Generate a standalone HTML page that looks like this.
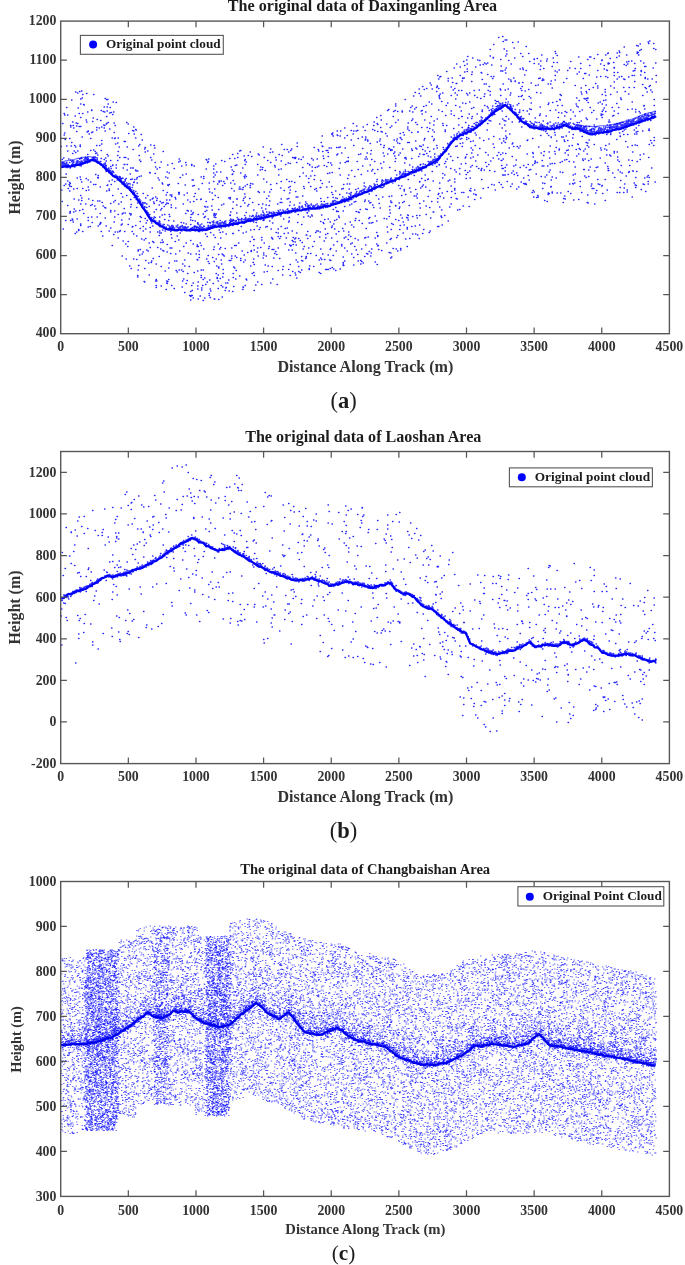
<!DOCTYPE html>
<html><head><meta charset="utf-8"><style>
html,body{margin:0;padding:0;background:#fff}
body{width:685px;height:1265px;overflow:hidden}
svg{display:block}
</style></head><body>
<svg width="685" height="1265" viewBox="0 0 685 1265" style="will-change:transform">
<style>
.tk{font:bold 13.8px "Liberation Serif",serif;fill:#333333}
.tt{font:bold 16px "Liberation Serif",serif;fill:#1c1c1c}
.al{font:bold 16px "Liberation Serif",serif;fill:#333333}
.lg{font:bold 13.2px "Liberation Serif",serif;fill:#1c1c1c}
.cap{font:bold 19px "Liberation Serif",serif;fill:#1c1c1c}
.par{font-weight:normal}
</style>
<path transform="scale(0.5)" d="M275 406h1M838 187h1M298 550h1M206 223h1M1251 283h1M561 432h1M911 211h1M286 504h1M920 278h1M1094 267h1M1289 145h1M781 359h1M542 458h1M402 551h1M1154 148h1M678 337h1M221 456h1M634 318h1M923 181h1M1195 172h1M161 235h1M533 424h1M1200 316h1M526 294h1M312 575h1M669 458h1M187 189h1M1129 283h1M489 388h1M228 246h1M151 422h1M677 295h1M1002 132h1M195 355h1M1188 117h1M1080 156h1M232 205h1M470 512h1M709 493h1M380 404h1M429 598h1M1242 199h1M641 361h1M1010 80h1M202 301h1M414 564h1M1005 238h1M909 340h1M1051 367h1M300 464h1M293 408h1M1058 360h1M1025 85h1M550 334h1M1311 126h1M413 421h1M194 434h1M879 197h1M715 261h1M849 240h1M168 210h1M783 405h1M508 479h1M541 325h1M497 409h1M1208 138h1M224 360h1M1268 366h1M955 120h1M1082 306h1M293 415h1M181 411h1M977 329h1M1027 156h1M1062 166h1M286 387h1M714 323h1M843 357h1M407 498h1M547 499h1M467 534h1M616 432h1M923 277h1M428 598h1M236 303h1M775 221h1M306 517h1M1055 280h1M1195 334h1M477 486h1M527 506h1M580 327h1M1165 318h1M1008 241h1M1054 222h1M795 223h1M782 459h1M962 340h1M712 500h1M251 488h1M564 311h1M859 303h1M632 511h1M286 453h1M614 426h1M716 277h1M731 490h1M326 303h1M202 317h1M1282 99h1M1301 241h1M265 370h1M369 520h1M766 306h1M426 567h1M1034 210h1M604 485h1M1277 110h1M311 394h1M726 254h1M185 243h1M581 492h1M848 179h1M175 309h1M1163 385h1M556 541h1M1228 222h1M1010 180h1M305 452h1M225 391h1M1085 377h1M655 301h1M1196 368h1M1273 268h1M923 233h1M340 390h1M980 183h1M945 260h1M656 539h1M319 434h1M312 559h1M703 341h1M322 466h1M597 318h1M160 290h1M816 349h1M1193 381h1M1236 340h1M690 403h1M595 394h1M171 408h1M415 325h1M677 463h1M641 375h1M906 180h1M135 362h1M753 488h1M617 496h1M143 200h1M834 249h1M202 221h1M568 381h1M793 475h1M557 339h1M810 199h1M580 373h1M583 298h1M781 402h1M1014 363h1M544 477h1M648 331h1M1180 334h1M1244 346h1M1214 141h1M141 251h1M612 470h1M644 415h1M1028 96h1M929 131h1M418 527h1M935 236h1M472 541h1M449 323h1M416 323h1M1087 137h1M1281 150h1M486 466h1M489 406h1M246 336h1M152 246h1M1204 189h1M444 508h1M1173 201h1M570 488h1M1065 277h1M335 356h1M1024 288h1M1189 342h1M623 317h1M1182 318h1M808 403h1M580 380h1M807 344h1M966 377h1M1130 223h1M565 550h1M591 506h1M232 336h1M736 474h1M1166 157h1M856 358h1M302 525h1M781 506h1M344 457h1M507 479h1M846 328h1M508 438h1M565 539h1M671 396h1M430 391h1M1257 188h1M1155 288h1M1289 133h1M1242 331h1M798 417h1M982 219h1M877 220h1M147 378h1M686 514h1M436 550h1M1296 351h1M1270 137h1M318 360h1M552 320h1M301 290h1M1233 207h1M867 298h1M1006 318h1M578 435h1M238 294h1M387 403h1M508 459h1M518 385h1M1111 107h1M128 227h1M1152 299h1M988 370h1M381 583h1M411 468h1M932 357h1M417 455h1M176 262h1M1289 356h1M815 430h1M1196 206h1M1289 218h1M311 442h1M828 392h1M920 134h1M882 433h1M919 419h1M731 475h1M289 537h1M641 516h1M504 474h1M1129 320h1M860 462h1M227 224h1M778 505h1M939 204h1M250 359h1M693 386h1M859 246h1M1170 198h1M249 329h1M1235 145h1M452 575h1M536 532h1M176 435h1M404 367h1M1005 375h1M1264 321h1M1210 401h1M780 255h1M1133 225h1M494 440h1M163 182h1M436 488h1M1014 363h1M1096 386h1M879 377h1M821 215h1M195 402h1M363 540h1M674 262h1M790 341h1M210 262h1M487 397h1M963 146h1M649 439h1M1248 129h1M216 245h1M384 360h1M212 248h1M388 453h1M893 251h1M322 324h1M435 368h1M694 502h1M975 149h1M164 196h1M640 375h1M934 138h1M425 515h1M798 359h1M1195 141h1M354 472h1M795 502h1M1285 262h1M1025 286h1M280 443h1M486 401h1M308 291h1M1138 323h1M1017 158h1M619 329h1M839 431h1M1049 368h1M432 518h1M273 415h1M253 391h1M767 324h1M538 493h1M694 368h1M256 318h1M1130 398h1M566 533h1M1162 176h1M448 512h1M486 574h1M556 496h1M964 159h1M1152 208h1M253 245h1M660 444h1M445 554h1M440 557h1M161 253h1M312 419h1M539 402h1M1135 281h1M842 293h1M1084 251h1M1010 350h1M850 302h1M436 577h1M1032 320h1M385 441h1M1173 186h1M1091 263h1M382 422h1M213 382h1M987 89h1M481 521h1M360 466h1M1081 271h1M267 518h1M1011 242h1M518 459h1M588 316h1M267 262h1M325 368h1M878 330h1M825 433h1M235 321h1M216 312h1M216 208h1M246 336h1M1030 162h1M1005 142h1M464 442h1M211 316h1M816 440h1M189 412h1M800 377h1M183 434h1M452 468h1M763 501h1M838 477h1M398 509h1M808 353h1M869 327h1M523 475h1M221 333h1M661 326h1M798 406h1M271 341h1M196 355h1M219 258h1M655 395h1M161 451h1M396 493h1M386 488h1M542 379h1M686 422h1M834 388h1M441 344h1M423 412h1M845 299h1M492 324h1M832 215h1M737 437h1M863 208h1M545 558h1M230 401h1M641 443h1M590 317h1M791 208h1M1150 348h1M567 438h1M750 524h1M174 264h1M606 498h1M991 207h1M136 377h1M606 314h1M873 291h1M486 375h1M742 301h1M590 546h1M690 325h1M742 506h1M1153 312h1M1192 335h1M931 245h1M300 495h1M877 453h1M504 547h1M382 591h1M1307 97h1M508 581h1M1274 291h1M282 269h1M418 591h1M1080 228h1M1028 349h1M479 552h1M443 410h1M175 224h1M777 219h1M771 267h1M1013 108h1M368 390h1M815 436h1M1018 296h1M933 279h1M530 341h1M1150 232h1M896 157h1M551 315h1M544 499h1M528 486h1M268 364h1M610 421h1M394 519h1M1172 355h1M159 318h1M531 454h1M221 407h1M618 539h1M145 307h1M701 488h1M1022 128h1M488 510h1M621 352h1M1229 355h1M545 446h1M1228 164h1M1204 371h1M986 288h1M937 277h1M815 254h1M791 411h1M700 444h1M667 490h1M980 112h1M1037 166h1M219 226h1M507 444h1M515 350h1M1037 193h1M1162 184h1M943 217h1M1133 301h1M929 144h1M1016 178h1M1003 331h1M267 254h1M1024 368h1M1193 238h1M1114 111h1M191 349h1M750 476h1M400 450h1M1300 171h1M603 449h1M1306 136h1M944 233h1M599 353h1M676 423h1M589 424h1M879 414h1M790 323h1M1266 142h1M176 441h1M438 362h1M580 380h1M544 533h1M467 343h1M379 591h1M632 377h1M1047 367h1M729 476h1M437 419h1M808 270h1M449 367h1M434 557h1M1068 127h1M537 497h1M1145 276h1M987 153h1M1052 335h1M606 346h1M161 359h1M875 151h1M741 512h1M156 216h1M191 307h1M580 529h1M201 241h1M1238 102h1M430 431h1M122 293h1M839 363h1M846 370h1M853 177h1M901 313h1M381 435h1M405 571h1M454 358h1M1070 324h1M1136 310h1M618 411h1M783 392h1M1247 175h1M1036 84h1M348 577h1M421 465h1M1213 300h1M703 450h1M1286 368h1M338 346h1M465 348h1M1031 330h1M289 298h1M507 491h1M1039 220h1M882 432h1M1169 147h1M971 325h1M1202 231h1M308 424h1M562 398h1M1077 294h1M931 314h1M290 295h1M592 520h1M894 383h1M863 403h1M1307 291h1M1147 400h1M1003 321h1M215 199h1M1221 172h1M485 336h1M877 158h1M1073 185h1M1007 350h1M943 237h1M866 424h1M968 168h1M131 441h1M864 178h1M778 393h1M471 558h1M407 357h1M490 394h1M1174 308h1M267 365h1M244 428h1M1139 136h1M717 309h1M461 521h1M1285 169h1M768 312h1M196 356h1M307 485h1M1011 112h1M831 245h1M1030 163h1M943 306h1M806 265h1M1115 211h1M1039 224h1M655 467h1M527 510h1M651 476h1M952 390h1M608 377h1M1306 234h1M620 472h1M420 595h1M1019 268h1M469 536h1M1216 341h1M1208 131h1M1004 337h1M689 276h1M768 291h1M161 448h1M1112 295h1M1013 275h1M673 295h1M465 451h1M815 285h1M273 358h1M343 571h1M385 428h1M767 295h1M711 403h1M180 453h1M762 263h1M1291 133h1M988 226h1M428 427h1M695 357h1M416 438h1M640 464h1M357 324h1M1114 125h1M873 324h1M1282 143h1M1178 150h1M326 484h1M319 462h1M925 156h1M1062 219h1M1273 91h1M215 370h1M428 434h1M1204 208h1M183 220h1M783 447h1M1024 217h1M407 353h1M388 371h1M1202 228h1M261 430h1M666 272h1M1288 369h1M434 555h1M663 455h1M899 360h1M646 312h1M1079 231h1M648 482h1M938 413h1M584 462h1M222 225h1M425 399h1M653 333h1M1236 227h1M577 539h1M1069 327h1M1210 326h1M486 575h1M154 438h1M621 373h1M687 369h1M1146 350h1M1010 140h1M645 293h1M1006 83h1M593 325h1M1136 383h1M466 555h1M334 504h1M420 446h1M849 277h1M357 480h1M1067 394h1M505 368h1M213 247h1M153 252h1M986 116h1M891 231h1M394 455h1M641 397h1M262 409h1M1195 109h1M218 362h1M501 367h1M1298 173h1M1218 288h1M158 253h1M212 343h1M1203 121h1M155 186h1M447 363h1M1274 323h1M1240 273h1M1099 316h1M469 491h1M466 439h1M1101 168h1M330 542h1M673 310h1M500 375h1M1188 250h1M1217 244h1M1240 375h1M797 441h1M464 340h1M841 192h1M678 435h1M1035 351h1M365 562h1M712 423h1M672 502h1M479 302h1M1109 303h1M975 126h1M367 493h1M1011 272h1M831 379h1M298 413h1M514 504h1M738 446h1M949 380h1M1141 123h1M917 237h1M242 357h1M1125 345h1M248 283h1M949 399h1M214 214h1M950 291h1M1087 160h1M710 477h1M577 397h1M161 408h1M653 374h1M902 395h1M1153 212h1M846 290h1M1120 344h1M909 380h1M729 403h1M315 495h1M465 467h1M124 319h1M855 359h1M793 282h1M901 337h1M824 301h1M303 446h1M184 445h1M541 369h1M658 296h1M1174 405h1M1102 275h1M1241 196h1M675 308h1M627 533h1M911 293h1M760 416h1M848 309h1M730 261h1M650 458h1M388 393h1M1080 139h1M354 544h1M266 336h1M1205 229h1M1095 332h1M146 251h1M1207 201h1M603 540h1M252 518h1M892 334h1M123 380h1M1100 221h1M209 224h1M214 309h1M1094 118h1M605 392h1M596 429h1M759 282h1M1067 249h1M541 566h1M962 145h1M1275 263h1M527 358h1M203 254h1M466 404h1M1298 258h1M351 416h1M636 299h1M679 403h1M1204 235h1M941 316h1M330 462h1M656 313h1M150 467h1M230 464h1M558 309h1M1270 290h1M603 513h1M964 220h1M976 310h1M327 502h1M1213 310h1M1073 395h1M1070 236h1M791 439h1M874 173h1M193 260h1M1096 168h1M501 532h1M275 342h1M427 332h1M1006 168h1M607 373h1M200 427h1M282 352h1M980 190h1M725 332h1M789 304h1M665 266h1M140 336h1M1094 403h1M1078 256h1M889 350h1M990 380h1M531 418h1M1049 150h1M236 476h1M141 441h1M1211 153h1M1021 160h1M444 594h1M1177 340h1M641 547h1M801 497h1M980 99h1M1072 348h1M1170 298h1M167 427h1M624 334h1M370 370h1M1093 122h1M1215 107h1M982 153h1M735 282h1M1193 154h1M677 432h1M661 326h1M467 573h1M271 259h1M1203 372h1M937 255h1M1255 219h1M137 318h1M752 391h1M1179 131h1M1138 264h1M993 203h1M474 398h1M449 443h1M833 431h1M329 429h1M755 473h1M967 281h1M924 255h1M1082 353h1M796 240h1M629 351h1M350 395h1M1097 206h1M633 382h1M342 469h1M618 537h1M858 465h1M1144 255h1M141 254h1M264 463h1M286 462h1M506 432h1M1022 163h1M326 381h1M1245 263h1M464 349h1M203 281h1M853 307h1M1089 401h1M800 306h1M1068 119h1M1026 342h1M1045 113h1M813 435h1M612 513h1M319 446h1M786 449h1M612 352h1M969 126h1M560 420h1M1059 218h1M791 412h1M926 412h1M673 423h1M145 244h1M418 378h1M740 287h1M800 451h1M208 256h1M713 252h1M292 446h1M597 533h1M801 430h1M533 397h1M1138 292h1M1210 179h1M258 438h1M271 276h1M586 475h1M551 503h1M664 345h1M758 407h1M300 455h1M322 572h1M754 284h1M172 240h1M501 460h1M912 344h1M647 447h1M781 301h1M382 429h1M943 149h1M879 154h1M340 496h1M1084 332h1M935 190h1M1298 261h1M1205 387h1M406 601h1M218 378h1M427 346h1M800 267h1M1058 228h1M443 321h1M945 300h1M1080 214h1M1211 110h1M1215 333h1M244 512h1M229 422h1M413 518h1M1118 140h1M508 551h1M690 296h1M225 229h1M248 329h1M1046 221h1M239 315h1M698 378h1M885 356h1M1012 233h1M157 400h1M1054 308h1M643 519h1M236 429h1M832 392h1M202 463h1M158 227h1M737 402h1M334 385h1M1211 200h1M652 301h1M799 414h1M1004 142h1M561 473h1M1280 319h1M383 331h1M512 445h1M446 539h1M427 354h1M839 407h1M366 408h1M431 328h1M934 128h1M850 361h1M753 235h1M166 326h1M706 247h1M135 411h1M508 500h1M358 388h1M1191 167h1M608 418h1M969 188h1M895 206h1M933 120h1M344 327h1M243 440h1M674 483h1M1282 141h1M1037 374h1M490 319h1M671 415h1M941 283h1M481 346h1M526 425h1M343 393h1M1174 239h1M271 451h1M544 436h1M589 315h1M999 248h1M1299 82h1M809 326h1M639 474h1M410 433h1M280 433h1M642 285h1M396 429h1M755 249h1M859 415h1M518 310h1M296 502h1M755 263h1M322 533h1M931 327h1M289 564h1M424 420h1M400 592h1M874 325h1M615 477h1M679 389h1M303 522h1M201 446h1M1213 261h1M316 356h1M288 480h1M554 569h1M528 384h1M927 385h1M749 261h1M325 501h1M1033 378h1M804 436h1M925 286h1M1084 161h1M304 376h1M580 551h1M1104 327h1M1183 225h1M1294 354h1M342 415h1M488 353h1M1237 215h1M1156 289h1M193 306h1M1050 182h1M470 331h1M686 525h1M144 438h1M836 264h1M1191 386h1M1280 226h1M615 463h1M1180 215h1M517 409h1M147 424h1M666 395h1M875 404h1M961 197h1M473 398h1M755 471h1M131 368h1M1126 274h1M575 418h1M734 419h1M211 416h1M778 297h1M1211 223h1M1044 173h1M774 272h1M447 408h1M293 500h1M658 364h1M818 261h1M643 430h1M855 295h1M1006 337h1M1268 260h1M1271 375h1M902 174h1M885 309h1M958 180h1M1304 184h1M1312 164h1M690 448h1M431 435h1M909 358h1M1213 269h1M1268 175h1M847 402h1M221 424h1M1097 271h1M1221 312h1M559 517h1M739 435h1M1298 289h1M1047 331h1M360 322h1M212 322h1M1271 224h1M1221 189h1M291 396h1M1127 397h1M763 336h1M1059 218h1M481 517h1M221 421h1M1257 123h1M1052 93h1M271 340h1M1311 99h1M665 389h1M332 579h1M403 580h1M768 437h1M1007 277h1M1085 366h1M290 304h1M662 296h1M825 468h1M735 280h1M261 399h1M1006 318h1M1021 213h1M1164 273h1M935 113h1M706 268h1M375 400h1M804 224h1M969 211h1M381 593h1M908 231h1M268 395h1M1040 236h1M490 329h1M388 545h1M312 571h1M990 201h1M347 442h1M1255 128h1M412 338h1M983 369h1M784 300h1M1269 268h1M1264 204h1M295 302h1M440 441h1M1030 219h1M442 571h1M808 379h1M1098 304h1M409 596h1M314 338h1M894 318h1M395 520h1M240 354h1M1249 368h1M840 416h1M911 198h1M1144 291h1M831 468h1M787 307h1M624 432h1M1160 363h1M595 418h1M181 364h1M1077 157h1M878 191h1M1120 325h1M1234 184h1M325 460h1M191 418h1M365 350h1M298 486h1M181 301h1M338 526h1M186 236h1M1040 237h1M259 532h1M563 405h1M1004 222h1M1109 265h1M414 473h1M1120 189h1M878 329h1M947 215h1M392 508h1M1131 248h1M284 508h1M750 432h1M242 450h1M565 539h1M417 318h1M502 503h1M979 341h1M372 486h1M209 251h1M176 360h1M1188 289h1M839 450h1M514 452h1M1085 158h1M959 121h1M562 338h1M637 332h1M195 310h1M586 489h1M139 372h1M175 319h1M146 444h1M702 385h1M206 412h1M439 452h1M981 322h1M581 301h1M1295 158h1M172 357h1M1161 137h1M176 374h1M803 279h1M437 536h1M147 256h1M553 509h1M496 311h1M1007 282h1M273 472h1M864 273h1M810 348h1M1066 381h1M528 315h1M556 458h1M427 363h1M374 561h1M972 128h1M478 378h1M256 483h1M466 467h1M577 304h1M165 377h1M869 308h1M333 400h1M725 297h1M808 450h1M333 566h1M726 526h1M1274 107h1M933 187h1M861 436h1M667 448h1M917 181h1M628 359h1M697 470h1M294 441h1M722 349h1M1124 211h1M1074 117h1M645 303h1M1130 306h1M375 421h1M273 519h1M1184 377h1M843 255h1M664 452h1M628 295h1M747 251h1M402 555h1M852 412h1M930 316h1M416 523h1M272 260h1M525 335h1M949 191h1M163 401h1M1235 314h1M1259 331h1M1228 303h1M1056 329h1M261 336h1M856 263h1M1161 127h1M274 355h1M530 530h1M140 423h1M1279 101h1M1255 294h1M279 510h1M264 358h1M406 428h1M295 391h1M799 343h1M743 498h1M1135 141h1M997 318h1M1204 223h1M1221 269h1M680 403h1M613 470h1M755 492h1M680 272h1M308 407h1M683 489h1M825 238h1M482 453h1M1066 307h1M884 223h1M801 276h1M199 402h1M896 442h1M1011 146h1M155 302h1M526 438h1M568 299h1M203 288h1M823 241h1M335 370h1M1005 306h1M702 261h1M1241 361h1M481 301h1M707 291h1M574 398h1M493 560h1M585 315h1M806 466h1M397 463h1M572 476h1M494 369h1M1265 342h1M959 297h1M1233 115h1M646 445h1M275 554h1M939 342h1M1272 264h1M1208 216h1M1219 255h1M1045 165h1M689 413h1M735 508h1M666 511h1M254 294h1M331 354h1M819 222h1M923 385h1M1220 117h1M415 445h1M139 382h1M663 385h1M307 308h1M1174 291h1M534 543h1M261 359h1M209 415h1M1173 197h1M1096 389h1M396 598h1M521 495h1M761 327h1M838 178h1M719 384h1M876 389h1M1169 352h1M1159 223h1M248 417h1M176 454h1M696 323h1M159 421h1M1114 144h1M1041 107h1M950 266h1M885 186h1M1065 330h1M1123 226h1M430 475h1M953 333h1M656 438h1M891 323h1M976 181h1M401 399h1M1064 385h1M500 483h1M814 458h1M140 367h1M1157 399h1M617 412h1M1121 386h1M403 576h1M265 261h1M161 198h1M236 276h1M465 583h1M1077 128h1M351 508h1M837 313h1M628 483h1M707 454h1M135 230h1M343 476h1M814 455h1M1177 353h1M516 308h1M1175 390h1M151 184h1M333 406h1M962 234h1M909 377h1M332 390h1M1277 251h1M708 404h1M773 438h1M1158 297h1M873 333h1M406 540h1M358 385h1M526 441h1M1096 209h1M839 308h1M653 539h1M893 143h1M1150 259h1M1269 127h1M1264 291h1M861 314h1M1273 343h1M745 339h1M584 417h1M336 371h1M909 364h1M1201 153h1M490 350h1M867 250h1M503 313h1M1042 364h1M284 415h1M1056 351h1M540 305h1M1034 293h1M593 556h1M974 260h1M824 212h1M1264 394h1M318 513h1M811 315h1M825 224h1M539 384h1M933 275h1M153 263h1M579 386h1M1058 340h1M1254 380h1M703 408h1M840 330h1M167 209h1M1070 322h1M492 353h1M799 459h1M187 369h1M390 387h1M647 317h1M1008 98h1M711 437h1M1110 270h1M276 500h1M1239 105h1M1211 291h1M833 298h1M315 464h1M1175 119h1M782 405h1M1216 106h1M562 322h1M492 558h1M336 407h1M1100 328h1M1213 140h1M207 250h1M710 441h1M262 428h1M386 596h1M783 252h1M1113 252h1M1038 244h1M1175 196h1M1276 92h1M571 329h1M1297 87h1M465 417h1M212 452h1M1039 243h1M605 335h1M318 410h1M852 429h1M411 569h1M909 177h1M159 183h1M1269 163h1M200 374h1M450 581h1M912 397h1M896 362h1M671 382h1M1052 141h1M200 447h1M578 442h1M592 490h1M1046 139h1M1041 177h1M799 348h1M1129 232h1M1104 386h1M806 444h1M1178 179h1M659 520h1M1027 332h1M839 292h1M1058 193h1M815 258h1M599 406h1M257 267h1M1176 406h1M314 397h1M924 162h1M201 445h1M458 582h1M741 405h1M765 375h1M441 495h1M645 508h1M466 361h1M1146 269h1M395 542h1M463 512h1M902 222h1M886 295h1M157 461h1M432 428h1M1170 318h1M324 480h1M148 398h1M841 376h1M797 310h1M902 274h1M1013 80h1M438 364h1M731 418h1M384 591h1M563 289h1M986 115h1M139 277h1M680 326h1M515 329h1M547 516h1M492 464h1M372 348h1M500 304h1M685 457h1M624 342h1M508 529h1M409 413h1M939 186h1M1228 151h1M151 305h1M765 394h1M507 518h1M1127 252h1M1098 344h1M334 344h1M279 289h1M1047 199h1M290 437h1M475 315h1M615 507h1M961 396h1M687 531h1M577 422h1M1010 209h1M321 498h1M1212 210h1M617 365h1M942 259h1M395 578h1M139 426h1M1150 137h1M142 373h1M816 246h1M637 302h1M614 425h1M1187 221h1M311 562h1M880 188h1M193 291h1M410 423h1M445 574h1M1088 303h1M229 434h1M595 524h1M183 221h1M276 502h1M1257 320h1M488 312h1M1269 141h1M1086 242h1M525 408h1M214 222h1M1154 245h1M922 222h1M696 479h1M890 263h1M671 541h1M160 293h1M277 292h1M185 401h1M666 419h1M481 413h1M660 499h1M230 251h1M324 430h1M690 448h1M1298 355h1M408 435h1M753 465h1M731 278h1M181 277h1M844 228h1M663 373h1M1265 304h1M1283 242h1M707 530h1M607 434h1M150 232h1M463 377h1M638 520h1M371 325h1M791 317h1M177 398h1M1238 323h1M1074 325h1M1287 126h1M1166 321h1M1252 352h1M779 413h1M415 414h1M300 400h1M1105 205h1M1171 171h1M892 211h1M880 393h1M1167 339h1M291 477h1M472 448h1M290 406h1M905 165h1M823 453h1M749 323h1M367 446h1M591 476h1M1003 286h1M1024 313h1M985 157h1M809 316h1M214 371h1M291 477h1M762 240h1M623 430h1M418 587h1M1253 124h1M976 216h1M1114 386h1M718 425h1M559 477h1M1301 180h1M157 459h1M154 377h1M812 318h1M1228 135h1M406 559h1M130 279h1M323 417h1M998 365h1M413 320h1M1005 350h1M139 365h1M828 351h1M868 242h1M1186 175h1M1247 385h1M1111 220h1M1249 159h1M707 391h1M288 563h1M337 441h1M224 276h1M1110 308h1M556 473h1M325 485h1M1181 114h1M479 374h1M227 469h1M942 296h1M851 374h1M461 366h1M213 233h1M358 540h1M505 405h1M1002 369h1M245 394h1M619 330h1M526 516h1M441 476h1M664 269h1M1145 367h1M1116 235h1M633 462h1M1296 231h1M476 438h1M803 391h1M1240 272h1M1100 244h1M661 521h1M460 395h1M773 248h1M318 442h1M884 450h1M256 248h1M941 382h1M231 288h1M933 309h1M1157 308h1M1250 183h1M1009 250h1M590 484h1M1128 280h1M974 213h1M1146 224h1M864 343h1M733 507h1M959 276h1M971 305h1M516 383h1M847 213h1M1087 332h1M885 247h1M1287 308h1M1147 324h1M787 294h1M337 536h1M862 233h1M370 454h1M877 387h1M693 323h1M928 156h1M326 405h1M791 212h1M283 478h1M611 404h1M683 306h1M1270 370h1M877 177h1M940 356h1M521 334h1M987 273h1M589 365h1M1227 125h1M491 435h1M823 265h1M829 218h1M754 247h1M586 483h1M360 355h1M1271 219h1M190 303h1M446 547h1M1168 339h1M924 293h1M191 369h1M583 363h1M794 278h1M1297 260h1M1013 102h1M165 227h1M341 463h1M902 408h1M235 354h1M907 257h1M208 214h1M133 292h1M313 562h1M873 183h1M914 279h1M1110 160h1M535 429h1M731 274h1M1110 151h1M673 422h1M644 367h1M981 242h1M935 345h1M1221 250h1M619 532h1M1271 355h1M364 574h1M891 301h1M278 311h1M1153 196h1M686 377h1M580 404h1M455 566h1M734 318h1M375 547h1M1061 339h1M831 282h1M374 421h1M229 277h1M535 321h1M303 320h1M585 543h1M1263 122h1M830 185h1M915 315h1M732 314h1M675 271h1M902 372h1M224 491h1M333 562h1M1287 212h1M1123 274h1M446 510h1M549 331h1M1040 138h1M1234 158h1M506 525h1M1117 225h1M847 459h1M468 382h1M246 426h1M944 144h1M978 173h1M730 400h1M816 359h1M597 477h1M372 567h1M584 500h1M846 309h1M688 404h1M620 434h1M689 496h1M433 532h1M612 515h1M1107 125h1M1225 346h1M902 191h1M1113 282h1M398 502h1M265 453h1M351 398h1M149 291h1M844 373h1M617 357h1M235 311h1M1052 369h1M1218 127h1M274 366h1M787 223h1M228 444h1M1308 211h1M1065 305h1M1037 207h1M1228 136h1M439 498h1M419 560h1M1100 340h1M1167 302h1M339 400h1M127 316h1M879 366h1M972 168h1M1221 266h1M369 585h1M922 328h1M845 173h1M778 433h1M914 190h1M687 462h1M1195 176h1M804 222h1M331 409h1M142 292h1M1158 201h1M301 315h1M779 335h1M867 281h1M749 347h1M465 309h1M458 521h1M532 512h1M172 381h1M1104 176h1M573 359h1M641 528h1M951 134h1M1308 281h1M1090 354h1M1216 337h1M443 528h1M917 250h1M1157 114h1M723 498h1M755 339h1M250 283h1M437 599h1M775 308h1M1177 294h1M472 491h1M152 331h1M748 244h1M908 136h1M353 522h1M600 481h1M763 362h1M827 192h1M126 458h1M943 163h1M947 388h1M1118 298h1M747 415h1M339 433h1M1164 220h1M440 465h1M1089 367h1M1310 364h1M250 362h1M779 420h1M254 340h1M570 457h1M561 376h1M343 496h1M489 356h1M1206 220h1M462 334h1M740 330h1M818 285h1M680 294h1M196 452h1M996 203h1M359 502h1M839 364h1M1285 191h1M1227 231h1M1282 379h1M616 417h1M1187 377h1M235 356h1M239 463h1M443 410h1M502 501h1M507 420h1M1162 242h1M1214 380h1M663 330h1M1239 266h1M545 304h1M674 270h1M868 278h1M469 368h1M1023 346h1M132 348h1M215 199h1M1292 177h1M757 499h1M886 251h1M957 337h1M890 260h1M1021 186h1M553 367h1M1281 122h1M185 264h1M269 359h1M1239 385h1M393 399h1M600 545h1M437 534h1M883 420h1M451 576h1M1308 199h1M1235 320h1M390 442h1M420 578h1M395 572h1M451 566h1M1066 314h1M442 520h1M868 264h1M1296 368h1M899 414h1M520 340h1M520 455h1M1195 359h1M409 556h1M1175 286h1M711 379h1M357 385h1M725 386h1M754 359h1M1133 157h1M334 567h1M819 376h1M683 378h1M539 442h1M1106 116h1M1243 153h1M704 486h1M280 457h1M843 342h1M1110 142h1M384 581h1M1252 131h1M920 151h1M1234 385h1M944 253h1M897 308h1M1104 354h1M1147 360h1M385 372h1M952 270h1M1274 104h1M603 521h1M656 305h1M511 570h1M1040 335h1M432 547h1M128 270h1M866 362h1M664 535h1M562 363h1M365 528h1M1093 350h1M862 170h1M615 327h1M459 317h1M948 181h1M792 498h1M402 398h1M427 338h1M797 371h1M835 470h1M808 382h1M1182 372h1M745 410h1M559 429h1M697 402h1M402 491h1M460 398h1M487 524h1M205 472h1M318 471h1M398 515h1M1141 238h1M680 538h1M823 298h1M396 564h1M954 195h1M724 274h1M1047 356h1M988 295h1M277 531h1M830 452h1M1010 342h1M1084 321h1M835 264h1M421 582h1M1071 171h1M246 482h1M138 369h1M964 223h1M1209 298h1M1303 286h1M786 233h1M1171 147h1M450 497h1M936 394h1M1248 376h1M1062 206h1M983 130h1M508 581h1M883 435h1M319 466h1M341 507h1M1225 232h1M143 285h1M225 330h1M1076 394h1M453 355h1M178 268h1M429 378h1M1175 197h1M311 334h1M985 212h1M584 481h1M874 296h1M859 257h1M636 462h1M148 302h1M577 375h1M718 441h1M1001 309h1M860 166h1M416 511h1M261 414h1M140 426h1M321 420h1M266 299h1M682 405h1M1150 171h1M1172 183h1M591 550h1M734 306h1M661 497h1M1158 144h1M735 342h1M221 321h1M473 515h1M141 320h1M532 410h1M638 545h1M938 228h1M523 416h1M1233 279h1M1257 154h1M742 446h1M1104 133h1M605 522h1M852 211h1M622 417h1M124 325h1M686 531h1M738 388h1M213 199h1M669 441h1M381 481h1M235 286h1M743 319h1M651 469h1M334 489h1M1266 342h1M568 467h1M256 449h1M1012 136h1M574 456h1M905 321h1M1013 330h1M681 262h1M1081 132h1M753 442h1M1083 260h1M875 453h1M1038 166h1M1234 304h1M481 378h1M649 412h1M1127 243h1M968 193h1M680 350h1M589 478h1M398 458h1M1005 73h1M608 493h1M903 383h1M428 494h1M489 321h1M1057 179h1M994 311h1M1081 186h1M1076 170h1M913 128h1M1057 107h1M977 278h1M196 351h1M962 341h1M1290 155h1M629 379h1M910 186h1M788 280h1M369 532h1M774 454h1M910 387h1M689 256h1M1312 151h1M1102 162h1M730 318h1M904 156h1M208 319h1M1132 246h1M262 537h1M248 315h1M795 286h1M954 228h1M1068 118h1M1101 374h1M424 386h1M1172 236h1M595 445h1M775 464h1M919 337h1M634 418h1M1139 368h1M850 350h1M483 437h1M355 450h1M193 255h1M461 443h1M934 143h1M884 386h1M319 335h1M242 404h1M594 293h1M260 348h1M184 409h1M352 541h1M164 274h1M1228 145h1M165 419h1M1070 244h1M272 342h1M651 539h1M376 506h1M963 359h1M924 233h1M648 403h1M822 348h1M244 448h1M556 466h1M492 425h1M1307 87h1M883 203h1M1258 343h1M1112 356h1M531 435h1M1219 244h1M1240 344h1M703 399h1M741 308h1M538 411h1M756 491h1M699 410h1M963 337h1M1280 310h1M834 396h1M267 468h1M383 571h1M1160 299h1M1238 112h1M212 331h1M358 318h1M1264 218h1M1122 191h1M874 172h1M859 381h1M856 312h1M1001 142h1M925 206h1M199 291h1M1017 121h1M1044 191h1M707 262h1M321 485h1M1210 184h1M941 377h1M1129 392h1M250 426h1M469 317h1M716 522h1M533 364h1M1301 281h1M309 296h1M220 215h1M1177 321h1M338 429h1M656 510h1M1280 88h1M154 356h1M187 300h1M881 308h1M343 390h1M764 264h1M1228 176h1M1127 165h1M716 480h1M912 167h1M429 428h1M723 523h1M537 392h1M761 289h1M1110 103h1M1016 349h1M516 512h1M986 316h1M914 292h1M460 430h1M259 427h1M734 249h1M254 329h1M356 367h1M1043 181h1M199 449h1M1257 345h1M660 537h1M1202 300h1M951 322h1M773 486h1M1150 334h1M964 236h1M523 569h1M811 478h1M386 360h1M999 278h1M617 422h1M1228 306h1M777 298h1M323 406h1M484 502h1M1303 336h1M457 396h1M834 436h1M485 379h1M691 474h1M663 268h1M939 381h1M945 116h1M445 464h1M712 262h1M461 424h1M721 528h1M975 247h1M133 215h1M1043 254h1M925 157h1M1283 240h1M805 405h1M875 397h1M372 330h1M625 493h1M1020 190h1M1011 307h1M1068 384h1M672 468h1M1211 191h1M1294 184h1M913 167h1M348 337h1M881 153h1M697 464h1M445 371h1M1268 151h1M819 330h1M1201 296h1M696 322h1M1119 199h1M1087 311h1M781 516h1M889 327h1M963 146h1M644 272h1M284 280h1M805 298h1M328 413h1M1253 110h1M255 493h1M381 508h1M226 204h1M856 393h1M362 445h1M312 528h1M282 435h1M1247 158h1M989 229h1M1146 368h1M716 377h1M1037 296h1M515 564h1M721 308h1M592 394h1M716 339h1M667 538h1M1304 158h1M489 406h1M397 378h1M699 368h1M214 340h1M686 528h1M1136 300h1M745 259h1M889 431h1M1272 371h1M1000 178h1M338 369h1M591 315h1M485 579h1M1010 285h1M310 435h1M707 515h1M919 214h1M430 350h1M716 424h1M597 543h1M1017 238h1M593 466h1M944 331h1M495 412h1M402 354h1M490 372h1M459 446h1M579 490h1M428 523h1M1181 260h1M1081 122h1M433 344h1M709 353h1M696 315h1M163 396h1M1238 154h1M1001 180h1M1004 256h1M1021 373h1M457 560h1M366 543h1M310 347h1M634 334h1M1083 110h1M534 453h1M1075 391h1M760 278h1M394 493h1M297 526h1M1124 323h1M1278 223h1M1264 151h1M427 470h1M1179 114h1M1141 220h1M1149 366h1M1178 280h1M265 336h1M543 475h1M526 431h1M552 465h1M304 398h1M1168 197h1M701 473h1M948 247h1M210 436h1M1217 341h1M1033 346h1M1162 253h1M588 410h1M281 323h1M941 334h1M946 282h1M306 396h1M1254 384h1M473 410h1M342 410h1M655 347h1M1201 128h1M644 292h1M549 507h1M242 387h1M803 372h1M720 419h1M436 395h1M1045 136h1M1102 373h1M799 287h1M642 415h1M951 389h1M630 335h1M490 571h1M374 386h1M160 354h1M683 492h1M885 347h1M937 251h1M475 307h1M594 286h1M376 422h1M743 342h1M378 533h1M499 397h1M388 332h1M1021 210h1M780 479h1M1172 285h1M1248 260h1M1170 253h1M438 460h1M313 401h1M395 446h1M232 330h1M801 500h1M1308 275h1M663 476h1M1219 310h1M350 483h1M715 509h1M915 420h1M177 380h1M381 449h1M1126 405h1M386 566h1M278 353h1M381 600h1M249 463h1M745 445h1M225 331h1M781 299h1M896 162h1M218 381h1M436 562h1M795 471h1M1133 319h1M1290 157h1M791 245h1M968 340h1M1188 268h1M1224 215h1M544 499h1M1216 126h1M728 366h1M161 208h1M1098 387h1M800 275h1M1288 211h1M280 499h1M955 310h1M578 363h1M394 490h1M495 505h1M1210 359h1M163 364h1M183 265h1M477 461h1M173 244h1M1234 106h1M532 430h1M251 315h1M865 260h1M786 497h1M237 408h1M151 294h1M976 375h1M673 439h1M702 280h1M229 363h1M1163 188h1M1011 262h1M523 480h1M198 256h1M576 466h1M165 189h1M1225 260h1M1189 408h1M320 403h1M1296 84h1M1291 383h1M1020 190h1M927 123h1M541 298h1M631 465h1M145 440h1M228 265h1M585 315h1M1012 278h1M823 317h1M831 296h1M914 398h1M1042 193h1M1176 205h1M930 341h1M611 517h1M1281 122h1M176 263h1M153 464h1M442 362h1M819 477h1M1160 373h1M357 388h1M227 404h1M545 478h1M161 391h1M275 551h1M442 456h1M1100 292h1M218 462h1M997 305h1M730 280h1M902 228h1M1113 203h1M920 287h1M305 483h1M1276 105h1M821 384h1M1120 200h1M1109 327h1M349 522h1M656 325h1M411 414h1M1001 119h1M887 396h1M738 503h1M978 241h1M1272 256h1M299 345h1M1102 360h1M591 383h1M367 558h1M1296 363h1M649 519h1M363 332h1M789 312h1M694 271h1M329 439h1M724 447h1M1001 191h1M659 346h1M307 404h1M814 493h1M1002 321h1M1104 384h1M1215 155h1M500 371h1M1078 245h1M1247 269h1M155 247h1M602 319h1M790 221h1M412 319h1M264 454h1M721 521h1M279 320h1M194 239h1M473 426h1M418 366h1M574 299h1M1102 274h1M728 372h1M783 514h1M577 444h1M371 427h1M235 464h1M932 349h1M1029 116h1M878 194h1M858 204h1M310 325h1M761 255h1M555 408h1M1297 315h1M818 411h1M135 302h1M463 496h1M276 540h1M507 545h1M1133 247h1M125 247h1M582 491h1M689 522h1M1200 204h1M1299 238h1M210 197h1M560 405h1M337 559h1M490 520h1M381 440h1M577 500h1M557 350h1M1118 300h1M324 366h1M240 461h1M621 507h1M816 431h1M1022 214h1M427 430h1M754 529h1M463 517h1M427 499h1M997 75h1M989 343h1M1199 369h1M576 326h1M528 544h1M926 271h1M129 230h1M782 477h1M848 280h1M129 266h1M854 255h1M761 231h1M764 360h1M148 418h1M1059 123h1M867 424h1M732 457h1M268 268h1M402 540h1M466 547h1M201 323h1M641 498h1M919 348h1M844 221h1M1027 293h1M992 217h1M626 320h1M1092 232h1M1258 175h1M697 350h1M845 467h1M386 425h1M473 330h1M165 463h1M515 496h1M1054 281h1M437 509h1M1218 240h1M1183 368h1M1040 292h1M1263 244h1M1216 128h1M966 129h1M562 453h1M946 314h1M335 330h1M291 458h1M335 563h1M931 207h1M873 175h1M842 222h1M874 238h1M780 426h1M383 329h1M291 521h1M1255 269h1M222 369h1M524 339h1M1010 335h1M757 398h1M1248 94h1M1141 387h1M1132 272h1M1182 259h1M559 428h1M173 187h1M739 406h1M204 405h1M300 346h1M688 476h1M703 508h1M1024 244h1M1156 214h1M811 389h1M230 276h1M1290 175h1M1204 120h1M419 384h1M124 403h1M400 486h1M236 378h1M711 379h1M1061 196h1M973 333h1M412 403h1M851 224h1M128 371h1M960 130h1M800 345h1M729 513h1" stroke="#0000ff" stroke-width="2.6" stroke-opacity="0.85" stroke-linecap="round" fill="none"/>
<polyline points="60.7,167.3 62.2,167.0 63.7,166.4 65.2,166.4 66.7,166.5 68.2,166.2 69.7,166.4 71.2,166.3 72.7,165.7 74.2,165.5 75.7,164.9 77.2,164.9 78.7,165.0 80.2,164.5 81.7,163.5 83.2,163.3 84.7,163.0 86.2,162.0 87.7,162.0 89.2,161.3 90.7,160.1 92.2,160.0 93.7,160.0 95.2,160.6 96.7,161.9 98.2,162.5 99.7,163.3 101.2,164.4 102.7,165.6 104.2,167.4 105.7,168.9 107.2,170.0 108.7,171.2 110.2,172.7 111.7,174.5 113.2,176.1 114.7,176.7 116.2,177.1 117.7,178.4 119.2,180.1 120.7,181.3 122.2,182.6 123.7,184.1 125.2,185.5 126.7,187.0 128.2,188.1 129.7,189.2 131.2,191.3 132.7,192.8 134.2,194.1 135.7,196.7 137.2,199.2 138.7,201.4 140.2,203.3 141.7,205.7 143.2,208.3 144.7,209.9 146.2,212.5 147.7,215.1 149.2,217.4 150.7,219.3 152.2,220.5 153.7,221.2 155.2,222.2 156.7,223.6 158.2,224.2 159.7,225.4 161.2,226.1 162.7,226.4 164.2,227.8 165.7,228.8 167.2,229.3 168.7,229.3 170.2,229.1 171.7,229.7 173.2,230.0 174.7,230.1 176.2,230.4 177.7,230.3 179.2,229.6 180.7,229.6 182.2,229.7 183.7,229.7 185.2,230.1 186.7,230.4 188.2,230.1 189.7,229.7 191.2,229.5 192.7,230.0 194.2,229.9 195.7,230.0 197.2,230.0 198.7,229.8 200.2,229.8 201.7,230.0 203.2,229.9 204.7,229.4 206.2,230.0 207.7,229.5 209.2,228.6 210.7,228.1 212.2,227.6 213.7,226.9 215.2,226.5 216.7,226.7 218.2,226.5 219.7,226.3 221.2,226.2 222.7,226.2 224.2,226.0 225.7,225.5 227.2,225.1 228.7,225.3 230.2,224.9 231.7,224.0 233.2,223.8 234.7,223.9 236.2,223.8 237.7,223.5 239.2,223.0 240.7,222.5 242.2,222.3 243.7,222.6 245.2,222.1 246.7,221.3 248.2,220.7 249.7,220.6 251.2,220.7 252.7,220.2 254.2,219.1 255.7,218.9 257.2,219.2 258.7,218.7 260.2,218.5 261.7,218.2 263.2,217.7 264.7,217.5 266.2,217.1 267.7,216.6 269.2,216.5 270.7,216.2 272.2,215.9 273.7,215.5 275.2,215.2 276.7,214.7 278.2,214.1 279.7,213.6 281.2,213.1 282.7,212.8 284.2,212.4 285.7,212.3 287.2,212.2 288.7,212.0 290.2,211.5 291.7,210.9 293.2,210.8 294.7,210.7 296.2,210.3 297.7,210.0 299.2,210.5 300.7,210.5 302.2,210.1 303.7,209.5 305.2,209.3 306.7,209.0 308.2,208.3 309.7,208.2 311.2,208.6 312.7,208.6 314.2,208.4 315.7,208.4 317.2,208.0 318.7,207.6 320.2,207.5 321.7,207.2 323.2,206.8 324.7,206.2 326.2,206.2 327.7,206.3 329.2,206.0 330.7,205.4 332.2,204.6 333.7,204.2 335.2,203.8 336.7,203.5 338.2,202.9 339.7,202.5 341.2,202.0 342.7,201.0 344.2,200.3 345.7,200.1 347.2,199.8 348.7,199.3 350.2,198.4 351.7,197.5 353.2,196.5 354.7,196.3 356.2,195.9 357.7,195.1 359.2,194.7 360.7,194.4 362.2,193.3 363.7,192.3 365.2,192.1 366.7,192.1 368.2,191.5 369.7,190.4 371.2,189.7 372.7,189.0 374.2,188.3 375.7,187.8 377.2,187.1 378.7,186.4 380.2,185.9 381.7,185.0 383.2,184.5 384.7,183.9 386.2,183.0 387.7,182.7 389.2,182.1 390.7,181.3 392.2,180.9 393.7,180.5 395.2,180.0 396.7,178.9 398.2,178.3 399.7,177.9 401.2,177.1 402.7,176.6 404.2,176.4 405.7,175.9 407.2,174.9 408.7,173.7 410.2,172.7 411.7,172.1 413.2,172.1 414.7,171.9 416.2,170.8 417.7,170.3 419.2,169.8 420.7,169.0 422.2,168.1 423.7,167.6 425.2,167.1 426.7,165.9 428.2,165.1 429.7,164.5 431.2,163.6 432.7,162.8 434.2,161.9 435.7,161.1 437.2,160.1 438.7,158.5 440.2,156.5 441.7,155.2 443.2,153.2 444.7,151.7 446.2,150.2 447.7,147.8 449.2,145.5 450.7,143.3 452.2,141.5 453.7,140.1 455.2,138.5 456.7,137.6 458.2,136.6 459.7,135.4 461.2,134.9 462.7,134.2 464.2,133.3 465.7,133.1 467.2,132.6 468.7,131.6 470.2,131.3 471.7,130.2 473.2,129.2 474.7,128.6 476.2,127.3 477.7,126.5 479.2,125.2 480.7,124.1 482.2,123.0 483.7,121.4 485.2,120.1 486.7,118.8 488.2,117.3 489.7,116.1 491.2,114.7 492.7,113.3 494.2,112.0 495.7,110.9 497.2,110.1 498.7,109.2 500.2,108.8 501.7,107.6 503.2,106.3 504.7,105.1 506.2,105.8 507.7,107.1 509.2,108.3 510.7,109.9 512.2,111.2 513.7,112.9 515.2,114.0 516.7,115.5 518.2,117.8 519.7,119.4 521.2,120.9 522.7,122.0 524.2,122.7 525.7,123.5 527.2,124.4 528.7,125.9 530.2,127.2 531.7,127.5 533.2,127.5 534.7,127.5 536.2,127.7 537.7,128.3 539.2,128.9 540.7,128.9 542.2,128.4 543.7,128.4 545.2,128.8 546.7,128.5 548.2,128.5 549.7,128.9 551.2,128.5 552.7,128.5 554.2,129.0 555.7,128.3 557.2,127.4 558.7,127.4 560.2,127.2 561.7,126.4 563.2,125.4 564.7,124.9 566.2,125.5 567.7,126.5 569.2,127.1 570.7,127.7 572.2,128.7 573.7,128.8 575.2,128.3 576.7,127.9 578.2,128.7 579.7,129.5 581.2,130.2 582.7,131.0 584.2,131.8 585.7,132.5 587.2,133.1 588.7,133.7 590.2,134.2 591.7,134.4 593.2,134.2 594.7,133.7 596.2,133.1 597.7,132.6 599.2,132.3 600.7,132.5 602.2,132.7 603.7,132.3 605.2,132.0 606.7,132.1 608.2,131.9 609.7,131.4 611.2,131.0 612.7,130.2 614.2,129.8 615.7,129.5 617.2,128.8 618.7,129.3 620.2,129.0 621.7,128.3 623.2,127.9 624.7,127.3 626.2,126.6 627.7,126.2 629.2,125.7 630.7,125.0 632.2,124.7 633.7,124.0 635.2,123.5 636.7,123.0 638.2,122.4 639.7,122.1 641.2,121.4 642.7,121.1 644.2,120.5 645.7,119.6 647.2,119.0 648.7,119.2 650.2,118.8 651.7,117.7 653.2,117.4 654.7,116.8 655.6,116.8" fill="none" stroke="#0000ee" stroke-width="2.2" stroke-linejoin="round"/>
<polyline points="60.7,161.7 62.2,161.8 63.7,161.5 65.2,160.9 66.7,160.9 68.2,160.5 69.7,160.3 71.2,160.2 72.7,159.9 74.2,159.6 75.7,159.0 77.2,158.4 78.7,158.4 80.2,158.5 81.7,157.6 83.2,157.3 84.7,157.9 86.2,157.5 87.7,156.6 89.2,156.6 90.7,156.7 92.2,157.3 93.7,157.8 94.5,158.1" fill="none" stroke="#0000ff" stroke-width="1.1" stroke-opacity="0.6" stroke-linejoin="round"/>
<polyline points="576.0,124.9 577.5,124.4 579.0,124.7 580.5,125.5 582.0,125.4 583.5,125.8 585.0,126.5 586.5,126.2 588.0,126.1 589.5,126.4 591.0,126.4 592.5,126.6 594.0,126.8 595.5,127.0 597.0,126.7 598.5,126.1 600.0,125.8 601.5,125.8 603.0,125.7 604.5,125.7 606.0,125.9 607.5,125.4 609.0,124.9 610.5,124.7 612.0,124.6 613.5,124.3 615.0,123.9 616.5,123.5 618.0,123.2 619.5,123.0 621.0,122.2 622.5,121.8 624.0,121.6 625.5,120.9 627.0,120.1 628.5,120.2 630.0,119.8 631.5,119.2 633.0,118.9 634.5,118.0 636.0,117.5 637.5,117.1 639.0,116.2 640.5,115.6 642.0,115.0 643.5,114.6 645.0,113.8 646.5,113.2 648.0,113.0 649.5,112.6 651.0,112.6 652.5,112.0 654.0,111.4 655.5,111.2 655.6,111.4" fill="none" stroke="#0000ff" stroke-width="1.1" stroke-opacity="0.6" stroke-linejoin="round"/>
<path transform="scale(0.5)" d="M173 319h1M858 330h1M159 317h1M224 342h1M949 258h1M343 454h1M598 420h1M1276 239h1M1149 254h1M292 425h1M372 458h1M937 262h1M779 363h1M161 328h1M583 425h1M1267 244h1M463 440h1M727 379h1M858 324h1M407 452h1M563 426h1M1165 256h1M826 343h1M330 455h1M538 433h1M211 339h1M427 442h1M948 257h1M640 417h1M533 434h1M1068 248h1M508 436h1M133 325h1M993 218h1M565 420h1M933 260h1M836 334h1M428 455h1M346 460h1M1301 236h1M602 414h1M907 281h1M233 352h1M1094 258h1M190 314h1M1177 266h1M1020 215h1M483 443h1M1174 261h1M156 322h1M1004 209h1M845 333h1M414 456h1M281 402h1M819 347h1M642 403h1M527 431h1M327 453h1M273 392h1M443 451h1M398 459h1M597 420h1M803 350h1M1036 234h1M1244 256h1M224 343h1M472 441h1M325 454h1M861 325h1M715 391h1M626 414h1M1124 256h1M266 389h1M1051 244h1M832 344h1M1159 254h1M1292 239h1M984 231h1M1144 258h1M370 456h1M698 399h1M471 444h1M843 338h1M1010 211h1M813 349h1M886 305h1M1119 249h1M1039 237h1M159 327h1M457 453h1M629 412h1M1120 252h1M490 442h1M383 461h1M1307 236h1M768 372h1M642 409h1M1152 258h1M610 417h1M161 331h1M1174 266h1M1281 245h1M567 422h1M716 388h1M508 435h1M688 397h1M875 318h1M798 357h1M1278 246h1M536 429h1M341 454h1M916 272h1M1125 245h1M421 451h1M643 409h1M1067 255h1M840 335h1M1241 258h1M1123 247h1M390 462h1M177 322h1M635 417h1M146 333h1M734 380h1M433 444h1M738 380h1M793 350h1M828 344h1M880 316h1M1087 261h1M984 229h1M647 409h1M239 355h1M828 339h1M428 455h1M953 250h1M591 421h1M751 376h1M195 323h1M956 250h1M871 322h1M895 294h1M1252 254h1M508 438h1M149 331h1M391 453h1M845 333h1M476 439h1M281 406h1M450 451h1M503 438h1M811 347h1M526 437h1M949 255h1M1019 217h1M212 337h1M612 418h1M712 394h1M489 431h1M496 439h1M546 424h1M547 430h1M404 462h1M971 240h1M1237 259h1M441 446h1M247 364h1M872 319h1M711 391h1M941 264h1M806 349h1M476 446h1M983 224h1M157 330h1M842 339h1M906 276h1M598 413h1M630 418h1M440 453h1M738 376h1M909 275h1M788 362h1M500 443h1M766 362h1M497 442h1M1219 258h1M660 412h1M317 451h1M684 402h1M1199 265h1M1125 247h1M951 249h1M620 416h1M477 442h1M722 383h1M1246 256h1M1040 234h1M332 456h1M545 430h1M392 457h1M259 380h1M362 460h1M182 321h1M523 433h1M1014 210h1M1228 259h1M654 411h1M191 320h1M437 449h1M900 288h1M252 357h1M1216 260h1M532 431h1M1169 259h1M369 458h1M511 433h1M848 333h1M680 405h1M811 343h1M416 451h1M464 449h1M945 260h1M171 325h1M332 454h1M124 333h1M1103 252h1M819 348h1M1147 248h1M150 332h1M1242 257h1M1032 228h1M1137 250h1M709 390h1M1251 250h1M834 341h1M201 330h1M874 317h1M962 240h1M1125 253h1M1306 233h1M700 396h1M837 337h1M1003 213h1M1114 253h1M638 415h1M575 427h1M312 446h1M432 445h1M503 440h1M134 331h1M451 442h1M729 386h1M1169 258h1M1254 250h1M338 460h1M1067 255h1M803 353h1M685 399h1M1302 230h1M654 414h1M1144 259h1M1178 265h1M924 265h1M506 440h1M466 450h1M521 432h1M199 328h1M1244 251h1M701 391h1M521 439h1M1110 256h1M492 444h1M1073 252h1M712 392h1M919 268h1M655 408h1M477 447h1M299 434h1M770 362h1M981 231h1M1236 247h1M627 415h1M1032 228h1M245 357h1M399 454h1M915 276h1M889 304h1M1009 211h1M605 420h1M1284 243h1M395 446h1M962 243h1M435 444h1M272 399h1M439 447h1M431 450h1M152 328h1M286 416h1M1096 258h1M1248 251h1M825 343h1M490 439h1M513 426h1M400 459h1M1209 265h1M373 460h1M701 395h1M654 407h1M696 399h1M674 406h1M1280 241h1M277 400h1M723 381h1M197 323h1M971 240h1M1060 254h1M797 358h1M1082 248h1M416 454h1M998 211h1M598 421h1M924 270h1M975 237h1M405 455h1M212 339h1M1103 254h1M999 210h1M598 414h1M697 393h1M168 326h1M422 453h1M592 421h1M486 443h1M1173 267h1M188 316h1M285 411h1M615 410h1M405 455h1M731 374h1M645 411h1M515 433h1M1153 250h1M1129 245h1M217 345h1M1295 235h1M676 404h1M1272 243h1M500 438h1M933 261h1M412 456h1M1309 231h1M646 416h1M1113 251h1M518 435h1M496 442h1M941 257h1M944 253h1M396 462h1M416 457h1M1062 251h1M762 375h1M589 417h1M174 317h1M285 405h1M906 278h1M1154 258h1M205 334h1M271 383h1M1068 249h1M573 426h1M669 401h1M424 456h1M772 368h1M645 410h1M220 341h1M604 412h1M946 261h1M959 242h1M598 415h1M828 345h1M399 463h1M689 401h1M837 336h1M978 221h1M1254 250h1M550 428h1M1109 254h1M445 445h1M1052 245h1M144 333h1M909 279h1M169 322h1M248 368h1M500 437h1M998 206h1M978 230h1M476 448h1M1161 257h1M195 326h1M1197 257h1M483 440h1M424 453h1M681 403h1M960 249h1M1174 267h1M1048 247h1M590 420h1M383 459h1M317 446h1M389 453h1M222 346h1M587 421h1M1114 257h1M543 430h1M279 399h1M598 415h1M535 429h1M749 379h1M156 330h1M177 323h1M874 320h1M939 262h1M858 327h1M954 245h1M297 431h1M1100 259h1M574 419h1M911 276h1M814 349h1M419 458h1M442 446h1M1254 254h1M258 374h1M1059 251h1M240 356h1M452 452h1M1176 267h1M899 291h1M1008 212h1M368 456h1M1095 257h1M970 242h1M188 314h1M1042 233h1M137 333h1M784 360h1M547 430h1M479 439h1M646 412h1M988 225h1M674 397h1M685 394h1M641 417h1M427 446h1M712 393h1M742 380h1M361 461h1M200 328h1M238 353h1M281 402h1M1241 250h1M1080 255h1M289 413h1M903 286h1M1063 254h1M254 369h1M774 363h1M555 430h1M780 362h1M293 422h1M242 361h1M302 438h1M1283 243h1M430 451h1M1300 238h1M665 402h1M866 319h1M1066 252h1M846 335h1M960 243h1M1228 249h1M444 452h1M434 446h1M1093 256h1M1309 226h1M1121 255h1M339 455h1M124 330h1M810 350h1M344 453h1M426 443h1M259 376h1M202 328h1M368 457h1M771 362h1M164 326h1M1023 221h1M688 397h1M651 408h1M289 414h1M675 405h1M447 451h1M420 455h1M1301 238h1M665 410h1M376 454h1M1080 254h1M856 330h1M1056 251h1M499 432h1M219 345h1M1171 261h1M224 343h1M348 461h1M1149 258h1M513 433h1M1112 256h1M841 329h1M1184 263h1M253 371h1M989 220h1M955 252h1M699 395h1M764 365h1M872 318h1M530 436h1M285 409h1M1256 251h1M852 335h1M572 426h1M1222 263h1M923 269h1M825 334h1M422 453h1M694 398h1M132 328h1M273 397h1M194 319h1M915 275h1M286 416h1M559 429h1M245 356h1M494 439h1M1051 242h1M1041 234h1M1085 250h1M243 365h1M308 434h1M859 328h1M898 290h1M837 335h1M138 332h1M617 420h1M935 259h1M746 377h1M850 329h1M688 398h1M869 314h1M680 404h1M144 333h1M1105 258h1M406 458h1M895 287h1M1304 229h1M457 450h1M914 273h1M1281 241h1M692 400h1M528 428h1M814 348h1M605 418h1M1265 242h1M194 320h1M1100 252h1M1138 256h1M593 420h1M229 351h1M1172 263h1M1199 261h1M896 290h1M501 441h1M990 219h1M1058 249h1M720 382h1M363 462h1M273 394h1M1205 265h1M760 375h1M539 433h1M841 339h1M664 406h1M891 300h1M303 439h1M405 457h1M1196 267h1M780 362h1M1233 260h1M1228 260h1M505 431h1M349 456h1M935 258h1M1137 246h1M187 318h1M522 429h1M993 220h1M806 347h1M308 441h1M436 452h1M170 314h1M1215 259h1M1282 234h1M634 414h1M186 314h1M241 361h1M363 453h1M1251 251h1M773 361h1M1258 248h1M964 246h1M867 320h1M715 392h1M264 375h1M294 426h1M753 363h1M1155 258h1M319 449h1M1000 214h1M488 446h1M458 450h1M1012 198h1M570 425h1M1015 208h1M1002 212h1M379 461h1M487 439h1M535 435h1M1299 231h1M388 455h1M994 221h1M491 437h1M1088 252h1M1123 249h1M598 421h1M952 245h1M1231 254h1M1044 237h1M892 296h1M814 349h1M1118 256h1M226 352h1M622 410h1M241 357h1M366 454h1M206 331h1M1155 256h1M163 329h1M845 336h1M1126 249h1M329 456h1M539 426h1M1306 235h1M197 325h1M590 416h1M539 425h1M688 403h1M484 446h1M255 369h1M239 359h1M1031 225h1M473 448h1M706 392h1M1094 258h1M360 455h1M1060 251h1M1139 253h1M897 294h1M364 451h1M365 455h1M487 445h1M1005 212h1M430 452h1M162 332h1M651 415h1M599 417h1M913 270h1M1094 253h1M700 394h1M670 406h1M412 460h1M917 274h1M861 323h1M159 330h1M1289 239h1M1250 251h1M1283 243h1M1219 256h1M1124 251h1M491 440h1M294 424h1M999 212h1M996 214h1M1175 263h1M407 460h1M257 367h1M1235 253h1M548 429h1M440 447h1M1311 234h1M638 413h1M276 401h1M1075 255h1M1107 258h1M805 355h1M497 437h1M1228 254h1M1022 220h1M199 327h1M974 236h1M785 366h1M285 408h1M842 340h1M192 320h1M658 413h1M782 364h1M810 340h1M635 412h1M284 413h1M1155 258h1M1223 262h1M276 393h1M299 429h1M384 458h1M280 405h1M424 452h1M914 273h1M459 445h1M265 386h1M830 341h1M222 337h1M410 461h1M123 333h1M701 390h1M1267 250h1M234 360h1M211 340h1M1049 248h1M1141 252h1M184 316h1M878 318h1M713 383h1M291 422h1M1194 262h1M523 436h1M419 455h1M334 458h1M1083 252h1M655 407h1M357 455h1M1258 247h1M334 458h1M346 453h1M728 382h1M551 430h1M634 416h1M153 327h1M508 435h1M1070 252h1M559 425h1M1092 257h1M884 309h1M1108 260h1M1197 268h1M384 455h1M825 341h1M557 424h1M1248 248h1M159 324h1M620 415h1M1119 252h1M605 415h1M558 425h1M750 370h1M381 460h1M308 441h1M626 411h1M1034 231h1M941 263h1M1153 251h1M804 353h1M1047 245h1M810 353h1M575 423h1M429 455h1M817 350h1M689 401h1M1060 250h1M785 361h1M1167 264h1M1169 260h1M1215 261h1M518 435h1M1066 256h1M362 453h1M706 396h1M134 329h1M1264 248h1M325 453h1M799 353h1M1118 258h1M804 348h1M1244 252h1M641 412h1M460 445h1M250 373h1M1215 266h1M812 350h1M985 217h1M957 249h1M613 420h1M319 453h1M458 447h1M335 450h1M747 374h1M502 439h1M1080 253h1M661 407h1M864 327h1M1206 266h1M974 237h1M865 330h1M408 458h1M240 359h1M1192 266h1M710 388h1M942 264h1M1225 254h1M219 346h1M517 431h1M985 222h1M143 330h1M886 304h1M538 424h1M790 359h1M1024 220h1M1113 257h1M310 444h1M563 424h1M1102 259h1M637 412h1M273 391h1M180 321h1M653 412h1M1190 269h1M1299 237h1M1183 268h1M346 455h1M239 362h1M892 302h1M133 328h1M1028 224h1M1260 248h1M346 454h1M1276 245h1M322 454h1M1070 257h1M399 452h1M1273 242h1M1046 238h1M918 272h1M507 440h1M832 339h1M570 427h1M842 335h1M932 259h1M845 337h1M613 407h1M1159 258h1M820 344h1M266 386h1M388 458h1M152 331h1M135 329h1M256 376h1M1307 229h1M646 412h1M835 333h1M639 416h1M879 316h1M585 422h1M1193 266h1M819 347h1M933 268h1M1086 254h1M403 448h1M222 344h1M431 454h1M597 421h1M1160 255h1M1088 258h1M775 367h1M303 440h1M1053 243h1M1200 260h1M714 388h1M1199 267h1M1281 239h1M860 324h1M1121 248h1M1169 255h1M870 320h1M311 446h1M240 359h1M665 410h1M1005 206h1M244 365h1M444 452h1M1259 250h1M798 357h1M170 325h1M132 335h1M240 356h1M353 459h1M214 342h1M906 278h1M248 365h1M1065 252h1M1169 262h1M514 440h1M849 333h1M1064 247h1M349 461h1M851 335h1M179 324h1M274 397h1M284 413h1M249 369h1M1262 251h1M186 322h1M579 422h1M157 330h1M1303 230h1M223 348h1M986 229h1M346 460h1M1163 258h1M240 360h1M448 445h1M743 375h1M620 414h1M577 423h1M683 405h1M1188 262h1M260 377h1M954 254h1M1103 254h1M218 340h1M315 445h1M986 226h1M873 322h1M964 242h1M741 381h1M528 431h1M1048 247h1M1050 247h1M1095 255h1M975 237h1M754 369h1M384 456h1M724 386h1M1029 228h1M1189 265h1M1167 260h1M1152 259h1M928 260h1M208 333h1M858 328h1M215 342h1M424 444h1M943 259h1M1065 256h1M186 318h1M1170 261h1M267 387h1M876 321h1M375 454h1M498 437h1M1125 253h1M260 376h1M506 442h1M594 422h1M1047 246h1M1276 242h1M914 267h1M996 215h1M1233 257h1M441 449h1M607 419h1M774 360h1M1239 257h1M627 414h1M303 443h1M174 326h1M132 334h1M926 268h1M548 430h1M594 418h1M147 322h1M1213 265h1M674 407h1M1192 263h1M520 437h1M715 391h1M1049 244h1M1026 212h1M901 286h1M1232 253h1M1060 250h1M842 336h1M1224 260h1M932 261h1M579 426h1M1040 239h1M836 337h1M648 410h1M248 370h1M319 451h1M519 433h1M629 412h1M1037 236h1M959 250h1M1231 258h1M905 282h1M662 409h1M468 446h1M570 426h1M1151 252h1M446 453h1M800 353h1M698 395h1M904 282h1M176 323h1M394 459h1M194 316h1M1159 256h1M278 398h1M1281 245h1M1185 269h1M380 460h1M482 440h1M435 443h1M865 322h1M550 431h1M279 406h1M503 433h1M1000 218h1M1087 254h1M1080 259h1M460 431h1M495 438h1M1116 246h1M352 452h1M729 378h1M357 455h1M636 417h1M260 368h1M545 434h1M862 323h1M986 228h1M947 260h1M668 409h1M503 441h1M1053 247h1M317 449h1M510 439h1M466 446h1M493 443h1M125 326h1M1284 243h1M942 258h1M1303 233h1M880 311h1M646 411h1M921 270h1M951 250h1M692 396h1M475 449h1M145 328h1M408 453h1M256 375h1M666 405h1M543 427h1M1224 261h1M694 402h1M723 388h1M500 442h1M155 322h1M393 461h1M870 318h1M210 326h1M1262 242h1M718 386h1M263 380h1M426 456h1M946 260h1M369 454h1M244 368h1M1272 248h1M748 378h1M389 452h1M582 424h1M771 362h1M736 378h1M790 359h1M321 448h1M1258 251h1M1276 244h1M1190 267h1M857 327h1M547 430h1M777 366h1M372 448h1M956 252h1M969 239h1M597 421h1M807 349h1M977 233h1M1075 256h1M1247 250h1M248 369h1M162 324h1M661 411h1M267 381h1M1160 257h1M173 323h1M259 373h1M289 421h1M165 328h1M168 325h1M929 267h1M909 274h1M698 387h1M1129 251h1M232 354h1M1140 246h1M489 438h1M1031 230h1M127 334h1M1279 243h1M634 408h1M935 260h1M964 246h1M210 327h1M326 456h1M1184 266h1M960 245h1M468 447h1M443 452h1M1187 268h1M307 437h1M1060 255h1M392 455h1M1301 237h1M148 333h1M942 257h1M1041 241h1M513 435h1M696 397h1M303 438h1M1169 265h1M342 457h1M637 416h1M825 346h1M139 325h1M211 334h1M476 444h1M556 421h1M159 331h1M393 453h1M528 435h1M1288 238h1M992 213h1M259 379h1M1214 250h1M1235 252h1M1186 268h1M1098 259h1M470 442h1M343 451h1M801 356h1M231 350h1M1011 205h1M1222 256h1M213 342h1M901 287h1M996 219h1M914 272h1M433 454h1M784 360h1M998 215h1M1001 207h1M681 405h1M914 273h1M395 455h1M841 340h1M804 350h1M512 430h1M250 368h1M1042 238h1M1134 250h1M912 278h1M546 432h1M752 374h1M742 373h1M610 409h1M892 299h1M1062 254h1M1084 257h1M670 408h1M617 416h1M1019 209h1M307 440h1M1060 243h1M150 329h1M347 458h1M326 449h1M1255 251h1M263 384h1M1098 257h1M1111 246h1M1015 215h1M474 449h1M995 213h1M665 403h1M912 279h1M1092 260h1M1020 213h1M467 445h1M557 429h1M1000 210h1M679 404h1M1198 266h1M1144 256h1M187 319h1M650 412h1M628 413h1M1162 256h1M166 326h1M425 449h1M473 446h1M226 345h1M383 458h1M373 455h1M1016 216h1M1107 248h1M488 439h1M767 370h1M1201 258h1M701 399h1M147 330h1M436 452h1M519 436h1M877 316h1M756 372h1M555 427h1M160 328h1M381 457h1M300 436h1M461 449h1M561 428h1M666 404h1M525 437h1M343 460h1M1267 241h1M930 264h1M1071 256h1M467 441h1M314 448h1M337 458h1M1097 257h1M153 326h1M1113 257h1M790 356h1M265 386h1M345 451h1M1160 258h1M744 381h1M1004 214h1M960 251h1M749 371h1M1196 267h1M1117 255h1M566 426h1M625 416h1M288 406h1M591 424h1M227 345h1M1187 264h1M871 324h1M1280 245h1M671 408h1M889 300h1M1185 267h1M730 384h1M298 432h1M953 252h1M602 421h1M749 369h1M359 456h1M1268 238h1M398 457h1M629 418h1M282 410h1M1282 240h1M682 404h1M1253 248h1M1192 268h1M666 402h1M942 261h1M342 456h1M271 393h1M516 432h1M1086 257h1M549 428h1M583 423h1M387 456h1M280 404h1M841 336h1M838 341h1M743 383h1M981 229h1M637 413h1M517 438h1M1059 252h1M790 359h1M189 322h1M1240 255h1M153 326h1M728 378h1M1137 246h1M712 386h1M919 271h1M574 424h1M793 356h1M838 336h1M247 364h1M427 451h1M900 285h1M525 422h1M683 399h1M519 437h1M678 406h1M887 304h1M211 332h1M651 413h1M938 258h1M624 418h1M289 415h1M217 338h1M376 460h1M936 255h1M1146 247h1M681 401h1M124 326h1M224 347h1M891 301h1M611 412h1M939 264h1M546 427h1M259 377h1M1240 258h1M1283 241h1M1205 266h1M1001 214h1M459 441h1M180 322h1M840 337h1M583 423h1M1114 257h1M1022 217h1M196 326h1M1190 270h1M247 364h1M416 457h1M1004 213h1M1264 246h1M1094 247h1M301 442h1M212 336h1M259 374h1M668 407h1M529 433h1M1145 254h1M1131 252h1M428 450h1M373 457h1M673 403h1M1095 246h1M406 461h1M522 436h1M1086 258h1M876 319h1M130 329h1M451 448h1M902 286h1M575 426h1M331 458h1M919 270h1M740 372h1M218 343h1M1246 253h1M971 236h1M940 261h1M1004 213h1M983 221h1M343 455h1M128 328h1M288 418h1M1114 253h1M887 299h1M1180 265h1M289 419h1M668 408h1M1207 263h1M1165 259h1M240 358h1M643 408h1M1246 254h1M1305 237h1M160 325h1M1080 258h1M373 461h1M725 380h1M782 356h1M298 435h1M1277 243h1M439 454h1M254 371h1M1033 230h1M425 454h1M449 448h1M639 415h1M901 288h1M1171 263h1M237 359h1M140 334h1M876 312h1M790 363h1M792 359h1M516 438h1M149 334h1M918 271h1M331 457h1M928 263h1M1148 256h1M1104 251h1M338 456h1M444 444h1M1115 250h1M1027 226h1M1258 250h1M1076 256h1M911 278h1M461 438h1M207 328h1M1242 253h1M1000 210h1M296 428h1M906 283h1M219 345h1M396 449h1M649 412h1M1079 258h1M571 422h1M464 450h1M1078 257h1M508 439h1M931 268h1M1240 258h1M1248 254h1M1169 265h1M824 339h1M1051 244h1M1125 247h1M539 427h1M1229 255h1M215 338h1M162 315h1M1070 252h1M419 445h1M496 443h1M383 461h1M1234 250h1M1223 253h1M906 279h1M131 331h1M568 426h1M712 387h1M279 404h1M1004 209h1M964 244h1M1004 210h1M814 350h1M1138 249h1M510 438h1M690 401h1M1049 247h1M654 413h1M1150 254h1M802 352h1M144 322h1M616 412h1M447 447h1M402 454h1M984 229h1M1295 236h1M699 399h1M553 425h1M1162 252h1M161 329h1M230 355h1M395 461h1M556 425h1M796 358h1M537 431h1M935 262h1M865 321h1M1251 258h1M1003 213h1M615 419h1M935 259h1M271 392h1M1289 236h1M1260 247h1M421 457h1M1288 238h1M1060 252h1M328 449h1M378 462h1M629 417h1M1204 259h1M394 461h1M450 454h1M474 435h1M921 268h1M1073 245h1M491 440h1M534 433h1M1160 259h1M172 320h1M634 414h1M907 276h1M954 252h1M518 433h1M786 362h1M528 440h1M551 431h1M1291 241h1M1047 237h1M1239 258h1M360 453h1M266 384h1M472 442h1M1066 253h1M271 393h1M507 438h1M1007 210h1M1091 254h1M1095 248h1M870 327h1M658 411h1M592 421h1M154 323h1M1078 253h1M537 428h1M559 425h1M995 211h1M767 372h1M368 458h1M1160 263h1M448 448h1M1022 220h1M816 343h1M506 441h1M984 228h1M438 447h1M1089 253h1M546 433h1M253 373h1M458 449h1M701 388h1M1089 258h1M1286 237h1M238 358h1M625 413h1M1049 244h1M768 372h1M1038 225h1M174 315h1M249 372h1M231 354h1M542 425h1M815 348h1M1085 259h1M578 426h1M591 423h1M1094 258h1M576 422h1M1210 257h1M226 343h1M1068 258h1M438 452h1M808 349h1M610 417h1M983 226h1M1096 258h1M807 349h1M1149 257h1M435 448h1M1202 260h1M1230 260h1M527 430h1M217 339h1M1103 259h1M893 296h1M762 369h1M739 382h1M345 454h1M354 454h1M267 381h1M638 418h1M404 457h1M714 390h1M723 382h1M835 334h1M296 426h1M1272 243h1M1266 247h1M403 460h1M235 358h1M462 449h1M645 414h1M521 438h1M149 334h1M577 424h1M1132 250h1M805 347h1M223 347h1M1290 242h1M420 452h1M1203 265h1M732 383h1M373 459h1M932 261h1M319 443h1M699 395h1M254 370h1M988 220h1M575 425h1M947 254h1M451 446h1M511 440h1M221 347h1M989 219h1M867 319h1M1024 221h1M994 218h1M781 357h1M920 270h1M125 329h1M1135 248h1M261 379h1M1102 258h1M939 263h1M476 445h1M299 438h1M150 329h1M978 234h1M495 442h1M615 418h1M1306 236h1M1288 232h1M981 226h1M577 426h1M691 399h1M172 324h1M801 352h1M808 348h1M373 461h1M810 347h1M694 400h1M1080 250h1M1036 229h1M1104 255h1M1136 251h1M1034 234h1M259 380h1M242 360h1M850 335h1M402 455h1M268 390h1M892 299h1M677 404h1M1067 251h1M191 315h1M1150 257h1M1159 257h1M179 321h1M763 371h1M342 460h1M664 406h1M259 376h1M209 329h1M432 446h1M1107 252h1M155 327h1M1052 248h1M227 351h1M1295 241h1M901 284h1M926 264h1M641 414h1M1255 249h1M957 247h1M908 278h1M1083 256h1M135 335h1M1286 234h1M993 222h1M856 323h1M1016 204h1M1245 250h1M649 409h1M975 234h1M1186 263h1M832 336h1M1039 235h1M340 455h1M620 418h1M303 435h1M1165 260h1M446 452h1M1128 250h1M737 375h1M401 458h1M559 427h1M132 334h1M676 407h1M188 319h1M1048 247h1M249 371h1M528 431h1M841 337h1M743 378h1M1150 258h1M562 429h1M519 436h1M879 316h1M1278 233h1M1275 242h1M1158 245h1M1180 264h1M414 459h1M248 364h1M634 408h1M1056 248h1M253 366h1M1153 258h1M1301 237h1M1130 251h1M1165 256h1M1210 264h1M593 420h1M836 338h1M827 341h1M1156 256h1M446 448h1M499 440h1M663 409h1M439 446h1M1289 229h1M678 406h1M622 408h1M274 387h1M987 226h1M1079 257h1M463 443h1M526 430h1M911 276h1M579 411h1M1229 260h1M1128 243h1M1038 237h1M1139 255h1M248 363h1M466 448h1M528 436h1M975 238h1M171 321h1M953 256h1M218 341h1M356 456h1M483 438h1M1239 248h1M586 421h1M1179 269h1M418 458h1M1281 240h1M531 433h1M884 310h1M522 435h1M438 448h1M748 368h1M1040 241h1M427 445h1M1062 246h1M256 373h1M1188 268h1M717 387h1M549 427h1M584 421h1M1297 233h1M725 388h1M586 418h1M862 329h1M211 338h1M459 448h1M964 241h1M953 245h1M593 421h1M749 373h1M936 263h1M631 410h1M1005 214h1M464 442h1M1278 238h1M338 452h1M771 359h1M1114 256h1M710 392h1M739 372h1M690 402h1M278 401h1M995 214h1M740 381h1M953 251h1M1220 263h1M368 454h1M1232 257h1M836 340h1M1041 240h1M557 423h1M444 451h1M279 405h1M953 256h1M917 264h1M1168 257h1M670 402h1M837 342h1M931 265h1M1133 251h1M917 272h1M245 357h1M1149 249h1M490 441h1M549 425h1M1002 213h1M462 440h1M506 440h1M798 355h1M129 330h1M1223 257h1M1049 247h1M940 263h1M402 460h1M210 330h1M217 336h1M210 337h1M178 322h1M661 409h1M654 412h1M1141 253h1M859 329h1M234 354h1M357 459h1M399 458h1M397 455h1M1108 250h1M265 387h1M1300 237h1M1084 253h1M413 459h1M908 270h1M380 462h1M777 360h1M1030 230h1M342 454h1M268 385h1M290 423h1M615 413h1M763 367h1M177 320h1M127 325h1M146 322h1M189 318h1M152 327h1M162 322h1M185 319h1M180 320h1M188 320h1M186 315h1M151 329h1M185 319h1M154 321h1M154 329h1M171 315h1M145 326h1M155 324h1M167 320h1M165 324h1M145 321h1M128 326h1M154 322h1M175 315h1M188 316h1M176 317h1M171 315h1M143 331h1M152 324h1M131 327h1M126 330h1M130 330h1M162 317h1M133 332h1M171 318h1M131 330h1M129 328h1M170 322h1M171 316h1M163 322h1M175 321h1M187 318h1M131 333h1M143 323h1M154 329h1M148 330h1M122 331h1M173 315h1M186 316h1M183 321h1M169 318h1M143 323h1M143 329h1M157 329h1M128 327h1M156 324h1M157 323h1M163 317h1M125 330h1M147 325h1M169 322h1M136 329h1M123 328h1M184 319h1M1230 258h1M1166 259h1M1222 253h1M1220 253h1M1222 256h1M1267 239h1M1271 237h1M1157 257h1M1284 233h1M1203 264h1M1207 254h1M1239 246h1M1233 254h1M1227 252h1M1259 242h1M1196 261h1M1304 230h1M1211 255h1M1229 254h1M1302 235h1M1183 258h1M1272 244h1M1310 227h1M1277 242h1M1182 262h1M1236 258h1M1252 246h1M1308 227h1M1276 235h1M1281 236h1M1252 251h1M1168 260h1M1235 256h1M1166 255h1M1302 230h1M1172 259h1M1186 258h1M1263 242h1M1181 266h1M1172 264h1M1288 237h1M1233 247h1M1256 242h1M1220 260h1M1226 255h1M1253 243h1M1278 241h1M1197 258h1M1294 230h1M1235 248h1M1255 246h1M1225 260h1M1211 254h1M1221 256h1M1213 260h1M1224 258h1M1224 258h1M1261 246h1M1211 255h1M1276 236h1M1246 252h1M1231 249h1M1156 251h1M1167 261h1M1290 228h1M1207 254h1M1155 254h1M1310 227h1M1223 255h1M1290 231h1M1189 253h1M1166 257h1M1178 253h1M1283 233h1M1304 228h1M1235 254h1M1205 260h1M1303 227h1M1179 260h1M1207 254h1M1167 253h1M1310 233h1M1187 258h1M1269 244h1M1301 226h1M1198 256h1M1262 246h1M1202 262h1M1294 236h1M1246 245h1M1243 245h1M1216 254h1M1160 251h1M1279 239h1M1310 223h1M1282 238h1M1281 238h1M1198 255h1M1168 257h1M1293 234h1M1207 258h1M1260 243h1M1241 246h1M1290 228h1M1190 254h1M1296 228h1M1189 258h1M1276 243h1M1196 265h1M1157 251h1M1244 249h1M1167 255h1M1164 261h1M1256 244h1M1223 261h1M1173 256h1M1178 265h1M1303 226h1M1263 248h1M1291 239h1M1233 254h1M1178 266h1M1277 234h1M1155 257h1M1183 266h1M1249 248h1M1165 259h1M1284 232h1M1252 244h1M1252 248h1M1178 261h1M1291 235h1M1275 244h1M1208 261h1M1200 260h1M1257 240h1M1265 240h1M1172 252h1M1249 247h1M1284 239h1M1186 257h1M1196 260h1M1219 251h1M1193 253h1M1188 259h1M1168 257h1M1156 252h1M1231 250h1M1280 236h1M1238 254h1M1227 259h1M1203 257h1M1279 239h1M1289 231h1M1201 256h1M1236 248h1M1198 255h1M1209 259h1M1180 267h1M1264 241h1M1182 265h1M1292 230h1M1294 231h1M1276 238h1M1182 261h1M1215 255h1M1222 253h1" stroke="#0000ff" stroke-width="2.6" stroke-opacity="0.8" stroke-linecap="round" fill="none"/>
<path d="M128.33 333.70v-6.2M128.33 21.10v6.2M195.97 333.70v-6.2M195.97 21.10v6.2M263.60 333.70v-6.2M263.60 21.10v6.2M331.23 333.70v-6.2M331.23 21.10v6.2M398.87 333.70v-6.2M398.87 21.10v6.2M466.50 333.70v-6.2M466.50 21.10v6.2M534.13 333.70v-6.2M534.13 21.10v6.2M601.77 333.70v-6.2M601.77 21.10v6.2M60.70 294.62h6.2M669.40 294.62h-6.2M60.70 255.55h6.2M669.40 255.55h-6.2M60.70 216.47h6.2M669.40 216.47h-6.2M60.70 177.40h6.2M669.40 177.40h-6.2M60.70 138.33h6.2M669.40 138.33h-6.2M60.70 99.25h6.2M669.40 99.25h-6.2M60.70 60.18h6.2M669.40 60.18h-6.2" stroke="#575757" stroke-width="1.25" fill="none"/>
<rect x="60.70" y="21.10" width="608.70" height="312.60" stroke="#575757" stroke-width="1.4" fill="none"/>
<text transform="translate(60.70 351.10) scale(1 1.08)" class="tk" text-anchor="middle">0</text>
<text transform="translate(128.33 351.10) scale(1 1.08)" class="tk" text-anchor="middle">500</text>
<text transform="translate(195.97 351.10) scale(1 1.08)" class="tk" text-anchor="middle">1000</text>
<text transform="translate(263.60 351.10) scale(1 1.08)" class="tk" text-anchor="middle">1500</text>
<text transform="translate(331.23 351.10) scale(1 1.08)" class="tk" text-anchor="middle">2000</text>
<text transform="translate(398.87 351.10) scale(1 1.08)" class="tk" text-anchor="middle">2500</text>
<text transform="translate(466.50 351.10) scale(1 1.08)" class="tk" text-anchor="middle">3000</text>
<text transform="translate(534.13 351.10) scale(1 1.08)" class="tk" text-anchor="middle">3500</text>
<text transform="translate(601.77 351.10) scale(1 1.08)" class="tk" text-anchor="middle">4000</text>
<text transform="translate(669.40 351.10) scale(1 1.08)" class="tk" text-anchor="middle">4500</text>
<text transform="translate(56.40 337.20) scale(1 1.08)" class="tk" text-anchor="end">400</text>
<text transform="translate(56.40 298.12) scale(1 1.08)" class="tk" text-anchor="end">500</text>
<text transform="translate(56.40 259.05) scale(1 1.08)" class="tk" text-anchor="end">600</text>
<text transform="translate(56.40 219.97) scale(1 1.08)" class="tk" text-anchor="end">700</text>
<text transform="translate(56.40 180.90) scale(1 1.08)" class="tk" text-anchor="end">800</text>
<text transform="translate(56.40 141.83) scale(1 1.08)" class="tk" text-anchor="end">900</text>
<text transform="translate(56.40 102.75) scale(1 1.08)" class="tk" text-anchor="end">1000</text>
<text transform="translate(56.40 63.68) scale(1 1.08)" class="tk" text-anchor="end">1100</text>
<text transform="translate(56.40 24.60) scale(1 1.08)" class="tk" text-anchor="end">1200</text>
<text x="362.50" y="11.10" class="tt" style="font-size:16.1px" text-anchor="middle">The original data of Daxinganling Area</text>
<text x="365.40" y="372.00" class="al" style="font-size:16.1px" text-anchor="middle">Distance Along Track (m)</text>
<text transform="translate(20.40 177.50) rotate(-90)" class="al" style="font-size:16px" text-anchor="middle">Height (m)</text>
<rect x="80.4" y="35.4" width="142.9" height="18.9" fill="#fff" stroke="#575757" stroke-width="1.1"/>
<circle cx="93.1" cy="44.4" r="4" fill="#0000ff"/>
<text x="106.0" y="47.8" class="lg" textLength="114.6" lengthAdjust="spacingAndGlyphs">Original point cloud</text>
<text x="343.5" y="407.8" class="cap" style="font-size:22.5px" text-anchor="middle"><tspan class="par">(</tspan>a<tspan class="par">)</tspan></text>
<path transform="scale(0.5)" d="M391 1062h1M262 1006h1M1014 1202h1M123 1218h1M1180 1287h1M656 1046h1M1134 1340h1M1094 1383h1M802 1144h1M871 1205h1M1191 1419h1M1067 1152h1M313 1168h1M649 1096h1M225 1110h1M388 993h1M175 1057h1M706 1073h1M570 1220h1M275 1058h1M993 1462h1M511 1059h1M678 1166h1M880 1188h1M925 1431h1M305 1034h1M685 1300h1M743 1146h1M943 1374h1M859 1289h1M775 1058h1M921 1206h1M1018 1402h1M372 930h1M1288 1262h1M927 1396h1M781 1289h1M1163 1282h1M848 1309h1M604 1069h1M603 1105h1M387 1037h1M1073 1179h1M925 1213h1M1254 1299h1M696 1021h1M640 1152h1M684 1063h1M311 1000h1M225 1123h1M1189 1320h1M1149 1277h1M839 1195h1M723 1046h1M332 1036h1M450 1001h1M527 1279h1M1197 1211h1M575 1208h1M986 1308h1M1035 1222h1M237 1264h1M1088 1209h1M262 1019h1M869 1311h1M1112 1258h1M354 932h1M489 1239h1M1289 1229h1M1286 1222h1M839 1293h1M621 1070h1M223 1256h1M366 993h1M421 1164h1M292 1255h1M1158 1369h1M1240 1299h1M482 1071h1M706 1278h1M1180 1135h1M658 1164h1M303 1258h1M798 1044h1M231 1083h1M657 1311h1M219 1124h1M917 1171h1M476 976h1M646 1285h1M224 1273h1M772 1187h1M841 1071h1M234 1130h1M1042 1366h1M414 1221h1M150 1060h1M1109 1335h1M656 1237h1M418 1063h1M406 1113h1M378 978h1M1207 1423h1M1228 1239h1M421 1020h1M544 1076h1M1241 1246h1M1093 1193h1M323 1247h1M268 999h1M1249 1408h1M1204 1183h1M204 1065h1M422 1000h1M1056 1187h1M453 975h1M603 1249h1M632 1028h1M968 1403h1M742 1242h1M962 1411h1M130 1207h1M508 1214h1M365 1120h1M820 1125h1M263 1005h1M565 1110h1M347 1117h1M549 1230h1M327 962h1M465 1203h1M920 1312h1M1187 1279h1M450 993h1M1000 1157h1M1289 1195h1M942 1397h1M986 1436h1M402 961h1M361 1158h1M123 1290h1M344 936h1M209 1018h1M983 1304h1M697 1096h1M127 1206h1M834 1225h1M1108 1398h1M1269 1344h1M646 1194h1M464 1061h1M389 1180h1M1260 1167h1M1228 1365h1M608 1133h1M1001 1153h1M714 1092h1M883 1156h1M725 1033h1M1093 1160h1M1009 1353h1M238 1148h1M1038 1157h1M582 1288h1M736 1065h1M508 1080h1M509 1107h1M364 934h1M374 992h1M927 1245h1M155 1042h1M1179 1380h1M1115 1334h1M802 1198h1M846 1228h1M258 1178h1M908 1276h1M739 1133h1M746 1329h1M280 1174h1M677 1025h1M561 1132h1M692 1091h1M754 1266h1M697 1312h1M354 999h1M999 1321h1M1232 1177h1M468 1024h1M1269 1428h1M1187 1214h1M1009 1400h1M134 1241h1M857 1130h1M872 1190h1M1163 1177h1M185 1021h1M1139 1184h1M1208 1168h1M622 1171h1M688 1043h1M968 1187h1M893 1324h1M206 1059h1M741 1328h1M256 1050h1M748 1170h1M580 1048h1M729 1325h1M1052 1331h1M182 1144h1M158 1034h1M333 1115h1M168 1033h1M446 1036h1M795 1120h1M480 1106h1M571 1191h1M724 1016h1M596 1085h1M951 1430h1M577 1227h1M362 1020h1M937 1381h1M1274 1322h1M1308 1196h1M947 1413h1M708 1158h1M1012 1211h1M1090 1321h1M989 1256h1M577 1007h1M767 1258h1M262 1097h1M535 1198h1M344 1212h1M1040 1324h1M139 1112h1M1044 1243h1M255 1220h1M528 1286h1M424 1144h1M325 1058h1M526 1214h1M1035 1210h1M283 1010h1M158 1241h1M436 1165h1M463 1003h1M1136 1445h1M847 1277h1M931 1265h1M309 991h1M632 1144h1M1080 1360h1M904 1309h1M678 1078h1M507 1126h1M1140 1295h1M294 1042h1M578 1208h1M381 1207h1M746 1196h1M392 1141h1M1066 1361h1M1029 1185h1M696 1154h1M1066 1275h1M370 1103h1M566 1010h1M581 1021h1M397 1119h1M802 1283h1M1072 1249h1M508 1177h1M471 1096h1M289 1079h1M1136 1350h1M299 1054h1M399 981h1M548 1135h1M1241 1334h1M849 1215h1M768 1078h1M488 1103h1M288 1091h1M1072 1201h1M588 1184h1M892 1281h1M1281 1363h1M511 1015h1M1224 1198h1M841 1196h1M213 1144h1M759 1325h1M756 1209h1M816 1207h1M606 1233h1M267 1090h1M747 1217h1M1143 1304h1M1136 1349h1M553 1174h1M968 1176h1M1090 1265h1M796 1228h1M1038 1423h1M234 1190h1M385 1148h1M167 1265h1M218 1084h1M587 1013h1M1288 1369h1M1238 1268h1M897 1129h1M1163 1252h1M997 1151h1M883 1229h1M172 1153h1M446 1089h1M618 1074h1M1211 1268h1M975 1368h1M301 1073h1M658 1111h1M959 1203h1M256 1011h1M720 1055h1M1241 1229h1M181 1161h1M1004 1422h1M168 1067h1M1230 1365h1M251 1241h1M885 1293h1M770 1262h1M1166 1336h1M1256 1351h1M534 1049h1M1138 1405h1M1219 1237h1M654 1157h1M238 1235h1M190 1061h1M967 1230h1M328 984h1M1185 1208h1M927 1409h1M855 1165h1M1053 1191h1M240 1151h1M835 1325h1M1071 1175h1M1231 1156h1M1295 1263h1M196 1071h1M866 1208h1M417 1194h1M692 1063h1M371 1090h1M232 1173h1M781 1246h1M832 1299h1M1097 1135h1M745 1186h1M1034 1249h1M427 969h1M964 1322h1M997 1258h1M598 1052h1M1000 1330h1M1133 1233h1M483 1242h1M393 1230h1M1086 1277h1M611 1017h1M338 1016h1M891 1333h1M1076 1283h1M1086 1196h1M622 1053h1M565 1090h1M1012 1357h1M680 1158h1M1141 1266h1M282 1188h1M530 985h1M569 1239h1M823 1077h1M347 1136h1M206 1267h1M712 1138h1M231 1066h1M1284 1273h1M955 1150h1M896 1300h1M517 1167h1M922 1303h1M727 1030h1M1174 1237h1M1286 1358h1M543 1190h1M1280 1407h1M240 1283h1M1101 1178h1M348 1142h1M513 1244h1M465 1186h1M692 1051h1M1017 1150h1M586 1179h1M782 1104h1M250 989h1M705 1244h1M685 1252h1M1063 1410h1M827 1288h1M1246 1399h1M460 1038h1M1253 1414h1M1009 1201h1M949 1200h1M676 1170h1M265 1109h1M163 1053h1M1199 1318h1M258 1269h1M1233 1364h1M461 1237h1M940 1222h1M382 995h1M647 1099h1M525 1192h1M634 1192h1M157 1268h1M482 1229h1M676 1220h1M1016 1159h1M1057 1214h1M1284 1440h1M1041 1409h1M1218 1367h1M189 1192h1M410 984h1M955 1436h1M249 1139h1M493 1083h1M384 1002h1M184 1165h1M986 1153h1M1133 1232h1M783 1079h1M475 1243h1M1187 1421h1M779 1263h1M377 1155h1M614 1043h1M307 1033h1M1070 1198h1M843 1257h1M905 1223h1M1209 1394h1M1238 1301h1M147 1103h1M749 1263h1M614 1052h1M143 1189h1M547 1204h1M352 1021h1M1015 1220h1M823 1296h1M1118 1228h1M422 951h1M706 1315h1M627 1040h1M256 1263h1M771 1143h1M852 1153h1M277 992h1M389 1007h1M988 1248h1M168 1247h1M340 1133h1M967 1187h1M968 1449h1M608 1092h1M1040 1267h1M874 1174h1M1113 1246h1M847 1103h1M792 1029h1M460 1246h1M388 1097h1M137 1198h1M808 1118h1M210 1090h1M1097 1213h1M618 1161h1M413 994h1M476 1250h1M752 1216h1M1063 1185h1M420 955h1M1219 1419h1M425 1177h1M1147 1414h1M548 1230h1M542 1246h1M1285 1349h1M863 1091h1M888 1299h1M1298 1257h1M539 1102h1M473 1068h1M726 1317h1M1110 1215h1M332 1100h1M710 1227h1M480 1241h1M509 1209h1M1218 1282h1M204 1071h1M1003 1173h1M753 1157h1M176 1097h1M691 1222h1M253 984h1M122 1232h1M1009 1387h1M655 1189h1M715 1313h1M532 1147h1M346 1104h1M530 1184h1M722 1093h1M287 1014h1M1183 1312h1M715 1029h1M513 1117h1M1084 1433h1M457 1187h1M386 957h1M1056 1360h1M762 1266h1M919 1227h1M297 1013h1M1059 1245h1M408 982h1M971 1404h1M1288 1205h1M1112 1314h1M737 1059h1M237 1135h1M126 1151h1M1245 1391h1M971 1454h1M871 1189h1M535 1277h1M910 1282h1M468 1066h1M1034 1284h1M1211 1401h1M1305 1249h1M1071 1364h1M969 1151h1M578 1097h1M457 1010h1M1037 1404h1M1298 1340h1M389 1184h1M882 1197h1M1129 1175h1M874 1133h1M214 1145h1M446 1154h1M1240 1158h1M229 1046h1M856 1114h1M702 1284h1M408 1103h1M895 1272h1M948 1319h1M373 1138h1M1205 1223h1M1019 1397h1M1117 1215h1M1231 1244h1M961 1165h1M245 1149h1M269 1037h1M500 1023h1M231 1039h1M1232 1230h1M1073 1357h1M185 1284h1M1216 1398h1M254 1124h1M1020 1216h1M1292 1352h1M437 996h1M569 1111h1M591 1193h1M1240 1304h1M1113 1345h1M376 945h1M212 1161h1M1188 1151h1M438 1174h1M936 1315h1M992 1365h1M1056 1199h1M606 1033h1M224 1199h1M853 1117h1M1192 1416h1M1119 1266h1M1074 1348h1M567 1113h1M1003 1189h1M784 1095h1M656 1010h1M1141 1209h1M325 966h1M648 1230h1M233 1232h1M903 1304h1M1121 1262h1M286 1064h1M786 1242h1M237 1066h1M1206 1394h1M595 1106h1M588 1024h1M711 1263h1M505 1130h1M1272 1282h1M947 1332h1M880 1286h1M417 1225h1M432 1174h1M1308 1210h1M980 1463h1M754 1235h1M130 1137h1M267 1239h1M598 1119h1M1078 1230h1M1063 1340h1M734 1294h1M192 1182h1M586 1197h1M181 1248h1M635 1081h1M1188 1140h1M691 1067h1M170 1229h1M1090 1229h1M834 1116h1M187 1201h1M233 1073h1M755 1041h1M149 1090h1M742 1170h1M405 1189h1M506 1082h1M1047 1372h1M124 1105h1M154 1072h1M770 1081h1M905 1275h1M287 1114h1M431 1006h1M773 1196h1M1280 1202h1M483 1152h1M663 1297h1M920 1394h1M1173 1344h1M377 1091h1M233 1076h1M963 1238h1M898 1120h1M1047 1358h1M926 1220h1M896 1349h1M1310 1281h1M234 1033h1M919 1292h1M488 1219h1M754 1059h1M196 1298h1M379 1176h1M879 1269h1M1111 1333h1M1257 1284h1M722 1041h1M799 1246h1M1010 1274h1M495 1095h1M531 1212h1M738 1157h1M276 1126h1M602 1207h1M1252 1311h1M1094 1178h1M958 1257h1M1182 1161h1M788 1214h1M1058 1280h1M446 1238h1M177 1136h1M998 1395h1M1273 1404h1M300 1070h1M885 1284h1M850 1161h1M1090 1257h1M132 1235h1M608 1081h1M1178 1334h1M227 1169h1M582 1180h1M764 1261h1M640 1303h1M1035 1176h1M605 1068h1M922 1353h1M271 1099h1M745 1297h1M1110 1178h1M198 1208h1M225 1184h1M1063 1277h1M1191 1244h1M1164 1238h1M1013 1180h1M650 1105h1M253 1152h1M994 1370h1M237 1078h1M331 1029h1M559 1262h1M337 1064h1M584 1149h1M1085 1298h1M655 1130h1M569 1035h1M544 1236h1M850 1100h1M1059 1255h1M447 1100h1M158 1145h1M945 1258h1M1135 1363h1M1171 1235h1M1309 1265h1M876 1133h1M979 1340h1M781 1072h1M828 1191h1M821 1046h1M142 1064h1M889 1265h1M429 1116h1M621 1145h1M905 1105h1M792 1171h1M160 1237h1M507 1134h1M1027 1316h1M831 1110h1M264 1242h1M1100 1132h1M1125 1212h1M1221 1306h1M208 1140h1M888 1151h1M902 1253h1M512 1086h1M799 1025h1M149 1131h1M630 1149h1M697 1104h1M632 1042h1M657 1135h1M772 1167h1M254 1267h1M603 1199h1M535 994h1M395 1125h1M925 1263h1M840 1294h1M1229 1403h1M343 1205h1M1234 1369h1M1212 1173h1M688 1086h1M1115 1198h1M459 974h1M527 1013h1M738 1172h1M1225 1261h1M847 1320h1M264 1048h1M735 1295h1M580 1224h1M785 1043h1M807 1158h1M1191 1409h1M364 1009h1M963 1282h1M326 1229h1M1161 1358h1M1078 1346h1M216 1074h1M811 1169h1M1196 1214h1M1008 1201h1M1153 1249h1M844 1307h1M1231 1287h1M709 1132h1M393 959h1M1090 1339h1M286 1065h1M238 1122h1M691 1012h1M637 1172h1M542 1218h1M1113 1444h1M880 1314h1M274 1088h1M443 1087h1M994 1271h1M1137 1200h1M960 1207h1M715 1111h1M829 1067h1M270 1119h1M625 1212h1M305 1059h1M326 1090h1M772 1068h1M1222 1260h1M825 1194h1M962 1381h1M316 1253h1M1188 1272h1M389 1112h1M1206 1215h1M846 1130h1M161 1153h1M771 1130h1M925 1355h1M1162 1220h1M655 1313h1M880 1112h1M872 1163h1M1135 1271h1M786 1138h1M417 1169h1M418 1038h1M1014 1259h1M1288 1345h1M1127 1279h1M1276 1212h1M543 1041h1M1245 1198h1M497 1034h1M176 1139h1M1040 1299h1M1207 1395h1M840 1156h1M817 1095h1M1202 1376h1M1004 1427h1M922 1314h1M568 1062h1M1195 1412h1M544 1254h1M1044 1399h1M1148 1127h1M1087 1261h1M598 1023h1M484 969h1M282 1058h1M1296 1279h1M833 1057h1M155 1231h1M234 1154h1M473 951h1M772 1086h1M279 1084h1M644 1135h1M827 1312h1M996 1206h1M640 1271h1M482 1027h1M1213 1183h1M877 1264h1M332 1167h1M509 1043h1M1028 1351h1M1311 1319h1M366 1096h1M352 1095h1M1284 1398h1M404 1034h1M241 1134h1M1015 1277h1M460 1027h1M948 1407h1M1098 1380h1M910 1216h1M648 1201h1M411 1058h1M1295 1181h1M1085 1338h1M469 968h1M992 1167h1M480 1061h1M1133 1206h1M157 1277h1M132 1055h1M690 1315h1M493 1095h1M584 1243h1M866 1102h1M142 1127h1M837 1080h1M292 1086h1M1307 1277h1M614 1082h1M775 1030h1M1260 1358h1M825 1206h1M1139 1428h1M1141 1437h1M1173 1260h1M724 1015h1M699 1076h1M1242 1211h1M668 1261h1M815 1063h1M494 1004h1M1239 1242h1M818 1070h1M1145 1203h1M453 1145h1M644 1160h1M1266 1415h1M702 1018h1M613 1230h1M1188 1372h1M696 1201h1M1009 1411h1M503 1044h1M142 1065h1M1223 1337h1M1151 1164h1M1188 1183h1M971 1308h1M940 1168h1M381 986h1M855 1241h1M636 1168h1M430 1057h1M318 1065h1M850 1353h1M799 1244h1M1250 1215h1M1292 1266h1M935 1376h1M1096 1222h1M1096 1358h1M387 1035h1M954 1365h1M317 1045h1M1187 1339h1M239 1279h1M731 1292h1M321 1008h1M628 1200h1M659 1185h1M633 1237h1M1169 1302h1M638 1092h1M306 1050h1M796 1243h1M1302 1221h1M429 964h1M185 1290h1M1109 1306h1M894 1307h1M999 1215h1M1277 1435h1M1134 1328h1M482 981h1M372 1230h1M480 1209h1M195 1166h1M321 1107h1M985 1399h1M225 1015h1M1191 1373h1M358 1181h1M772 1334h1M151 1326h1M305 1112h1M892 1323h1M542 992h1M663 1249h1M999 1283h1M229 1135h1M1151 1339h1M875 1134h1M396 994h1M881 1318h1M475 975h1M1281 1340h1M1114 1141h1M1129 1331h1M658 1023h1M1098 1131h1M985 1167h1M834 1311h1M931 1292h1M705 1169h1M399 1243h1M664 1048h1M305 1174h1M242 1016h1M538 991h1M792 1182h1M1004 1392h1M1056 1137h1M884 1184h1M1146 1431h1M1122 1416h1M370 1226h1M1131 1220h1M1095 1370h1M1005 1257h1M636 1078h1M155 1146h1M776 1244h1M1204 1245h1M421 1046h1M694 1124h1M985 1199h1M732 1132h1M692 1030h1M477 981h1M1283 1277h1M1158 1272h1M751 1087h1M775 1050h1M478 956h1M722 1214h1M1111 1396h1M876 1256h1M869 1164h1M259 1227h1M860 1119h1M1267 1211h1M998 1197h1M287 1223h1M1159 1161h1M542 1042h1M999 1369h1M909 1149h1M1045 1247h1M495 1209h1M1204 1325h1M456 1201h1M449 1070h1M819 1331h1M1264 1406h1M460 1144h1M277 1275h1M429 1199h1M1104 1241h1M776 1164h1M1043 1242h1M928 1245h1M1076 1358h1M684 1186h1M1279 1339h1M172 1183h1M487 1107h1M392 1150h1M468 1083h1M1269 1285h1M293 1250h1M658 1243h1M1278 1402h1M275 1138h1M404 1156h1" stroke="#0000ff" stroke-width="2.6" stroke-opacity="0.85" stroke-linecap="round" fill="none"/>
<polyline points="60.7,598.4 62.2,598.4 63.7,598.0 65.2,596.7 66.7,595.4 68.2,594.0 69.7,594.1 71.2,594.2 72.7,593.2 74.2,592.3 75.7,591.5 77.2,591.1 78.7,591.1 80.2,590.2 81.7,589.9 83.2,589.7 84.7,589.1 86.2,588.6 87.7,587.1 89.2,586.3 90.7,586.1 92.2,585.0 93.7,583.7 95.2,583.0 96.7,582.4 98.2,581.6 99.7,580.0 101.2,578.4 102.7,577.9 104.2,577.6 105.7,577.0 107.2,575.6 108.7,575.5 110.2,576.5 111.7,577.0 113.2,576.9 114.7,576.6 116.2,575.7 117.7,575.2 119.2,575.0 120.7,574.7 122.2,574.4 123.7,574.4 125.2,573.8 126.7,573.0 128.2,572.8 129.7,572.4 131.2,571.2 132.7,570.3 134.2,569.8 135.7,569.3 137.2,568.9 138.7,568.7 140.2,568.7 141.7,568.0 143.2,567.4 144.7,566.5 146.2,565.1 147.7,564.4 149.2,563.7 150.7,563.7 152.2,562.8 153.7,561.3 155.2,561.4 156.7,560.6 158.2,559.1 159.7,558.3 161.2,557.8 162.7,556.7 164.2,555.1 165.7,553.9 167.2,552.7 168.7,551.2 170.2,550.6 171.7,550.8 173.2,549.0 174.7,547.8 176.2,547.6 177.7,546.8 179.2,545.1 180.7,543.4 182.2,542.8 183.7,542.5 185.2,542.0 186.7,541.3 188.2,540.5 189.7,539.0 191.2,538.1 192.7,538.4 194.2,539.1 195.7,539.4 197.2,540.7 198.7,541.9 200.2,542.4 201.7,542.6 203.2,542.5 204.7,544.6 206.2,546.4 207.7,546.0 209.2,546.3 210.7,547.4 212.2,548.7 213.7,549.0 215.2,549.4 216.7,550.5 218.2,550.7 219.7,549.9 221.2,549.9 222.7,549.6 224.2,549.3 225.7,549.3 227.2,548.1 228.7,547.5 230.2,548.2 231.7,549.4 233.2,550.5 234.7,552.0 236.2,552.9 237.7,553.9 239.2,554.8 240.7,555.3 242.2,555.8 243.7,556.7 245.2,557.7 246.7,558.2 248.2,560.1 249.7,561.2 251.2,561.3 252.7,562.4 254.2,563.3 255.7,564.3 257.2,565.6 258.7,566.7 260.2,566.7 261.7,567.1 263.2,568.0 264.7,569.3 266.2,570.0 267.7,570.1 269.2,571.4 270.7,572.2 272.2,572.1 273.7,572.3 275.2,572.9 276.7,574.1 278.2,574.4 279.7,575.2 281.2,576.0 282.7,576.1 284.2,576.2 285.7,577.6 287.2,578.6 288.7,577.9 290.2,578.9 291.7,579.8 293.2,580.0 294.7,580.4 296.2,580.6 297.7,580.4 299.2,579.9 300.7,580.0 302.2,580.3 303.7,580.6 305.2,580.1 306.7,579.4 308.2,579.3 309.7,578.7 311.2,578.0 312.7,578.5 314.2,579.5 315.7,579.8 317.2,580.7 318.7,581.2 320.2,581.1 321.7,581.9 323.2,582.6 324.7,583.4 326.2,583.8 327.7,584.2 329.2,585.6 330.7,586.0 332.2,585.1 333.7,584.8 335.2,584.4 336.7,584.2 338.2,584.3 339.7,584.2 341.2,583.2 342.7,582.3 344.2,582.0 345.7,581.6 347.2,581.4 348.7,581.8 350.2,581.8 351.7,582.6 353.2,584.3 354.7,583.9 356.2,583.2 357.7,584.5 359.2,585.3 360.7,584.7 362.2,584.8 363.7,585.9 365.2,586.4 366.7,586.5 368.2,587.2 369.7,587.8 371.2,587.7 372.7,588.1 374.2,587.6 375.7,586.4 377.2,586.2 378.7,586.0 380.2,584.9 381.7,584.9 383.2,585.3 384.7,585.3 386.2,584.4 387.7,583.3 389.2,583.0 390.7,583.4 392.2,585.4 393.7,587.2 395.2,589.0 396.7,590.0 398.2,590.6 399.7,591.9 401.2,592.8 402.7,593.6 404.2,593.7 405.7,593.7 407.2,593.7 408.7,593.7 410.2,594.9 411.7,596.2 413.2,596.6 414.7,597.6 416.2,599.7 417.7,601.3 419.2,602.5 420.7,604.4 422.2,605.7 423.7,606.5 425.2,607.0 426.7,608.1 428.2,608.8 429.7,608.4 431.2,608.8 432.7,609.6 434.2,610.6 435.7,612.2 437.2,613.8 438.7,614.4 440.2,616.0 441.7,617.5 443.2,618.2 444.7,619.8 446.2,621.3 447.7,622.3 449.2,623.4 450.7,623.8 452.2,625.0 453.7,626.6 455.2,627.6 456.7,628.9 458.2,629.8 459.7,630.1 461.2,631.4 462.7,632.6 464.2,632.4 465.7,633.0 467.2,636.4 468.7,640.0 470.2,643.5 471.7,644.1 473.2,644.5 474.7,645.7 476.2,646.7 477.7,647.1 479.2,647.9 480.7,649.0 482.2,649.6 483.7,649.7 485.2,650.8 486.7,651.5 488.2,651.8 489.7,652.6 491.2,652.3 492.7,652.9 494.2,653.6 495.7,653.5 497.2,653.8 498.7,653.9 500.2,653.6 501.7,653.0 503.2,652.7 504.7,652.2 506.2,651.8 507.7,651.4 509.2,650.9 510.7,650.6 512.2,650.9 513.7,650.6 515.2,650.1 516.7,649.0 518.2,647.4 519.7,647.4 521.2,647.6 522.7,646.4 524.2,645.3 525.7,645.0 527.2,643.7 528.7,642.3 530.2,642.1 531.7,643.8 533.2,645.3 534.7,646.7 536.2,646.6 537.7,646.2 539.2,646.3 540.7,646.1 542.2,645.3 543.7,644.8 545.2,644.8 546.7,645.0 548.2,644.4 549.7,644.5 551.2,645.5 552.7,645.6 554.2,645.8 555.7,645.8 557.2,645.5 558.7,645.4 560.2,644.7 561.7,643.1 563.2,642.1 564.7,642.6 566.2,642.8 567.7,643.0 569.2,644.0 570.7,644.5 572.2,644.9 573.7,644.6 575.2,643.7 576.7,643.5 578.2,642.8 579.7,641.8 581.2,641.0 582.7,640.3 584.2,639.9 585.7,640.5 587.2,641.3 588.7,643.1 590.2,644.5 591.7,644.8 593.2,645.4 594.7,647.4 596.2,647.5 597.7,647.7 599.2,648.9 600.7,650.9 602.2,652.8 603.7,652.7 605.2,653.0 606.7,654.1 608.2,654.9 609.7,655.2 611.2,655.3 612.7,655.6 614.2,655.8 615.7,655.5 617.2,655.6 618.7,655.2 620.2,655.0 621.7,655.2 623.2,654.5 624.7,653.7 626.2,653.8 627.7,654.0 629.2,654.4 630.7,655.3 632.2,655.1 633.7,655.1 635.2,655.5 636.7,656.4 638.2,657.4 639.7,657.7 641.2,658.2 642.7,659.2 644.2,659.5 645.7,659.9 647.2,660.5 648.7,661.1 650.2,661.9 651.7,661.4 653.2,660.8 654.7,661.4 656.0,661.8" fill="none" stroke="#0000ee" stroke-width="2.2" stroke-linejoin="round"/>
<path transform="scale(0.5)" d="M1147 1288h1M635 1159h1M499 1119h1M1072 1295h1M973 1301h1M528 1136h1M329 1109h1M437 1104h1M1148 1291h1M1221 1310h1M304 1124h1M520 1134h1M475 1103h1M1013 1301h1M1106 1290h1M211 1152h1M560 1149h1M716 1167h1M515 1130h1M514 1129h1M1065 1288h1M397 1080h1M1103 1289h1M959 1297h1M124 1196h1M154 1180h1M1090 1285h1M666 1169h1M346 1098h1M246 1148h1M476 1106h1M784 1172h1M1282 1319h1M1026 1300h1M424 1094h1M494 1118h1M791 1179h1M1171 1281h1M460 1095h1M517 1130h1M412 1090h1M127 1190h1M275 1136h1M810 1184h1M631 1156h1M781 1164h1M1138 1286h1M1138 1289h1M908 1254h1M864 1213h1M847 1209h1M1281 1316h1M857 1215h1M1251 1309h1M1010 1305h1M1299 1316h1M474 1106h1M894 1243h1M558 1150h1M254 1145h1M984 1302h1M1226 1310h1M284 1132h1M1063 1287h1M687 1166h1M651 1165h1M567 1147h1M1020 1301h1M1236 1311h1M914 1256h1M143 1189h1M387 1077h1M587 1159h1M1134 1283h1M291 1132h1M337 1106h1M1219 1306h1M1137 1283h1M1014 1303h1M1139 1289h1M145 1183h1M1281 1315h1M525 1127h1M696 1163h1M227 1154h1M909 1251h1M888 1238h1M1187 1290h1M738 1174h1M256 1146h1M673 1167h1M447 1099h1M843 1208h1M157 1181h1M962 1292h1M334 1103h1M884 1237h1M692 1165h1M386 1077h1M158 1179h1M1039 1292h1M529 1137h1M357 1089h1M397 1080h1M1066 1291h1M282 1134h1M250 1144h1M550 1145h1M201 1159h1M178 1173h1M1016 1298h1M959 1294h1M249 1148h1M1014 1305h1M328 1107h1M811 1187h1M295 1128h1M1261 1311h1M1067 1291h1M323 1113h1M383 1076h1M236 1151h1M1183 1284h1M666 1169h1M324 1112h1M475 1107h1M476 1102h1M1225 1311h1M901 1242h1M1308 1322h1M1199 1299h1M1132 1283h1M1053 1286h1M974 1299h1M665 1171h1M638 1158h1M436 1102h1M1175 1282h1M1159 1278h1M863 1219h1M225 1158h1M585 1159h1M385 1075h1M614 1153h1M714 1167h1M222 1151h1M1173 1281h1M1071 1294h1M463 1100h1M1207 1303h1M626 1156h1M679 1163h1M825 1191h1M449 1099h1M305 1121h1M465 1100h1M651 1165h1M936 1278h1M620 1158h1M298 1127h1M1067 1292h1M853 1212h1M228 1153h1M916 1258h1M1296 1320h1M1180 1284h1M133 1195h1M219 1152h1M1123 1287h1M380 1081h1M1265 1307h1M918 1257h1M614 1158h1M1014 1299h1M750 1174h1M160 1178h1M1220 1310h1M196 1163h1M1135 1286h1M1166 1279h1M672 1165h1M166 1179h1M1135 1287h1M1238 1309h1M460 1095h1M775 1166h1M1079 1291h1M640 1162h1M178 1172h1M247 1151h1M1031 1298h1M442 1100h1M1004 1306h1M866 1221h1M967 1299h1M368 1084h1M246 1151h1M711 1167h1M808 1190h1M825 1191h1M1261 1310h1M651 1165h1M785 1168h1M334 1102h1M429 1098h1M684 1162h1M687 1160h1M1128 1281h1M1212 1306h1M653 1166h1M1154 1287h1M842 1210h1M295 1126h1M416 1093h1M867 1221h1M1135 1285h1M1061 1285h1M377 1081h1M575 1154h1M1072 1295h1M1032 1295h1M919 1263h1M854 1214h1M1032 1298h1M1258 1309h1M807 1190h1M449 1094h1M333 1101h1M1284 1312h1M358 1091h1M991 1310h1M875 1228h1M1210 1306h1M424 1095h1M401 1082h1M929 1265h1M921 1262h1M280 1136h1M1140 1290h1M1159 1282h1M466 1099h1M887 1234h1M992 1307h1M1257 1308h1M231 1150h1M397 1086h1M248 1149h1M774 1166h1M269 1141h1M383 1070h1M1221 1309h1M1244 1311h1M810 1187h1M756 1171h1M1283 1316h1M262 1142h1M523 1135h1M852 1212h1M465 1099h1M1296 1323h1M234 1152h1M1121 1285h1M528 1137h1M179 1169h1M750 1177h1M428 1100h1M421 1094h1M1300 1323h1M970 1303h1M1061 1288h1M235 1149h1M951 1293h1M312 1122h1M781 1164h1M883 1231h1M730 1173h1M1107 1289h1M936 1276h1M126 1195h1M706 1165h1M498 1116h1M191 1166h1M284 1134h1M895 1244h1M729 1170h1M379 1077h1M927 1262h1M1300 1321h1M1250 1302h1M1271 1311h1M962 1297h1M708 1165h1M486 1111h1M478 1107h1M1216 1308h1M547 1147h1M1127 1287h1M872 1223h1M309 1122h1M209 1152h1M530 1138h1M690 1164h1M1277 1311h1M292 1134h1M274 1138h1M302 1124h1M735 1169h1M489 1114h1M1158 1285h1M547 1145h1M594 1157h1M606 1158h1M759 1170h1M481 1110h1M465 1101h1M449 1090h1M954 1293h1M856 1213h1M128 1196h1M479 1109h1M779 1165h1M1115 1294h1M1135 1285h1M980 1305h1M1151 1287h1M1090 1287h1M523 1134h1M570 1149h1M216 1153h1M175 1172h1M574 1153h1M1091 1290h1M736 1176h1M888 1240h1M1185 1286h1M141 1189h1M976 1302h1M579 1158h1M663 1172h1M295 1126h1M976 1298h1M265 1144h1M650 1164h1M698 1166h1M205 1157h1M1246 1310h1M320 1117h1M1054 1287h1M969 1300h1M1102 1285h1M765 1169h1M945 1288h1M321 1114h1M216 1154h1M1185 1290h1M675 1168h1M880 1232h1M967 1298h1M752 1177h1M1225 1311h1M779 1167h1M1066 1292h1M1244 1308h1M997 1303h1M834 1197h1M663 1170h1M1015 1306h1M1076 1291h1M265 1139h1M595 1160h1M662 1169h1M264 1140h1M858 1216h1M599 1162h1M1137 1285h1M514 1124h1M367 1081h1M472 1103h1M742 1175h1M820 1190h1M1071 1292h1M301 1124h1M767 1170h1M762 1172h1M318 1118h1M492 1111h1M895 1244h1M1149 1289h1M842 1202h1M173 1172h1M1018 1301h1M259 1142h1M290 1130h1M685 1166h1M980 1302h1M999 1306h1M986 1309h1M1045 1288h1M133 1189h1M655 1169h1M782 1167h1M1209 1305h1M522 1130h1M417 1094h1M444 1097h1M529 1139h1M580 1156h1M265 1141h1M1095 1290h1M764 1171h1M1294 1320h1M878 1230h1M718 1169h1M1125 1285h1M460 1097h1M1061 1287h1M781 1164h1M259 1147h1M565 1151h1M539 1139h1M587 1160h1M799 1181h1M610 1156h1M634 1159h1M1265 1309h1M323 1113h1M875 1220h1M575 1154h1M588 1158h1M942 1288h1M898 1249h1M582 1160h1M716 1168h1M1252 1305h1M359 1093h1M554 1143h1M989 1304h1M989 1306h1M809 1189h1M1167 1279h1M597 1164h1M246 1146h1M400 1084h1M1308 1321h1M709 1165h1M1298 1322h1M163 1180h1M840 1200h1M365 1086h1M380 1079h1M476 1105h1M163 1176h1M225 1153h1M710 1164h1M1262 1308h1M824 1194h1M857 1214h1M1284 1316h1M1008 1307h1M515 1129h1M557 1149h1M1243 1309h1M289 1132h1M391 1078h1M162 1182h1M1283 1315h1M529 1134h1M1088 1291h1M738 1175h1M998 1308h1M202 1158h1M164 1177h1M295 1124h1M510 1127h1M1172 1282h1M307 1123h1M1311 1321h1M1287 1319h1M1234 1311h1M1043 1292h1M398 1084h1M669 1171h1M880 1233h1M745 1173h1M1094 1287h1M376 1079h1M1212 1308h1M715 1168h1M1247 1309h1M523 1132h1M1132 1283h1M604 1157h1M725 1171h1M1113 1293h1M1038 1292h1M1144 1292h1M935 1273h1M1098 1289h1M736 1172h1M1232 1311h1M1178 1285h1M175 1176h1M375 1079h1M334 1106h1M249 1150h1M409 1088h1M643 1162h1M361 1086h1M1171 1280h1M991 1308h1M882 1236h1M775 1164h1M885 1236h1M1145 1288h1M635 1161h1M636 1162h1M248 1148h1M530 1132h1M584 1158h1M248 1149h1M1278 1313h1M556 1146h1M277 1139h1M411 1087h1M1018 1300h1M1195 1294h1M791 1179h1M736 1173h1M363 1085h1M445 1101h1M1096 1292h1M1188 1292h1M636 1161h1M517 1127h1M939 1278h1M974 1303h1M1272 1312h1M675 1168h1M960 1296h1M452 1096h1M967 1297h1M449 1095h1M1159 1284h1M789 1173h1M985 1305h1M1167 1277h1M201 1161h1M295 1131h1M234 1143h1M367 1085h1M920 1261h1M296 1129h1M1083 1293h1M1162 1281h1M477 1108h1M141 1193h1M970 1302h1M656 1166h1M512 1128h1M581 1158h1M1160 1284h1M1188 1291h1M1083 1289h1M149 1184h1M379 1078h1M674 1168h1M906 1251h1M699 1159h1M342 1096h1M555 1148h1M835 1199h1M1146 1294h1M669 1169h1M211 1152h1M498 1113h1M240 1146h1M142 1190h1M466 1102h1M1168 1276h1M378 1080h1M283 1135h1M1098 1292h1M655 1166h1M749 1171h1M1223 1308h1M1133 1287h1M982 1305h1M1090 1289h1M253 1148h1M490 1116h1M177 1172h1M445 1099h1M953 1293h1M784 1166h1M574 1154h1M340 1101h1M1009 1307h1M130 1194h1M762 1172h1M365 1084h1M460 1096h1M520 1134h1M364 1089h1M685 1160h1M787 1177h1M919 1260h1M251 1148h1M865 1217h1M1023 1295h1M1234 1311h1M496 1115h1M161 1178h1M384 1075h1M1265 1312h1M902 1248h1M971 1297h1M1022 1300h1M831 1197h1M1196 1296h1M438 1097h1M480 1109h1M1206 1303h1M834 1202h1M1084 1292h1M644 1165h1M543 1146h1M479 1106h1M600 1158h1M1000 1307h1M501 1122h1M771 1168h1M417 1094h1M780 1160h1M520 1133h1M1195 1292h1M382 1078h1M1303 1324h1M858 1213h1M865 1215h1M534 1138h1M986 1300h1M674 1168h1M235 1152h1M168 1174h1M556 1148h1M320 1111h1M1298 1319h1M982 1308h1M331 1108h1M310 1117h1M961 1299h1M363 1089h1M431 1100h1M363 1085h1M411 1088h1M535 1142h1M254 1147h1M843 1207h1M976 1299h1M945 1289h1M998 1305h1M514 1128h1M383 1076h1M184 1168h1M437 1102h1M1127 1286h1M1133 1284h1M225 1150h1M499 1120h1M836 1200h1M192 1164h1M513 1126h1M1288 1317h1M1141 1290h1M137 1187h1M256 1146h1M825 1193h1M592 1159h1M824 1189h1M224 1156h1M301 1128h1M1164 1282h1M637 1165h1M342 1103h1M1082 1292h1M1178 1285h1M604 1161h1M257 1142h1M1150 1288h1M1082 1291h1M344 1097h1M560 1152h1M1240 1311h1M250 1148h1M766 1170h1M955 1295h1M779 1169h1M630 1158h1M1093 1288h1M754 1174h1M435 1104h1M798 1183h1M149 1182h1M337 1104h1M1251 1308h1M913 1255h1M802 1186h1M1107 1291h1M129 1190h1M152 1180h1M1284 1315h1M530 1141h1M921 1260h1M607 1159h1M253 1147h1M1150 1286h1M685 1166h1M587 1157h1M263 1140h1M733 1173h1M691 1159h1M488 1114h1M324 1113h1M871 1224h1M302 1129h1M877 1232h1M283 1136h1M247 1145h1M133 1191h1M714 1164h1M875 1228h1M475 1101h1M252 1151h1M418 1093h1M357 1092h1M1060 1285h1M808 1186h1M236 1148h1M455 1092h1M1000 1307h1M789 1179h1M861 1217h1M1123 1287h1M703 1165h1M1037 1296h1M997 1308h1M771 1166h1M1006 1304h1M625 1156h1M287 1132h1M167 1177h1M413 1087h1M363 1086h1M470 1101h1M276 1138h1M1174 1279h1M578 1158h1M1178 1284h1M244 1149h1M243 1149h1M792 1180h1M136 1194h1M1177 1282h1M673 1168h1M339 1104h1M271 1138h1M752 1172h1M591 1160h1M1215 1310h1M834 1200h1M1258 1311h1M238 1151h1M930 1264h1M894 1242h1M795 1180h1M1013 1305h1M1032 1294h1M488 1111h1M624 1153h1M754 1172h1M1114 1292h1M1002 1306h1M561 1150h1M1039 1295h1M954 1293h1M175 1175h1M611 1159h1M1208 1302h1M696 1165h1M546 1144h1M1011 1302h1M807 1188h1M232 1151h1M1182 1288h1M1039 1289h1M814 1186h1M944 1288h1M1260 1309h1M1275 1313h1M301 1127h1M255 1142h1M243 1149h1M752 1174h1M637 1160h1M284 1130h1M376 1078h1M803 1185h1M365 1085h1M553 1144h1M347 1092h1M877 1231h1M341 1097h1M857 1218h1M228 1152h1M545 1146h1M430 1100h1M560 1146h1M1030 1298h1M818 1190h1M886 1237h1M286 1134h1M857 1213h1M274 1136h1M1007 1305h1M1118 1287h1M1257 1306h1M249 1145h1M500 1122h1M1173 1279h1M492 1119h1M456 1099h1M915 1257h1M520 1127h1M578 1157h1M137 1188h1M672 1168h1M1151 1284h1M727 1167h1M1005 1307h1M306 1122h1M473 1106h1M1297 1323h1M1049 1289h1M810 1191h1M842 1208h1M890 1232h1M1228 1311h1M857 1214h1M550 1142h1M938 1279h1M1028 1295h1M252 1144h1M1206 1301h1M543 1146h1M643 1163h1M1036 1298h1M1137 1289h1M977 1301h1M408 1087h1M301 1121h1M215 1151h1M621 1157h1M1052 1286h1M1103 1289h1M497 1118h1M158 1182h1M322 1114h1M306 1122h1M1098 1290h1M1146 1288h1M279 1134h1M731 1171h1M189 1168h1M1292 1320h1M1280 1312h1M325 1112h1M628 1158h1M811 1190h1M1073 1293h1M689 1165h1M368 1084h1M134 1192h1M1165 1278h1M129 1194h1M916 1258h1M1001 1305h1M1164 1280h1M390 1074h1M901 1251h1M1219 1308h1M900 1250h1M558 1149h1M1295 1323h1M335 1108h1M225 1153h1M558 1150h1M1006 1303h1M376 1079h1M370 1083h1M622 1158h1M279 1134h1M227 1151h1M1244 1312h1M770 1169h1M901 1245h1M863 1216h1M756 1175h1M392 1077h1M178 1172h1M180 1170h1M1065 1290h1M873 1225h1M990 1307h1M271 1138h1M812 1184h1M1081 1292h1M1173 1281h1M253 1148h1M160 1184h1M1111 1291h1M317 1117h1M1179 1284h1M229 1153h1M845 1213h1M409 1088h1M709 1168h1M229 1152h1M542 1143h1M1152 1289h1M1104 1289h1M974 1301h1M833 1199h1M252 1147h1M616 1159h1M919 1260h1M1161 1283h1M412 1091h1M692 1160h1M1251 1310h1M417 1089h1M274 1134h1M767 1171h1M591 1156h1M1100 1289h1M1001 1305h1M339 1102h1M810 1186h1M1108 1292h1M407 1087h1M158 1180h1M127 1196h1M787 1173h1M515 1130h1M739 1172h1M1280 1315h1M1145 1290h1M709 1165h1M836 1200h1M1178 1282h1M908 1252h1M342 1098h1M1165 1279h1M532 1137h1M826 1191h1M516 1129h1M1307 1323h1M557 1149h1M172 1174h1M1199 1300h1M473 1103h1M168 1176h1M556 1148h1M932 1268h1M254 1146h1M1198 1299h1M667 1173h1M875 1230h1M299 1125h1M559 1147h1M862 1219h1M1181 1283h1M645 1161h1M1178 1285h1M660 1168h1M1267 1311h1M917 1258h1M1233 1312h1M845 1209h1M701 1165h1M1051 1289h1M497 1119h1M737 1173h1M467 1101h1M770 1169h1M449 1096h1M716 1167h1M535 1137h1M1130 1286h1M1284 1315h1M1064 1292h1M1034 1293h1M520 1133h1M769 1166h1M728 1167h1M707 1166h1M497 1119h1M298 1129h1M162 1176h1M332 1108h1M466 1094h1M122 1201h1M567 1154h1M849 1213h1M583 1158h1M936 1273h1M1061 1286h1M545 1138h1M1065 1289h1M438 1100h1M477 1107h1M312 1119h1M180 1168h1M359 1090h1M1267 1311h1M742 1176h1M664 1171h1M900 1244h1M791 1180h1M725 1166h1M721 1167h1M1016 1298h1M455 1098h1M1127 1286h1M168 1174h1M534 1138h1M1139 1291h1M988 1306h1M598 1162h1M1135 1289h1M177 1172h1M713 1167h1M573 1153h1M907 1249h1M1063 1286h1M860 1216h1M1035 1296h1M398 1082h1M1254 1308h1M741 1173h1M434 1100h1M376 1082h1M987 1305h1M533 1140h1M914 1250h1M925 1264h1M953 1292h1M443 1098h1M541 1144h1M1068 1290h1M272 1141h1M1049 1290h1M1197 1296h1M1077 1290h1M899 1239h1M1297 1322h1M228 1151h1M1287 1319h1M571 1152h1M914 1258h1M951 1293h1M893 1242h1M253 1148h1M457 1096h1M906 1254h1M236 1149h1M1170 1278h1M670 1171h1M1310 1322h1M837 1202h1M483 1111h1M435 1103h1M521 1130h1M372 1082h1M801 1184h1M977 1306h1M445 1100h1M920 1259h1M292 1130h1M758 1173h1M347 1099h1M219 1149h1M165 1179h1M715 1167h1M1214 1306h1M1304 1323h1M136 1189h1M297 1131h1M939 1282h1M712 1166h1M932 1267h1M267 1141h1M466 1102h1M1184 1286h1M968 1299h1M1104 1288h1M664 1168h1M1106 1292h1M993 1309h1M1091 1289h1M440 1100h1M786 1172h1M1288 1318h1M1211 1305h1M1269 1309h1M585 1154h1M655 1167h1M1065 1289h1M1142 1290h1M517 1131h1M366 1085h1M477 1108h1M197 1160h1M723 1174h1M149 1182h1M1243 1307h1M1262 1310h1M1019 1299h1M846 1211h1M998 1307h1M764 1172h1M1200 1299h1M928 1264h1M1210 1307h1M700 1164h1M595 1160h1M1147 1293h1M412 1086h1M1106 1290h1M649 1163h1M1106 1284h1M895 1247h1M183 1167h1M327 1111h1M679 1166h1M814 1187h1M372 1080h1M881 1235h1M573 1153h1M1104 1292h1M1180 1284h1M899 1243h1M543 1143h1M334 1107h1M190 1165h1M1257 1309h1M149 1187h1M631 1153h1M806 1190h1M715 1170h1M1271 1307h1M758 1173h1M1099 1290h1M218 1150h1M271 1139h1M221 1152h1M428 1099h1M304 1126h1M957 1295h1M318 1114h1M1082 1295h1M494 1117h1M401 1084h1M1280 1315h1M845 1212h1M195 1158h1M1120 1283h1M803 1187h1M577 1155h1M311 1115h1M628 1156h1M422 1094h1M906 1250h1M710 1169h1M752 1171h1M1114 1288h1M181 1169h1M676 1164h1M786 1172h1M635 1159h1M398 1079h1M346 1099h1M330 1104h1M916 1258h1M352 1093h1M193 1161h1M404 1085h1M988 1305h1M839 1206h1M424 1095h1M916 1260h1M1128 1282h1M945 1292h1M744 1173h1M946 1289h1M1299 1320h1M873 1229h1M352 1091h1M367 1087h1M1124 1287h1M486 1108h1M1237 1309h1M192 1163h1M324 1115h1M196 1164h1M449 1093h1M340 1100h1M540 1144h1M351 1095h1M1130 1284h1M149 1185h1M534 1136h1M552 1144h1M803 1184h1M1085 1288h1M1230 1312h1M444 1099h1M600 1160h1M1293 1319h1M765 1172h1M534 1141h1M882 1233h1M777 1166h1M802 1186h1M196 1162h1M906 1253h1M829 1195h1M853 1214h1M325 1110h1M590 1157h1M697 1167h1M867 1223h1M520 1129h1M1205 1301h1M796 1182h1M556 1144h1M731 1172h1M654 1166h1M1108 1291h1M1025 1300h1M1260 1306h1M543 1143h1M351 1094h1M154 1181h1M458 1097h1M1034 1297h1M666 1170h1M1069 1295h1M1253 1304h1M1072 1293h1M594 1158h1M722 1170h1M621 1157h1M1042 1290h1M972 1302h1M444 1098h1M1161 1281h1M1169 1278h1M1106 1292h1M1193 1293h1M242 1151h1M575 1152h1M129 1192h1M1193 1293h1M183 1170h1M392 1078h1M444 1099h1M175 1174h1M1129 1283h1M470 1096h1M512 1127h1M974 1303h1M726 1167h1M719 1166h1M305 1127h1M933 1267h1M801 1184h1M751 1174h1M1104 1289h1M1183 1286h1M459 1093h1M775 1166h1M483 1113h1M668 1169h1M313 1120h1M1022 1300h1M485 1108h1M307 1120h1M750 1173h1M1200 1301h1M376 1073h1M1230 1314h1M731 1171h1M532 1138h1M1194 1293h1M355 1092h1M184 1170h1M933 1268h1M259 1145h1M821 1188h1M852 1212h1M723 1169h1M458 1098h1M837 1204h1M678 1167h1M135 1193h1M184 1173h1M556 1148h1M693 1165h1M448 1101h1M240 1150h1M125 1196h1M1057 1285h1M421 1095h1M622 1157h1M1175 1284h1M302 1125h1M519 1134h1M313 1120h1M798 1184h1M678 1166h1M991 1306h1M464 1100h1M983 1302h1M811 1189h1M1089 1292h1M892 1244h1M1003 1306h1M545 1144h1M239 1151h1M297 1129h1M639 1162h1M576 1154h1M1250 1310h1M648 1161h1M359 1087h1M265 1143h1M1285 1320h1M1137 1288h1M1291 1320h1M1071 1295h1M189 1165h1M1134 1288h1M124 1201h1M1266 1309h1M262 1148h1M1113 1288h1M1095 1287h1M728 1168h1M1311 1318h1M280 1133h1M1222 1312h1M1226 1307h1M1113 1292h1M253 1140h1M581 1158h1M1130 1284h1M195 1160h1M818 1187h1M152 1185h1M922 1266h1M408 1086h1M329 1112h1M849 1214h1M579 1154h1M420 1097h1M1266 1311h1M345 1097h1M1116 1292h1M234 1149h1M190 1166h1M410 1090h1M397 1079h1M1183 1289h1M1311 1325h1M375 1083h1M383 1076h1M1311 1326h1M1297 1322h1M454 1091h1M247 1150h1M325 1112h1M1054 1286h1M704 1165h1M862 1218h1M891 1241h1M1101 1289h1M782 1164h1M328 1108h1M381 1079h1M189 1166h1M140 1188h1M361 1086h1M446 1098h1M973 1305h1M1052 1290h1M159 1175h1M545 1144h1M1192 1295h1M352 1090h1M973 1304h1M576 1156h1M614 1157h1M1287 1318h1M437 1101h1M266 1143h1M142 1186h1M438 1097h1M1104 1290h1M1129 1284h1M389 1076h1M553 1152h1M1297 1321h1M594 1159h1M1126 1286h1M661 1168h1M344 1097h1M1241 1306h1M1132 1286h1M1053 1286h1M565 1148h1M161 1181h1M500 1121h1M952 1290h1M171 1173h1M523 1132h1M1237 1313h1M499 1120h1M808 1187h1M653 1162h1M988 1307h1M1227 1308h1M675 1170h1M193 1166h1M122 1196h1M1264 1310h1M1039 1294h1M798 1182h1M883 1235h1M515 1129h1M828 1194h1M737 1171h1M1157 1287h1M616 1154h1M507 1118h1M608 1157h1M199 1158h1M266 1143h1M856 1216h1M964 1299h1M605 1159h1M1292 1319h1M229 1154h1M394 1080h1M1100 1287h1M163 1180h1M1066 1291h1M1249 1304h1M728 1169h1M312 1118h1M823 1192h1M141 1189h1M129 1191h1M388 1076h1M689 1162h1M148 1183h1M841 1207h1M523 1135h1M153 1183h1M1264 1310h1M675 1168h1M958 1297h1M651 1166h1M1061 1286h1M702 1166h1M709 1168h1M1271 1309h1M1148 1289h1M716 1164h1M836 1205h1M1052 1289h1M752 1171h1M427 1097h1M921 1261h1M973 1296h1M954 1294h1M1158 1283h1M149 1183h1M304 1122h1M425 1094h1M994 1311h1M1030 1297h1M875 1225h1M1272 1306h1M789 1176h1M712 1167h1M1061 1282h1M558 1147h1M1174 1277h1M1238 1311h1M628 1160h1M1192 1288h1M1245 1308h1M1076 1293h1M1115 1293h1M792 1182h1M1298 1326h1M1168 1277h1M582 1159h1M785 1172h1M328 1108h1M1013 1301h1M642 1162h1M657 1172h1M1222 1312h1M980 1303h1M1134 1288h1M810 1189h1M1180 1283h1M163 1179h1M353 1093h1M921 1257h1M347 1093h1M1076 1292h1M991 1304h1M935 1273h1M637 1160h1M553 1144h1M366 1090h1M695 1162h1M566 1148h1M319 1115h1M594 1158h1M1274 1314h1M847 1213h1M1013 1307h1M1004 1302h1M828 1194h1M1014 1301h1M151 1184h1M335 1103h1M549 1145h1M149 1183h1M668 1169h1M167 1176h1M1159 1282h1M1122 1284h1M863 1219h1M502 1119h1M979 1301h1M1008 1304h1M696 1163h1M502 1122h1M900 1248h1M960 1295h1M1203 1304h1M1261 1306h1M617 1157h1M810 1186h1M602 1159h1M175 1173h1M762 1172h1M548 1145h1M1266 1311h1M1002 1306h1M394 1077h1M836 1202h1M1270 1309h1M504 1123h1M194 1162h1M1280 1316h1M728 1172h1M425 1097h1M1110 1288h1M587 1157h1M675 1164h1M857 1211h1M1058 1286h1M242 1152h1M1138 1288h1M1213 1308h1M1237 1307h1M552 1148h1M1187 1293h1M549 1149h1M1159 1282h1M729 1170h1M1162 1280h1M910 1251h1M1160 1280h1M1016 1302h1" stroke="#0000ff" stroke-width="2.6" stroke-opacity="0.8" stroke-linecap="round" fill="none"/>
<path d="M128.33 763.60v-6.2M128.33 451.50v6.2M195.97 763.60v-6.2M195.97 451.50v6.2M263.60 763.60v-6.2M263.60 451.50v6.2M331.23 763.60v-6.2M331.23 451.50v6.2M398.87 763.60v-6.2M398.87 451.50v6.2M466.50 763.60v-6.2M466.50 451.50v6.2M534.13 763.60v-6.2M534.13 451.50v6.2M601.77 763.60v-6.2M601.77 451.50v6.2M60.70 721.99h6.2M669.40 721.99h-6.2M60.70 680.37h6.2M669.40 680.37h-6.2M60.70 638.76h6.2M669.40 638.76h-6.2M60.70 597.15h6.2M669.40 597.15h-6.2M60.70 555.53h6.2M669.40 555.53h-6.2M60.70 513.92h6.2M669.40 513.92h-6.2M60.70 472.31h6.2M669.40 472.31h-6.2" stroke="#575757" stroke-width="1.25" fill="none"/>
<rect x="60.70" y="451.50" width="608.70" height="312.10" stroke="#575757" stroke-width="1.4" fill="none"/>
<text transform="translate(60.70 781.00) scale(1 1.08)" class="tk" text-anchor="middle">0</text>
<text transform="translate(128.33 781.00) scale(1 1.08)" class="tk" text-anchor="middle">500</text>
<text transform="translate(195.97 781.00) scale(1 1.08)" class="tk" text-anchor="middle">1000</text>
<text transform="translate(263.60 781.00) scale(1 1.08)" class="tk" text-anchor="middle">1500</text>
<text transform="translate(331.23 781.00) scale(1 1.08)" class="tk" text-anchor="middle">2000</text>
<text transform="translate(398.87 781.00) scale(1 1.08)" class="tk" text-anchor="middle">2500</text>
<text transform="translate(466.50 781.00) scale(1 1.08)" class="tk" text-anchor="middle">3000</text>
<text transform="translate(534.13 781.00) scale(1 1.08)" class="tk" text-anchor="middle">3500</text>
<text transform="translate(601.77 781.00) scale(1 1.08)" class="tk" text-anchor="middle">4000</text>
<text transform="translate(669.40 781.00) scale(1 1.08)" class="tk" text-anchor="middle">4500</text>
<text transform="translate(56.40 768.00) scale(1 1.08)" class="tk" text-anchor="end">-200</text>
<text transform="translate(56.40 726.39) scale(1 1.08)" class="tk" text-anchor="end">0</text>
<text transform="translate(56.40 684.77) scale(1 1.08)" class="tk" text-anchor="end">200</text>
<text transform="translate(56.40 643.16) scale(1 1.08)" class="tk" text-anchor="end">400</text>
<text transform="translate(56.40 601.55) scale(1 1.08)" class="tk" text-anchor="end">600</text>
<text transform="translate(56.40 559.93) scale(1 1.08)" class="tk" text-anchor="end">800</text>
<text transform="translate(56.40 518.32) scale(1 1.08)" class="tk" text-anchor="end">1000</text>
<text transform="translate(56.40 476.71) scale(1 1.08)" class="tk" text-anchor="end">1200</text>
<text x="363.30" y="442.30" class="tt" style="font-size:16.1px" text-anchor="middle">The original data of Laoshan Area</text>
<text x="365.40" y="802.00" class="al" style="font-size:16.1px" text-anchor="middle">Distance Along Track (m)</text>
<text transform="translate(20.40 607.50) rotate(-90)" class="al" style="font-size:16px" text-anchor="middle">Height (m)</text>
<rect x="509.4" y="467.9" width="143.0" height="18.9" fill="#fff" stroke="#575757" stroke-width="1.1"/>
<circle cx="521.8" cy="477.3" r="4" fill="#0000ff"/>
<text x="534.7" y="480.6" class="lg" textLength="115.4" lengthAdjust="spacingAndGlyphs">Original point cloud</text>
<text x="343.5" y="838.3" class="cap" style="font-size:22.5px" text-anchor="middle"><tspan class="par">(</tspan>b<tspan class="par">)</tspan></text>
<path transform="scale(0.5)" d="M494 1838h1m18 0h1m-16 1h1m0 0h1m12 0h1m8 1h1m-42 1h1m46 0h1m-22 1h1m2 0h1m12 0h1m-25 1h1m30 0h1m5 0h1m-57 1h1m34 0h1m7 0h1m3 0h1m-58 1h1m-5 1h1m32 0h1m17 0h1m-56 1h1m0 0h1m26 0h1m21 0h1m6 0h1m24 0h1m-72 1h1m64 0h1m5 0h1m-60 1h1m10 0h1m2 1h1m10 0h1m0 0h1m30 1h1m-242 1h1m18 0h1m17 0h1m37 0h1m84 0h1m7 0h1m45 0h1m5 0h1m-212 1h1m66 0h1m6 0h1m87 0h1m18 0h1m8 0h1m6 0h1m23 0h1m-239 1h1m33 0h1m3 0h1m9 0h1m0 0h1m9 0h1m26 0h1m11 0h1m68 0h1m1 0h1m14 0h1m3 0h1m17 0h1m44 0h1m8 0h1m-229 1h1m0 0h1m48 0h1m3 0h1m9 0h1m106 0h1m20 0h1m13 0h1m13 0h1m-257 1h1m17 0h1m17 0h1m6 0h1m1 0h1m27 0h1m0 0h1m4 0h1m0 0h1m12 0h1m11 0h1m71 0h1m10 0h1m0 0h1m35 0h1m19 0h1m-254 1h1m54 0h1m4 0h1m6 0h1m0 0h1m13 0h1m16 0h1m155 0h1m-220 1h1m30 0h1m29 0h1m7 0h1m91 0h1m60 0h1m12 0h1m-237 1h1m2 0h1m0 0h1m68 0h1m1 0h1m109 0h1m31 0h1m-256 1h1m28 0h1m1 0h1m4 0h1m21 0h1m9 0h1m14 0h1m4 0h1m94 0h1m84 0h1m-273 1h1m29 0h1m8 0h1m8 0h1m14 0h1m9 0h1m1 0h1m26 0h1m18 0h1m117 0h1m-237 1h1m11 0h1m21 0h1m34 0h1m29 0h1m1 0h1m8 0h1m72 0h1m10 0h1m37 0h1m-208 1h1m8 0h1m0 0h1m42 0h1m127 0h1m55 0h1m3 0h1m13 0h1m1 0h1m-245 1h1m25 0h1m13 0h1m11 0h1m201 0h1m2 0h1m-253 1h1m15 0h1m1 0h1m4 0h1m4 0h1m28 0h1m0 0h1m6 0h1m108 0h1m51 0h1m0 0h1m-231 1h1m0 0h1m5 0h1m15 0h1m5 0h1m18 0h1m13 0h1m105 0h1m15 0h1m55 0h1m-253 1h1m4 0h1m6 0h1m13 0h1m4 0h1m14 0h1m17 0h1m108 0h1m31 0h1m24 0h1m29 0h1m15 0h1m-275 1h1m40 0h1m36 0h1m82 0h1m2 0h1m4 0h1m11 0h1m31 0h1m21 0h1m3 0h1m0 0h1m6 0h1m24 0h1m2 0h1m-297 1h1m29 0h1m8 0h1m8 0h1m8 0h1m217 0h1m7 0h1m3 0h1m-261 1h1m1 0h1m36 0h1m0 0h1m36 0h1m82 0h1m23 0h1m4 0h1m-176 1h1m49 0h1m9 0h1m9 0h1m63 0h1m23 0h1m10 0h1m36 0h1m0 0h1m8 0h1m20 0h1m1 0h1m-293 1h1m6 0h1m40 0h1m22 0h1m37 0h1m67 0h1m11 0h1m2 0h1m48 0h1m38 0h1m11 0h1m8 0h1m6 0h1m-305 1h1m1 0h1m47 0h1m7 0h1m25 0h1m15 0h1m42 0h1m0 0h1m13 0h1m7 0h1m4 0h1m4 0h1m7 0h1m82 0h1m38 0h1m-303 1h1m1 0h1m17 0h1m26 0h1m4 0h1m66 0h1m11 0h1m1 0h1m5 0h1m7 0h1m12 0h1m3 0h1m20 0h1m49 0h1m9 0h1m24 0h1m23 0h1m0 0h1m4 0h1m-256 1h1m0 0h1m0 0h1m1 0h1m2 0h1m1 0h1m12 0h1m26 0h1m3 0h1m39 0h1m4 0h1m34 0h1m34 0h1m0 0h1m15 0h1m58 0h1m17 0h1m10 0h1m-308 1h1m18 0h1m8 0h1m0 0h1m0 0h1m1 0h1m4 0h1m7 0h1m1 0h1m30 0h1m26 0h1m2 0h1m1 0h1m10 0h1m35 0h1m23 0h1m23 0h1m18 0h1m28 0h1m38 0h1m13 0h1m-321 1h1m4 0h1m4 0h1m2 0h1m2 0h1m18 0h1m2 0h1m0 0h1m10 0h1m3 0h1m2 0h1m2 0h1m6 0h1m22 0h1m24 0h1m20 0h1m1 0h1m0 0h1m11 0h1m5 0h1m3 0h1m2 0h1m1 0h1m7 0h1m36 0h1m15 0h1m8 0h1m17 0h1m23 0h1m2 0h1m26 0h1m-298 1h1m6 0h1m36 0h1m12 0h1m27 0h1m2 0h1m75 0h1m1 0h1m5 0h1m6 0h1m16 0h1m31 0h1m1 0h1m24 0h1m5 0h1m20 0h1m2 0h1m1 0h1m30 0h1m2 0h1m-325 1h1m33 0h1m27 0h1m38 0h1m7 0h1m5 0h1m12 0h1m2 0h1m4 0h1m0 0h1m10 0h1m22 0h1m108 0h1m-325 1h1m10 0h1m18 0h1m39 0h1m26 0h1m2 0h1m11 0h1m7 0h1m4 0h1m0 0h1m5 0h1m15 0h1m17 0h1m7 0h1m9 0h1m11 0h1m18 0h1m2 0h1m5 0h1m15 0h1m11 0h1m77 0h1m5 0h1m-308 1h1m25 0h1m23 0h1m0 0h1m24 0h1m34 0h1m34 0h1m17 0h1m17 0h1m3 0h1m27 0h1m15 0h1m1 0h1m85 0h1m5 0h1m23 0h1m5 0h1m-368 1h1m10 0h1m7 0h1m17 0h1m5 0h1m17 0h1m3 0h1m43 0h1m18 0h1m5 0h1m1 0h1m3 0h1m16 0h1m15 0h1m5 0h1m4 0h1m11 0h1m20 0h1m8 0h1m83 0h1m2 0h1m15 0h1m21 0h1m6 0h1m4 0h1m-380 1h1m14 0h1m9 0h1m6 0h1m13 0h1m4 0h1m9 0h1m17 0h1m55 0h1m10 0h1m1 0h1m20 0h1m3 0h1m5 0h1m10 0h1m15 0h1m4 0h1m2 0h1m15 0h1m54 0h1m5 0h1m3 0h1m39 0h1m11 0h1m-343 1h1m10 0h1m24 0h1m1 0h1m6 0h1m6 0h1m22 0h1m1 0h1m14 0h1m57 0h1m1 0h1m23 0h1m3 0h1m5 0h1m5 0h1m8 0h1m22 0h1m32 0h1m3 0h1m113 0h1m-385 1h1m22 0h1m41 0h1m56 0h1m8 0h1m1 0h1m10 0h1m12 0h1m2 0h1m28 0h1m2 0h1m0 0h1m7 0h1m3 0h1m4 0h1m6 0h1m16 0h1m17 0h1m37 0h1m31 0h1m17 0h1m20 0h1m0 0h1m1 0h1m27 0h1m9 0h1m1 0h1m-402 1h1m21 0h1m2 0h1m12 0h1m2 0h1m20 0h1m10 0h1m29 0h1m19 0h1m48 0h1m5 0h1m38 0h1m41 0h1m18 0h1m32 0h1m2 0h1m5 0h1m4 0h1m5 0h1m27 0h1m9 0h1m22 0h1m-361 1h1m8 0h1m5 0h1m1 0h1m14 0h1m7 0h1m5 0h1m8 0h1m42 0h1m29 0h1m16 0h1m6 0h1m22 0h1m52 0h1m24 0h1m5 0h1m42 0h1m21 0h1m54 0h1m-392 1h1m0 0h1m16 0h1m31 0h1m9 0h1m11 0h1m48 0h1m5 0h1m27 0h1m16 0h1m22 0h1m0 0h1m3 0h1m13 0h1m51 0h1m119 0h1m14 0h1m13 0h1m3 0h1m-421 1h1m50 0h1m5 0h1m3 0h1m13 0h1m22 0h1m3 0h1m57 0h1m7 0h1m1 0h1m11 0h1m3 0h1m14 0h1m31 0h1m6 0h1m24 0h1m15 0h1m0 0h1m48 0h1m21 0h1m3 0h1m5 0h1m-375 1h1m6 0h1m19 0h1m56 0h1m3 0h1m7 0h1m22 0h1m19 0h1m25 0h1m2 0h1m3 0h1m2 0h1m0 0h1m27 0h1m0 0h1m38 0h1m124 0h1m45 0h1m4 0h1m-424 1h1m10 0h1m6 0h1m6 0h1m45 0h1m27 0h1m9 0h1m16 0h1m39 0h1m17 0h1m6 0h1m12 0h1m15 0h1m20 0h1m0 0h1m3 0h1m45 0h1m6 0h1m45 0h1m5 0h1m27 0h1m18 0h1m17 0h1m-393 1h1m27 0h1m5 0h1m23 0h1m2 0h1m20 0h1m63 0h1m0 0h1m13 0h1m6 0h1m1 0h1m1 0h1m10 0h1m24 0h1m3 0h1m30 0h1m7 0h1m49 0h1m36 0h1m15 0h1m21 0h1m-402 1h1m13 0h1m29 0h1m15 0h1m15 0h1m47 0h1m22 0h1m23 0h1m15 0h1m0 0h1m5 0h1m6 0h1m23 0h1m27 0h1m10 0h1m18 0h1m56 0h1m17 0h1m16 0h1m24 0h1m25 0h1m5 0h1m4 0h1m3 0h1m-445 1h1m7 0h1m16 0h1m19 0h1m12 0h1m15 0h1m13 0h1m14 0h1m4 0h1m25 0h1m11 0h1m30 0h1m2 0h1m9 0h1m10 0h1m2 0h1m1 0h1m8 0h1m22 0h1m29 0h1m28 0h1m4 0h1m57 0h1m2 0h1m14 0h1m32 0h1m23 0h1m6 0h1m6 0h1m-452 1h1m10 0h1m7 0h1m50 0h1m92 0h1m17 0h1m1 0h1m6 0h1m0 0h1m0 0h1m21 0h1m15 0h1m8 0h1m23 0h1m29 0h1m2 0h1m0 0h1m27 0h1m34 0h1m13 0h1m52 0h1m10 0h1m3 0h1m2 0h1m7 0h1m-439 1h1m25 0h1m23 0h1m5 0h1m22 0h1m24 0h1m60 0h1m8 0h1m0 0h1m1 0h1m6 0h1m2 0h1m1 0h1m18 0h1m98 0h1m133 0h1m-407 1h1m23 0h1m15 0h1m0 0h1m1 0h1m1 0h1m0 0h1m26 0h1m46 0h1m3 0h1m0 0h1m17 0h1m9 0h1m8 0h1m29 0h1m22 0h1m27 0h1m20 0h1m21 0h1m38 0h1m24 0h1m7 0h1m34 0h1m13 0h1m0 0h1m-434 1h1m12 0h1m8 0h1m17 0h1m8 0h1m46 0h1m27 0h1m0 0h1m7 0h1m13 0h1m8 0h1m4 0h1m0 0h1m20 0h1m4 0h1m0 0h1m19 0h1m16 0h1m32 0h1m17 0h1m6 0h1m10 0h1m24 0h1m13 0h1m7 0h1m88 0h1m-511 1h1m5 0h1m44 0h1m55 0h1m3 0h1m7 0h1m13 0h1m7 0h1m23 0h1m12 0h1m24 0h1m8 0h1m18 0h1m20 0h1m8 0h1m5 0h1m0 0h1m28 0h1m10 0h1m15 0h1m4 0h1m10 0h1m47 0h1m19 0h1m12 0h1m24 0h1m42 0h1m9 0h1m4 0h1m-518 1h1m4 0h1m13 0h1m6 0h1m1 0h1m2 0h1m3 0h1m11 0h1m2 0h1m0 0h1m11 0h1m2 0h1m32 0h1m18 0h1m22 0h1m13 0h1m5 0h1m0 0h1m16 0h1m58 0h1m6 0h1m10 0h1m1 0h1m0 0h1m8 0h1m5 0h1m1 0h1m2 0h1m1 0h1m40 0h1m28 0h1m18 0h1m32 0h1m1 0h1m33 0h1m79 0h1m1 0h1m-521 1h1m6 0h1m5 0h1m10 0h1m4 0h1m1 0h1m14 0h1m6 0h1m9 0h1m19 0h1m48 0h1m8 0h1m1 0h1m15 0h1m65 0h1m13 0h1m4 0h1m1 0h1m2 0h1m17 0h1m6 0h1m34 0h1m14 0h1m11 0h1m2 0h1m2 0h1m56 0h1m29 0h1m10 0h1m1 0h1m5 0h1m11 0h1m18 0h1m41 0h1m-495 1h1m5 0h1m15 0h1m15 0h1m66 0h1m1 0h1m12 0h1m7 0h1m90 0h1m3 0h1m5 0h1m9 0h1m0 0h1m2 0h1m0 0h1m1 0h1m4 0h1m47 0h1m20 0h1m3 0h1m9 0h1m3 0h1m13 0h1m6 0h1m42 0h1m4 0h1m7 0h1m46 0h1m16 0h1m383 0h1m-886 1h1m18 0h1m1 0h1m3 0h1m12 0h1m4 0h1m5 0h1m2 0h1m3 0h1m28 0h1m4 0h1m41 0h1m1 0h1m4 0h1m71 0h1m6 0h1m7 0h1m14 0h1m13 0h1m2 0h1m6 0h1m20 0h1m1 0h1m19 0h1m6 0h1m39 0h1m68 0h1m56 0h1m7 0h1m2 0h1m-474 1h1m7 0h1m8 0h1m5 0h1m11 0h1m10 0h1m2 0h1m10 0h1m20 0h1m28 0h1m21 0h1m10 0h1m46 0h1m9 0h1m29 0h1m4 0h1m3 0h1m20 0h1m1 0h1m1 0h1m20 0h1m2 0h1m40 0h1m15 0h1m107 0h1m58 0h1m358 0h1m0 0h1m10 0h1m-906 1h1m3 0h1m11 0h1m14 0h1m0 0h1m15 0h1m18 0h1m71 0h1m22 0h1m13 0h1m8 0h1m20 0h1m13 0h1m6 0h1m5 0h1m3 0h1m2 0h1m13 0h1m1 0h1m1 0h1m1 0h1m3 0h1m10 0h1m6 0h1m21 0h1m12 0h1m37 0h1m9 0h1m18 0h1m49 0h1m59 0h1m21 0h1m0 0h1m17 0h1m338 0h1m1 0h1m35 0h1m-914 1h1m7 0h1m6 0h1m10 0h1m15 0h1m6 0h1m6 0h1m36 0h1m14 0h1m31 0h1m0 0h1m64 0h1m13 0h1m21 0h1m3 0h1m2 0h1m2 0h1m7 0h1m4 0h1m8 0h1m4 0h1m12 0h1m1 0h1m10 0h1m24 0h1m5 0h1m0 0h1m13 0h1m12 0h1m0 0h1m79 0h1m18 0h1m29 0h1m42 0h1m376 0h1m-917 1h1m0 0h1m2 0h1m3 0h1m5 0h1m0 0h1m3 0h1m3 0h1m2 0h1m0 0h1m1 0h1m2 0h1m14 0h1m6 0h1m6 0h1m86 0h1m0 0h1m2 0h1m5 0h1m2 0h1m4 0h1m4 0h1m36 0h1m23 0h1m6 0h1m1 0h1m4 0h1m18 0h1m0 0h1m5 0h1m10 0h1m9 0h1m6 0h1m71 0h1m14 0h1m5 0h1m5 0h1m29 0h1m4 0h1m38 0h1m15 0h1m76 0h1m293 0h1m-851 1h1m9 0h1m8 0h1m11 0h1m15 0h1m4 0h1m1 0h1m96 0h1m13 0h1m45 0h1m38 0h1m4 0h1m17 0h1m4 0h1m64 0h1m12 0h1m5 0h1m11 0h1m20 0h1m32 0h1m8 0h1m0 0h1m7 0h1m14 0h1m15 0h1m5 0h1m372 0h1m48 0h1m-911 1h1m2 0h1m2 0h1m0 0h1m10 0h1m14 0h1m10 0h1m13 0h1m49 0h1m9 0h1m6 0h1m4 0h1m1 0h1m102 0h1m11 0h1m8 0h1m0 0h1m3 0h1m17 0h1m3 0h1m28 0h1m0 0h1m41 0h1m7 0h1m12 0h1m34 0h1m27 0h1m7 0h1m13 0h1m12 0h1m22 0h1m3 0h1m18 0h1m298 0h1m11 0h1m0 0h1m4 0h1m25 0h1m1 0h1m28 0h1m11 0h1m-910 1h1m7 0h1m0 0h1m12 0h1m11 0h1m7 0h1m2 0h1m2 0h1m2 0h1m7 0h1m0 0h1m21 0h1m24 0h1m62 0h1m23 0h1m43 0h1m10 0h1m0 0h1m1 0h1m10 0h1m7 0h1m9 0h1m4 0h1m56 0h1m19 0h1m0 0h1m8 0h1m35 0h1m6 0h1m10 0h1m3 0h1m3 0h1m53 0h1m0 0h1m25 0h1m292 0h1m31 0h1m19 0h1m70 0h1m-934 1h1m2 0h1m5 0h1m13 0h1m30 0h1m30 0h1m12 0h1m0 0h1m35 0h1m14 0h1m0 0h1m2 0h1m70 0h1m19 0h1m3 0h1m0 0h1m5 0h1m3 0h1m1 0h1m3 0h1m3 0h1m10 0h1m102 0h1m51 0h1m106 0h1m5 0h1m307 0h1m6 0h1m11 0h1m1 0h1m2 0h1m39 0h1m-920 1h1m10 0h1m9 0h1m16 0h1m6 0h1m2 0h1m0 0h1m1 0h1m2 0h1m4 0h1m23 0h1m6 0h1m5 0h1m14 0h1m25 0h1m40 0h1m10 0h1m16 0h1m0 0h1m17 0h1m9 0h1m4 0h1m13 0h1m6 0h1m3 0h1m3 0h1m11 0h1m1 0h1m47 0h1m35 0h1m42 0h1m27 0h1m64 0h1m11 0h1m12 0h1m10 0h1m30 0h1m214 0h1m42 0h1m7 0h1m0 0h1m5 0h1m37 0h1m0 0h1m1 0h1m36 0h1m11 0h1m6 0h1m-942 1h1m9 0h1m6 0h1m34 0h1m3 0h1m11 0h1m11 0h1m43 0h1m4 0h1m4 0h1m7 0h1m21 0h1m39 0h1m21 0h1m14 0h1m23 0h1m11 0h1m3 0h1m7 0h1m8 0h1m1 0h1m40 0h1m0 0h1m31 0h1m42 0h1m2 0h1m74 0h1m4 0h1m58 0h1m4 0h1m12 0h1m242 0h1m25 0h1m21 0h1m4 0h1m7 0h1m6 0h1m49 0h1m-939 1h1m2 0h1m1 0h1m11 0h1m1 0h1m2 0h1m1 0h1m0 0h1m2 0h1m12 0h1m2 0h1m0 0h1m2 0h1m8 0h1m74 0h1m2 0h1m2 0h1m0 0h1m7 0h1m0 0h1m1 0h1m2 0h1m5 0h1m3 0h1m16 0h1m60 0h1m33 0h1m25 0h1m26 0h1m37 0h1m103 0h1m19 0h1m14 0h1m29 0h1m27 0h1m7 0h1m1 0h1m239 0h1m15 0h1m0 0h1m1 0h1m21 0h1m1 0h1m12 0h1m21 0h1m16 0h1m23 0h1m-968 1h1m26 0h1m5 0h1m1 0h1m0 0h1m3 0h1m13 0h1m8 0h1m6 0h1m4 0h1m1 0h1m6 0h1m11 0h1m29 0h1m4 0h1m106 0h1m2 0h1m37 0h1m3 0h1m0 0h1m7 0h1m22 0h1m8 0h1m1 0h1m17 0h1m22 0h1m78 0h1m5 0h1m7 0h1m33 0h1m31 0h1m21 0h1m12 0h1m14 0h1m270 0h1m12 0h1m11 0h1m71 0h1m38 0h1m-952 1h1m6 0h1m0 0h1m22 0h1m7 0h1m4 0h1m1 0h1m30 0h1m6 0h1m4 0h1m8 0h1m23 0h1m5 0h1m28 0h1m6 0h1m15 0h1m36 0h1m24 0h1m4 0h1m1 0h1m0 0h1m8 0h1m27 0h1m30 0h1m10 0h1m0 0h1m0 0h1m10 0h1m50 0h1m0 0h1m9 0h1m16 0h1m9 0h1m39 0h1m23 0h1m22 0h1m10 0h1m13 0h1m25 0h1m1 0h1m20 0h1m5 0h1m5 0h1m233 0h1m2 0h1m3 0h1m1 0h1m16 0h1m6 0h1m7 0h1m9 0h1m24 0h1m39 0h1m8 0h1m-1008 1h1m3 0h1m33 0h1m13 0h1m9 0h1m0 0h1m5 0h1m8 0h1m2 0h1m1 0h1m11 0h1m24 0h1m2 0h1m12 0h1m4 0h1m1 0h1m18 0h1m22 0h1m21 0h1m20 0h1m2 0h1m3 0h1m29 0h1m10 0h1m19 0h1m3 0h1m16 0h1m5 0h1m24 0h1m15 0h1m11 0h1m81 0h1m18 0h1m113 0h1m20 0h1m11 0h1m1 0h1m234 0h1m13 0h1m17 0h1m5 0h1m63 0h1m12 0h1m-981 1h1m46 0h1m1 0h1m2 0h1m6 0h1m5 0h1m2 0h1m15 0h1m1 0h1m5 0h1m5 0h1m15 0h1m36 0h1m2 0h1m17 0h1m31 0h1m17 0h1m2 0h1m2 0h1m7 0h1m51 0h1m9 0h1m20 0h1m1 0h1m7 0h1m40 0h1m10 0h1m0 0h1m8 0h1m29 0h1m80 0h1m19 0h1m18 0h1m5 0h1m1 0h1m2 0h1m34 0h1m28 0h1m34 0h1m10 0h1m184 0h1m18 0h1m49 0h1m37 0h1m0 0h1m25 0h1m1 0h1m2 0h1m17 0h1m-955 1h1m28 0h1m9 0h1m2 0h1m3 0h1m39 0h1m52 0h1m9 0h1m4 0h1m2 0h1m60 0h1m5 0h1m17 0h1m0 0h1m15 0h1m10 0h1m5 0h1m2 0h1m4 0h1m84 0h1m33 0h1m4 0h1m27 0h1m32 0h1m79 0h1m22 0h1m4 0h1m5 0h1m12 0h1m16 0h1m1 0h1m148 0h1m6 0h1m0 0h1m25 0h1m16 0h1m18 0h1m2 0h1m109 0h1m6 0h1m13 0h1m-1018 1h1m20 0h1m40 0h1m5 0h1m0 0h1m5 0h1m13 0h1m8 0h1m7 0h1m2 0h1m1 0h1m15 0h1m28 0h1m48 0h1m2 0h1m24 0h1m28 0h1m24 0h1m2 0h1m0 0h1m0 0h1m1 0h1m0 0h1m1 0h1m1 0h1m3 0h1m0 0h1m2 0h1m0 0h1m5 0h1m3 0h1m10 0h1m27 0h1m18 0h1m63 0h1m106 0h1m53 0h1m228 0h1m14 0h1m42 0h1m71 0h1m22 0h1m3 0h1m5 0h1m14 0h1m14 0h1m-1025 1h1m13 0h1m21 0h1m27 0h1m0 0h1m8 0h1m3 0h1m0 0h1m1 0h1m17 0h1m5 0h1m2 0h1m16 0h1m32 0h1m28 0h1m13 0h1m5 0h1m2 0h1m3 0h1m25 0h1m37 0h1m6 0h1m13 0h1m13 0h1m0 0h1m2 0h1m24 0h1m9 0h1m1 0h1m11 0h1m16 0h1m17 0h1m5 0h1m73 0h1m14 0h1m34 0h1m6 0h1m1 0h1m60 0h1m65 0h1m177 0h1m10 0h1m27 0h1m32 0h1m11 0h1m5 0h1m4 0h1m91 0h1m-1031 1h1m2 0h1m15 0h1m13 0h1m9 0h1m7 0h1m4 0h1m3 0h1m11 0h1m10 0h1m5 0h1m0 0h1m7 0h1m1 0h1m49 0h1m17 0h1m14 0h1m1 0h1m14 0h1m0 0h1m1 0h1m5 0h1m28 0h1m9 0h1m16 0h1m23 0h1m0 0h1m24 0h1m2 0h1m14 0h1m29 0h1m81 0h1m5 0h1m34 0h1m43 0h1m0 0h1m4 0h1m7 0h1m55 0h1m4 0h1m45 0h1m148 0h1m78 0h1m15 0h1m9 0h1m11 0h1m43 0h1m0 0h1m75 0h1m-1022 1h1m34 0h1m2 0h1m0 0h1m15 0h1m1 0h1m12 0h1m9 0h1m12 0h1m41 0h1m24 0h1m6 0h1m4 0h1m0 0h1m7 0h1m8 0h1m3 0h1m13 0h1m8 0h1m0 0h1m65 0h1m1 0h1m2 0h1m3 0h1m7 0h1m5 0h1m53 0h1m12 0h1m3 0h1m27 0h1m0 0h1m11 0h1m40 0h1m24 0h1m29 0h1m11 0h1m18 0h1m26 0h1m33 0h1m1 0h1m0 0h1m6 0h1m189 0h1m35 0h1m2 0h1m3 0h1m23 0h1m40 0h1m32 0h1m55 0h1m11 0h1m2 0h1m-1008 1h1m42 0h1m13 0h1m10 0h1m5 0h1m0 0h1m0 0h1m28 0h1m39 0h1m8 0h1m1 0h1m23 0h1m1 0h1m5 0h1m0 0h1m19 0h1m9 0h1m16 0h1m20 0h1m6 0h1m1 0h1m1 0h1m13 0h1m6 0h1m1 0h1m4 0h1m40 0h1m12 0h1m5 0h1m111 0h1m7 0h1m12 0h1m85 0h1m47 0h1m166 0h1m1 0h1m15 0h1m15 0h1m18 0h1m11 0h1m1 0h1m61 0h1m2 0h1m13 0h1m81 0h1m-998 1h1m3 0h1m6 0h1m5 0h1m94 0h1m18 0h1m0 0h1m4 0h1m7 0h1m14 0h1m18 0h1m23 0h1m4 0h1m6 0h1m2 0h1m42 0h1m5 0h1m16 0h1m51 0h1m45 0h1m18 0h1m66 0h1m43 0h1m26 0h1m5 0h1m2 0h1m32 0h1m2 0h1m2 0h1m24 0h1m136 0h1m28 0h1m8 0h1m5 0h1m35 0h1m1 0h1m4 0h1m7 0h1m27 0h1m12 0h1m23 0h1m37 0h1m21 0h1m13 0h1m16 0h1m-1021 1h1m6 0h1m11 0h1m10 0h1m13 0h1m16 0h1m3 0h1m7 0h1m44 0h1m13 0h1m20 0h1m17 0h1m4 0h1m5 0h1m12 0h1m21 0h1m2 0h1m12 0h1m6 0h1m20 0h1m15 0h1m2 0h1m1 0h1m11 0h1m2 0h1m0 0h1m2 0h1m2 0h1m7 0h1m62 0h1m48 0h1m57 0h1m1 0h1m17 0h1m6 0h1m2 0h1m10 0h1m11 0h1m64 0h1m1 0h1m1 0h1m10 0h1m3 0h1m7 0h1m142 0h1m27 0h1m44 0h1m5 0h1m22 0h1m42 0h1m4 0h1m14 0h1m7 0h1m51 0h1m29 0h1m-1053 1h1m47 0h1m7 0h1m1 0h1m17 0h1m12 0h1m0 0h1m8 0h1m1 0h1m2 0h1m9 0h1m18 0h1m23 0h1m27 0h1m5 0h1m2 0h1m2 0h1m3 0h1m0 0h1m11 0h1m21 0h1m33 0h1m10 0h1m24 0h1m2 0h1m1 0h1m12 0h1m0 0h1m2 0h1m1 0h1m4 0h1m52 0h1m30 0h1m7 0h1m4 0h1m6 0h1m95 0h1m2 0h1m5 0h1m18 0h1m40 0h1m0 0h1m26 0h1m13 0h1m0 0h1m157 0h1m11 0h1m56 0h1m10 0h1m58 0h1m7 0h1m47 0h1m-995 1h1m48 0h1m1 0h1m23 0h1m3 0h1m13 0h1m35 0h1m25 0h1m44 0h1m26 0h1m41 0h1m6 0h1m10 0h1m0 0h1m4 0h1m8 0h1m9 0h1m18 0h1m24 0h1m22 0h1m33 0h1m66 0h1m54 0h1m11 0h1m8 0h1m26 0h1m5 0h1m11 0h1m43 0h1m26 0h1m125 0h1m9 0h1m25 0h1m117 0h1m21 0h1m20 0h1m23 0h1m13 0h1m16 0h1m-1054 1h1m5 0h1m49 0h1m10 0h1m2 0h1m17 0h1m12 0h1m13 0h1m8 0h1m43 0h1m1 0h1m14 0h1m19 0h1m77 0h1m0 0h1m14 0h1m1 0h1m2 0h1m3 0h1m4 0h1m8 0h1m6 0h1m97 0h1m1 0h1m9 0h1m32 0h1m9 0h1m21 0h1m0 0h1m0 0h1m5 0h1m25 0h1m9 0h1m52 0h1m50 0h1m2 0h1m5 0h1m2 0h1m128 0h1m10 0h1m2 0h1m22 0h1m22 0h1m9 0h1m5 0h1m12 0h1m9 0h1m30 0h1m68 0h1m2 0h1m17 0h1m3 0h1m8 0h1m21 0h1m5 0h1m-1053 1h1m6 0h1m1 0h1m23 0h1m33 0h1m4 0h1m5 0h1m0 0h1m7 0h1m26 0h1m8 0h1m39 0h1m19 0h1m16 0h1m3 0h1m68 0h1m6 0h1m0 0h1m14 0h1m3 0h1m27 0h1m2 0h1m4 0h1m39 0h1m0 0h1m47 0h1m2 0h1m21 0h1m3 0h1m8 0h1m3 0h1m13 0h1m72 0h1m19 0h1m60 0h1m6 0h1m4 0h1m4 0h1m5 0h1m8 0h1m125 0h1m2 0h1m26 0h1m11 0h1m0 0h1m11 0h1m27 0h1m3 0h1m16 0h1m0 0h1m9 0h1m24 0h1m19 0h1m18 0h1m8 0h1m8 0h1m2 0h1m5 0h1m11 0h1m9 0h1m-1003 1h1m23 0h1m0 0h1m6 0h1m2 0h1m0 0h1m1 0h1m4 0h1m2 0h1m2 0h1m13 0h1m3 0h1m4 0h1m1 0h1m0 0h1m17 0h1m39 0h1m5 0h1m19 0h1m45 0h1m24 0h1m5 0h1m23 0h1m1 0h1m1 0h1m10 0h1m8 0h1m3 0h1m10 0h1m0 0h1m10 0h1m46 0h1m20 0h1m2 0h1m25 0h1m1 0h1m89 0h1m10 0h1m34 0h1m27 0h1m31 0h1m9 0h1m144 0h1m48 0h1m29 0h1m9 0h1m24 0h1m93 0h1m36 0h1m-1022 1h1m20 0h1m37 0h1m22 0h1m5 0h1m14 0h1m17 0h1m13 0h1m20 0h1m28 0h1m13 0h1m56 0h1m33 0h1m10 0h1m35 0h1m15 0h1m83 0h1m91 0h1m0 0h1m19 0h1m49 0h1m1 0h1m180 0h1m90 0h1m15 0h1m40 0h1m17 0h1m32 0h1m42 0h1m32 0h1m15 0h1m-1080 1h1m44 0h1m5 0h1m9 0h1m3 0h1m1 0h1m26 0h1m1 0h1m0 0h1m92 0h1m1 0h1m6 0h1m20 0h1m16 0h1m32 0h1m41 0h1m4 0h1m0 0h1m4 0h1m1 0h1m31 0h1m48 0h1m50 0h1m10 0h1m51 0h1m21 0h1m15 0h1m17 0h1m5 0h1m13 0h1m13 0h1m21 0h1m22 0h1m1 0h1m126 0h1m4 0h1m4 0h1m31 0h1m48 0h1m31 0h1m35 0h1m23 0h1m73 0h1m16 0h1m25 0h1m-1088 1h1m13 0h1m1 0h1m9 0h1m13 0h1m4 0h1m15 0h1m6 0h1m3 0h1m4 0h1m17 0h1m4 0h1m21 0h1m20 0h1m34 0h1m1 0h1m26 0h1m10 0h1m12 0h1m9 0h1m8 0h1m12 0h1m19 0h1m40 0h1m1 0h1m3 0h1m10 0h1m4 0h1m7 0h1m5 0h1m16 0h1m92 0h1m37 0h1m14 0h1m4 0h1m3 0h1m3 0h1m33 0h1m23 0h1m19 0h1m6 0h1m36 0h1m209 0h1m26 0h1m25 0h1m3 0h1m11 0h1m118 0h1m18 0h1m-1053 1h1m0 0h1m19 0h1m2 0h1m8 0h1m11 0h1m8 0h1m1 0h1m0 0h1m13 0h1m3 0h1m0 0h1m18 0h1m58 0h1m1 0h1m38 0h1m26 0h1m0 0h1m25 0h1m7 0h1m9 0h1m5 0h1m2 0h1m4 0h1m2 0h1m1 0h1m3 0h1m1 0h1m0 0h1m2 0h1m5 0h1m7 0h1m43 0h1m12 0h1m0 0h1m8 0h1m42 0h1m11 0h1m49 0h1m19 0h1m21 0h1m2 0h1m15 0h1m3 0h1m24 0h1m28 0h1m17 0h1m5 0h1m2 0h1m0 0h1m142 0h1m0 0h1m21 0h1m21 0h1m4 0h1m21 0h1m2 0h1m2 0h1m11 0h1m2 0h1m13 0h1m19 0h1m32 0h1m29 0h1m3 0h1m71 0h1m22 0h1m6 0h1m-1081 1h1m1 0h1m41 0h1m10 0h1m5 0h1m2 0h1m30 0h1m7 0h1m7 0h1m59 0h1m22 0h1m0 0h1m18 0h1m6 0h1m49 0h1m10 0h1m15 0h1m5 0h1m5 0h1m84 0h1m38 0h1m31 0h1m15 0h1m6 0h1m49 0h1m42 0h1m0 0h1m26 0h1m57 0h1m1 0h1m107 0h1m4 0h1m4 0h1m8 0h1m7 0h1m3 0h1m11 0h1m79 0h1m22 0h1m9 0h1m147 0h1m-1062 1h1m15 0h1m1 0h1m14 0h1m2 0h1m4 0h1m0 0h1m0 0h1m12 0h1m12 0h1m0 0h1m22 0h1m54 0h1m14 0h1m4 0h1m45 0h1m32 0h1m1 0h1m4 0h1m19 0h1m1 0h1m5 0h1m1 0h1m2 0h1m1 0h1m14 0h1m15 0h1m27 0h1m27 0h1m35 0h1m7 0h1m29 0h1m56 0h1m10 0h1m4 0h1m6 0h1m19 0h1m22 0h1m9 0h1m11 0h1m2 0h1m216 0h1m13 0h1m25 0h1m18 0h1m127 0h1m-991 1h1m0 0h1m4 0h1m8 0h1m0 0h1m1 0h1m8 0h1m1 0h1m6 0h1m1 0h1m6 0h1m20 0h1m53 0h1m10 0h1m11 0h1m28 0h1m6 0h1m2 0h1m23 0h1m44 0h1m12 0h1m5 0h1m2 0h1m11 0h1m1 0h1m18 0h1m2 0h1m24 0h1m9 0h1m9 0h1m10 0h1m23 0h1m80 0h1m53 0h1m11 0h1m71 0h1m135 0h1m58 0h1m7 0h1m5 0h1m17 0h1m31 0h1m3 0h1m1 0h1m43 0h1m17 0h1m25 0h1m11 0h1m0 0h1m12 0h1m31 0h1m13 0h1m20 0h1m1 0h1m-1082 1h1m35 0h1m4 0h1m10 0h1m14 0h1m71 0h1m22 0h1m0 0h1m24 0h1m23 0h1m4 0h1m26 0h1m7 0h1m16 0h1m7 0h1m10 0h1m7 0h1m9 0h1m8 0h1m7 0h1m28 0h1m8 0h1m29 0h1m20 0h1m2 0h1m0 0h1m15 0h1m32 0h1m19 0h1m20 0h1m21 0h1m17 0h1m32 0h1m27 0h1m0 0h1m10 0h1m16 0h1m33 0h1m89 0h1m8 0h1m1 0h1m28 0h1m7 0h1m19 0h1m7 0h1m0 0h1m37 0h1m17 0h1m37 0h1m23 0h1m9 0h1m7 0h1m4 0h1m13 0h1m6 0h1m65 0h1m21 0h1m-1071 1h1m7 0h1m1 0h1m2 0h1m0 0h1m23 0h1m0 0h1m2 0h1m3 0h1m19 0h1m11 0h1m83 0h1m7 0h1m5 0h1m21 0h1m1 0h1m12 0h1m22 0h1m9 0h1m11 0h1m6 0h1m7 0h1m6 0h1m2 0h1m2 0h1m1 0h1m5 0h1m11 0h1m7 0h1m27 0h1m13 0h1m0 0h1m9 0h1m23 0h1m9 0h1m14 0h1m15 0h1m12 0h1m58 0h1m43 0h1m20 0h1m10 0h1m6 0h1m50 0h1m100 0h1m60 0h1m7 0h1m6 0h1m3 0h1m20 0h1m0 0h1m1 0h1m26 0h1m13 0h1m2 0h1m6 0h1m27 0h1m5 0h1m0 0h1m25 0h1m21 0h1m16 0h1m10 0h1m23 0h1m1 0h1m12 0h1m33 0h1m-1081 1h1m5 0h1m19 0h1m5 0h1m1 0h1m14 0h1m0 0h1m31 0h1m17 0h1m4 0h1m30 0h1m17 0h1m99 0h1m0 0h1m15 0h1m1 0h1m27 0h1m51 0h1m12 0h1m24 0h1m35 0h1m10 0h1m14 0h1m26 0h1m11 0h1m12 0h1m19 0h1m21 0h1m6 0h1m31 0h1m268 0h1m42 0h1m61 0h1m8 0h1m0 0h1m6 0h1m28 0h1m9 0h1m43 0h1m26 0h1m-1115 1h1m13 0h1m25 0h1m7 0h1m2 0h1m3 0h1m5 0h1m3 0h1m10 0h1m5 0h1m5 0h1m7 0h1m3 0h1m45 0h1m29 0h1m7 0h1m3 0h1m39 0h1m43 0h1m2 0h1m4 0h1m21 0h1m0 0h1m37 0h1m8 0h1m166 0h1m55 0h1m5 0h1m16 0h1m2 0h1m16 0h1m5 0h1m2 0h1m3 0h1m6 0h1m3 0h1m124 0h1m23 0h1m26 0h1m13 0h1m13 0h1m32 0h1m53 0h1m0 0h1m31 0h1m20 0h1m29 0h1m25 0h1m69 0h1m0 0h1m11 0h1m-1120 1h1m21 0h1m9 0h1m25 0h1m3 0h1m8 0h1m4 0h1m9 0h1m1 0h1m1 0h1m54 0h1m3 0h1m25 0h1m51 0h1m38 0h1m14 0h1m18 0h1m8 0h1m4 0h1m73 0h1m3 0h1m38 0h1m27 0h1m29 0h1m41 0h1m5 0h1m29 0h1m13 0h1m23 0h1m59 0h1m2 0h1m14 0h1m87 0h1m11 0h1m16 0h1m7 0h1m8 0h1m157 0h1m23 0h1m34 0h1m49 0h1m6 0h1m14 0h1m1 0h1m6 0h1m-1119 1h1m10 0h1m13 0h1m0 0h1m27 0h1m14 0h1m4 0h1m3 0h1m0 0h1m2 0h1m19 0h1m5 0h1m29 0h1m15 0h1m22 0h1m2 0h1m6 0h1m4 0h1m1 0h1m82 0h1m3 0h1m3 0h1m10 0h1m20 0h1m40 0h1m8 0h1m14 0h1m2 0h1m18 0h1m77 0h1m3 0h1m1 0h1m14 0h1m14 0h1m8 0h1m7 0h1m21 0h1m10 0h1m6 0h1m1 0h1m44 0h1m58 0h1m3 0h1m77 0h1m15 0h1m26 0h1m7 0h1m4 0h1m32 0h1m21 0h1m2 0h1m9 0h1m12 0h1m58 0h1m1 0h1m27 0h1m3 0h1m26 0h1m17 0h1m45 0h1m8 0h1m5 0h1m33 0h1m-1095 1h1m0 0h1m22 0h1m2 0h1m6 0h1m17 0h1m24 0h1m15 0h1m7 0h1m30 0h1m13 0h1m2 0h1m1 0h1m2 0h1m1 0h1m79 0h1m1 0h1m7 0h1m1 0h1m5 0h1m3 0h1m7 0h1m10 0h1m7 0h1m32 0h1m37 0h1m21 0h1m36 0h1m12 0h1m20 0h1m7 0h1m20 0h1m21 0h1m25 0h1m19 0h1m35 0h1m199 0h1m12 0h1m4 0h1m6 0h1m28 0h1m1 0h1m15 0h1m25 0h1m10 0h1m10 0h1m14 0h1m60 0h1m21 0h1m41 0h1m17 0h1m27 0h1m-1093 1h1m3 0h1m3 0h1m1 0h1m1 0h1m2 0h1m1 0h1m5 0h1m7 0h1m0 0h1m18 0h1m72 0h1m29 0h1m66 0h1m11 0h1m6 0h1m0 0h1m8 0h1m18 0h1m16 0h1m0 0h1m10 0h1m33 0h1m4 0h1m8 0h1m38 0h1m7 0h1m11 0h1m47 0h1m18 0h1m3 0h1m4 0h1m8 0h1m1 0h1m2 0h1m12 0h1m28 0h1m31 0h1m2 0h1m37 0h1m148 0h1m1 0h1m0 0h1m87 0h1m2 0h1m3 0h1m10 0h1m28 0h1m27 0h1m8 0h1m4 0h1m33 0h1m32 0h1m26 0h1m7 0h1m40 0h1m1 0h1m3 0h1m-1107 1h1m13 0h1m15 0h1m8 0h1m24 0h1m7 0h1m0 0h1m7 0h1m4 0h1m40 0h1m7 0h1m16 0h1m11 0h1m2 0h1m49 0h1m1 0h1m12 0h1m3 0h1m36 0h1m10 0h1m8 0h1m11 0h1m26 0h1m10 0h1m5 0h1m34 0h1m14 0h1m7 0h1m7 0h1m3 0h1m44 0h1m38 0h1m23 0h1m12 0h1m22 0h1m23 0h1m9 0h1m53 0h1m5 0h1m80 0h1m6 0h1m4 0h1m15 0h1m20 0h1m11 0h1m63 0h1m18 0h1m27 0h1m0 0h1m21 0h1m26 0h1m1 0h1m42 0h1m34 0h1m18 0h1m23 0h1m3 0h1m21 0h1m-1143 1h1m34 0h1m14 0h1m16 0h1m4 0h1m2 0h1m8 0h1m0 0h1m9 0h1m9 0h1m8 0h1m29 0h1m9 0h1m5 0h1m24 0h1m11 0h1m20 0h1m40 0h1m6 0h1m30 0h1m4 0h1m7 0h1m3 0h1m0 0h1m2 0h1m4 0h1m35 0h1m15 0h1m3 0h1m16 0h1m14 0h1m22 0h1m4 0h1m20 0h1m15 0h1m0 0h1m28 0h1m47 0h1m9 0h1m3 0h1m44 0h1m34 0h1m14 0h1m6 0h1m27 0h1m61 0h1m1 0h1m14 0h1m23 0h1m21 0h1m43 0h1m37 0h1m143 0h1m54 0h1m-1098 1h1m50 0h1m2 0h1m4 0h1m7 0h1m6 0h1m6 0h1m17 0h1m5 0h1m0 0h1m24 0h1m52 0h1m6 0h1m5 0h1m1 0h1m35 0h1m25 0h1m20 0h1m26 0h1m11 0h1m14 0h1m9 0h1m14 0h1m10 0h1m4 0h1m5 0h1m5 0h1m1 0h1m23 0h1m17 0h1m7 0h1m7 0h1m49 0h1m1 0h1m5 0h1m4 0h1m9 0h1m21 0h1m20 0h1m11 0h1m10 0h1m2 0h1m20 0h1m1 0h1m21 0h1m16 0h1m48 0h1m0 0h1m21 0h1m11 0h1m16 0h1m15 0h1m44 0h1m18 0h1m10 0h1m61 0h1m11 0h1m5 0h1m8 0h1m20 0h1m41 0h1m0 0h1m22 0h1m5 0h1m8 0h1m62 0h1m8 0h1m14 0h1m30 0h1m-1090 1h1m36 0h1m10 0h1m11 0h1m27 0h1m26 0h1m3 0h1m2 0h1m4 0h1m2 0h1m5 0h1m3 0h1m3 0h1m50 0h1m0 0h1m20 0h1m17 0h1m7 0h1m16 0h1m0 0h1m40 0h1m62 0h1m11 0h1m37 0h1m15 0h1m20 0h1m14 0h1m23 0h1m10 0h1m11 0h1m68 0h1m2 0h1m14 0h1m70 0h1m15 0h1m22 0h1m44 0h1m14 0h1m3 0h1m34 0h1m8 0h1m3 0h1m0 0h1m14 0h1m54 0h1m1 0h1m71 0h1m15 0h1m25 0h1m46 0h1m2 0h1m14 0h1m3 0h1m7 0h1m-1139 1h1m10 0h1m0 0h1m18 0h1m7 0h1m14 0h1m8 0h1m14 0h1m1 0h1m1 0h1m0 0h1m1 0h1m0 0h1m12 0h1m29 0h1m16 0h1m35 0h1m4 0h1m2 0h1m21 0h1m17 0h1m44 0h1m6 0h1m9 0h1m5 0h1m8 0h1m2 0h1m1 0h1m2 0h1m10 0h1m37 0h1m13 0h1m10 0h1m4 0h1m73 0h1m17 0h1m72 0h1m19 0h1m4 0h1m31 0h1m16 0h1m21 0h1m7 0h1m57 0h1m6 0h1m4 0h1m10 0h1m11 0h1m25 0h1m42 0h1m40 0h1m9 0h1m8 0h1m8 0h1m15 0h1m44 0h1m21 0h1m8 0h1m5 0h1m30 0h1m7 0h1m28 0h1m21 0h1m50 0h1m-1148 1h1m45 0h1m2 0h1m22 0h1m1 0h1m2 0h1m9 0h1m3 0h1m0 0h1m6 0h1m29 0h1m15 0h1m11 0h1m0 0h1m6 0h1m4 0h1m0 0h1m3 0h1m20 0h1m17 0h1m25 0h1m15 0h1m25 0h1m4 0h1m9 0h1m9 0h1m0 0h1m5 0h1m8 0h1m2 0h1m13 0h1m2 0h1m20 0h1m18 0h1m34 0h1m20 0h1m11 0h1m19 0h1m9 0h1m17 0h1m116 0h1m23 0h1m16 0h1m23 0h1m3 0h1m12 0h1m1 0h1m16 0h1m21 0h1m0 0h1m64 0h1m25 0h1m28 0h1m0 0h1m6 0h1m3 0h1m2 0h1m66 0h1m7 0h1m34 0h1m5 0h1m68 0h1m38 0h1m33 0h1m28 0h1m-1164 1h1m24 0h1m31 0h1m10 0h1m2 0h1m2 0h1m23 0h1m31 0h1m12 0h1m6 0h1m76 0h1m14 0h1m1 0h1m8 0h1m27 0h1m4 0h1m8 0h1m3 0h1m5 0h1m4 0h1m1 0h1m2 0h1m6 0h1m2 0h1m52 0h1m0 0h1m2 0h1m5 0h1m0 0h1m1 0h1m42 0h1m20 0h1m16 0h1m19 0h1m2 0h1m38 0h1m0 0h1m9 0h1m2 0h1m9 0h1m8 0h1m15 0h1m1 0h1m32 0h1m4 0h1m0 0h1m25 0h1m17 0h1m18 0h1m0 0h1m17 0h1m10 0h1m6 0h1m0 0h1m14 0h1m31 0h1m7 0h1m2 0h1m11 0h1m69 0h1m9 0h1m13 0h1m19 0h1m6 0h1m56 0h1m2 0h1m35 0h1m20 0h1m27 0h1m3 0h1m41 0h1m10 0h1m16 0h1m16 0h1m-1109 1h1m6 0h1m17 0h1m2 0h1m4 0h1m7 0h1m3 0h1m8 0h1m2 0h1m1 0h1m3 0h1m8 0h1m11 0h1m9 0h1m8 0h1m11 0h1m2 0h1m1 0h1m5 0h1m0 0h1m20 0h1m24 0h1m33 0h1m30 0h1m0 0h1m8 0h1m2 0h1m16 0h1m0 0h1m11 0h1m20 0h1m15 0h1m51 0h1m25 0h1m17 0h1m35 0h1m16 0h1m28 0h1m5 0h1m8 0h1m8 0h1m12 0h1m3 0h1m14 0h1m19 0h1m112 0h1m1 0h1m2 0h1m13 0h1m2 0h1m123 0h1m31 0h1m53 0h1m27 0h1m9 0h1m15 0h1m7 0h1m25 0h1m10 0h1m1 0h1m5 0h1m52 0h1m3 0h1m15 0h1m8 0h1m6 0h1m-1152 1h1m6 0h1m3 0h1m12 0h1m0 0h1m7 0h1m7 0h1m0 0h1m2 0h1m3 0h1m5 0h1m14 0h1m13 0h1m10 0h1m2 0h1m6 0h1m16 0h1m17 0h1m37 0h1m2 0h1m0 0h1m3 0h1m2 0h1m7 0h1m8 0h1m21 0h1m0 0h1m31 0h1m22 0h1m3 0h1m12 0h1m1 0h1m19 0h1m13 0h1m19 0h1m31 0h1m33 0h1m12 0h1m8 0h1m32 0h1m11 0h1m10 0h1m13 0h1m62 0h1m25 0h1m5 0h1m38 0h1m5 0h1m17 0h1m6 0h1m25 0h1m5 0h1m12 0h1m30 0h1m18 0h1m19 0h1m13 0h1m30 0h1m15 0h1m23 0h1m103 0h1m7 0h1m28 0h1m34 0h1m14 0h1m17 0h1m0 0h1m7 0h1m7 0h1m3 0h1m55 0h1m-1122 1h1m13 0h1m1 0h1m3 0h1m6 0h1m3 0h1m21 0h1m24 0h1m20 0h1m41 0h1m6 0h1m3 0h1m20 0h1m12 0h1m38 0h1m15 0h1m5 0h1m0 0h1m11 0h1m8 0h1m1 0h1m22 0h1m23 0h1m26 0h1m11 0h1m10 0h1m3 0h1m7 0h1m29 0h1m1 0h1m90 0h1m29 0h1m8 0h1m17 0h1m32 0h1m5 0h1m33 0h1m0 0h1m12 0h1m4 0h1m9 0h1m33 0h1m8 0h1m2 0h1m0 0h1m33 0h1m0 0h1m61 0h1m9 0h1m6 0h1m17 0h1m62 0h1m9 0h1m13 0h1m108 0h1m2 0h1m43 0h1m24 0h1m9 0h1m-1135 1h1m8 0h1m2 0h1m2 0h1m6 0h1m1 0h1m6 0h1m2 0h1m10 0h1m3 0h1m2 0h1m13 0h1m20 0h1m25 0h1m2 0h1m13 0h1m1 0h1m1 0h1m2 0h1m0 0h1m19 0h1m53 0h1m8 0h1m3 0h1m29 0h1m5 0h1m10 0h1m16 0h1m2 0h1m2 0h1m0 0h1m19 0h1m29 0h1m13 0h1m4 0h1m23 0h1m26 0h1m14 0h1m0 0h1m68 0h1m17 0h1m28 0h1m6 0h1m31 0h1m6 0h1m57 0h1m15 0h1m47 0h1m52 0h1m20 0h1m13 0h1m21 0h1m18 0h1m7 0h1m0 0h1m7 0h1m10 0h1m78 0h1m81 0h1m43 0h1m26 0h1m5 0h1m10 0h1m3 0h1m7 0h1m-1156 1h1m0 0h1m27 0h1m1 0h1m16 0h1m5 0h1m5 0h1m15 0h1m17 0h1m26 0h1m9 0h1m3 0h1m32 0h1m54 0h1m2 0h1m2 0h1m1 0h1m9 0h1m29 0h1m11 0h1m6 0h1m7 0h1m3 0h1m4 0h1m1 0h1m7 0h1m14 0h1m9 0h1m47 0h1m3 0h1m12 0h1m42 0h1m33 0h1m23 0h1m6 0h1m53 0h1m38 0h1m8 0h1m11 0h1m11 0h1m109 0h1m5 0h1m79 0h1m13 0h1m5 0h1m11 0h1m4 0h1m39 0h1m2 0h1m9 0h1m5 0h1m6 0h1m13 0h1m5 0h1m6 0h1m4 0h1m72 0h1m0 0h1m6 0h1m20 0h1m9 0h1m5 0h1m74 0h1m-1150 1h1m16 0h1m9 0h1m1 0h1m19 0h1m5 0h1m4 0h1m0 0h1m7 0h1m26 0h1m13 0h1m18 0h1m18 0h1m9 0h1m14 0h1m7 0h1m43 0h1m7 0h1m34 0h1m7 0h1m2 0h1m9 0h1m51 0h1m4 0h1m4 0h1m28 0h1m74 0h1m21 0h1m0 0h1m17 0h1m75 0h1m28 0h1m23 0h1m15 0h1m5 0h1m42 0h1m16 0h1m4 0h1m45 0h1m8 0h1m1 0h1m61 0h1m61 0h1m0 0h1m34 0h1m86 0h1m12 0h1m34 0h1m9 0h1m37 0h1m4 0h1m14 0h1m7 0h1m-1161 1h1m34 0h1m1 0h1m2 0h1m2 0h1m1 0h1m1 0h1m12 0h1m4 0h1m4 0h1m2 0h1m7 0h1m0 0h1m2 0h1m21 0h1m44 0h1m2 0h1m29 0h1m1 0h1m10 0h1m2 0h1m1 0h1m8 0h1m2 0h1m17 0h1m23 0h1m25 0h1m1 0h1m0 0h1m47 0h1m37 0h1m12 0h1m76 0h1m25 0h1m2 0h1m19 0h1m1 0h1m37 0h1m32 0h1m10 0h1m17 0h1m33 0h1m95 0h1m30 0h1m52 0h1m16 0h1m1 0h1m11 0h1m31 0h1m17 0h1m2 0h1m16 0h1m5 0h1m18 0h1m6 0h1m0 0h1m20 0h1m11 0h1m3 0h1m9 0h1m26 0h1m45 0h1m49 0h1m-1112 1h1m11 0h1m8 0h1m14 0h1m17 0h1m9 0h1m1 0h1m0 0h1m1 0h1m19 0h1m2 0h1m8 0h1m15 0h1m17 0h1m17 0h1m7 0h1m2 0h1m16 0h1m5 0h1m0 0h1m26 0h1m0 0h1m4 0h1m42 0h1m2 0h1m6 0h1m4 0h1m0 0h1m13 0h1m46 0h1m32 0h1m15 0h1m1 0h1m4 0h1m5 0h1m8 0h1m25 0h1m8 0h1m12 0h1m16 0h1m14 0h1m32 0h1m29 0h1m48 0h1m14 0h1m28 0h1m45 0h1m23 0h1m19 0h1m6 0h1m11 0h1m1 0h1m69 0h1m60 0h1m13 0h1m10 0h1m48 0h1m8 0h1m55 0h1m14 0h1m19 0h1m-1099 1h1m11 0h1m11 0h1m14 0h1m4 0h1m0 0h1m0 0h1m2 0h1m0 0h1m2 0h1m6 0h1m5 0h1m15 0h1m2 0h1m6 0h1m8 0h1m6 0h1m0 0h1m49 0h1m14 0h1m6 0h1m2 0h1m19 0h1m12 0h1m1 0h1m11 0h1m7 0h1m21 0h1m30 0h1m7 0h1m12 0h1m2 0h1m6 0h1m2 0h1m5 0h1m31 0h1m1 0h1m44 0h1m88 0h1m5 0h1m53 0h1m3 0h1m0 0h1m13 0h1m3 0h1m37 0h1m19 0h1m14 0h1m1 0h1m20 0h1m18 0h1m5 0h1m18 0h1m8 0h1m7 0h1m3 0h1m0 0h1m3 0h1m46 0h1m4 0h1m2 0h1m6 0h1m38 0h1m33 0h1m6 0h1m1 0h1m9 0h1m23 0h1m11 0h1m24 0h1m9 0h1m1 0h1m32 0h1m20 0h1m8 0h1m19 0h1m7 0h1m50 0h1m3 0h1m4 0h1m35 0h1m-1166 1h1m6 0h1m16 0h1m27 0h1m5 0h1m12 0h1m12 0h1m7 0h1m17 0h1m4 0h1m21 0h1m11 0h1m31 0h1m15 0h1m0 0h1m9 0h1m5 0h1m49 0h1m25 0h1m4 0h1m3 0h1m0 0h1m37 0h1m63 0h1m33 0h1m0 0h1m41 0h1m8 0h1m20 0h1m7 0h1m34 0h1m31 0h1m54 0h1m2 0h1m21 0h1m19 0h1m2 0h1m0 0h1m4 0h1m20 0h1m14 0h1m8 0h1m42 0h1m23 0h1m18 0h1m14 0h1m58 0h1m1 0h1m1 0h1m48 0h1m41 0h1m1 0h1m88 0h1m0 0h1m43 0h1m5 0h1m12 0h1m-1134 1h1m40 0h1m13 0h1m2 0h1m7 0h1m5 0h1m5 0h1m3 0h1m3 0h1m18 0h1m18 0h1m41 0h1m9 0h1m1 0h1m0 0h1m1 0h1m1 0h1m3 0h1m5 0h1m0 0h1m7 0h1m24 0h1m4 0h1m24 0h1m18 0h1m0 0h1m62 0h1m2 0h1m8 0h1m15 0h1m6 0h1m62 0h1m1 0h1m47 0h1m47 0h1m2 0h1m7 0h1m29 0h1m7 0h1m101 0h1m8 0h1m119 0h1m53 0h1m54 0h1m18 0h1m8 0h1m31 0h1m6 0h1m0 0h1m1 0h1m83 0h1m35 0h1m41 0h1m2 0h1m-1151 1h1m12 0h1m4 0h1m2 0h1m1 0h1m5 0h1m3 0h1m6 0h1m2 0h1m4 0h1m13 0h1m6 0h1m12 0h1m3 0h1m2 0h1m1 0h1m12 0h1m7 0h1m15 0h1m28 0h1m1 0h1m0 0h1m12 0h1m3 0h1m16 0h1m2 0h1m7 0h1m31 0h1m29 0h1m2 0h1m6 0h1m1 0h1m11 0h1m13 0h1m20 0h1m4 0h1m48 0h1m30 0h1m16 0h1m36 0h1m9 0h1m25 0h1m24 0h1m56 0h1m31 0h1m152 0h1m1 0h1m35 0h1m11 0h1m1 0h1m6 0h1m14 0h1m10 0h1m20 0h1m42 0h1m23 0h1m9 0h1m0 0h1m17 0h1m9 0h1m1 0h1m28 0h1m33 0h1m17 0h1m20 0h1m16 0h1m55 0h1m-1136 1h1m0 0h1m8 0h1m4 0h1m3 0h1m1 0h1m8 0h1m4 0h1m13 0h1m0 0h1m9 0h1m2 0h1m77 0h1m2 0h1m33 0h1m18 0h1m2 0h1m54 0h1m7 0h1m6 0h1m2 0h1m0 0h1m10 0h1m4 0h1m17 0h1m31 0h1m61 0h1m14 0h1m72 0h1m33 0h1m35 0h1m18 0h1m70 0h1m22 0h1m7 0h1m2 0h1m45 0h1m50 0h1m8 0h1m1 0h1m28 0h1m7 0h1m4 0h1m43 0h1m1 0h1m31 0h1m39 0h1m4 0h1m17 0h1m6 0h1m6 0h1m1 0h1m38 0h1m11 0h1m6 0h1m2 0h1m17 0h1m1 0h1m0 0h1m-1059 1h1m12 0h1m4 0h1m2 0h1m2 0h1m4 0h1m0 0h1m61 0h1m1 0h1m1 0h1m79 0h1m53 0h1m0 0h1m7 0h1m0 0h1m0 0h1m2 0h1m3 0h1m1 0h1m8 0h1m0 0h1m6 0h1m1 0h1m5 0h1m28 0h1m34 0h1m0 0h1m2 0h1m1 0h1m1 0h1m10 0h1m13 0h1m28 0h1m87 0h1m47 0h1m10 0h1m7 0h1m10 0h1m3 0h1m14 0h1m38 0h1m67 0h1m30 0h1m32 0h1m21 0h1m9 0h1m77 0h1m13 0h1m54 0h1m3 0h1m44 0h1m22 0h1m3 0h1m2 0h1m34 0h1m14 0h1m28 0h1m10 0h1m0 0h1m6 0h1m2 0h1m-1176 1h1m11 0h1m36 0h1m8 0h1m1 0h1m5 0h1m3 0h1m11 0h1m6 0h1m8 0h1m24 0h1m14 0h1m11 0h1m34 0h1m3 0h1m3 0h1m26 0h1m15 0h1m44 0h1m10 0h1m6 0h1m0 0h1m10 0h1m1 0h1m4 0h1m11 0h1m0 0h1m1 0h1m2 0h1m11 0h1m21 0h1m7 0h1m18 0h1m84 0h1m19 0h1m51 0h1m10 0h1m61 0h1m30 0h1m46 0h1m6 0h1m6 0h1m18 0h1m2 0h1m16 0h1m34 0h1m0 0h1m54 0h1m68 0h1m0 0h1m2 0h1m16 0h1m17 0h1m0 0h1m22 0h1m8 0h1m0 0h1m5 0h1m7 0h1m33 0h1m3 0h1m62 0h1m36 0h1m1 0h1m6 0h1m28 0h1m-1146 1h1m2 0h1m6 0h1m8 0h1m10 0h1m16 0h1m0 0h1m31 0h1m1 0h1m42 0h1m24 0h1m48 0h1m18 0h1m8 0h1m8 0h1m9 0h1m13 0h1m6 0h1m18 0h1m27 0h1m2 0h1m21 0h1m30 0h1m31 0h1m28 0h1m6 0h1m66 0h1m3 0h1m50 0h1m15 0h1m45 0h1m60 0h1m23 0h1m21 0h1m107 0h1m5 0h1m2 0h1m55 0h1m27 0h1m27 0h1m15 0h1m10 0h1m3 0h1m11 0h1m1 0h1m23 0h1m65 0h1m10 0h1m31 0h1m1 0h1m-1126 1h1m3 0h1m11 0h1m15 0h1m1 0h1m0 0h1m5 0h1m2 0h1m4 0h1m20 0h1m22 0h1m30 0h1m29 0h1m3 0h1m0 0h1m20 0h1m10 0h1m16 0h1m9 0h1m23 0h1m2 0h1m12 0h1m1 0h1m10 0h1m4 0h1m3 0h1m5 0h1m1 0h1m40 0h1m14 0h1m11 0h1m7 0h1m1 0h1m11 0h1m1 0h1m30 0h1m2 0h1m23 0h1m19 0h1m33 0h1m45 0h1m12 0h1m38 0h1m27 0h1m13 0h1m42 0h1m10 0h1m20 0h1m7 0h1m4 0h1m12 0h1m11 0h1m72 0h1m10 0h1m27 0h1m6 0h1m5 0h1m17 0h1m20 0h1m18 0h1m27 0h1m96 0h1m1 0h1m0 0h1m8 0h1m2 0h1m0 0h1m10 0h1m24 0h1m-1111 1h1m2 0h1m0 0h1m16 0h1m1 0h1m0 0h1m4 0h1m18 0h1m11 0h1m19 0h1m10 0h1m28 0h1m21 0h1m0 0h1m7 0h1m3 0h1m16 0h1m18 0h1m2 0h1m32 0h1m21 0h1m2 0h1m1 0h1m9 0h1m17 0h1m23 0h1m0 0h1m8 0h1m25 0h1m6 0h1m14 0h1m41 0h1m40 0h1m48 0h1m34 0h1m35 0h1m54 0h1m20 0h1m3 0h1m0 0h1m1 0h1m110 0h1m19 0h1m16 0h1m7 0h1m5 0h1m53 0h1m31 0h1m24 0h1m13 0h1m48 0h1m14 0h1m2 0h1m-1040 1h1m17 0h1m15 0h1m22 0h1m1 0h1m0 0h1m1 0h1m3 0h1m12 0h1m0 0h1m8 0h1m7 0h1m25 0h1m44 0h1m2 0h1m15 0h1m10 0h1m25 0h1m13 0h1m41 0h1m16 0h1m2 0h1m8 0h1m0 0h1m2 0h1m3 0h1m37 0h1m59 0h1m3 0h1m22 0h1m2 0h1m50 0h1m11 0h1m2 0h1m30 0h1m15 0h1m171 0h1m16 0h1m45 0h1m37 0h1m2 0h1m5 0h1m7 0h1m84 0h1m36 0h1m32 0h1m18 0h1m-990 1h1m2 0h1m2 0h1m14 0h1m10 0h1m3 0h1m7 0h1m10 0h1m29 0h1m16 0h1m36 0h1m3 0h1m47 0h1m16 0h1m34 0h1m6 0h1m9 0h1m5 0h1m3 0h1m13 0h1m0 0h1m0 0h1m53 0h1m21 0h1m11 0h1m3 0h1m49 0h1m6 0h1m12 0h1m41 0h1m12 0h1m59 0h1m12 0h1m12 0h1m3 0h1m1 0h1m11 0h1m15 0h1m18 0h1m40 0h1m30 0h1m9 0h1m33 0h1m65 0h1m9 0h1m17 0h1m38 0h1m1 0h1m2 0h1m7 0h1m35 0h1m52 0h1m5 0h1m21 0h1m24 0h1m36 0h1m5 0h1m8 0h1m24 0h1m1 0h1m3 0h1m-1141 1h1m11 0h1m4 0h1m8 0h1m9 0h1m2 0h1m3 0h1m16 0h1m1 0h1m1 0h1m14 0h1m14 0h1m39 0h1m10 0h1m23 0h1m0 0h1m53 0h1m5 0h1m24 0h1m7 0h1m3 0h1m6 0h1m0 0h1m14 0h1m17 0h1m6 0h1m43 0h1m60 0h1m32 0h1m31 0h1m39 0h1m44 0h1m10 0h1m30 0h1m40 0h1m34 0h1m18 0h1m37 0h1m0 0h1m53 0h1m47 0h1m40 0h1m28 0h1m56 0h1m17 0h1m32 0h1m2 0h1m25 0h1m37 0h1m-1118 1h1m37 0h1m0 0h1m3 0h1m1 0h1m3 0h1m1 0h1m2 0h1m7 0h1m9 0h1m6 0h1m6 0h1m6 0h1m29 0h1m11 0h1m3 0h1m13 0h1m31 0h1m2 0h1m12 0h1m8 0h1m6 0h1m5 0h1m3 0h1m11 0h1m40 0h1m8 0h1m3 0h1m2 0h1m14 0h1m1 0h1m3 0h1m23 0h1m29 0h1m5 0h1m0 0h1m4 0h1m19 0h1m28 0h1m98 0h1m19 0h1m34 0h1m72 0h1m4 0h1m1 0h1m123 0h1m9 0h1m61 0h1m92 0h1m7 0h1m29 0h1m8 0h1m13 0h1m59 0h1m0 0h1m30 0h1m24 0h1m7 0h1m9 0h1m-1157 1h1m32 0h1m1 0h1m4 0h1m1 0h1m0 0h1m7 0h1m0 0h1m18 0h1m4 0h1m4 0h1m9 0h1m12 0h1m0 0h1m70 0h1m8 0h1m1 0h1m19 0h1m24 0h1m46 0h1m10 0h1m5 0h1m2 0h1m0 0h1m1 0h1m1 0h1m6 0h1m2 0h1m13 0h1m0 0h1m0 0h1m0 0h1m0 0h1m31 0h1m22 0h1m5 0h1m2 0h1m3 0h1m22 0h1m9 0h1m48 0h1m5 0h1m7 0h1m48 0h1m2 0h1m69 0h1m31 0h1m22 0h1m3 0h1m14 0h1m2 0h1m6 0h1m4 0h1m39 0h1m3 0h1m26 0h1m25 0h1m12 0h1m9 0h1m50 0h1m4 0h1m15 0h1m6 0h1m0 0h1m31 0h1m48 0h1m33 0h1m16 0h1m3 0h1m42 0h1m5 0h1m5 0h1m77 0h1m-1181 1h1m2 0h1m12 0h1m16 0h1m5 0h1m10 0h1m2 0h1m7 0h1m1 0h1m10 0h1m1 0h1m1 0h1m7 0h1m21 0h1m44 0h1m4 0h1m17 0h1m7 0h1m36 0h1m50 0h1m4 0h1m5 0h1m24 0h1m4 0h1m13 0h1m13 0h1m17 0h1m17 0h1m1 0h1m14 0h1m21 0h1m8 0h1m29 0h1m42 0h1m1 0h1m167 0h1m16 0h1m5 0h1m23 0h1m26 0h1m0 0h1m1 0h1m22 0h1m26 0h1m4 0h1m83 0h1m5 0h1m34 0h1m52 0h1m12 0h1m78 0h1m0 0h1m9 0h1m0 0h1m9 0h1m34 0h1m5 0h1m0 0h1m6 0h1m7 0h1m-1096 1h1m10 0h1m9 0h1m11 0h1m14 0h1m2 0h1m1 0h1m25 0h1m14 0h1m3 0h1m38 0h1m10 0h1m2 0h1m2 0h1m0 0h1m3 0h1m1 0h1m0 0h1m12 0h1m17 0h1m24 0h1m16 0h1m13 0h1m5 0h1m1 0h1m2 0h1m43 0h1m24 0h1m2 0h1m9 0h1m15 0h1m31 0h1m4 0h1m56 0h1m28 0h1m88 0h1m38 0h1m31 0h1m22 0h1m34 0h1m52 0h1m7 0h1m24 0h1m3 0h1m5 0h1m1 0h1m17 0h1m25 0h1m6 0h1m37 0h1m44 0h1m32 0h1m33 0h1m59 0h1m7 0h1m3 0h1m27 0h1m24 0h1m-1152 1h1m16 0h1m8 0h1m12 0h1m28 0h1m2 0h1m2 0h1m4 0h1m125 0h1m16 0h1m28 0h1m35 0h1m10 0h1m24 0h1m13 0h1m17 0h1m1 0h1m19 0h1m0 0h1m50 0h1m6 0h1m3 0h1m16 0h1m24 0h1m80 0h1m50 0h1m67 0h1m2 0h1m1 0h1m10 0h1m9 0h1m47 0h1m15 0h1m5 0h1m23 0h1m2 0h1m13 0h1m27 0h1m47 0h1m24 0h1m5 0h1m125 0h1m31 0h1m46 0h1m-1158 1h1m3 0h1m16 0h1m36 0h1m0 0h1m1 0h1m0 0h1m7 0h1m1 0h1m15 0h1m0 0h1m19 0h1m46 0h1m9 0h1m11 0h1m7 0h1m6 0h1m12 0h1m32 0h1m27 0h1m11 0h1m6 0h1m1 0h1m4 0h1m4 0h1m15 0h1m3 0h1m6 0h1m1 0h1m0 0h1m22 0h1m25 0h1m73 0h1m14 0h1m12 0h1m9 0h1m28 0h1m75 0h1m18 0h1m31 0h1m9 0h1m3 0h1m29 0h1m18 0h1m9 0h1m10 0h1m9 0h1m0 0h1m18 0h1m27 0h1m15 0h1m8 0h1m45 0h1m9 0h1m1 0h1m3 0h1m27 0h1m24 0h1m1 0h1m19 0h1m8 0h1m58 0h1m18 0h1m28 0h1m53 0h1m-1060 1h1m38 0h1m12 0h1m12 0h1m53 0h1m12 0h1m15 0h1m2 0h1m16 0h1m8 0h1m18 0h1m7 0h1m6 0h1m2 0h1m2 0h1m10 0h1m3 0h1m0 0h1m0 0h1m4 0h1m0 0h1m2 0h1m1 0h1m0 0h1m1 0h1m9 0h1m10 0h1m4 0h1m22 0h1m8 0h1m12 0h1m1 0h1m10 0h1m18 0h1m23 0h1m28 0h1m4 0h1m7 0h1m78 0h1m0 0h1m29 0h1m20 0h1m55 0h1m66 0h1m71 0h1m30 0h1m5 0h1m3 0h1m4 0h1m34 0h1m2 0h1m1 0h1m34 0h1m16 0h1m11 0h1m4 0h1m0 0h1m43 0h1m24 0h1m13 0h1m3 0h1m3 0h1m60 0h1m3 0h1m2 0h1m24 0h1m-1139 1h1m12 0h1m0 0h1m36 0h1m3 0h1m6 0h1m1 0h1m1 0h1m4 0h1m1 0h1m2 0h1m6 0h1m2 0h1m0 0h1m9 0h1m7 0h1m16 0h1m49 0h1m9 0h1m5 0h1m5 0h1m4 0h1m36 0h1m5 0h1m26 0h1m16 0h1m6 0h1m5 0h1m0 0h1m0 0h1m2 0h1m1 0h1m2 0h1m49 0h1m9 0h1m0 0h1m13 0h1m41 0h1m21 0h1m19 0h1m25 0h1m1 0h1m8 0h1m4 0h1m5 0h1m33 0h1m46 0h1m78 0h1m15 0h1m75 0h1m110 0h1m20 0h1m20 0h1m29 0h1m17 0h1m51 0h1m19 0h1m21 0h1m21 0h1m0 0h1m17 0h1m11 0h1m22 0h1m0 0h1m9 0h1m-1153 1h1m43 0h1m19 0h1m6 0h1m4 0h1m2 0h1m1 0h1m7 0h1m3 0h1m8 0h1m6 0h1m15 0h1m41 0h1m12 0h1m6 0h1m33 0h1m39 0h1m7 0h1m1 0h1m12 0h1m19 0h1m5 0h1m0 0h1m1 0h1m6 0h1m9 0h1m9 0h1m1 0h1m1 0h1m7 0h1m14 0h1m72 0h1m4 0h1m3 0h1m21 0h1m38 0h1m69 0h1m11 0h1m11 0h1m16 0h1m10 0h1m23 0h1m25 0h1m14 0h1m33 0h1m32 0h1m92 0h1m0 0h1m12 0h1m57 0h1m0 0h1m9 0h1m38 0h1m25 0h1m13 0h1m4 0h1m9 0h1m2 0h1m26 0h1m7 0h1m0 0h1m9 0h1m2 0h1m9 0h1m41 0h1m4 0h1m19 0h1m19 0h1m-1190 1h1m30 0h1m0 0h1m2 0h1m19 0h1m5 0h1m4 0h1m8 0h1m5 0h1m13 0h1m0 0h1m13 0h1m3 0h1m1 0h1m32 0h1m25 0h1m1 0h1m11 0h1m6 0h1m7 0h1m1 0h1m22 0h1m26 0h1m1 0h1m48 0h1m2 0h1m1 0h1m4 0h1m13 0h1m6 0h1m5 0h1m3 0h1m41 0h1m39 0h1m0 0h1m37 0h1m27 0h1m4 0h1m45 0h1m12 0h1m7 0h1m18 0h1m68 0h1m20 0h1m40 0h1m73 0h1m7 0h1m106 0h1m9 0h1m29 0h1m55 0h1m96 0h1m9 0h1m13 0h1m7 0h1m0 0h1m27 0h1m21 0h1m-1158 1h1m1 0h1m15 0h1m6 0h1m6 0h1m1 0h1m12 0h1m0 0h1m0 0h1m23 0h1m33 0h1m66 0h1m2 0h1m16 0h1m13 0h1m4 0h1m14 0h1m8 0h1m0 0h1m7 0h1m16 0h1m2 0h1m6 0h1m0 0h1m8 0h1m2 0h1m7 0h1m3 0h1m16 0h1m5 0h1m6 0h1m31 0h1m30 0h1m19 0h1m10 0h1m54 0h1m8 0h1m16 0h1m5 0h1m48 0h1m5 0h1m2 0h1m22 0h1m24 0h1m6 0h1m27 0h1m9 0h1m5 0h1m4 0h1m15 0h1m30 0h1m68 0h1m3 0h1m29 0h1m32 0h1m46 0h1m26 0h1m14 0h1m9 0h1m2 0h1m22 0h1m0 0h1m23 0h1m7 0h1m27 0h1m26 0h1m28 0h1m41 0h1m3 0h1m1 0h1m3 0h1m-1168 1h1m0 0h1m39 0h1m5 0h1m2 0h1m6 0h1m2 0h1m6 0h1m2 0h1m4 0h1m2 0h1m111 0h1m13 0h1m0 0h1m26 0h1m2 0h1m17 0h1m5 0h1m25 0h1m6 0h1m5 0h1m7 0h1m3 0h1m0 0h1m45 0h1m22 0h1m5 0h1m10 0h1m16 0h1m10 0h1m0 0h1m29 0h1m28 0h1m43 0h1m67 0h1m17 0h1m55 0h1m18 0h1m86 0h1m37 0h1m1 0h1m7 0h1m6 0h1m14 0h1m4 0h1m23 0h1m2 0h1m8 0h1m18 0h1m62 0h1m32 0h1m11 0h1m4 0h1m6 0h1m39 0h1m9 0h1m7 0h1m4 0h1m26 0h1m6 0h1m26 0h1m3 0h1m17 0h1m6 0h1m-1143 1h1m5 0h1m0 0h1m12 0h1m3 0h1m14 0h1m4 0h1m0 0h1m4 0h1m4 0h1m3 0h1m4 0h1m6 0h1m41 0h1m4 0h1m23 0h1m0 0h1m6 0h1m14 0h1m0 0h1m46 0h1m8 0h1m5 0h1m5 0h1m1 0h1m8 0h1m2 0h1m16 0h1m1 0h1m4 0h1m1 0h1m33 0h1m21 0h1m0 0h1m7 0h1m7 0h1m12 0h1m7 0h1m32 0h1m47 0h1m4 0h1m19 0h1m4 0h1m9 0h1m36 0h1m53 0h1m20 0h1m43 0h1m60 0h1m5 0h1m34 0h1m106 0h1m43 0h1m2 0h1m3 0h1m19 0h1m6 0h1m71 0h1m13 0h1m4 0h1m13 0h1m15 0h1m14 0h1m9 0h1m43 0h1m1 0h1m-1167 1h1m32 0h1m11 0h1m11 0h1m10 0h1m9 0h1m8 0h1m10 0h1m2 0h1m0 0h1m14 0h1m13 0h1m17 0h1m28 0h1m6 0h1m11 0h1m11 0h1m3 0h1m24 0h1m41 0h1m6 0h1m1 0h1m9 0h1m3 0h1m1 0h1m5 0h1m7 0h1m2 0h1m1 0h1m26 0h1m4 0h1m1 0h1m53 0h1m18 0h1m11 0h1m12 0h1m10 0h1m22 0h1m57 0h1m2 0h1m28 0h1m10 0h1m2 0h1m13 0h1m2 0h1m19 0h1m23 0h1m2 0h1m4 0h1m42 0h1m3 0h1m121 0h1m28 0h1m10 0h1m3 0h1m5 0h1m55 0h1m14 0h1m3 0h1m43 0h1m23 0h1m38 0h1m19 0h1m21 0h1m47 0h1m5 0h1m-1122 1h1m7 0h1m7 0h1m0 0h1m0 0h1m35 0h1m12 0h1m22 0h1m48 0h1m13 0h1m0 0h1m4 0h1m7 0h1m0 0h1m0 0h1m9 0h1m0 0h1m31 0h1m3 0h1m14 0h1m15 0h1m2 0h1m1 0h1m16 0h1m4 0h1m4 0h1m3 0h1m8 0h1m3 0h1m84 0h1m56 0h1m10 0h1m53 0h1m4 0h1m10 0h1m58 0h1m24 0h1m17 0h1m6 0h1m35 0h1m23 0h1m43 0h1m36 0h1m20 0h1m33 0h1m12 0h1m6 0h1m13 0h1m43 0h1m35 0h1m59 0h1m19 0h1m1 0h1m0 0h1m56 0h1m0 0h1m5 0h1m22 0h1m27 0h1m-1179 1h1m13 0h1m31 0h1m2 0h1m2 0h1m2 0h1m4 0h1m4 0h1m0 0h1m7 0h1m15 0h1m0 0h1m7 0h1m1 0h1m0 0h1m10 0h1m25 0h1m47 0h1m7 0h1m9 0h1m5 0h1m0 0h1m16 0h1m11 0h1m2 0h1m0 0h1m2 0h1m2 0h1m21 0h1m12 0h1m9 0h1m0 0h1m0 0h1m4 0h1m1 0h1m0 0h1m4 0h1m5 0h1m5 0h1m2 0h1m2 0h1m1 0h1m4 0h1m7 0h1m0 0h1m4 0h1m19 0h1m0 0h1m8 0h1m10 0h1m5 0h1m4 0h1m4 0h1m13 0h1m0 0h1m3 0h1m22 0h1m4 0h1m49 0h1m8 0h1m0 0h1m76 0h1m16 0h1m38 0h1m20 0h1m21 0h1m2 0h1m23 0h1m9 0h1m16 0h1m27 0h1m18 0h1m19 0h1m9 0h1m15 0h1m0 0h1m31 0h1m8 0h1m19 0h1m4 0h1m7 0h1m50 0h1m47 0h1m17 0h1m26 0h1m1 0h1m12 0h1m9 0h1m40 0h1m8 0h1m8 0h1m-1099 1h1m17 0h1m0 0h1m6 0h1m62 0h1m15 0h1m21 0h1m8 0h1m62 0h1m21 0h1m6 0h1m26 0h1m2 0h1m6 0h1m3 0h1m4 0h1m0 0h1m1 0h1m1 0h1m3 0h1m0 0h1m2 0h1m6 0h1m12 0h1m2 0h1m10 0h1m15 0h1m17 0h1m5 0h1m25 0h1m15 0h1m15 0h1m1 0h1m19 0h1m26 0h1m1 0h1m15 0h1m47 0h1m8 0h1m47 0h1m0 0h1m0 0h1m0 0h1m51 0h1m104 0h1m6 0h1m6 0h1m15 0h1m1 0h1m8 0h1m26 0h1m8 0h1m44 0h1m44 0h1m61 0h1m56 0h1m12 0h1m50 0h1m-1122 1h1m6 0h1m15 0h1m1 0h1m10 0h1m0 0h1m2 0h1m12 0h1m5 0h1m10 0h1m1 0h1m4 0h1m3 0h1m21 0h1m22 0h1m37 0h1m25 0h1m11 0h1m2 0h1m1 0h1m2 0h1m8 0h1m0 0h1m1 0h1m0 0h1m22 0h1m4 0h1m5 0h1m1 0h1m9 0h1m0 0h1m7 0h1m16 0h1m1 0h1m7 0h1m36 0h1m12 0h1m0 0h1m10 0h1m0 0h1m2 0h1m32 0h1m14 0h1m5 0h1m11 0h1m1 0h1m1 0h1m14 0h1m35 0h1m42 0h1m29 0h1m2 0h1m15 0h1m14 0h1m6 0h1m26 0h1m1 0h1m6 0h1m7 0h1m10 0h1m5 0h1m20 0h1m3 0h1m2 0h1m37 0h1m36 0h1m69 0h1m1 0h1m36 0h1m10 0h1m2 0h1m7 0h1m0 0h1m17 0h1m6 0h1m54 0h1m25 0h1m25 0h1m16 0h1m44 0h1m38 0h1m11 0h1m5 0h1m8 0h1m-1176 1h1m27 0h1m16 0h1m2 0h1m0 0h1m9 0h1m8 0h1m20 0h1m2 0h1m5 0h1m6 0h1m1 0h1m6 0h1m7 0h1m8 0h1m3 0h1m28 0h1m26 0h1m33 0h1m5 0h1m4 0h1m29 0h1m35 0h1m16 0h1m0 0h1m6 0h1m13 0h1m8 0h1m20 0h1m2 0h1m8 0h1m12 0h1m63 0h1m42 0h1m28 0h1m68 0h1m81 0h1m44 0h1m26 0h1m12 0h1m6 0h1m112 0h1m59 0h1m21 0h1m21 0h1m49 0h1m15 0h1m37 0h1m67 0h1m7 0h1m-1136 1h1m0 0h1m4 0h1m1 0h1m3 0h1m1 0h1m7 0h1m4 0h1m0 0h1m0 0h1m6 0h1m8 0h1m0 0h1m74 0h1m19 0h1m7 0h1m0 0h1m12 0h1m0 0h1m23 0h1m0 0h1m41 0h1m15 0h1m0 0h1m29 0h1m3 0h1m2 0h1m44 0h1m19 0h1m22 0h1m33 0h1m4 0h1m0 0h1m0 0h1m16 0h1m5 0h1m30 0h1m7 0h1m30 0h1m18 0h1m39 0h1m12 0h1m10 0h1m9 0h1m84 0h1m5 0h1m94 0h1m39 0h1m36 0h1m10 0h1m40 0h1m25 0h1m12 0h1m16 0h1m7 0h1m66 0h1m6 0h1m74 0h1m11 0h1m2 0h1m-1185 1h1m4 0h1m3 0h1m38 0h1m1 0h1m20 0h1m4 0h1m8 0h1m1 0h1m0 0h1m16 0h1m23 0h1m23 0h1m7 0h1m27 0h1m34 0h1m15 0h1m3 0h1m6 0h1m2 0h1m23 0h1m9 0h1m6 0h1m1 0h1m10 0h1m9 0h1m10 0h1m29 0h1m0 0h1m22 0h1m9 0h1m9 0h1m30 0h1m14 0h1m13 0h1m24 0h1m63 0h1m2 0h1m19 0h1m28 0h1m7 0h1m10 0h1m53 0h1m13 0h1m15 0h1m15 0h1m47 0h1m51 0h1m29 0h1m71 0h1m8 0h1m0 0h1m8 0h1m10 0h1m6 0h1m29 0h1m2 0h1m58 0h1m35 0h1m12 0h1m46 0h1m11 0h1m0 0h1m1 0h1m6 0h1m-1166 1h1m21 0h1m15 0h1m5 0h1m4 0h1m7 0h1m17 0h1m8 0h1m22 0h1m11 0h1m32 0h1m10 0h1m3 0h1m3 0h1m1 0h1m17 0h1m18 0h1m1 0h1m1 0h1m2 0h1m0 0h1m2 0h1m10 0h1m5 0h1m39 0h1m8 0h1m1 0h1m32 0h1m23 0h1m19 0h1m4 0h1m4 0h1m2 0h1m10 0h1m5 0h1m11 0h1m10 0h1m5 0h1m40 0h1m0 0h1m45 0h1m2 0h1m46 0h1m0 0h1m0 0h1m19 0h1m30 0h1m100 0h1m78 0h1m5 0h1m16 0h1m30 0h1m11 0h1m37 0h1m19 0h1m51 0h1m0 0h1m2 0h1m19 0h1m14 0h1m40 0h1m10 0h1m20 0h1m49 0h1m9 0h1m-1155 1h1m4 0h1m9 0h1m8 0h1m15 0h1m15 0h1m3 0h1m2 0h1m2 0h1m4 0h1m1 0h1m0 0h1m1 0h1m21 0h1m2 0h1m3 0h1m59 0h1m18 0h1m8 0h1m9 0h1m0 0h1m17 0h1m5 0h1m4 0h1m7 0h1m1 0h1m15 0h1m3 0h1m1 0h1m4 0h1m8 0h1m7 0h1m10 0h1m7 0h1m6 0h1m9 0h1m1 0h1m6 0h1m25 0h1m14 0h1m12 0h1m17 0h1m10 0h1m22 0h1m7 0h1m13 0h1m9 0h1m3 0h1m54 0h1m8 0h1m7 0h1m20 0h1m22 0h1m25 0h1m2 0h1m36 0h1m11 0h1m6 0h1m4 0h1m19 0h1m20 0h1m2 0h1m39 0h1m0 0h1m8 0h1m23 0h1m12 0h1m0 0h1m46 0h1m15 0h1m16 0h1m38 0h1m2 0h1m40 0h1m27 0h1m39 0h1m3 0h1m38 0h1m90 0h1m-1162 1h1m23 0h1m5 0h1m0 0h1m1 0h1m1 0h1m3 0h1m5 0h1m10 0h1m16 0h1m12 0h1m2 0h1m26 0h1m11 0h1m1 0h1m22 0h1m0 0h1m33 0h1m1 0h1m7 0h1m16 0h1m24 0h1m10 0h1m11 0h1m25 0h1m13 0h1m37 0h1m34 0h1m26 0h1m22 0h1m39 0h1m11 0h1m0 0h1m69 0h1m0 0h1m10 0h1m15 0h1m0 0h1m6 0h1m27 0h1m11 0h1m26 0h1m23 0h1m22 0h1m22 0h1m12 0h1m39 0h1m14 0h1m22 0h1m7 0h1m6 0h1m28 0h1m31 0h1m42 0h1m24 0h1m68 0h1m17 0h1m7 0h1m18 0h1m5 0h1m1 0h1m57 0h1m9 0h1m6 0h1m9 0h1m-1165 1h1m9 0h1m30 0h1m12 0h1m2 0h1m3 0h1m0 0h1m0 0h1m0 0h1m19 0h1m1 0h1m31 0h1m0 0h1m9 0h1m35 0h1m1 0h1m2 0h1m11 0h1m24 0h1m0 0h1m12 0h1m0 0h1m9 0h1m1 0h1m24 0h1m2 0h1m10 0h1m25 0h1m1 0h1m0 0h1m0 0h1m2 0h1m5 0h1m32 0h1m9 0h1m12 0h1m1 0h1m2 0h1m4 0h1m2 0h1m34 0h1m5 0h1m13 0h1m22 0h1m47 0h1m34 0h1m69 0h1m29 0h1m7 0h1m7 0h1m17 0h1m36 0h1m46 0h1m52 0h1m36 0h1m25 0h1m51 0h1m29 0h1m6 0h1m70 0h1m63 0h1m-1109 1h1m14 0h1m29 0h1m2 0h1m3 0h1m1 0h1m20 0h1m0 0h1m12 0h1m8 0h1m0 0h1m18 0h1m2 0h1m36 0h1m1 0h1m0 0h1m16 0h1m0 0h1m8 0h1m20 0h1m8 0h1m5 0h1m10 0h1m1 0h1m6 0h1m2 0h1m34 0h1m2 0h1m8 0h1m1 0h1m9 0h1m5 0h1m1 0h1m1 0h1m1 0h1m5 0h1m4 0h1m4 0h1m4 0h1m20 0h1m27 0h1m0 0h1m8 0h1m4 0h1m9 0h1m24 0h1m2 0h1m4 0h1m40 0h1m21 0h1m5 0h1m43 0h1m76 0h1m7 0h1m35 0h1m15 0h1m47 0h1m37 0h1m6 0h1m7 0h1m3 0h1m2 0h1m8 0h1m28 0h1m71 0h1m43 0h1m42 0h1m51 0h1m13 0h1m10 0h1m37 0h1m43 0h1m-1170 1h1m15 0h1m4 0h1m24 0h1m2 0h1m17 0h1m33 0h1m16 0h1m30 0h1m10 0h1m15 0h1m9 0h1m6 0h1m25 0h1m36 0h1m6 0h1m31 0h1m2 0h1m19 0h1m5 0h1m5 0h1m12 0h1m2 0h1m11 0h1m3 0h1m39 0h1m1 0h1m17 0h1m2 0h1m21 0h1m4 0h1m0 0h1m23 0h1m3 0h1m2 0h1m44 0h1m10 0h1m15 0h1m126 0h1m18 0h1m12 0h1m24 0h1m10 0h1m11 0h1m10 0h1m49 0h1m21 0h1m15 0h1m4 0h1m3 0h1m18 0h1m19 0h1m22 0h1m46 0h1m4 0h1m28 0h1m5 0h1m25 0h1m37 0h1m17 0h1m1 0h1m13 0h1m5 0h1m24 0h1m-1139 1h1m34 0h1m9 0h1m9 0h1m8 0h1m2 0h1m4 0h1m15 0h1m6 0h1m4 0h1m18 0h1m33 0h1m1 0h1m52 0h1m5 0h1m27 0h1m3 0h1m9 0h1m16 0h1m3 0h1m5 0h1m6 0h1m2 0h1m3 0h1m10 0h1m2 0h1m2 0h1m0 0h1m28 0h1m11 0h1m7 0h1m5 0h1m0 0h1m9 0h1m6 0h1m31 0h1m23 0h1m2 0h1m0 0h1m9 0h1m24 0h1m26 0h1m1 0h1m38 0h1m13 0h1m14 0h1m19 0h1m4 0h1m12 0h1m3 0h1m7 0h1m26 0h1m23 0h1m45 0h1m9 0h1m2 0h1m38 0h1m3 0h1m2 0h1m22 0h1m42 0h1m69 0h1m83 0h1m8 0h1m7 0h1m18 0h1m24 0h1m30 0h1m31 0h1m38 0h1m3 0h1m-1187 1h1m7 0h1m28 0h1m14 0h1m21 0h1m6 0h1m8 0h1m0 0h1m6 0h1m1 0h1m3 0h1m6 0h1m10 0h1m57 0h1m29 0h1m4 0h1m8 0h1m1 0h1m20 0h1m2 0h1m7 0h1m7 0h1m11 0h1m33 0h1m0 0h1m10 0h1m3 0h1m36 0h1m6 0h1m2 0h1m7 0h1m1 0h1m16 0h1m4 0h1m1 0h1m18 0h1m17 0h1m23 0h1m23 0h1m6 0h1m20 0h1m13 0h1m62 0h1m2 0h1m5 0h1m7 0h1m0 0h1m4 0h1m27 0h1m30 0h1m27 0h1m47 0h1m47 0h1m4 0h1m3 0h1m1 0h1m70 0h1m18 0h1m4 0h1m60 0h1m1 0h1m17 0h1m10 0h1m8 0h1m76 0h1m16 0h1m34 0h1m31 0h1m-1170 1h1m7 0h1m22 0h1m11 0h1m5 0h1m8 0h1m3 0h1m0 0h1m3 0h1m16 0h1m4 0h1m1 0h1m0 0h1m2 0h1m8 0h1m13 0h1m16 0h1m2 0h1m5 0h1m6 0h1m6 0h1m1 0h1m3 0h1m1 0h1m15 0h1m14 0h1m8 0h1m28 0h1m5 0h1m7 0h1m2 0h1m1 0h1m9 0h1m0 0h1m27 0h1m1 0h1m4 0h1m3 0h1m7 0h1m4 0h1m4 0h1m0 0h1m1 0h1m0 0h1m2 0h1m22 0h1m12 0h1m10 0h1m0 0h1m0 0h1m4 0h1m2 0h1m0 0h1m7 0h1m1 0h1m6 0h1m11 0h1m13 0h1m43 0h1m19 0h1m1 0h1m15 0h1m10 0h1m9 0h1m92 0h1m20 0h1m21 0h1m68 0h1m8 0h1m27 0h1m40 0h1m54 0h1m13 0h1m7 0h1m3 0h1m8 0h1m2 0h1m10 0h1m17 0h1m16 0h1m39 0h1m10 0h1m5 0h1m6 0h1m19 0h1m41 0h1m1 0h1m37 0h1m3 0h1m3 0h1m11 0h1m6 0h1m6 0h1m15 0h1m-1125 1h1m8 0h1m4 0h1m18 0h1m5 0h1m6 0h1m0 0h1m16 0h1m3 0h1m13 0h1m13 0h1m16 0h1m4 0h1m8 0h1m9 0h1m11 0h1m2 0h1m17 0h1m12 0h1m9 0h1m42 0h1m18 0h1m12 0h1m5 0h1m6 0h1m5 0h1m0 0h1m15 0h1m5 0h1m4 0h1m9 0h1m5 0h1m0 0h1m18 0h1m40 0h1m7 0h1m4 0h1m2 0h1m12 0h1m19 0h1m1 0h1m51 0h1m11 0h1m13 0h1m12 0h1m7 0h1m16 0h1m1 0h1m35 0h1m7 0h1m19 0h1m15 0h1m59 0h1m9 0h1m41 0h1m24 0h1m10 0h1m16 0h1m0 0h1m0 0h1m80 0h1m26 0h1m30 0h1m0 0h1m1 0h1m10 0h1m43 0h1m1 0h1m28 0h1m3 0h1m25 0h1m-1086 1h1m20 0h1m7 0h1m14 0h1m3 0h1m3 0h1m13 0h1m0 0h1m12 0h1m3 0h1m6 0h1m1 0h1m76 0h1m0 0h1m16 0h1m11 0h1m13 0h1m12 0h1m27 0h1m16 0h1m1 0h1m0 0h1m0 0h1m2 0h1m0 0h1m36 0h1m24 0h1m1 0h1m3 0h1m1 0h1m5 0h1m0 0h1m5 0h1m6 0h1m12 0h1m21 0h1m29 0h1m1 0h1m2 0h1m184 0h1m8 0h1m61 0h1m29 0h1m4 0h1m4 0h1m3 0h1m22 0h1m1 0h1m71 0h1m2 0h1m19 0h1m5 0h1m11 0h1m6 0h1m21 0h1m5 0h1m4 0h1m83 0h1m149 0h1m-1177 1h1m9 0h1m0 0h1m33 0h1m0 0h1m4 0h1m9 0h1m11 0h1m11 0h1m10 0h1m4 0h1m1 0h1m15 0h1m17 0h1m13 0h1m14 0h1m11 0h1m5 0h1m8 0h1m11 0h1m19 0h1m5 0h1m5 0h1m8 0h1m26 0h1m16 0h1m2 0h1m6 0h1m2 0h1m0 0h1m18 0h1m6 0h1m7 0h1m6 0h1m29 0h1m13 0h1m0 0h1m29 0h1m14 0h1m9 0h1m22 0h1m25 0h1m13 0h1m26 0h1m1 0h1m27 0h1m11 0h1m7 0h1m8 0h1m11 0h1m10 0h1m6 0h1m36 0h1m0 0h1m1 0h1m41 0h1m55 0h1m122 0h1m5 0h1m24 0h1m8 0h1m28 0h1m4 0h1m30 0h1m3 0h1m48 0h1m42 0h1m13 0h1m7 0h1m32 0h1m23 0h1m-1161 1h1m13 0h1m29 0h1m2 0h1m0 0h1m2 0h1m10 0h1m5 0h1m29 0h1m0 0h1m33 0h1m11 0h1m15 0h1m1 0h1m24 0h1m0 0h1m12 0h1m12 0h1m15 0h1m20 0h1m19 0h1m10 0h1m0 0h1m6 0h1m33 0h1m1 0h1m3 0h1m24 0h1m6 0h1m5 0h1m2 0h1m0 0h1m0 0h1m18 0h1m19 0h1m10 0h1m1 0h1m16 0h1m0 0h1m79 0h1m15 0h1m1 0h1m7 0h1m5 0h1m10 0h1m22 0h1m42 0h1m8 0h1m1 0h1m95 0h1m121 0h1m50 0h1m3 0h1m20 0h1m133 0h1m1 0h1m13 0h1m8 0h1m33 0h1m24 0h1m14 0h1m4 0h1m-1160 1h1m18 0h1m5 0h1m19 0h1m1 0h1m0 0h1m2 0h1m2 0h1m9 0h1m4 0h1m34 0h1m25 0h1m4 0h1m14 0h1m0 0h1m1 0h1m11 0h1m3 0h1m10 0h1m19 0h1m3 0h1m1 0h1m9 0h1m8 0h1m12 0h1m7 0h1m18 0h1m1 0h1m0 0h1m6 0h1m2 0h1m9 0h1m2 0h1m3 0h1m4 0h1m29 0h1m21 0h1m2 0h1m36 0h1m32 0h1m4 0h1m4 0h1m4 0h1m47 0h1m25 0h1m17 0h1m16 0h1m18 0h1m27 0h1m6 0h1m51 0h1m2 0h1m15 0h1m1 0h1m8 0h1m11 0h1m12 0h1m14 0h1m5 0h1m1 0h1m24 0h1m33 0h1m4 0h1m1 0h1m5 0h1m0 0h1m4 0h1m33 0h1m3 0h1m1 0h1m16 0h1m13 0h1m14 0h1m9 0h1m77 0h1m50 0h1m77 0h1m0 0h1m6 0h1m-1151 1h1m52 0h1m15 0h1m3 0h1m37 0h1m35 0h1m9 0h1m2 0h1m3 0h1m4 0h1m3 0h1m14 0h1m10 0h1m8 0h1m3 0h1m26 0h1m11 0h1m3 0h1m21 0h1m20 0h1m7 0h1m8 0h1m24 0h1m4 0h1m10 0h1m2 0h1m0 0h1m10 0h1m4 0h1m2 0h1m1 0h1m15 0h1m1 0h1m1 0h1m0 0h1m1 0h1m1 0h1m20 0h1m28 0h1m1 0h1m2 0h1m21 0h1m13 0h1m3 0h1m11 0h1m10 0h1m1 0h1m12 0h1m20 0h1m7 0h1m0 0h1m16 0h1m33 0h1m60 0h1m74 0h1m32 0h1m16 0h1m2 0h1m8 0h1m44 0h1m4 0h1m8 0h1m24 0h1m10 0h1m130 0h1m0 0h1m79 0h1m56 0h1m-1170 1h1m17 0h1m12 0h1m12 0h1m4 0h1m0 0h1m3 0h1m12 0h1m29 0h1m78 0h1m5 0h1m0 0h1m0 0h1m9 0h1m5 0h1m2 0h1m18 0h1m1 0h1m1 0h1m20 0h1m24 0h1m2 0h1m3 0h1m0 0h1m11 0h1m13 0h1m2 0h1m1 0h1m1 0h1m4 0h1m2 0h1m0 0h1m14 0h1m14 0h1m6 0h1m2 0h1m2 0h1m4 0h1m7 0h1m7 0h1m4 0h1m3 0h1m12 0h1m2 0h1m5 0h1m18 0h1m22 0h1m15 0h1m13 0h1m14 0h1m9 0h1m4 0h1m4 0h1m9 0h1m10 0h1m0 0h1m16 0h1m4 0h1m68 0h1m21 0h1m3 0h1m35 0h1m37 0h1m48 0h1m4 0h1m46 0h1m39 0h1m0 0h1m28 0h1m6 0h1m62 0h1m3 0h1m0 0h1m45 0h1m30 0h1m83 0h1m5 0h1m-1148 1h1m33 0h1m4 0h1m4 0h1m15 0h1m1 0h1m15 0h1m6 0h1m14 0h1m20 0h1m18 0h1m5 0h1m7 0h1m11 0h1m4 0h1m1 0h1m37 0h1m0 0h1m29 0h1m3 0h1m18 0h1m18 0h1m3 0h1m1 0h1m0 0h1m2 0h1m8 0h1m1 0h1m0 0h1m37 0h1m2 0h1m2 0h1m8 0h1m3 0h1m1 0h1m0 0h1m20 0h1m19 0h1m6 0h1m2 0h1m1 0h1m59 0h1m46 0h1m22 0h1m19 0h1m30 0h1m30 0h1m16 0h1m2 0h1m28 0h1m97 0h1m12 0h1m42 0h1m1 0h1m22 0h1m6 0h1m10 0h1m32 0h1m30 0h1m14 0h1m29 0h1m3 0h1m11 0h1m1 0h1m15 0h1m6 0h1m6 0h1m19 0h1m14 0h1m5 0h1m10 0h1m58 0h1m6 0h1m16 0h1m-1161 1h1m21 0h1m0 0h1m4 0h1m8 0h1m3 0h1m5 0h1m21 0h1m60 0h1m6 0h1m2 0h1m9 0h1m10 0h1m3 0h1m0 0h1m2 0h1m0 0h1m0 0h1m21 0h1m1 0h1m6 0h1m0 0h1m2 0h1m2 0h1m3 0h1m0 0h1m15 0h1m0 0h1m3 0h1m32 0h1m3 0h1m1 0h1m12 0h1m2 0h1m7 0h1m4 0h1m0 0h1m0 0h1m1 0h1m10 0h1m19 0h1m4 0h1m3 0h1m0 0h1m0 0h1m4 0h1m9 0h1m5 0h1m5 0h1m3 0h1m41 0h1m43 0h1m75 0h1m4 0h1m2 0h1m23 0h1m26 0h1m6 0h1m1 0h1m141 0h1m1 0h1m0 0h1m5 0h1m0 0h1m24 0h1m41 0h1m0 0h1m21 0h1m9 0h1m28 0h1m119 0h1m20 0h1m23 0h1m4 0h1m5 0h1m5 0h1m1 0h1m1 0h1m-1050 1h1m6 0h1m14 0h1m11 0h1m6 0h1m6 0h1m4 0h1m22 0h1m2 0h1m2 0h1m5 0h1m0 0h1m30 0h1m8 0h1m5 0h1m2 0h1m13 0h1m5 0h1m6 0h1m4 0h1m1 0h1m6 0h1m14 0h1m6 0h1m4 0h1m8 0h1m2 0h1m18 0h1m3 0h1m2 0h1m2 0h1m1 0h1m1 0h1m3 0h1m0 0h1m8 0h1m4 0h1m3 0h1m3 0h1m4 0h1m4 0h1m2 0h1m0 0h1m9 0h1m11 0h1m0 0h1m6 0h1m25 0h1m29 0h1m26 0h1m23 0h1m0 0h1m2 0h1m27 0h1m14 0h1m6 0h1m102 0h1m0 0h1m2 0h1m15 0h1m11 0h1m2 0h1m17 0h1m6 0h1m70 0h1m2 0h1m169 0h1m13 0h1m15 0h1m0 0h1m8 0h1m29 0h1m38 0h1m32 0h1m51 0h1m23 0h1m7 0h1m4 0h1m7 0h1m-1162 1h1m2 0h1m10 0h1m4 0h1m9 0h1m14 0h1m4 0h1m7 0h1m2 0h1m3 0h1m12 0h1m11 0h1m20 0h1m18 0h1m16 0h1m8 0h1m2 0h1m25 0h1m23 0h1m8 0h1m14 0h1m0 0h1m2 0h1m7 0h1m8 0h1m38 0h1m6 0h1m6 0h1m5 0h1m2 0h1m16 0h1m3 0h1m9 0h1m0 0h1m1 0h1m4 0h1m1 0h1m0 0h1m7 0h1m12 0h1m0 0h1m9 0h1m5 0h1m14 0h1m8 0h1m12 0h1m5 0h1m3 0h1m32 0h1m41 0h1m15 0h1m12 0h1m16 0h1m21 0h1m11 0h1m10 0h1m3 0h1m10 0h1m16 0h1m19 0h1m46 0h1m1 0h1m12 0h1m3 0h1m78 0h1m29 0h1m94 0h1m25 0h1m27 0h1m13 0h1m31 0h1m34 0h1m48 0h1m13 0h1m12 0h1m0 0h1m-1146 1h1m2 0h1m25 0h1m7 0h1m0 0h1m4 0h1m24 0h1m0 0h1m6 0h1m14 0h1m6 0h1m10 0h1m66 0h1m12 0h1m4 0h1m4 0h1m19 0h1m3 0h1m2 0h1m7 0h1m20 0h1m5 0h1m13 0h1m2 0h1m6 0h1m22 0h1m3 0h1m1 0h1m1 0h1m20 0h1m6 0h1m3 0h1m1 0h1m2 0h1m2 0h1m2 0h1m0 0h1m20 0h1m9 0h1m34 0h1m1 0h1m8 0h1m43 0h1m4 0h1m10 0h1m6 0h1m44 0h1m16 0h1m16 0h1m3 0h1m8 0h1m49 0h1m28 0h1m0 0h1m19 0h1m22 0h1m16 0h1m10 0h1m23 0h1m16 0h1m17 0h1m5 0h1m0 0h1m2 0h1m57 0h1m58 0h1m4 0h1m4 0h1m17 0h1m31 0h1m6 0h1m9 0h1m15 0h1m2 0h1m25 0h1m17 0h1m69 0h1m16 0h1m-1164 1h1m32 0h1m3 0h1m1 0h1m1 0h1m0 0h1m1 0h1m6 0h1m5 0h1m2 0h1m10 0h1m2 0h1m7 0h1m8 0h1m1 0h1m14 0h1m21 0h1m11 0h1m1 0h1m24 0h1m4 0h1m1 0h1m0 0h1m11 0h1m1 0h1m5 0h1m14 0h1m8 0h1m0 0h1m9 0h1m9 0h1m13 0h1m10 0h1m11 0h1m1 0h1m2 0h1m16 0h1m1 0h1m0 0h1m3 0h1m4 0h1m6 0h1m2 0h1m7 0h1m20 0h1m4 0h1m0 0h1m10 0h1m16 0h1m7 0h1m5 0h1m2 0h1m15 0h1m1 0h1m8 0h1m19 0h1m0 0h1m12 0h1m31 0h1m47 0h1m12 0h1m40 0h1m6 0h1m35 0h1m32 0h1m30 0h1m37 0h1m13 0h1m1 0h1m23 0h1m40 0h1m10 0h1m2 0h1m8 0h1m18 0h1m8 0h1m37 0h1m13 0h1m7 0h1m53 0h1m52 0h1m10 0h1m11 0h1m70 0h1m31 0h1m4 0h1m-1179 1h1m56 0h1m6 0h1m0 0h1m2 0h1m2 0h1m5 0h1m12 0h1m6 0h1m20 0h1m7 0h1m7 0h1m2 0h1m17 0h1m2 0h1m3 0h1m6 0h1m5 0h1m0 0h1m0 0h1m13 0h1m39 0h1m6 0h1m3 0h1m29 0h1m0 0h1m24 0h1m18 0h1m0 0h1m28 0h1m4 0h1m42 0h1m0 0h1m2 0h1m2 0h1m2 0h1m6 0h1m36 0h1m41 0h1m5 0h1m19 0h1m16 0h1m9 0h1m9 0h1m20 0h1m70 0h1m3 0h1m24 0h1m4 0h1m6 0h1m8 0h1m9 0h1m0 0h1m0 0h1m25 0h1m7 0h1m2 0h1m23 0h1m16 0h1m54 0h1m13 0h1m19 0h1m4 0h1m68 0h1m35 0h1m77 0h1m67 0h1m14 0h1m6 0h1m12 0h1m-1179 1h1m20 0h1m0 0h1m6 0h1m25 0h1m9 0h1m9 0h1m12 0h1m1 0h1m0 0h1m3 0h1m10 0h1m2 0h1m0 0h1m1 0h1m0 0h1m1 0h1m25 0h1m13 0h1m11 0h1m9 0h1m0 0h1m14 0h1m2 0h1m3 0h1m2 0h1m14 0h1m22 0h1m5 0h1m1 0h1m1 0h1m4 0h1m1 0h1m1 0h1m6 0h1m0 0h1m1 0h1m7 0h1m0 0h1m1 0h1m11 0h1m4 0h1m7 0h1m5 0h1m7 0h1m0 0h1m34 0h1m2 0h1m7 0h1m2 0h1m0 0h1m23 0h1m0 0h1m29 0h1m11 0h1m21 0h1m17 0h1m51 0h1m11 0h1m76 0h1m16 0h1m8 0h1m5 0h1m4 0h1m16 0h1m16 0h1m19 0h1m14 0h1m52 0h1m8 0h1m12 0h1m19 0h1m74 0h1m22 0h1m3 0h1m13 0h1m25 0h1m8 0h1m14 0h1m45 0h1m6 0h1m30 0h1m53 0h1m-1121 1h1m38 0h1m8 0h1m12 0h1m3 0h1m11 0h1m11 0h1m6 0h1m0 0h1m2 0h1m1 0h1m2 0h1m17 0h1m6 0h1m29 0h1m1 0h1m3 0h1m7 0h1m0 0h1m14 0h1m0 0h1m1 0h1m3 0h1m0 0h1m4 0h1m1 0h1m5 0h1m6 0h1m4 0h1m2 0h1m7 0h1m3 0h1m5 0h1m0 0h1m0 0h1m4 0h1m2 0h1m6 0h1m13 0h1m14 0h1m14 0h1m1 0h1m0 0h1m7 0h1m8 0h1m7 0h1m27 0h1m33 0h1m7 0h1m5 0h1m23 0h1m12 0h1m3 0h1m0 0h1m16 0h1m0 0h1m2 0h1m74 0h1m2 0h1m5 0h1m70 0h1m15 0h1m52 0h1m26 0h1m18 0h1m1 0h1m55 0h1m12 0h1m32 0h1m3 0h1m78 0h1m28 0h1m9 0h1m26 0h1m8 0h1m32 0h1m20 0h1m21 0h1m1 0h1m2 0h1m32 0h1m1 0h1m31 0h1m26 0h1m-1170 1h1m18 0h1m22 0h1m17 0h1m2 0h1m6 0h1m6 0h1m12 0h1m5 0h1m6 0h1m37 0h1m7 0h1m2 0h1m6 0h1m2 0h1m12 0h1m2 0h1m4 0h1m9 0h1m10 0h1m9 0h1m2 0h1m8 0h1m6 0h1m5 0h1m0 0h1m0 0h1m18 0h1m1 0h1m7 0h1m7 0h1m0 0h1m11 0h1m1 0h1m3 0h1m13 0h1m1 0h1m3 0h1m2 0h1m3 0h1m22 0h1m2 0h1m8 0h1m4 0h1m8 0h1m4 0h1m23 0h1m1 0h1m3 0h1m1 0h1m12 0h1m7 0h1m10 0h1m1 0h1m26 0h1m39 0h1m4 0h1m79 0h1m43 0h1m3 0h1m12 0h1m1 0h1m0 0h1m9 0h1m2 0h1m29 0h1m3 0h1m65 0h1m2 0h1m34 0h1m41 0h1m73 0h1m33 0h1m2 0h1m8 0h1m1 0h1m5 0h1m52 0h1m2 0h1m12 0h1m19 0h1m4 0h1m32 0h1m31 0h1m0 0h1m-1121 1h1m13 0h1m6 0h1m5 0h1m6 0h1m1 0h1m3 0h1m5 0h1m5 0h1m4 0h1m23 0h1m14 0h1m6 0h1m9 0h1m4 0h1m46 0h1m0 0h1m10 0h1m5 0h1m20 0h1m3 0h1m2 0h1m0 0h1m1 0h1m6 0h1m1 0h1m2 0h1m1 0h1m32 0h1m15 0h1m6 0h1m1 0h1m15 0h1m1 0h1m0 0h1m3 0h1m2 0h1m11 0h1m17 0h1m6 0h1m25 0h1m11 0h1m14 0h1m23 0h1m14 0h1m12 0h1m9 0h1m15 0h1m26 0h1m63 0h1m64 0h1m48 0h1m7 0h1m34 0h1m96 0h1m7 0h1m30 0h1m20 0h1m46 0h1m71 0h1m58 0h1m43 0h1m19 0h1m25 0h1m-1162 1h1m33 0h1m1 0h1m4 0h1m7 0h1m12 0h1m9 0h1m31 0h1m40 0h1m1 0h1m0 0h1m8 0h1m8 0h1m1 0h1m0 0h1m6 0h1m8 0h1m0 0h1m1 0h1m3 0h1m22 0h1m0 0h1m11 0h1m9 0h1m23 0h1m6 0h1m0 0h1m11 0h1m0 0h1m6 0h1m1 0h1m3 0h1m25 0h1m9 0h1m13 0h1m9 0h1m12 0h1m1 0h1m3 0h1m8 0h1m3 0h1m1 0h1m7 0h1m19 0h1m17 0h1m33 0h1m1 0h1m53 0h1m3 0h1m2 0h1m24 0h1m48 0h1m93 0h1m34 0h1m5 0h1m1 0h1m0 0h1m10 0h1m1 0h1m33 0h1m5 0h1m24 0h1m30 0h1m15 0h1m57 0h1m2 0h1m25 0h1m5 0h1m33 0h1m60 0h1m16 0h1m35 0h1m4 0h1m4 0h1m-1147 1h1m11 0h1m8 0h1m29 0h1m6 0h1m0 0h1m0 0h1m5 0h1m8 0h1m3 0h1m3 0h1m0 0h1m1 0h1m12 0h1m9 0h1m15 0h1m3 0h1m7 0h1m0 0h1m13 0h1m0 0h1m0 0h1m12 0h1m5 0h1m1 0h1m0 0h1m3 0h1m0 0h1m1 0h1m1 0h1m4 0h1m4 0h1m1 0h1m2 0h1m4 0h1m2 0h1m0 0h1m8 0h1m24 0h1m9 0h1m22 0h1m5 0h1m1 0h1m12 0h1m2 0h1m1 0h1m17 0h1m29 0h1m1 0h1m0 0h1m9 0h1m1 0h1m2 0h1m6 0h1m5 0h1m33 0h1m4 0h1m3 0h1m0 0h1m2 0h1m0 0h1m28 0h1m4 0h1m1 0h1m8 0h1m1 0h1m27 0h1m11 0h1m13 0h1m11 0h1m7 0h1m24 0h1m70 0h1m9 0h1m9 0h1m18 0h1m14 0h1m3 0h1m17 0h1m66 0h1m144 0h1m18 0h1m13 0h1m2 0h1m9 0h1m3 0h1m56 0h1m8 0h1m3 0h1m6 0h1m26 0h1m97 0h1m-1138 1h1m10 0h1m2 0h1m0 0h1m8 0h1m14 0h1m0 0h1m1 0h1m5 0h1m1 0h1m0 0h1m7 0h1m4 0h1m27 0h1m24 0h1m2 0h1m4 0h1m3 0h1m9 0h1m0 0h1m4 0h1m0 0h1m6 0h1m7 0h1m46 0h1m10 0h1m3 0h1m7 0h1m2 0h1m16 0h1m11 0h1m8 0h1m7 0h1m13 0h1m4 0h1m13 0h1m0 0h1m20 0h1m20 0h1m19 0h1m9 0h1m17 0h1m13 0h1m4 0h1m15 0h1m10 0h1m12 0h1m8 0h1m3 0h1m2 0h1m17 0h1m17 0h1m2 0h1m42 0h1m12 0h1m50 0h1m23 0h1m1 0h1m19 0h1m6 0h1m0 0h1m5 0h1m61 0h1m46 0h1m0 0h1m15 0h1m31 0h1m61 0h1m18 0h1m6 0h1m28 0h1m128 0h1m29 0h1m10 0h1m-1145 1h1m14 0h1m0 0h1m1 0h1m8 0h1m0 0h1m6 0h1m6 0h1m3 0h1m10 0h1m11 0h1m5 0h1m0 0h1m2 0h1m2 0h1m2 0h1m27 0h1m0 0h1m0 0h1m0 0h1m3 0h1m6 0h1m9 0h1m5 0h1m3 0h1m16 0h1m4 0h1m1 0h1m2 0h1m1 0h1m28 0h1m10 0h1m10 0h1m10 0h1m14 0h1m2 0h1m7 0h1m3 0h1m2 0h1m7 0h1m20 0h1m37 0h1m5 0h1m13 0h1m22 0h1m3 0h1m2 0h1m10 0h1m8 0h1m0 0h1m4 0h1m24 0h1m0 0h1m5 0h1m6 0h1m11 0h1m13 0h1m23 0h1m12 0h1m1 0h1m7 0h1m12 0h1m9 0h1m28 0h1m5 0h1m6 0h1m27 0h1m19 0h1m64 0h1m32 0h1m0 0h1m5 0h1m44 0h1m99 0h1m32 0h1m16 0h1m0 0h1m117 0h1m11 0h1m8 0h1m-1114 1h1m11 0h1m2 0h1m14 0h1m9 0h1m14 0h1m5 0h1m30 0h1m2 0h1m1 0h1m1 0h1m21 0h1m13 0h1m21 0h1m4 0h1m3 0h1m7 0h1m13 0h1m26 0h1m24 0h1m14 0h1m10 0h1m0 0h1m7 0h1m5 0h1m4 0h1m1 0h1m5 0h1m1 0h1m6 0h1m0 0h1m1 0h1m9 0h1m1 0h1m4 0h1m1 0h1m0 0h1m1 0h1m0 0h1m63 0h1m17 0h1m0 0h1m0 0h1m0 0h1m2 0h1m8 0h1m0 0h1m3 0h1m2 0h1m9 0h1m20 0h1m4 0h1m5 0h1m4 0h1m2 0h1m2 0h1m0 0h1m6 0h1m25 0h1m1 0h1m9 0h1m14 0h1m16 0h1m13 0h1m21 0h1m30 0h1m34 0h1m18 0h1m26 0h1m57 0h1m60 0h1m34 0h1m10 0h1m21 0h1m1 0h1m22 0h1m25 0h1m3 0h1m42 0h1m4 0h1m11 0h1m20 0h1m5 0h1m20 0h1m58 0h1m10 0h1m10 0h1m28 0h1m11 0h1m-1189 1h1m0 0h1m9 0h1m4 0h1m24 0h1m3 0h1m8 0h1m4 0h1m7 0h1m7 0h1m15 0h1m13 0h1m20 0h1m43 0h1m2 0h1m14 0h1m5 0h1m2 0h1m1 0h1m0 0h1m0 0h1m0 0h1m2 0h1m0 0h1m30 0h1m23 0h1m8 0h1m0 0h1m19 0h1m5 0h1m6 0h1m0 0h1m20 0h1m0 0h1m3 0h1m7 0h1m6 0h1m0 0h1m5 0h1m1 0h1m4 0h1m58 0h1m5 0h1m12 0h1m8 0h1m2 0h1m2 0h1m5 0h1m9 0h1m4 0h1m1 0h1m2 0h1m46 0h1m17 0h1m9 0h1m4 0h1m21 0h1m13 0h1m5 0h1m9 0h1m3 0h1m22 0h1m12 0h1m33 0h1m7 0h1m2 0h1m30 0h1m4 0h1m143 0h1m15 0h1m36 0h1m72 0h1m8 0h1m60 0h1m15 0h1m12 0h1m0 0h1m18 0h1m30 0h1m33 0h1m-1157 1h1m21 0h1m8 0h1m0 0h1m10 0h1m5 0h1m0 0h1m7 0h1m0 0h1m11 0h1m0 0h1m4 0h1m1 0h1m2 0h1m14 0h1m8 0h1m48 0h1m0 0h1m0 0h1m7 0h1m0 0h1m1 0h1m0 0h1m6 0h1m3 0h1m0 0h1m3 0h1m0 0h1m22 0h1m0 0h1m4 0h1m2 0h1m16 0h1m16 0h1m3 0h1m1 0h1m6 0h1m0 0h1m0 0h1m0 0h1m10 0h1m7 0h1m2 0h1m3 0h1m1 0h1m4 0h1m11 0h1m10 0h1m4 0h1m0 0h1m2 0h1m0 0h1m3 0h1m11 0h1m16 0h1m0 0h1m23 0h1m2 0h1m1 0h1m36 0h1m14 0h1m16 0h1m8 0h1m26 0h1m0 0h1m10 0h1m5 0h1m27 0h1m24 0h1m3 0h1m26 0h1m2 0h1m25 0h1m16 0h1m2 0h1m43 0h1m34 0h1m6 0h1m51 0h1m79 0h1m10 0h1m22 0h1m5 0h1m8 0h1m6 0h1m1 0h1m0 0h1m65 0h1m9 0h1m37 0h1m1 0h1m6 0h1m9 0h1m2 0h1m25 0h1m14 0h1m12 0h1m-1096 1h1m8 0h1m1 0h1m18 0h1m4 0h1m3 0h1m3 0h1m14 0h1m5 0h1m9 0h1m23 0h1m4 0h1m8 0h1m4 0h1m13 0h1m0 0h1m8 0h1m6 0h1m1 0h1m0 0h1m5 0h1m17 0h1m6 0h1m31 0h1m12 0h1m12 0h1m3 0h1m18 0h1m2 0h1m1 0h1m1 0h1m0 0h1m8 0h1m2 0h1m11 0h1m2 0h1m9 0h1m8 0h1m29 0h1m20 0h1m2 0h1m18 0h1m1 0h1m1 0h1m0 0h1m3 0h1m10 0h1m0 0h1m64 0h1m9 0h1m6 0h1m17 0h1m9 0h1m6 0h1m20 0h1m54 0h1m26 0h1m18 0h1m29 0h1m45 0h1m20 0h1m1 0h1m46 0h1m15 0h1m10 0h1m17 0h1m4 0h1m2 0h1m9 0h1m40 0h1m18 0h1m52 0h1m35 0h1m0 0h1m90 0h1m0 0h1m-1128 1h1m22 0h1m10 0h1m9 0h1m38 0h1m16 0h1m2 0h1m49 0h1m8 0h1m2 0h1m2 0h1m2 0h1m3 0h1m4 0h1m15 0h1m3 0h1m19 0h1m13 0h1m0 0h1m28 0h1m1 0h1m2 0h1m11 0h1m0 0h1m7 0h1m13 0h1m16 0h1m5 0h1m1 0h1m9 0h1m35 0h1m12 0h1m0 0h1m8 0h1m2 0h1m2 0h1m4 0h1m9 0h1m3 0h1m8 0h1m12 0h1m8 0h1m0 0h1m8 0h1m9 0h1m0 0h1m6 0h1m1 0h1m3 0h1m2 0h1m0 0h1m14 0h1m17 0h1m3 0h1m30 0h1m18 0h1m15 0h1m4 0h1m4 0h1m20 0h1m20 0h1m25 0h1m6 0h1m47 0h1m40 0h1m11 0h1m35 0h1m1 0h1m54 0h1m3 0h1m2 0h1m0 0h1m10 0h1m9 0h1m30 0h1m0 0h1m4 0h1m26 0h1m41 0h1m69 0h1m20 0h1m29 0h1m-1142 1h1m8 0h1m22 0h1m9 0h1m9 0h1m1 0h1m3 0h1m5 0h1m6 0h1m5 0h1m2 0h1m1 0h1m6 0h1m16 0h1m13 0h1m8 0h1m11 0h1m24 0h1m1 0h1m5 0h1m2 0h1m2 0h1m0 0h1m0 0h1m12 0h1m4 0h1m15 0h1m32 0h1m9 0h1m2 0h1m17 0h1m8 0h1m2 0h1m3 0h1m4 0h1m3 0h1m9 0h1m1 0h1m1 0h1m1 0h1m5 0h1m4 0h1m1 0h1m0 0h1m29 0h1m27 0h1m1 0h1m24 0h1m6 0h1m20 0h1m0 0h1m1 0h1m6 0h1m7 0h1m0 0h1m1 0h1m25 0h1m13 0h1m9 0h1m1 0h1m44 0h1m0 0h1m3 0h1m37 0h1m24 0h1m22 0h1m23 0h1m10 0h1m48 0h1m135 0h1m22 0h1m16 0h1m3 0h1m38 0h1m9 0h1m38 0h1m12 0h1m30 0h1m9 0h1m8 0h1m44 0h1m15 0h1m35 0h1m-1165 1h1m25 0h1m9 0h1m1 0h1m3 0h1m7 0h1m6 0h1m0 0h1m12 0h1m13 0h1m2 0h1m3 0h1m5 0h1m9 0h1m0 0h1m31 0h1m19 0h1m4 0h1m10 0h1m0 0h1m5 0h1m3 0h1m29 0h1m7 0h1m13 0h1m1 0h1m0 0h1m7 0h1m21 0h1m6 0h1m1 0h1m2 0h1m15 0h1m2 0h1m5 0h1m7 0h1m11 0h1m1 0h1m11 0h1m30 0h1m39 0h1m3 0h1m9 0h1m24 0h1m19 0h1m12 0h1m10 0h1m13 0h1m7 0h1m14 0h1m13 0h1m37 0h1m19 0h1m12 0h1m5 0h1m39 0h1m13 0h1m14 0h1m5 0h1m1 0h1m7 0h1m19 0h1m10 0h1m1 0h1m9 0h1m18 0h1m13 0h1m7 0h1m18 0h1m83 0h1m20 0h1m29 0h1m22 0h1m25 0h1m7 0h1m10 0h1m3 0h1m39 0h1m19 0h1m9 0h1m42 0h1m-1158 1h1m3 0h1m59 0h1m1 0h1m3 0h1m9 0h1m5 0h1m0 0h1m3 0h1m4 0h1m7 0h1m5 0h1m22 0h1m4 0h1m13 0h1m1 0h1m0 0h1m4 0h1m28 0h1m4 0h1m3 0h1m0 0h1m1 0h1m4 0h1m3 0h1m0 0h1m18 0h1m12 0h1m16 0h1m1 0h1m12 0h1m9 0h1m0 0h1m13 0h1m0 0h1m1 0h1m0 0h1m2 0h1m16 0h1m3 0h1m2 0h1m7 0h1m3 0h1m1 0h1m6 0h1m1 0h1m33 0h1m5 0h1m3 0h1m14 0h1m28 0h1m9 0h1m15 0h1m1 0h1m31 0h1m3 0h1m13 0h1m11 0h1m19 0h1m25 0h1m75 0h1m4 0h1m19 0h1m30 0h1m26 0h1m10 0h1m73 0h1m20 0h1m15 0h1m91 0h1m3 0h1m18 0h1m106 0h1m49 0h1m45 0h1m3 0h1m-1141 1h1m1 0h1m19 0h1m15 0h1m15 0h1m1 0h1m7 0h1m1 0h1m2 0h1m5 0h1m13 0h1m4 0h1m9 0h1m1 0h1m3 0h1m4 0h1m1 0h1m5 0h1m3 0h1m5 0h1m11 0h1m6 0h1m0 0h1m4 0h1m13 0h1m4 0h1m52 0h1m17 0h1m4 0h1m4 0h1m10 0h1m12 0h1m3 0h1m3 0h1m2 0h1m8 0h1m4 0h1m2 0h1m17 0h1m8 0h1m33 0h1m9 0h1m16 0h1m2 0h1m29 0h1m25 0h1m2 0h1m5 0h1m36 0h1m18 0h1m87 0h1m120 0h1m3 0h1m1 0h1m57 0h1m13 0h1m35 0h1m36 0h1m3 0h1m0 0h1m7 0h1m25 0h1m5 0h1m9 0h1m7 0h1m0 0h1m23 0h1m32 0h1m66 0h1m6 0h1m5 0h1m28 0h1m1 0h1m-1109 1h1m3 0h1m0 0h1m5 0h1m12 0h1m3 0h1m0 0h1m27 0h1m0 0h1m5 0h1m27 0h1m1 0h1m5 0h1m10 0h1m24 0h1m6 0h1m2 0h1m4 0h1m4 0h1m1 0h1m2 0h1m5 0h1m31 0h1m3 0h1m13 0h1m1 0h1m10 0h1m7 0h1m17 0h1m5 0h1m0 0h1m14 0h1m3 0h1m2 0h1m2 0h1m0 0h1m1 0h1m3 0h1m2 0h1m0 0h1m0 0h1m5 0h1m5 0h1m12 0h1m8 0h1m24 0h1m1 0h1m15 0h1m1 0h1m12 0h1m7 0h1m6 0h1m2 0h1m7 0h1m1 0h1m0 0h1m0 0h1m7 0h1m6 0h1m16 0h1m0 0h1m32 0h1m12 0h1m2 0h1m7 0h1m15 0h1m23 0h1m37 0h1m8 0h1m7 0h1m21 0h1m53 0h1m47 0h1m69 0h1m0 0h1m59 0h1m29 0h1m7 0h1m96 0h1m8 0h1m10 0h1m12 0h1m19 0h1m18 0h1m33 0h1m29 0h1m-1128 1h1m3 0h1m2 0h1m9 0h1m5 0h1m3 0h1m19 0h1m3 0h1m4 0h1m4 0h1m20 0h1m6 0h1m7 0h1m1 0h1m1 0h1m0 0h1m22 0h1m10 0h1m0 0h1m1 0h1m1 0h1m2 0h1m16 0h1m21 0h1m5 0h1m33 0h1m2 0h1m4 0h1m10 0h1m6 0h1m4 0h1m9 0h1m9 0h1m15 0h1m2 0h1m5 0h1m7 0h1m8 0h1m20 0h1m30 0h1m43 0h1m2 0h1m12 0h1m3 0h1m7 0h1m9 0h1m12 0h1m7 0h1m11 0h1m1 0h1m22 0h1m9 0h1m120 0h1m14 0h1m1 0h1m1 0h1m23 0h1m9 0h1m8 0h1m17 0h1m21 0h1m8 0h1m45 0h1m18 0h1m31 0h1m21 0h1m82 0h1m23 0h1m11 0h1m3 0h1m52 0h1m18 0h1m9 0h1m11 0h1m6 0h1m7 0h1m-1139 1h1m1 0h1m44 0h1m1 0h1m8 0h1m0 0h1m0 0h1m0 0h1m1 0h1m9 0h1m8 0h1m5 0h1m5 0h1m8 0h1m21 0h1m11 0h1m0 0h1m3 0h1m27 0h1m11 0h1m3 0h1m4 0h1m8 0h1m50 0h1m9 0h1m3 0h1m0 0h1m2 0h1m5 0h1m8 0h1m0 0h1m4 0h1m3 0h1m3 0h1m0 0h1m10 0h1m8 0h1m12 0h1m13 0h1m8 0h1m24 0h1m2 0h1m11 0h1m14 0h1m2 0h1m16 0h1m4 0h1m9 0h1m14 0h1m6 0h1m22 0h1m2 0h1m11 0h1m10 0h1m2 0h1m10 0h1m2 0h1m2 0h1m4 0h1m6 0h1m21 0h1m5 0h1m1 0h1m11 0h1m13 0h1m22 0h1m66 0h1m25 0h1m74 0h1m20 0h1m0 0h1m31 0h1m20 0h1m1 0h1m10 0h1m2 0h1m14 0h1m12 0h1m17 0h1m0 0h1m46 0h1m12 0h1m5 0h1m9 0h1m22 0h1m38 0h1m1 0h1m9 0h1m5 0h1m5 0h1m6 0h1m15 0h1m14 0h1m24 0h1m2 0h1m9 0h1m-1157 1h1m18 0h1m18 0h1m0 0h1m1 0h1m1 0h1m7 0h1m5 0h1m2 0h1m10 0h1m2 0h1m1 0h1m3 0h1m1 0h1m31 0h1m31 0h1m31 0h1m6 0h1m8 0h1m2 0h1m8 0h1m13 0h1m0 0h1m17 0h1m2 0h1m1 0h1m3 0h1m1 0h1m11 0h1m0 0h1m0 0h1m17 0h1m6 0h1m0 0h1m4 0h1m2 0h1m3 0h1m14 0h1m1 0h1m34 0h1m33 0h1m5 0h1m5 0h1m7 0h1m9 0h1m48 0h1m10 0h1m7 0h1m39 0h1m19 0h1m11 0h1m65 0h1m3 0h1m72 0h1m10 0h1m33 0h1m7 0h1m29 0h1m13 0h1m24 0h1m10 0h1m0 0h1m43 0h1m6 0h1m7 0h1m51 0h1m48 0h1m99 0h1m29 0h1m-1154 1h1m0 0h1m4 0h1m8 0h1m18 0h1m1 0h1m10 0h1m3 0h1m5 0h1m1 0h1m1 0h1m12 0h1m5 0h1m4 0h1m6 0h1m11 0h1m7 0h1m1 0h1m0 0h1m11 0h1m17 0h1m5 0h1m2 0h1m27 0h1m8 0h1m1 0h1m0 0h1m0 0h1m0 0h1m9 0h1m2 0h1m2 0h1m4 0h1m3 0h1m0 0h1m33 0h1m10 0h1m6 0h1m7 0h1m8 0h1m0 0h1m14 0h1m1 0h1m0 0h1m1 0h1m11 0h1m5 0h1m5 0h1m8 0h1m23 0h1m5 0h1m36 0h1m20 0h1m12 0h1m1 0h1m2 0h1m7 0h1m3 0h1m0 0h1m1 0h1m2 0h1m0 0h1m6 0h1m10 0h1m3 0h1m24 0h1m7 0h1m38 0h1m17 0h1m35 0h1m9 0h1m15 0h1m10 0h1m34 0h1m0 0h1m6 0h1m31 0h1m61 0h1m29 0h1m15 0h1m11 0h1m9 0h1m11 0h1m35 0h1m30 0h1m15 0h1m41 0h1m23 0h1m11 0h1m7 0h1m6 0h1m30 0h1m39 0h1m11 0h1m2 0h1m4 0h1m0 0h1m22 0h1m-1167 1h1m10 0h1m23 0h1m25 0h1m3 0h1m7 0h1m1 0h1m4 0h1m6 0h1m2 0h1m13 0h1m1 0h1m1 0h1m14 0h1m2 0h1m4 0h1m11 0h1m1 0h1m5 0h1m41 0h1m5 0h1m2 0h1m2 0h1m18 0h1m39 0h1m24 0h1m1 0h1m5 0h1m1 0h1m4 0h1m0 0h1m11 0h1m14 0h1m3 0h1m1 0h1m0 0h1m0 0h1m6 0h1m7 0h1m26 0h1m30 0h1m8 0h1m52 0h1m3 0h1m44 0h1m0 0h1m20 0h1m16 0h1m3 0h1m0 0h1m22 0h1m50 0h1m44 0h1m29 0h1m16 0h1m122 0h1m6 0h1m20 0h1m11 0h1m42 0h1m26 0h1m97 0h1m12 0h1m28 0h1m17 0h1m5 0h1m8 0h1m2 0h1m1 0h1m1 0h1m25 0h1m-1130 1h1m0 0h1m6 0h1m0 0h1m11 0h1m10 0h1m10 0h1m3 0h1m7 0h1m3 0h1m10 0h1m11 0h1m2 0h1m5 0h1m1 0h1m8 0h1m6 0h1m0 0h1m37 0h1m1 0h1m1 0h1m5 0h1m1 0h1m1 0h1m0 0h1m1 0h1m7 0h1m42 0h1m2 0h1m3 0h1m7 0h1m7 0h1m1 0h1m1 0h1m0 0h1m11 0h1m4 0h1m2 0h1m2 0h1m1 0h1m14 0h1m4 0h1m4 0h1m0 0h1m5 0h1m0 0h1m6 0h1m21 0h1m25 0h1m27 0h1m5 0h1m1 0h1m18 0h1m9 0h1m8 0h1m11 0h1m0 0h1m11 0h1m0 0h1m3 0h1m26 0h1m29 0h1m6 0h1m21 0h1m8 0h1m15 0h1m1 0h1m1 0h1m40 0h1m13 0h1m10 0h1m67 0h1m15 0h1m35 0h1m20 0h1m5 0h1m38 0h1m27 0h1m30 0h1m1 0h1m4 0h1m7 0h1m0 0h1m24 0h1m1 0h1m13 0h1m11 0h1m27 0h1m7 0h1m2 0h1m49 0h1m4 0h1m46 0h1m8 0h1m-1138 1h1m59 0h1m4 0h1m4 0h1m3 0h1m5 0h1m4 0h1m3 0h1m8 0h1m0 0h1m0 0h1m10 0h1m3 0h1m7 0h1m9 0h1m1 0h1m6 0h1m0 0h1m10 0h1m16 0h1m6 0h1m20 0h1m20 0h1m7 0h1m7 0h1m32 0h1m7 0h1m3 0h1m3 0h1m6 0h1m0 0h1m0 0h1m4 0h1m3 0h1m15 0h1m6 0h1m9 0h1m18 0h1m60 0h1m11 0h1m6 0h1m16 0h1m8 0h1m32 0h1m9 0h1m10 0h1m10 0h1m11 0h1m19 0h1m80 0h1m8 0h1m40 0h1m22 0h1m18 0h1m0 0h1m4 0h1m2 0h1m111 0h1m19 0h1m34 0h1m35 0h1m24 0h1m5 0h1m15 0h1m19 0h1m3 0h1m74 0h1m47 0h1m4 0h1m8 0h1m-1131 1h1m1 0h1m15 0h1m9 0h1m4 0h1m2 0h1m10 0h1m7 0h1m2 0h1m4 0h1m0 0h1m3 0h1m4 0h1m8 0h1m14 0h1m3 0h1m10 0h1m8 0h1m4 0h1m29 0h1m5 0h1m6 0h1m3 0h1m2 0h1m67 0h1m6 0h1m11 0h1m2 0h1m2 0h1m0 0h1m29 0h1m28 0h1m77 0h1m9 0h1m1 0h1m18 0h1m1 0h1m31 0h1m15 0h1m1 0h1m0 0h1m22 0h1m1 0h1m7 0h1m3 0h1m27 0h1m9 0h1m1 0h1m49 0h1m6 0h1m28 0h1m2 0h1m16 0h1m48 0h1m18 0h1m50 0h1m37 0h1m0 0h1m5 0h1m54 0h1m19 0h1m3 0h1m4 0h1m3 0h1m12 0h1m50 0h1m27 0h1m0 0h1m8 0h1m10 0h1m60 0h1m3 0h1m-1119 1h1m0 0h1m17 0h1m7 0h1m13 0h1m7 0h1m9 0h1m12 0h1m5 0h1m0 0h1m7 0h1m0 0h1m5 0h1m25 0h1m11 0h1m6 0h1m2 0h1m28 0h1m4 0h1m17 0h1m31 0h1m18 0h1m16 0h1m4 0h1m8 0h1m2 0h1m0 0h1m0 0h1m8 0h1m2 0h1m0 0h1m6 0h1m16 0h1m15 0h1m28 0h1m22 0h1m16 0h1m58 0h1m0 0h1m3 0h1m3 0h1m7 0h1m28 0h1m1 0h1m1 0h1m11 0h1m7 0h1m19 0h1m36 0h1m25 0h1m11 0h1m4 0h1m6 0h1m0 0h1m38 0h1m1 0h1m77 0h1m22 0h1m3 0h1m7 0h1m22 0h1m34 0h1m5 0h1m9 0h1m10 0h1m14 0h1m2 0h1m7 0h1m2 0h1m12 0h1m10 0h1m11 0h1m2 0h1m14 0h1m31 0h1m4 0h1m28 0h1m20 0h1m17 0h1m10 0h1m91 0h1m-1171 1h1m11 0h1m3 0h1m18 0h1m5 0h1m10 0h1m3 0h1m3 0h1m7 0h1m6 0h1m1 0h1m24 0h1m6 0h1m3 0h1m5 0h1m3 0h1m1 0h1m2 0h1m24 0h1m12 0h1m11 0h1m60 0h1m20 0h1m6 0h1m9 0h1m1 0h1m6 0h1m7 0h1m4 0h1m10 0h1m6 0h1m6 0h1m47 0h1m67 0h1m2 0h1m11 0h1m7 0h1m3 0h1m9 0h1m14 0h1m8 0h1m20 0h1m22 0h1m5 0h1m28 0h1m12 0h1m21 0h1m15 0h1m72 0h1m24 0h1m8 0h1m5 0h1m35 0h1m26 0h1m0 0h1m30 0h1m2 0h1m51 0h1m30 0h1m8 0h1m3 0h1m21 0h1m4 0h1m32 0h1m15 0h1m16 0h1m15 0h1m1 0h1m17 0h1m42 0h1m37 0h1m0 0h1m19 0h1m-1164 1h1m0 0h1m18 0h1m8 0h1m14 0h1m13 0h1m1 0h1m5 0h1m0 0h1m0 0h1m0 0h1m4 0h1m3 0h1m14 0h1m10 0h1m1 0h1m14 0h1m10 0h1m8 0h1m0 0h1m30 0h1m4 0h1m30 0h1m14 0h1m19 0h1m9 0h1m3 0h1m1 0h1m2 0h1m5 0h1m2 0h1m1 0h1m4 0h1m8 0h1m7 0h1m1 0h1m0 0h1m3 0h1m0 0h1m1 0h1m10 0h1m6 0h1m16 0h1m2 0h1m7 0h1m5 0h1m1 0h1m7 0h1m15 0h1m7 0h1m59 0h1m7 0h1m4 0h1m0 0h1m6 0h1m1 0h1m4 0h1m2 0h1m9 0h1m10 0h1m12 0h1m20 0h1m6 0h1m6 0h1m4 0h1m3 0h1m24 0h1m13 0h1m16 0h1m33 0h1m60 0h1m17 0h1m17 0h1m4 0h1m13 0h1m11 0h1m3 0h1m14 0h1m21 0h1m6 0h1m1 0h1m13 0h1m47 0h1m37 0h1m4 0h1m13 0h1m0 0h1m21 0h1m21 0h1m18 0h1m4 0h1m32 0h1m19 0h1m19 0h1m12 0h1m15 0h1m-1126 1h1m20 0h1m4 0h1m2 0h1m1 0h1m1 0h1m14 0h1m6 0h1m7 0h1m1 0h1m0 0h1m1 0h1m19 0h1m0 0h1m5 0h1m12 0h1m1 0h1m15 0h1m59 0h1m47 0h1m35 0h1m1 0h1m7 0h1m0 0h1m1 0h1m0 0h1m0 0h1m2 0h1m4 0h1m5 0h1m26 0h1m1 0h1m60 0h1m13 0h1m11 0h1m8 0h1m30 0h1m4 0h1m8 0h1m33 0h1m8 0h1m2 0h1m4 0h1m0 0h1m39 0h1m12 0h1m3 0h1m91 0h1m3 0h1m56 0h1m57 0h1m93 0h1m70 0h1m3 0h1m12 0h1m55 0h1m4 0h1m23 0h1m57 0h1m16 0h1m14 0h1m9 0h1m-1172 1h1m7 0h1m23 0h1m24 0h1m15 0h1m1 0h1m3 0h1m1 0h1m7 0h1m3 0h1m3 0h1m2 0h1m2 0h1m1 0h1m8 0h1m11 0h1m6 0h1m7 0h1m44 0h1m5 0h1m4 0h1m82 0h1m4 0h1m4 0h1m2 0h1m0 0h1m1 0h1m0 0h1m0 0h1m0 0h1m0 0h1m0 0h1m1 0h1m5 0h1m8 0h1m0 0h1m9 0h1m0 0h1m0 0h1m14 0h1m4 0h1m18 0h1m101 0h1m7 0h1m9 0h1m7 0h1m4 0h1m10 0h1m16 0h1m0 0h1m14 0h1m50 0h1m53 0h1m0 0h1m68 0h1m53 0h1m7 0h1m26 0h1m9 0h1m46 0h1m5 0h1m6 0h1m29 0h1m4 0h1m4 0h1m5 0h1m8 0h1m35 0h1m19 0h1m25 0h1m26 0h1m35 0h1m12 0h1m2 0h1m51 0h1m22 0h1m0 0h1m-1175 1h1m14 0h1m30 0h1m4 0h1m2 0h1m11 0h1m1 0h1m1 0h1m0 0h1m0 0h1m2 0h1m6 0h1m11 0h1m3 0h1m1 0h1m7 0h1m9 0h1m22 0h1m24 0h1m18 0h1m17 0h1m54 0h1m16 0h1m13 0h1m9 0h1m1 0h1m1 0h1m4 0h1m0 0h1m1 0h1m5 0h1m3 0h1m0 0h1m0 0h1m2 0h1m1 0h1m2 0h1m0 0h1m5 0h1m2 0h1m25 0h1m2 0h1m6 0h1m19 0h1m2 0h1m55 0h1m13 0h1m54 0h1m7 0h1m11 0h1m13 0h1m6 0h1m10 0h1m13 0h1m1 0h1m17 0h1m15 0h1m72 0h1m4 0h1m81 0h1m5 0h1m7 0h1m1 0h1m80 0h1m10 0h1m25 0h1m21 0h1m5 0h1m4 0h1m44 0h1m11 0h1m26 0h1m12 0h1m12 0h1m19 0h1m26 0h1m1 0h1m54 0h1m-1137 1h1m17 0h1m33 0h1m3 0h1m14 0h1m14 0h1m10 0h1m9 0h1m1 0h1m33 0h1m38 0h1m20 0h1m17 0h1m25 0h1m13 0h1m1 0h1m9 0h1m0 0h1m0 0h1m9 0h1m0 0h1m5 0h1m1 0h1m8 0h1m72 0h1m37 0h1m30 0h1m36 0h1m10 0h1m15 0h1m3 0h1m9 0h1m5 0h1m0 0h1m26 0h1m0 0h1m22 0h1m0 0h1m2 0h1m22 0h1m2 0h1m9 0h1m13 0h1m80 0h1m19 0h1m31 0h1m1 0h1m41 0h1m9 0h1m5 0h1m13 0h1m11 0h1m6 0h1m0 0h1m42 0h1m5 0h1m27 0h1m10 0h1m0 0h1m22 0h1m4 0h1m21 0h1m16 0h1m0 0h1m13 0h1m34 0h1m29 0h1m5 0h1m1 0h1m29 0h1m-1165 1h1m43 0h1m4 0h1m2 0h1m6 0h1m2 0h1m0 0h1m1 0h1m0 0h1m0 0h1m4 0h1m9 0h1m14 0h1m3 0h1m15 0h1m3 0h1m0 0h1m2 0h1m0 0h1m2 0h1m1 0h1m16 0h1m11 0h1m21 0h1m3 0h1m28 0h1m23 0h1m15 0h1m34 0h1m0 0h1m3 0h1m2 0h1m3 0h1m1 0h1m0 0h1m1 0h1m4 0h1m3 0h1m10 0h1m8 0h1m59 0h1m34 0h1m8 0h1m0 0h1m18 0h1m6 0h1m3 0h1m10 0h1m3 0h1m3 0h1m4 0h1m0 0h1m7 0h1m12 0h1m1 0h1m7 0h1m6 0h1m11 0h1m30 0h1m0 0h1m17 0h1m5 0h1m16 0h1m5 0h1m5 0h1m16 0h1m0 0h1m66 0h1m33 0h1m8 0h1m9 0h1m13 0h1m31 0h1m6 0h1m0 0h1m27 0h1m7 0h1m15 0h1m5 0h1m32 0h1m1 0h1m4 0h1m3 0h1m2 0h1m12 0h1m9 0h1m2 0h1m3 0h1m26 0h1m7 0h1m7 0h1m2 0h1m20 0h1m19 0h1m36 0h1m29 0h1m-1114 1h1m9 0h1m9 0h1m22 0h1m13 0h1m1 0h1m6 0h1m2 0h1m3 0h1m17 0h1m2 0h1m2 0h1m3 0h1m1 0h1m10 0h1m9 0h1m8 0h1m2 0h1m2 0h1m0 0h1m14 0h1m22 0h1m2 0h1m23 0h1m17 0h1m1 0h1m2 0h1m5 0h1m1 0h1m53 0h1m4 0h1m4 0h1m0 0h1m7 0h1m2 0h1m7 0h1m7 0h1m42 0h1m39 0h1m4 0h1m15 0h1m19 0h1m19 0h1m59 0h1m9 0h1m1 0h1m9 0h1m4 0h1m9 0h1m20 0h1m0 0h1m13 0h1m2 0h1m0 0h1m5 0h1m22 0h1m7 0h1m34 0h1m20 0h1m34 0h1m19 0h1m8 0h1m1 0h1m6 0h1m19 0h1m17 0h1m3 0h1m0 0h1m20 0h1m7 0h1m0 0h1m34 0h1m11 0h1m3 0h1m42 0h1m23 0h1m2 0h1m9 0h1m30 0h1m0 0h1m22 0h1m26 0h1m39 0h1m13 0h1m27 0h1m6 0h1m4 0h1m-1149 1h1m3 0h1m4 0h1m19 0h1m0 0h1m5 0h1m14 0h1m4 0h1m1 0h1m0 0h1m10 0h1m14 0h1m0 0h1m1 0h1m6 0h1m3 0h1m2 0h1m6 0h1m0 0h1m3 0h1m3 0h1m3 0h1m12 0h1m4 0h1m22 0h1m17 0h1m13 0h1m13 0h1m58 0h1m7 0h1m2 0h1m7 0h1m8 0h1m3 0h1m2 0h1m16 0h1m0 0h1m6 0h1m13 0h1m4 0h1m76 0h1m31 0h1m0 0h1m6 0h1m3 0h1m1 0h1m0 0h1m11 0h1m1 0h1m10 0h1m0 0h1m15 0h1m1 0h1m15 0h1m2 0h1m2 0h1m0 0h1m3 0h1m6 0h1m23 0h1m35 0h1m31 0h1m1 0h1m25 0h1m26 0h1m17 0h1m3 0h1m47 0h1m7 0h1m8 0h1m7 0h1m28 0h1m4 0h1m50 0h1m1 0h1m18 0h1m11 0h1m14 0h1m13 0h1m23 0h1m32 0h1m24 0h1m11 0h1m1 0h1m26 0h1m3 0h1m2 0h1m44 0h1m31 0h1m-1118 1h1m24 0h1m0 0h1m2 0h1m4 0h1m4 0h1m1 0h1m2 0h1m0 0h1m10 0h1m3 0h1m7 0h1m4 0h1m13 0h1m2 0h1m6 0h1m12 0h1m16 0h1m15 0h1m13 0h1m5 0h1m0 0h1m0 0h1m1 0h1m86 0h1m25 0h1m1 0h1m6 0h1m8 0h1m2 0h1m11 0h1m14 0h1m12 0h1m10 0h1m3 0h1m84 0h1m22 0h1m5 0h1m2 0h1m7 0h1m9 0h1m8 0h1m9 0h1m1 0h1m9 0h1m0 0h1m17 0h1m20 0h1m0 0h1m1 0h1m6 0h1m6 0h1m30 0h1m96 0h1m31 0h1m39 0h1m3 0h1m16 0h1m19 0h1m4 0h1m0 0h1m17 0h1m28 0h1m13 0h1m11 0h1m1 0h1m50 0h1m43 0h1m29 0h1m16 0h1m19 0h1m16 0h1m4 0h1m9 0h1m3 0h1m42 0h1m1 0h1m-1182 1h1m13 0h1m14 0h1m12 0h1m0 0h1m1 0h1m5 0h1m1 0h1m20 0h1m6 0h1m4 0h1m6 0h1m8 0h1m0 0h1m1 0h1m3 0h1m8 0h1m6 0h1m0 0h1m49 0h1m9 0h1m1 0h1m7 0h1m0 0h1m26 0h1m4 0h1m14 0h1m27 0h1m0 0h1m12 0h1m0 0h1m1 0h1m6 0h1m6 0h1m4 0h1m2 0h1m6 0h1m0 0h1m6 0h1m7 0h1m103 0h1m13 0h1m18 0h1m0 0h1m2 0h1m0 0h1m2 0h1m10 0h1m9 0h1m1 0h1m0 0h1m9 0h1m0 0h1m7 0h1m0 0h1m3 0h1m9 0h1m2 0h1m24 0h1m4 0h1m11 0h1m5 0h1m9 0h1m1 0h1m11 0h1m28 0h1m14 0h1m23 0h1m20 0h1m1 0h1m27 0h1m13 0h1m11 0h1m10 0h1m1 0h1m1 0h1m12 0h1m1 0h1m1 0h1m4 0h1m2 0h1m16 0h1m69 0h1m6 0h1m15 0h1m23 0h1m21 0h1m0 0h1m4 0h1m0 0h1m4 0h1m5 0h1m12 0h1m25 0h1m31 0h1m13 0h1m0 0h1m39 0h1m8 0h1m27 0h1m11 0h1m-1127 1h1m21 0h1m6 0h1m12 0h1m10 0h1m11 0h1m6 0h1m8 0h1m0 0h1m4 0h1m2 0h1m2 0h1m1 0h1m7 0h1m32 0h1m29 0h1m20 0h1m0 0h1m30 0h1m26 0h1m21 0h1m5 0h1m7 0h1m0 0h1m4 0h1m10 0h1m8 0h1m11 0h1m8 0h1m114 0h1m12 0h1m14 0h1m0 0h1m10 0h1m1 0h1m3 0h1m5 0h1m10 0h1m2 0h1m1 0h1m0 0h1m1 0h1m0 0h1m0 0h1m31 0h1m8 0h1m2 0h1m22 0h1m2 0h1m0 0h1m20 0h1m59 0h1m1 0h1m22 0h1m24 0h1m46 0h1m23 0h1m0 0h1m2 0h1m1 0h1m36 0h1m87 0h1m3 0h1m5 0h1m19 0h1m3 0h1m14 0h1m2 0h1m6 0h1m6 0h1m3 0h1m9 0h1m4 0h1m10 0h1m45 0h1m36 0h1m11 0h1m8 0h1m-1140 1h1m29 0h1m5 0h1m4 0h1m20 0h1m1 0h1m4 0h1m1 0h1m9 0h1m6 0h1m7 0h1m0 0h1m0 0h1m3 0h1m2 0h1m3 0h1m10 0h1m6 0h1m0 0h1m14 0h1m18 0h1m28 0h1m13 0h1m52 0h1m25 0h1m6 0h1m7 0h1m6 0h1m0 0h1m13 0h1m0 0h1m4 0h1m35 0h1m4 0h1m55 0h1m14 0h1m17 0h1m4 0h1m40 0h1m17 0h1m2 0h1m7 0h1m2 0h1m2 0h1m1 0h1m0 0h1m7 0h1m1 0h1m7 0h1m0 0h1m22 0h1m27 0h1m10 0h1m14 0h1m29 0h1m6 0h1m9 0h1m17 0h1m3 0h1m13 0h1m54 0h1m41 0h1m9 0h1m27 0h1m6 0h1m19 0h1m6 0h1m15 0h1m8 0h1m7 0h1m3 0h1m10 0h1m0 0h1m3 0h1m17 0h1m17 0h1m6 0h1m6 0h1m4 0h1m0 0h1m6 0h1m17 0h1m3 0h1m5 0h1m9 0h1m7 0h1m46 0h1m1 0h1m16 0h1m0 0h1m0 0h1m37 0h1m-1143 1h1m13 0h1m2 0h1m7 0h1m3 0h1m2 0h1m2 0h1m0 0h1m1 0h1m8 0h1m0 0h1m4 0h1m0 0h1m9 0h1m2 0h1m1 0h1m14 0h1m1 0h1m11 0h1m2 0h1m3 0h1m0 0h1m0 0h1m54 0h1m71 0h1m3 0h1m5 0h1m7 0h1m9 0h1m5 0h1m1 0h1m1 0h1m1 0h1m2 0h1m2 0h1m6 0h1m0 0h1m5 0h1m1 0h1m8 0h1m6 0h1m0 0h1m69 0h1m14 0h1m9 0h1m0 0h1m36 0h1m5 0h1m7 0h1m11 0h1m0 0h1m2 0h1m15 0h1m6 0h1m3 0h1m5 0h1m1 0h1m5 0h1m3 0h1m2 0h1m4 0h1m7 0h1m0 0h1m1 0h1m0 0h1m0 0h1m9 0h1m16 0h1m8 0h1m21 0h1m28 0h1m57 0h1m27 0h1m45 0h1m25 0h1m3 0h1m16 0h1m21 0h1m2 0h1m6 0h1m3 0h1m50 0h1m10 0h1m31 0h1m0 0h1m79 0h1m14 0h1m19 0h1m25 0h1m16 0h1m8 0h1m26 0h1m6 0h1m6 0h1m-1169 1h1m52 0h1m3 0h1m3 0h1m5 0h1m13 0h1m0 0h1m9 0h1m7 0h1m4 0h1m1 0h1m2 0h1m2 0h1m3 0h1m1 0h1m18 0h1m44 0h1m9 0h1m31 0h1m25 0h1m42 0h1m25 0h1m1 0h1m13 0h1m14 0h1m2 0h1m16 0h1m41 0h1m3 0h1m31 0h1m18 0h1m14 0h1m0 0h1m47 0h1m0 0h1m1 0h1m0 0h1m3 0h1m6 0h1m3 0h1m1 0h1m4 0h1m3 0h1m13 0h1m4 0h1m34 0h1m8 0h1m13 0h1m3 0h1m27 0h1m2 0h1m116 0h1m7 0h1m20 0h1m6 0h1m1 0h1m10 0h1m9 0h1m39 0h1m18 0h1m42 0h1m4 0h1m1 0h1m1 0h1m12 0h1m4 0h1m8 0h1m2 0h1m0 0h1m16 0h1m24 0h1m48 0h1m21 0h1m0 0h1m14 0h1m14 0h1m3 0h1m11 0h1m12 0h1m9 0h1m5 0h1m-1163 1h1m4 0h1m4 0h1m16 0h1m4 0h1m1 0h1m1 0h1m7 0h1m0 0h1m0 0h1m3 0h1m19 0h1m7 0h1m3 0h1m1 0h1m0 0h1m1 0h1m3 0h1m0 0h1m0 0h1m0 0h1m12 0h1m0 0h1m59 0h1m14 0h1m11 0h1m4 0h1m21 0h1m61 0h1m8 0h1m4 0h1m4 0h1m5 0h1m42 0h1m21 0h1m16 0h1m19 0h1m41 0h1m0 0h1m17 0h1m0 0h1m1 0h1m3 0h1m2 0h1m16 0h1m13 0h1m6 0h1m20 0h1m13 0h1m4 0h1m8 0h1m8 0h1m6 0h1m1 0h1m9 0h1m38 0h1m1 0h1m2 0h1m3 0h1m15 0h1m0 0h1m47 0h1m35 0h1m15 0h1m34 0h1m7 0h1m7 0h1m15 0h1m5 0h1m25 0h1m1 0h1m19 0h1m2 0h1m15 0h1m18 0h1m5 0h1m14 0h1m1 0h1m0 0h1m13 0h1m9 0h1m5 0h1m40 0h1m16 0h1m6 0h1m29 0h1m1 0h1m10 0h1m15 0h1m30 0h1m-1150 1h1m17 0h1m0 0h1m1 0h1m0 0h1m2 0h1m10 0h1m6 0h1m4 0h1m10 0h1m12 0h1m5 0h1m21 0h1m1 0h1m5 0h1m0 0h1m1 0h1m1 0h1m6 0h1m2 0h1m3 0h1m9 0h1m38 0h1m7 0h1m13 0h1m7 0h1m16 0h1m43 0h1m3 0h1m4 0h1m22 0h1m6 0h1m1 0h1m14 0h1m6 0h1m107 0h1m46 0h1m1 0h1m2 0h1m6 0h1m7 0h1m4 0h1m3 0h1m1 0h1m1 0h1m0 0h1m2 0h1m9 0h1m28 0h1m26 0h1m6 0h1m3 0h1m11 0h1m55 0h1m0 0h1m19 0h1m14 0h1m11 0h1m5 0h1m28 0h1m27 0h1m7 0h1m2 0h1m1 0h1m42 0h1m25 0h1m0 0h1m3 0h1m17 0h1m22 0h1m26 0h1m3 0h1m19 0h1m0 0h1m22 0h1m17 0h1m0 0h1m41 0h1m18 0h1m29 0h1m-1093 1h1m9 0h1m21 0h1m12 0h1m7 0h1m15 0h1m1 0h1m4 0h1m0 0h1m14 0h1m13 0h1m19 0h1m5 0h1m17 0h1m17 0h1m27 0h1m1 0h1m4 0h1m0 0h1m33 0h1m50 0h1m2 0h1m18 0h1m7 0h1m1 0h1m3 0h1m3 0h1m0 0h1m6 0h1m2 0h1m82 0h1m21 0h1m29 0h1m8 0h1m6 0h1m3 0h1m5 0h1m4 0h1m4 0h1m3 0h1m16 0h1m11 0h1m19 0h1m3 0h1m1 0h1m43 0h1m13 0h1m17 0h1m38 0h1m29 0h1m29 0h1m6 0h1m9 0h1m0 0h1m44 0h1m6 0h1m0 0h1m50 0h1m1 0h1m53 0h1m10 0h1m1 0h1m1 0h1m5 0h1m2 0h1m12 0h1m13 0h1m7 0h1m7 0h1m11 0h1m11 0h1m3 0h1m16 0h1m7 0h1m17 0h1m12 0h1m8 0h1m21 0h1m4 0h1m28 0h1m21 0h1m-1108 1h1m12 0h1m6 0h1m2 0h1m0 0h1m9 0h1m0 0h1m0 0h1m7 0h1m1 0h1m0 0h1m3 0h1m0 0h1m2 0h1m0 0h1m27 0h1m55 0h1m7 0h1m19 0h1m30 0h1m23 0h1m13 0h1m15 0h1m10 0h1m0 0h1m10 0h1m2 0h1m2 0h1m26 0h1m9 0h1m2 0h1m21 0h1m4 0h1m18 0h1m36 0h1m21 0h1m3 0h1m4 0h1m2 0h1m2 0h1m3 0h1m0 0h1m10 0h1m5 0h1m7 0h1m2 0h1m5 0h1m23 0h1m2 0h1m4 0h1m2 0h1m5 0h1m3 0h1m10 0h1m24 0h1m1 0h1m16 0h1m6 0h1m5 0h1m0 0h1m8 0h1m74 0h1m0 0h1m13 0h1m74 0h1m7 0h1m48 0h1m4 0h1m19 0h1m0 0h1m6 0h1m13 0h1m11 0h1m9 0h1m1 0h1m11 0h1m19 0h1m10 0h1m65 0h1m38 0h1m14 0h1m10 0h1m7 0h1m37 0h1m2 0h1m8 0h1m6 0h1m-1190 1h1m0 0h1m4 0h1m32 0h1m12 0h1m0 0h1m8 0h1m0 0h1m1 0h1m0 0h1m6 0h1m0 0h1m0 0h1m1 0h1m0 0h1m4 0h1m3 0h1m2 0h1m1 0h1m2 0h1m7 0h1m2 0h1m2 0h1m5 0h1m2 0h1m13 0h1m35 0h1m18 0h1m6 0h1m11 0h1m1 0h1m4 0h1m10 0h1m2 0h1m24 0h1m3 0h1m41 0h1m1 0h1m4 0h1m0 0h1m1 0h1m7 0h1m13 0h1m96 0h1m4 0h1m13 0h1m40 0h1m5 0h1m5 0h1m10 0h1m0 0h1m3 0h1m0 0h1m14 0h1m14 0h1m19 0h1m1 0h1m3 0h1m2 0h1m0 0h1m1 0h1m5 0h1m1 0h1m4 0h1m9 0h1m4 0h1m4 0h1m28 0h1m15 0h1m17 0h1m0 0h1m12 0h1m8 0h1m2 0h1m38 0h1m4 0h1m68 0h1m3 0h1m1 0h1m47 0h1m21 0h1m39 0h1m19 0h1m8 0h1m15 0h1m5 0h1m2 0h1m5 0h1m7 0h1m0 0h1m33 0h1m4 0h1m5 0h1m6 0h1m6 0h1m2 0h1m7 0h1m0 0h1m20 0h1m10 0h1m9 0h1m14 0h1m20 0h1m10 0h1m-1150 1h1m4 0h1m25 0h1m3 0h1m18 0h1m9 0h1m0 0h1m3 0h1m3 0h1m17 0h1m1 0h1m7 0h1m7 0h1m0 0h1m34 0h1m25 0h1m13 0h1m9 0h1m47 0h1m35 0h1m2 0h1m4 0h1m10 0h1m6 0h1m9 0h1m9 0h1m6 0h1m19 0h1m18 0h1m6 0h1m5 0h1m19 0h1m4 0h1m32 0h1m15 0h1m1 0h1m25 0h1m6 0h1m6 0h1m9 0h1m9 0h1m1 0h1m20 0h1m5 0h1m18 0h1m3 0h1m5 0h1m6 0h1m1 0h1m6 0h1m8 0h1m2 0h1m2 0h1m1 0h1m10 0h1m5 0h1m25 0h1m0 0h1m4 0h1m0 0h1m4 0h1m10 0h1m18 0h1m40 0h1m0 0h1m29 0h1m14 0h1m1 0h1m26 0h1m16 0h1m40 0h1m16 0h1m2 0h1m12 0h1m3 0h1m9 0h1m10 0h1m15 0h1m1 0h1m3 0h1m7 0h1m6 0h1m4 0h1m26 0h1m29 0h1m29 0h1m19 0h1m13 0h1m1 0h1m16 0h1m-1099 1h1m4 0h1m6 0h1m14 0h1m1 0h1m10 0h1m19 0h1m0 0h1m3 0h1m2 0h1m2 0h1m7 0h1m4 0h1m2 0h1m2 0h1m20 0h1m25 0h1m0 0h1m1 0h1m100 0h1m13 0h1m1 0h1m17 0h1m17 0h1m1 0h1m12 0h1m6 0h1m0 0h1m19 0h1m3 0h1m0 0h1m6 0h1m32 0h1m54 0h1m17 0h1m5 0h1m2 0h1m7 0h1m9 0h1m2 0h1m5 0h1m10 0h1m9 0h1m5 0h1m30 0h1m12 0h1m19 0h1m0 0h1m7 0h1m0 0h1m13 0h1m31 0h1m30 0h1m11 0h1m44 0h1m24 0h1m16 0h1m10 0h1m22 0h1m6 0h1m15 0h1m2 0h1m13 0h1m46 0h1m24 0h1m10 0h1m3 0h1m0 0h1m0 0h1m2 0h1m1 0h1m17 0h1m1 0h1m19 0h1m2 0h1m35 0h1m11 0h1m7 0h1m9 0h1m4 0h1m9 0h1m3 0h1m11 0h1m4 0h1m4 0h1m4 0h1m8 0h1m28 0h1m4 0h1m0 0h1m14 0h1m14 0h1m-1175 1h1m1 0h1m1 0h1m19 0h1m5 0h1m8 0h1m5 0h1m6 0h1m4 0h1m10 0h1m1 0h1m1 0h1m0 0h1m8 0h1m9 0h1m1 0h1m6 0h1m0 0h1m9 0h1m45 0h1m16 0h1m10 0h1m1 0h1m0 0h1m2 0h1m51 0h1m11 0h1m3 0h1m23 0h1m3 0h1m7 0h1m3 0h1m7 0h1m2 0h1m7 0h1m33 0h1m35 0h1m19 0h1m14 0h1m36 0h1m10 0h1m12 0h1m4 0h1m2 0h1m2 0h1m5 0h1m0 0h1m4 0h1m18 0h1m32 0h1m15 0h1m2 0h1m17 0h1m1 0h1m19 0h1m3 0h1m29 0h1m75 0h1m33 0h1m95 0h1m8 0h1m0 0h1m1 0h1m2 0h1m12 0h1m18 0h1m11 0h1m1 0h1m9 0h1m5 0h1m0 0h1m2 0h1m11 0h1m30 0h1m17 0h1m18 0h1m35 0h1m30 0h1m5 0h1m24 0h1m21 0h1m10 0h1m12 0h1m-1163 1h1m8 0h1m15 0h1m8 0h1m2 0h1m14 0h1m11 0h1m2 0h1m1 0h1m6 0h1m0 0h1m3 0h1m0 0h1m5 0h1m5 0h1m3 0h1m61 0h1m11 0h1m2 0h1m22 0h1m6 0h1m3 0h1m13 0h1m81 0h1m5 0h1m2 0h1m0 0h1m9 0h1m87 0h1m14 0h1m42 0h1m12 0h1m9 0h1m1 0h1m3 0h1m9 0h1m8 0h1m6 0h1m18 0h1m19 0h1m2 0h1m0 0h1m3 0h1m3 0h1m14 0h1m26 0h1m18 0h1m11 0h1m7 0h1m1 0h1m4 0h1m7 0h1m30 0h1m1 0h1m43 0h1m69 0h1m5 0h1m19 0h1m4 0h1m1 0h1m20 0h1m3 0h1m17 0h1m34 0h1m8 0h1m2 0h1m1 0h1m2 0h1m6 0h1m0 0h1m4 0h1m4 0h1m1 0h1m17 0h1m7 0h1m8 0h1m6 0h1m31 0h1m3 0h1m39 0h1m6 0h1m25 0h1m15 0h1m-1118 1h1m16 0h1m1 0h1m11 0h1m3 0h1m8 0h1m11 0h1m15 0h1m1 0h1m2 0h1m81 0h1m4 0h1m9 0h1m2 0h1m4 0h1m11 0h1m14 0h1m51 0h1m0 0h1m8 0h1m0 0h1m5 0h1m20 0h1m61 0h1m3 0h1m69 0h1m6 0h1m2 0h1m51 0h1m47 0h1m26 0h1m12 0h1m14 0h1m5 0h1m4 0h1m21 0h1m8 0h1m25 0h1m18 0h1m21 0h1m60 0h1m19 0h1m34 0h1m13 0h1m16 0h1m1 0h1m2 0h1m10 0h1m11 0h1m2 0h1m10 0h1m11 0h1m12 0h1m0 0h1m9 0h1m9 0h1m15 0h1m5 0h1m21 0h1m17 0h1m70 0h1m12 0h1m38 0h1m13 0h1m4 0h1m0 0h1m6 0h1m-1187 1h1m1 0h1m8 0h1m0 0h1m7 0h1m0 0h1m4 0h1m5 0h1m2 0h1m3 0h1m0 0h1m14 0h1m6 0h1m0 0h1m10 0h1m6 0h1m3 0h1m7 0h1m1 0h1m0 0h1m8 0h1m1 0h1m3 0h1m45 0h1m25 0h1m10 0h1m18 0h1m9 0h1m42 0h1m21 0h1m26 0h1m2 0h1m3 0h1m5 0h1m0 0h1m13 0h1m31 0h1m38 0h1m39 0h1m6 0h1m3 0h1m9 0h1m5 0h1m8 0h1m8 0h1m21 0h1m5 0h1m21 0h1m23 0h1m7 0h1m2 0h1m1 0h1m18 0h1m3 0h1m0 0h1m3 0h1m20 0h1m37 0h1m25 0h1m45 0h1m0 0h1m46 0h1m20 0h1m2 0h1m12 0h1m30 0h1m25 0h1m1 0h1m31 0h1m0 0h1m5 0h1m4 0h1m17 0h1m6 0h1m7 0h1m5 0h1m28 0h1m3 0h1m0 0h1m16 0h1m11 0h1m23 0h1m12 0h1m2 0h1m1 0h1m0 0h1m48 0h1m42 0h1m-1168 1h1m11 0h1m1 0h1m6 0h1m23 0h1m3 0h1m7 0h1m7 0h1m15 0h1m0 0h1m3 0h1m5 0h1m1 0h1m0 0h1m13 0h1m9 0h1m75 0h1m19 0h1m70 0h1m5 0h1m4 0h1m7 0h1m17 0h1m6 0h1m2 0h1m37 0h1m49 0h1m4 0h1m3 0h1m24 0h1m50 0h1m17 0h1m0 0h1m2 0h1m22 0h1m22 0h1m1 0h1m2 0h1m7 0h1m11 0h1m0 0h1m3 0h1m15 0h1m0 0h1m15 0h1m5 0h1m13 0h1m10 0h1m10 0h1m6 0h1m4 0h1m5 0h1m0 0h1m59 0h1m18 0h1m11 0h1m27 0h1m0 0h1m1 0h1m0 0h1m4 0h1m3 0h1m1 0h1m7 0h1m19 0h1m4 0h1m1 0h1m53 0h1m6 0h1m10 0h1m6 0h1m6 0h1m2 0h1m3 0h1m23 0h1m17 0h1m17 0h1m9 0h1m0 0h1m22 0h1m15 0h1m14 0h1m9 0h1m-1076 1h1m11 0h1m11 0h1m3 0h1m5 0h1m0 0h1m11 0h1m1 0h1m1 0h1m0 0h1m10 0h1m0 0h1m3 0h1m1 0h1m6 0h1m13 0h1m0 0h1m81 0h1m1 0h1m9 0h1m5 0h1m31 0h1m45 0h1m9 0h1m0 0h1m3 0h1m1 0h1m5 0h1m1 0h1m0 0h1m2 0h1m13 0h1m19 0h1m3 0h1m25 0h1m5 0h1m40 0h1m20 0h1m45 0h1m29 0h1m0 0h1m9 0h1m49 0h1m5 0h1m9 0h1m14 0h1m4 0h1m9 0h1m7 0h1m2 0h1m53 0h1m16 0h1m38 0h1m50 0h1m18 0h1m8 0h1m17 0h1m9 0h1m13 0h1m2 0h1m0 0h1m5 0h1m4 0h1m14 0h1m2 0h1m4 0h1m0 0h1m2 0h1m1 0h1m2 0h1m0 0h1m2 0h1m2 0h1m2 0h1m0 0h1m8 0h1m26 0h1m61 0h1m12 0h1m4 0h1m2 0h1m3 0h1m34 0h1m4 0h1m7 0h1m46 0h1m12 0h1m-1165 1h1m14 0h1m18 0h1m22 0h1m6 0h1m1 0h1m0 0h1m4 0h1m0 0h1m10 0h1m2 0h1m24 0h1m14 0h1m57 0h1m4 0h1m0 0h1m1 0h1m13 0h1m10 0h1m32 0h1m3 0h1m0 0h1m30 0h1m38 0h1m5 0h1m44 0h1m8 0h1m41 0h1m2 0h1m5 0h1m7 0h1m16 0h1m27 0h1m7 0h1m30 0h1m21 0h1m3 0h1m26 0h1m12 0h1m15 0h1m0 0h1m16 0h1m2 0h1m3 0h1m4 0h1m4 0h1m13 0h1m15 0h1m9 0h1m22 0h1m2 0h1m9 0h1m35 0h1m4 0h1m41 0h1m6 0h1m26 0h1m22 0h1m8 0h1m0 0h1m0 0h1m2 0h1m7 0h1m14 0h1m0 0h1m15 0h1m16 0h1m1 0h1m6 0h1m14 0h1m15 0h1m23 0h1m43 0h1m5 0h1m2 0h1m52 0h1m51 0h1m3 0h1m7 0h1m-1170 1h1m1 0h1m13 0h1m0 0h1m11 0h1m6 0h1m11 0h1m16 0h1m5 0h1m1 0h1m5 0h1m3 0h1m4 0h1m0 0h1m1 0h1m6 0h1m0 0h1m7 0h1m0 0h1m5 0h1m7 0h1m25 0h1m5 0h1m8 0h1m7 0h1m21 0h1m8 0h1m5 0h1m90 0h1m2 0h1m10 0h1m0 0h1m6 0h1m13 0h1m8 0h1m3 0h1m24 0h1m2 0h1m3 0h1m7 0h1m45 0h1m19 0h1m0 0h1m0 0h1m1 0h1m57 0h1m11 0h1m1 0h1m6 0h1m26 0h1m4 0h1m6 0h1m2 0h1m2 0h1m18 0h1m144 0h1m12 0h1m77 0h1m4 0h1m3 0h1m3 0h1m1 0h1m3 0h1m0 0h1m10 0h1m1 0h1m0 0h1m1 0h1m2 0h1m8 0h1m2 0h1m5 0h1m11 0h1m4 0h1m17 0h1m28 0h1m4 0h1m18 0h1m3 0h1m24 0h1m2 0h1m17 0h1m1 0h1m0 0h1m13 0h1m14 0h1m16 0h1m22 0h1m9 0h1m0 0h1m18 0h1m9 0h1m8 0h1m7 0h1m3 0h1m4 0h1m-1172 1h1m16 0h1m5 0h1m19 0h1m0 0h1m0 0h1m0 0h1m0 0h1m7 0h1m8 0h1m11 0h1m1 0h1m2 0h1m7 0h1m0 0h1m8 0h1m6 0h1m1 0h1m98 0h1m0 0h1m78 0h1m17 0h1m4 0h1m3 0h1m0 0h1m3 0h1m14 0h1m5 0h1m26 0h1m6 0h1m3 0h1m27 0h1m62 0h1m1 0h1m5 0h1m7 0h1m80 0h1m1 0h1m2 0h1m1 0h1m5 0h1m18 0h1m3 0h1m65 0h1m13 0h1m1 0h1m5 0h1m16 0h1m1 0h1m31 0h1m13 0h1m11 0h1m7 0h1m2 0h1m37 0h1m6 0h1m17 0h1m2 0h1m5 0h1m3 0h1m11 0h1m5 0h1m1 0h1m8 0h1m2 0h1m1 0h1m4 0h1m11 0h1m4 0h1m18 0h1m9 0h1m4 0h1m22 0h1m6 0h1m2 0h1m30 0h1m9 0h1m4 0h1m2 0h1m3 0h1m20 0h1m10 0h1m57 0h1m36 0h1m2 0h1m12 0h1m7 0h1m-1184 1h1m6 0h1m4 0h1m26 0h1m7 0h1m2 0h1m8 0h1m6 0h1m2 0h1m1 0h1m2 0h1m0 0h1m1 0h1m0 0h1m4 0h1m15 0h1m0 0h1m0 0h1m1 0h1m4 0h1m2 0h1m19 0h1m7 0h1m25 0h1m26 0h1m11 0h1m19 0h1m11 0h1m8 0h1m42 0h1m3 0h1m5 0h1m36 0h1m3 0h1m8 0h1m23 0h1m13 0h1m47 0h1m12 0h1m11 0h1m26 0h1m40 0h1m19 0h1m13 0h1m8 0h1m3 0h1m8 0h1m3 0h1m12 0h1m2 0h1m9 0h1m12 0h1m4 0h1m5 0h1m3 0h1m2 0h1m15 0h1m3 0h1m18 0h1m11 0h1m7 0h1m1 0h1m10 0h1m5 0h1m20 0h1m81 0h1m13 0h1m2 0h1m9 0h1m3 0h1m2 0h1m0 0h1m5 0h1m1 0h1m1 0h1m2 0h1m10 0h1m2 0h1m9 0h1m8 0h1m0 0h1m22 0h1m10 0h1m0 0h1m32 0h1m3 0h1m1 0h1m20 0h1m10 0h1m17 0h1m5 0h1m3 0h1m12 0h1m4 0h1m0 0h1m51 0h1m0 0h1m7 0h1m5 0h1m1 0h1m31 0h1m1 0h1m3 0h1m0 0h1m17 0h1m-1171 1h1m3 0h1m1 0h1m7 0h1m6 0h1m25 0h1m2 0h1m3 0h1m1 0h1m0 0h1m3 0h1m3 0h1m4 0h1m0 0h1m5 0h1m7 0h1m37 0h1m6 0h1m2 0h1m13 0h1m24 0h1m0 0h1m10 0h1m2 0h1m9 0h1m0 0h1m24 0h1m64 0h1m1 0h1m10 0h1m23 0h1m7 0h1m12 0h1m56 0h1m18 0h1m22 0h1m28 0h1m27 0h1m5 0h1m33 0h1m5 0h1m1 0h1m1 0h1m4 0h1m7 0h1m12 0h1m5 0h1m0 0h1m3 0h1m9 0h1m4 0h1m51 0h1m17 0h1m3 0h1m4 0h1m7 0h1m81 0h1m23 0h1m8 0h1m0 0h1m23 0h1m2 0h1m14 0h1m10 0h1m2 0h1m4 0h1m21 0h1m1 0h1m13 0h1m2 0h1m13 0h1m26 0h1m26 0h1m1 0h1m7 0h1m3 0h1m12 0h1m3 0h1m7 0h1m7 0h1m8 0h1m1 0h1m21 0h1m8 0h1m25 0h1m24 0h1m20 0h1m8 0h1m2 0h1m17 0h1m1 0h1m1 0h1m-1188 1h1m5 0h1m2 0h1m8 0h1m0 0h1m4 0h1m3 0h1m5 0h1m9 0h1m3 0h1m1 0h1m3 0h1m3 0h1m2 0h1m1 0h1m4 0h1m1 0h1m1 0h1m1 0h1m2 0h1m9 0h1m1 0h1m2 0h1m4 0h1m3 0h1m0 0h1m80 0h1m12 0h1m9 0h1m27 0h1m1 0h1m8 0h1m46 0h1m4 0h1m4 0h1m2 0h1m24 0h1m2 0h1m2 0h1m71 0h1m7 0h1m14 0h1m38 0h1m20 0h1m27 0h1m3 0h1m61 0h1m0 0h1m6 0h1m3 0h1m5 0h1m2 0h1m24 0h1m3 0h1m21 0h1m22 0h1m1 0h1m12 0h1m11 0h1m16 0h1m15 0h1m5 0h1m3 0h1m4 0h1m5 0h1m24 0h1m3 0h1m23 0h1m7 0h1m12 0h1m1 0h1m14 0h1m11 0h1m1 0h1m0 0h1m6 0h1m7 0h1m3 0h1m5 0h1m25 0h1m39 0h1m1 0h1m3 0h1m0 0h1m10 0h1m17 0h1m1 0h1m7 0h1m5 0h1m6 0h1m22 0h1m2 0h1m10 0h1m17 0h1m32 0h1m0 0h1m10 0h1m22 0h1m46 0h1m-1189 1h1m8 0h1m10 0h1m1 0h1m3 0h1m28 0h1m6 0h1m1 0h1m0 0h1m12 0h1m0 0h1m1 0h1m6 0h1m6 0h1m2 0h1m2 0h1m0 0h1m10 0h1m11 0h1m35 0h1m33 0h1m24 0h1m1 0h1m37 0h1m29 0h1m2 0h1m18 0h1m13 0h1m1 0h1m19 0h1m23 0h1m6 0h1m5 0h1m7 0h1m19 0h1m3 0h1m12 0h1m5 0h1m20 0h1m16 0h1m19 0h1m1 0h1m13 0h1m50 0h1m7 0h1m16 0h1m9 0h1m6 0h1m0 0h1m2 0h1m6 0h1m1 0h1m2 0h1m10 0h1m20 0h1m34 0h1m9 0h1m18 0h1m36 0h1m6 0h1m2 0h1m1 0h1m22 0h1m40 0h1m2 0h1m17 0h1m2 0h1m5 0h1m0 0h1m1 0h1m3 0h1m3 0h1m29 0h1m7 0h1m0 0h1m13 0h1m4 0h1m7 0h1m3 0h1m0 0h1m12 0h1m18 0h1m0 0h1m1 0h1m3 0h1m11 0h1m2 0h1m1 0h1m8 0h1m25 0h1m2 0h1m9 0h1m1 0h1m2 0h1m6 0h1m1 0h1m2 0h1m3 0h1m74 0h1m19 0h1m7 0h1m-1156 1h1m1 0h1m1 0h1m1 0h1m2 0h1m14 0h1m12 0h1m2 0h1m21 0h1m2 0h1m0 0h1m3 0h1m3 0h1m8 0h1m1 0h1m13 0h1m0 0h1m0 0h1m28 0h1m3 0h1m34 0h1m2 0h1m2 0h1m24 0h1m11 0h1m7 0h1m2 0h1m27 0h1m27 0h1m14 0h1m19 0h1m25 0h1m49 0h1m7 0h1m23 0h1m13 0h1m8 0h1m17 0h1m7 0h1m8 0h1m3 0h1m2 0h1m1 0h1m36 0h1m1 0h1m23 0h1m17 0h1m4 0h1m8 0h1m2 0h1m5 0h1m0 0h1m2 0h1m3 0h1m0 0h1m0 0h1m5 0h1m0 0h1m19 0h1m11 0h1m4 0h1m23 0h1m30 0h1m0 0h1m39 0h1m7 0h1m9 0h1m0 0h1m0 0h1m32 0h1m9 0h1m9 0h1m8 0h1m9 0h1m0 0h1m0 0h1m3 0h1m10 0h1m15 0h1m9 0h1m3 0h1m14 0h1m3 0h1m6 0h1m1 0h1m0 0h1m7 0h1m3 0h1m2 0h1m3 0h1m1 0h1m8 0h1m8 0h1m5 0h1m2 0h1m2 0h1m5 0h1m4 0h1m1 0h1m5 0h1m1 0h1m1 0h1m12 0h1m0 0h1m5 0h1m6 0h1m4 0h1m13 0h1m79 0h1m0 0h1m3 0h1m1 0h1m15 0h1m15 0h1m2 0h1m3 0h1m16 0h1m-1175 1h1m5 0h1m3 0h1m27 0h1m1 0h1m2 0h1m3 0h1m8 0h1m2 0h1m0 0h1m0 0h1m2 0h1m1 0h1m2 0h1m1 0h1m0 0h1m0 0h1m6 0h1m2 0h1m8 0h1m2 0h1m48 0h1m23 0h1m26 0h1m0 0h1m7 0h1m1 0h1m5 0h1m0 0h1m19 0h1m6 0h1m22 0h1m10 0h1m17 0h1m0 0h1m0 0h1m7 0h1m6 0h1m2 0h1m6 0h1m46 0h1m14 0h1m46 0h1m1 0h1m81 0h1m36 0h1m40 0h1m0 0h1m2 0h1m15 0h1m0 0h1m80 0h1m27 0h1m5 0h1m7 0h1m1 0h1m11 0h1m16 0h1m7 0h1m5 0h1m8 0h1m4 0h1m4 0h1m15 0h1m4 0h1m12 0h1m14 0h1m8 0h1m16 0h1m4 0h1m15 0h1m1 0h1m14 0h1m5 0h1m6 0h1m8 0h1m17 0h1m14 0h1m3 0h1m6 0h1m1 0h1m1 0h1m0 0h1m7 0h1m16 0h1m6 0h1m26 0h1m23 0h1m4 0h1m24 0h1m37 0h1m2 0h1m5 0h1m-1153 1h1m6 0h1m1 0h1m16 0h1m0 0h1m4 0h1m0 0h1m13 0h1m0 0h1m0 0h1m0 0h1m1 0h1m3 0h1m2 0h1m5 0h1m0 0h1m0 0h1m2 0h1m4 0h1m14 0h1m17 0h1m73 0h1m0 0h1m5 0h1m2 0h1m10 0h1m0 0h1m7 0h1m9 0h1m73 0h1m15 0h1m2 0h1m10 0h1m2 0h1m41 0h1m50 0h1m76 0h1m52 0h1m9 0h1m9 0h1m16 0h1m18 0h1m2 0h1m2 0h1m4 0h1m18 0h1m3 0h1m0 0h1m10 0h1m53 0h1m20 0h1m5 0h1m36 0h1m7 0h1m3 0h1m7 0h1m4 0h1m1 0h1m19 0h1m5 0h1m10 0h1m15 0h1m5 0h1m14 0h1m2 0h1m0 0h1m2 0h1m3 0h1m7 0h1m33 0h1m6 0h1m1 0h1m29 0h1m14 0h1m0 0h1m4 0h1m5 0h1m1 0h1m1 0h1m16 0h1m1 0h1m2 0h1m5 0h1m69 0h1m1 0h1m7 0h1m19 0h1m1 0h1m3 0h1m7 0h1m8 0h1m9 0h1m6 0h1m-1168 1h1m2 0h1m5 0h1m4 0h1m1 0h1m7 0h1m10 0h1m10 0h1m0 0h1m20 0h1m1 0h1m0 0h1m2 0h1m5 0h1m6 0h1m2 0h1m6 0h1m11 0h1m15 0h1m0 0h1m11 0h1m62 0h1m3 0h1m5 0h1m14 0h1m38 0h1m27 0h1m13 0h1m8 0h1m0 0h1m52 0h1m13 0h1m3 0h1m9 0h1m176 0h1m6 0h1m6 0h1m2 0h1m0 0h1m1 0h1m1 0h1m3 0h1m7 0h1m5 0h1m14 0h1m1 0h1m79 0h1m0 0h1m1 0h1m15 0h1m1 0h1m15 0h1m51 0h1m15 0h1m9 0h1m2 0h1m8 0h1m3 0h1m8 0h1m1 0h1m1 0h1m4 0h1m0 0h1m0 0h1m2 0h1m3 0h1m3 0h1m16 0h1m10 0h1m3 0h1m2 0h1m6 0h1m2 0h1m2 0h1m0 0h1m7 0h1m6 0h1m6 0h1m7 0h1m20 0h1m0 0h1m7 0h1m2 0h1m3 0h1m4 0h1m34 0h1m4 0h1m8 0h1m4 0h1m3 0h1m6 0h1m33 0h1m9 0h1m6 0h1m7 0h1m6 0h1m0 0h1m14 0h1m11 0h1m3 0h1m-1147 1h1m8 0h1m3 0h1m12 0h1m10 0h1m2 0h1m4 0h1m2 0h1m1 0h1m1 0h1m3 0h1m1 0h1m7 0h1m10 0h1m0 0h1m3 0h1m2 0h1m0 0h1m3 0h1m58 0h1m38 0h1m1 0h1m8 0h1m4 0h1m19 0h1m18 0h1m23 0h1m16 0h1m25 0h1m9 0h1m0 0h1m43 0h1m22 0h1m62 0h1m6 0h1m40 0h1m29 0h1m2 0h1m21 0h1m0 0h1m13 0h1m27 0h1m0 0h1m5 0h1m19 0h1m3 0h1m2 0h1m2 0h1m3 0h1m15 0h1m10 0h1m0 0h1m3 0h1m13 0h1m3 0h1m31 0h1m19 0h1m32 0h1m0 0h1m15 0h1m30 0h1m5 0h1m16 0h1m14 0h1m0 0h1m1 0h1m13 0h1m3 0h1m8 0h1m7 0h1m2 0h1m23 0h1m0 0h1m0 0h1m0 0h1m52 0h1m0 0h1m4 0h1m0 0h1m0 0h1m2 0h1m4 0h1m11 0h1m7 0h1m5 0h1m28 0h1m0 0h1m10 0h1m23 0h1m8 0h1m4 0h1m18 0h1m45 0h1m-1179 1h1m7 0h1m15 0h1m11 0h1m6 0h1m7 0h1m1 0h1m3 0h1m7 0h1m2 0h1m0 0h1m3 0h1m2 0h1m1 0h1m1 0h1m25 0h1m17 0h1m0 0h1m28 0h1m25 0h1m33 0h1m32 0h1m23 0h1m4 0h1m0 0h1m29 0h1m6 0h1m2 0h1m11 0h1m10 0h1m76 0h1m1 0h1m36 0h1m8 0h1m16 0h1m19 0h1m98 0h1m0 0h1m12 0h1m0 0h1m1 0h1m6 0h1m5 0h1m11 0h1m6 0h1m11 0h1m3 0h1m1 0h1m0 0h1m14 0h1m7 0h1m4 0h1m12 0h1m77 0h1m4 0h1m4 0h1m13 0h1m23 0h1m0 0h1m0 0h1m4 0h1m0 0h1m5 0h1m7 0h1m1 0h1m6 0h1m6 0h1m3 0h1m4 0h1m1 0h1m5 0h1m2 0h1m0 0h1m0 0h1m6 0h1m7 0h1m13 0h1m1 0h1m0 0h1m0 0h1m32 0h1m3 0h1m14 0h1m3 0h1m4 0h1m8 0h1m5 0h1m2 0h1m5 0h1m4 0h1m10 0h1m13 0h1m1 0h1m0 0h1m6 0h1m3 0h1m5 0h1m0 0h1m12 0h1m4 0h1m2 0h1m5 0h1m8 0h1m1 0h1m7 0h1m12 0h1m11 0h1m6 0h1m3 0h1m1 0h1m16 0h1m-1163 1h1m2 0h1m10 0h1m14 0h1m2 0h1m3 0h1m0 0h1m1 0h1m2 0h1m4 0h1m8 0h1m0 0h1m2 0h1m4 0h1m0 0h1m6 0h1m3 0h1m20 0h1m7 0h1m28 0h1m11 0h1m37 0h1m9 0h1m10 0h1m17 0h1m52 0h1m23 0h1m0 0h1m11 0h1m11 0h1m7 0h1m39 0h1m35 0h1m3 0h1m54 0h1m22 0h1m58 0h1m31 0h1m1 0h1m20 0h1m6 0h1m7 0h1m0 0h1m7 0h1m4 0h1m1 0h1m0 0h1m0 0h1m0 0h1m9 0h1m23 0h1m33 0h1m21 0h1m18 0h1m5 0h1m1 0h1m8 0h1m20 0h1m19 0h1m5 0h1m14 0h1m18 0h1m3 0h1m3 0h1m2 0h1m1 0h1m9 0h1m2 0h1m7 0h1m0 0h1m4 0h1m10 0h1m0 0h1m1 0h1m0 0h1m7 0h1m1 0h1m3 0h1m4 0h1m10 0h1m22 0h1m20 0h1m4 0h1m1 0h1m0 0h1m5 0h1m11 0h1m4 0h1m3 0h1m7 0h1m0 0h1m5 0h1m13 0h1m13 0h1m1 0h1m3 0h1m1 0h1m0 0h1m27 0h1m2 0h1m9 0h1m12 0h1m35 0h1m6 0h1m-1161 1h1m0 0h1m15 0h1m4 0h1m0 0h1m0 0h1m3 0h1m3 0h1m7 0h1m11 0h1m1 0h1m1 0h1m1 0h1m1 0h1m0 0h1m14 0h1m6 0h1m3 0h1m16 0h1m24 0h1m19 0h1m41 0h1m5 0h1m2 0h1m40 0h1m46 0h1m1 0h1m65 0h1m5 0h1m16 0h1m23 0h1m7 0h1m24 0h1m6 0h1m33 0h1m14 0h1m42 0h1m67 0h1m6 0h1m2 0h1m5 0h1m2 0h1m2 0h1m1 0h1m0 0h1m8 0h1m14 0h1m15 0h1m29 0h1m19 0h1m10 0h1m9 0h1m12 0h1m45 0h1m21 0h1m3 0h1m9 0h1m5 0h1m23 0h1m8 0h1m1 0h1m11 0h1m7 0h1m5 0h1m0 0h1m14 0h1m8 0h1m27 0h1m3 0h1m12 0h1m16 0h1m5 0h1m1 0h1m32 0h1m24 0h1m19 0h1m2 0h1m14 0h1m32 0h1m28 0h1m-1158 1h1m3 0h1m0 0h1m0 0h1m1 0h1m0 0h1m3 0h1m4 0h1m13 0h1m7 0h1m9 0h1m0 0h1m4 0h1m7 0h1m6 0h1m2 0h1m3 0h1m11 0h1m1 0h1m3 0h1m4 0h1m1 0h1m2 0h1m6 0h1m6 0h1m23 0h1m51 0h1m30 0h1m3 0h1m4 0h1m6 0h1m8 0h1m9 0h1m37 0h1m6 0h1m1 0h1m17 0h1m3 0h1m1 0h1m23 0h1m25 0h1m30 0h1m23 0h1m19 0h1m4 0h1m11 0h1m73 0h1m8 0h1m1 0h1m18 0h1m29 0h1m3 0h1m11 0h1m1 0h1m1 0h1m18 0h1m5 0h1m14 0h1m4 0h1m8 0h1m37 0h1m30 0h1m4 0h1m18 0h1m5 0h1m1 0h1m24 0h1m2 0h1m0 0h1m2 0h1m4 0h1m1 0h1m8 0h1m2 0h1m2 0h1m1 0h1m6 0h1m6 0h1m6 0h1m5 0h1m1 0h1m12 0h1m1 0h1m5 0h1m14 0h1m5 0h1m20 0h1m11 0h1m7 0h1m18 0h1m12 0h1m0 0h1m12 0h1m14 0h1m18 0h1m3 0h1m1 0h1m26 0h1m5 0h1m1 0h1m9 0h1m12 0h1m6 0h1m0 0h1m8 0h1m9 0h1m5 0h1m5 0h1m1 0h1m18 0h1m6 0h1m-1165 1h1m6 0h1m4 0h1m1 0h1m16 0h1m4 0h1m7 0h1m4 0h1m0 0h1m3 0h1m6 0h1m4 0h1m4 0h1m16 0h1m1 0h1m8 0h1m19 0h1m10 0h1m3 0h1m10 0h1m23 0h1m2 0h1m14 0h1m0 0h1m62 0h1m35 0h1m12 0h1m28 0h1m20 0h1m23 0h1m24 0h1m7 0h1m12 0h1m49 0h1m11 0h1m7 0h1m0 0h1m9 0h1m1 0h1m83 0h1m15 0h1m12 0h1m2 0h1m40 0h1m59 0h1m4 0h1m24 0h1m3 0h1m19 0h1m20 0h1m12 0h1m6 0h1m3 0h1m0 0h1m0 0h1m2 0h1m11 0h1m5 0h1m2 0h1m0 0h1m8 0h1m0 0h1m17 0h1m13 0h1m3 0h1m13 0h1m7 0h1m36 0h1m14 0h1m14 0h1m17 0h1m1 0h1m3 0h1m14 0h1m4 0h1m5 0h1m0 0h1m0 0h1m2 0h1m10 0h1m1 0h1m4 0h1m1 0h1m22 0h1m22 0h1m47 0h1m16 0h1m-1164 1h1m4 0h1m0 0h1m6 0h1m1 0h1m24 0h1m9 0h1m0 0h1m14 0h1m1 0h1m1 0h1m7 0h1m6 0h1m1 0h1m14 0h1m0 0h1m66 0h1m11 0h1m18 0h1m2 0h1m3 0h1m25 0h1m62 0h1m3 0h1m6 0h1m1 0h1m1 0h1m37 0h1m0 0h1m81 0h1m1 0h1m28 0h1m5 0h1m73 0h1m30 0h1m1 0h1m12 0h1m1 0h1m0 0h1m10 0h1m3 0h1m9 0h1m6 0h1m4 0h1m10 0h1m1 0h1m7 0h1m8 0h1m4 0h1m7 0h1m7 0h1m13 0h1m46 0h1m24 0h1m4 0h1m10 0h1m11 0h1m11 0h1m0 0h1m5 0h1m1 0h1m2 0h1m0 0h1m1 0h1m3 0h1m5 0h1m36 0h1m0 0h1m5 0h1m2 0h1m0 0h1m2 0h1m1 0h1m1 0h1m1 0h1m16 0h1m17 0h1m22 0h1m25 0h1m9 0h1m1 0h1m12 0h1m1 0h1m0 0h1m12 0h1m5 0h1m3 0h1m0 0h1m5 0h1m18 0h1m9 0h1m7 0h1m25 0h1m1 0h1m4 0h1m0 0h1m8 0h1m9 0h1m23 0h1m16 0h1m10 0h1m-1173 1h1m1 0h1m10 0h1m11 0h1m5 0h1m2 0h1m7 0h1m3 0h1m10 0h1m2 0h1m13 0h1m1 0h1m10 0h1m14 0h1m2 0h1m14 0h1m2 0h1m32 0h1m33 0h1m17 0h1m4 0h1m41 0h1m24 0h1m4 0h1m3 0h1m0 0h1m2 0h1m4 0h1m10 0h1m34 0h1m18 0h1m13 0h1m72 0h1m56 0h1m37 0h1m27 0h1m14 0h1m19 0h1m3 0h1m12 0h1m3 0h1m9 0h1m1 0h1m4 0h1m5 0h1m21 0h1m15 0h1m11 0h1m56 0h1m4 0h1m26 0h1m24 0h1m1 0h1m2 0h1m4 0h1m7 0h1m1 0h1m7 0h1m6 0h1m1 0h1m4 0h1m0 0h1m10 0h1m11 0h1m0 0h1m10 0h1m5 0h1m12 0h1m4 0h1m9 0h1m17 0h1m14 0h1m11 0h1m0 0h1m1 0h1m7 0h1m2 0h1m5 0h1m5 0h1m2 0h1m3 0h1m3 0h1m0 0h1m0 0h1m15 0h1m2 0h1m1 0h1m5 0h1m0 0h1m11 0h1m0 0h1m14 0h1m1 0h1m1 0h1m1 0h1m4 0h1m4 0h1m11 0h1m3 0h1m1 0h1m-1076 1h1m7 0h1m7 0h1m0 0h1m5 0h1m0 0h1m2 0h1m10 0h1m0 0h1m2 0h1m10 0h1m5 0h1m1 0h1m5 0h1m2 0h1m1 0h1m28 0h1m14 0h1m9 0h1m34 0h1m9 0h1m18 0h1m15 0h1m12 0h1m16 0h1m21 0h1m2 0h1m0 0h1m6 0h1m4 0h1m10 0h1m6 0h1m3 0h1m70 0h1m37 0h1m8 0h1m19 0h1m9 0h1m40 0h1m13 0h1m5 0h1m9 0h1m13 0h1m3 0h1m34 0h1m37 0h1m0 0h1m5 0h1m1 0h1m4 0h1m3 0h1m17 0h1m33 0h1m45 0h1m6 0h1m0 0h1m9 0h1m14 0h1m12 0h1m5 0h1m4 0h1m7 0h1m1 0h1m32 0h1m34 0h1m20 0h1m9 0h1m16 0h1m2 0h1m9 0h1m37 0h1m11 0h1m6 0h1m7 0h1m7 0h1m4 0h1m28 0h1m0 0h1m0 0h1m6 0h1m4 0h1m9 0h1m1 0h1m10 0h1m1 0h1m5 0h1m5 0h1m4 0h1m7 0h1m28 0h1m8 0h1m18 0h1m-1149 1h1m22 0h1m7 0h1m3 0h1m0 0h1m20 0h1m5 0h1m0 0h1m6 0h1m7 0h1m2 0h1m34 0h1m17 0h1m32 0h1m5 0h1m21 0h1m6 0h1m1 0h1m10 0h1m41 0h1m2 0h1m4 0h1m51 0h1m8 0h1m25 0h1m14 0h1m1 0h1m6 0h1m52 0h1m0 0h1m3 0h1m36 0h1m2 0h1m20 0h1m116 0h1m0 0h1m19 0h1m9 0h1m9 0h1m0 0h1m1 0h1m9 0h1m28 0h1m30 0h1m0 0h1m14 0h1m5 0h1m0 0h1m8 0h1m2 0h1m2 0h1m12 0h1m35 0h1m0 0h1m4 0h1m0 0h1m7 0h1m17 0h1m15 0h1m1 0h1m14 0h1m41 0h1m25 0h1m8 0h1m22 0h1m13 0h1m20 0h1m26 0h1m2 0h1m6 0h1m22 0h1m38 0h1m1 0h1m2 0h1m2 0h1m3 0h1m-1144 1h1m3 0h1m4 0h1m11 0h1m8 0h1m8 0h1m0 0h1m9 0h1m5 0h1m8 0h1m9 0h1m2 0h1m1 0h1m2 0h1m11 0h1m9 0h1m46 0h1m23 0h1m1 0h1m3 0h1m6 0h1m7 0h1m20 0h1m6 0h1m1 0h1m59 0h1m0 0h1m3 0h1m24 0h1m3 0h1m0 0h1m0 0h1m0 0h1m4 0h1m37 0h1m11 0h1m2 0h1m1 0h1m40 0h1m8 0h1m22 0h1m39 0h1m64 0h1m25 0h1m30 0h1m14 0h1m1 0h1m4 0h1m1 0h1m1 0h1m2 0h1m0 0h1m6 0h1m10 0h1m0 0h1m9 0h1m3 0h1m4 0h1m6 0h1m41 0h1m0 0h1m0 0h1m9 0h1m19 0h1m2 0h1m28 0h1m2 0h1m1 0h1m7 0h1m13 0h1m0 0h1m34 0h1m7 0h1m31 0h1m7 0h1m36 0h1m27 0h1m1 0h1m20 0h1m2 0h1m2 0h1m0 0h1m6 0h1m0 0h1m2 0h1m1 0h1m24 0h1m3 0h1m2 0h1m13 0h1m0 0h1m4 0h1m6 0h1m10 0h1m3 0h1m2 0h1m1 0h1m60 0h1m14 0h1m-1188 1h1m1 0h1m22 0h1m3 0h1m0 0h1m19 0h1m3 0h1m0 0h1m1 0h1m0 0h1m10 0h1m3 0h1m19 0h1m7 0h1m23 0h1m11 0h1m17 0h1m5 0h1m28 0h1m5 0h1m11 0h1m31 0h1m31 0h1m3 0h1m2 0h1m11 0h1m0 0h1m2 0h1m22 0h1m7 0h1m3 0h1m0 0h1m0 0h1m2 0h1m0 0h1m1 0h1m10 0h1m10 0h1m26 0h1m21 0h1m2 0h1m1 0h1m20 0h1m1 0h1m65 0h1m20 0h1m86 0h1m5 0h1m27 0h1m15 0h1m3 0h1m1 0h1m7 0h1m10 0h1m36 0h1m27 0h1m8 0h1m7 0h1m15 0h1m25 0h1m0 0h1m2 0h1m54 0h1m31 0h1m5 0h1m67 0h1m0 0h1m4 0h1m3 0h1m19 0h1m3 0h1m4 0h1m2 0h1m0 0h1m1 0h1m0 0h1m9 0h1m17 0h1m12 0h1m16 0h1m12 0h1m18 0h1m34 0h1m2 0h1m2 0h1m6 0h1m-1115 1h1m16 0h1m3 0h1m13 0h1m3 0h1m15 0h1m5 0h1m4 0h1m12 0h1m3 0h1m13 0h1m0 0h1m54 0h1m28 0h1m19 0h1m3 0h1m55 0h1m14 0h1m12 0h1m3 0h1m9 0h1m32 0h1m24 0h1m21 0h1m17 0h1m22 0h1m48 0h1m24 0h1m12 0h1m7 0h1m43 0h1m6 0h1m2 0h1m39 0h1m14 0h1m14 0h1m7 0h1m55 0h1m9 0h1m23 0h1m4 0h1m8 0h1m7 0h1m24 0h1m14 0h1m15 0h1m22 0h1m12 0h1m0 0h1m6 0h1m14 0h1m0 0h1m10 0h1m17 0h1m0 0h1m30 0h1m1 0h1m4 0h1m7 0h1m1 0h1m9 0h1m3 0h1m3 0h1m2 0h1m14 0h1m0 0h1m0 0h1m2 0h1m13 0h1m2 0h1m3 0h1m0 0h1m13 0h1m5 0h1m9 0h1m20 0h1m1 0h1m2 0h1m26 0h1m7 0h1m0 0h1m2 0h1m7 0h1m9 0h1m-1149 1h1m1 0h1m3 0h1m8 0h1m8 0h1m4 0h1m2 0h1m3 0h1m2 0h1m0 0h1m23 0h1m5 0h1m1 0h1m16 0h1m40 0h1m36 0h1m7 0h1m35 0h1m9 0h1m13 0h1m22 0h1m21 0h1m9 0h1m11 0h1m11 0h1m13 0h1m18 0h1m19 0h1m32 0h1m11 0h1m12 0h1m8 0h1m5 0h1m4 0h1m11 0h1m67 0h1m6 0h1m20 0h1m27 0h1m0 0h1m5 0h1m13 0h1m4 0h1m1 0h1m5 0h1m10 0h1m4 0h1m1 0h1m12 0h1m6 0h1m0 0h1m1 0h1m10 0h1m53 0h1m10 0h1m19 0h1m3 0h1m10 0h1m6 0h1m18 0h1m54 0h1m4 0h1m5 0h1m18 0h1m1 0h1m20 0h1m42 0h1m6 0h1m3 0h1m4 0h1m15 0h1m15 0h1m1 0h1m3 0h1m2 0h1m10 0h1m3 0h1m0 0h1m1 0h1m1 0h1m4 0h1m1 0h1m25 0h1m4 0h1m19 0h1m8 0h1m7 0h1m5 0h1m18 0h1m13 0h1m17 0h1m-1182 1h1m21 0h1m8 0h1m2 0h1m14 0h1m3 0h1m11 0h1m1 0h1m1 0h1m5 0h1m11 0h1m2 0h1m15 0h1m6 0h1m48 0h1m27 0h1m1 0h1m1 0h1m12 0h1m33 0h1m19 0h1m22 0h1m16 0h1m0 0h1m14 0h1m1 0h1m1 0h1m4 0h1m0 0h1m0 0h1m1 0h1m1 0h1m1 0h1m10 0h1m37 0h1m47 0h1m102 0h1m33 0h1m12 0h1m0 0h1m1 0h1m10 0h1m6 0h1m39 0h1m6 0h1m11 0h1m3 0h1m18 0h1m10 0h1m1 0h1m2 0h1m8 0h1m56 0h1m6 0h1m39 0h1m0 0h1m0 0h1m13 0h1m2 0h1m6 0h1m28 0h1m14 0h1m12 0h1m23 0h1m34 0h1m42 0h1m12 0h1m3 0h1m3 0h1m0 0h1m3 0h1m9 0h1m1 0h1m11 0h1m0 0h1m4 0h1m4 0h1m1 0h1m3 0h1m0 0h1m3 0h1m3 0h1m0 0h1m4 0h1m9 0h1m16 0h1m0 0h1m1 0h1m6 0h1m17 0h1m9 0h1m7 0h1m16 0h1m10 0h1m3 0h1m-1174 1h1m36 0h1m0 0h1m9 0h1m15 0h1m0 0h1m23 0h1m0 0h1m8 0h1m37 0h1m32 0h1m31 0h1m2 0h1m9 0h1m0 0h1m19 0h1m1 0h1m1 0h1m15 0h1m20 0h1m5 0h1m5 0h1m2 0h1m11 0h1m7 0h1m1 0h1m25 0h1m3 0h1m11 0h1m18 0h1m3 0h1m30 0h1m6 0h1m8 0h1m1 0h1m12 0h1m45 0h1m26 0h1m2 0h1m74 0h1m37 0h1m8 0h1m5 0h1m2 0h1m0 0h1m7 0h1m12 0h1m7 0h1m9 0h1m16 0h1m9 0h1m38 0h1m4 0h1m3 0h1m5 0h1m3 0h1m7 0h1m15 0h1m2 0h1m9 0h1m12 0h1m10 0h1m10 0h1m108 0h1m4 0h1m8 0h1m26 0h1m11 0h1m12 0h1m8 0h1m13 0h1m2 0h1m7 0h1m1 0h1m1 0h1m0 0h1m1 0h1m4 0h1m2 0h1m1 0h1m5 0h1m7 0h1m1 0h1m0 0h1m14 0h1m2 0h1m8 0h1m3 0h1m0 0h1m30 0h1m12 0h1m-1172 1h1m28 0h1m14 0h1m1 0h1m0 0h1m7 0h1m7 0h1m5 0h1m3 0h1m1 0h1m5 0h1m2 0h1m3 0h1m27 0h1m8 0h1m9 0h1m9 0h1m7 0h1m9 0h1m89 0h1m6 0h1m0 0h1m6 0h1m0 0h1m11 0h1m4 0h1m5 0h1m7 0h1m0 0h1m0 0h1m4 0h1m17 0h1m3 0h1m41 0h1m38 0h1m36 0h1m10 0h1m85 0h1m6 0h1m21 0h1m23 0h1m14 0h1m8 0h1m4 0h1m2 0h1m10 0h1m21 0h1m1 0h1m3 0h1m1 0h1m10 0h1m12 0h1m9 0h1m4 0h1m43 0h1m0 0h1m6 0h1m21 0h1m0 0h1m3 0h1m1 0h1m1 0h1m12 0h1m2 0h1m7 0h1m0 0h1m36 0h1m28 0h1m1 0h1m1 0h1m1 0h1m5 0h1m22 0h1m4 0h1m1 0h1m5 0h1m0 0h1m51 0h1m0 0h1m35 0h1m1 0h1m0 0h1m3 0h1m0 0h1m0 0h1m5 0h1m0 0h1m4 0h1m2 0h1m5 0h1m48 0h1m7 0h1m2 0h1m7 0h1m10 0h1m3 0h1m7 0h1m25 0h1m7 0h1m1 0h1m-1185 1h1m21 0h1m7 0h1m22 0h1m3 0h1m3 0h1m6 0h1m9 0h1m4 0h1m5 0h1m4 0h1m12 0h1m4 0h1m0 0h1m40 0h1m11 0h1m2 0h1m71 0h1m0 0h1m13 0h1m6 0h1m9 0h1m18 0h1m10 0h1m16 0h1m1 0h1m8 0h1m3 0h1m137 0h1m8 0h1m17 0h1m2 0h1m23 0h1m26 0h1m10 0h1m8 0h1m46 0h1m16 0h1m6 0h1m2 0h1m15 0h1m1 0h1m7 0h1m5 0h1m2 0h1m11 0h1m11 0h1m24 0h1m18 0h1m8 0h1m2 0h1m26 0h1m0 0h1m9 0h1m6 0h1m8 0h1m6 0h1m37 0h1m46 0h1m10 0h1m16 0h1m0 0h1m77 0h1m5 0h1m16 0h1m2 0h1m2 0h1m1 0h1m0 0h1m0 0h1m16 0h1m2 0h1m1 0h1m9 0h1m1 0h1m3 0h1m2 0h1m2 0h1m2 0h1m7 0h1m2 0h1m5 0h1m1 0h1m4 0h1m24 0h1m8 0h1m1 0h1m30 0h1m-1150 1h1m8 0h1m2 0h1m4 0h1m17 0h1m0 0h1m8 0h1m5 0h1m1 0h1m7 0h1m0 0h1m7 0h1m24 0h1m21 0h1m4 0h1m6 0h1m21 0h1m3 0h1m3 0h1m0 0h1m1 0h1m38 0h1m0 0h1m19 0h1m4 0h1m21 0h1m1 0h1m2 0h1m2 0h1m2 0h1m11 0h1m8 0h1m1 0h1m2 0h1m1 0h1m2 0h1m1 0h1m34 0h1m1 0h1m1 0h1m46 0h1m7 0h1m9 0h1m15 0h1m20 0h1m46 0h1m9 0h1m13 0h1m27 0h1m63 0h1m17 0h1m2 0h1m9 0h1m0 0h1m0 0h1m20 0h1m11 0h1m7 0h1m10 0h1m5 0h1m12 0h1m1 0h1m5 0h1m3 0h1m16 0h1m4 0h1m1 0h1m6 0h1m0 0h1m9 0h1m7 0h1m8 0h1m23 0h1m11 0h1m2 0h1m19 0h1m61 0h1m26 0h1m19 0h1m57 0h1m0 0h1m1 0h1m5 0h1m4 0h1m9 0h1m4 0h1m3 0h1m0 0h1m0 0h1m3 0h1m3 0h1m9 0h1m5 0h1m2 0h1m2 0h1m6 0h1m0 0h1m2 0h1m4 0h1m0 0h1m18 0h1m-1119 1h1m32 0h1m7 0h1m0 0h1m8 0h1m7 0h1m6 0h1m1 0h1m2 0h1m3 0h1m8 0h1m2 0h1m2 0h1m1 0h1m18 0h1m1 0h1m10 0h1m20 0h1m21 0h1m18 0h1m3 0h1m20 0h1m24 0h1m2 0h1m7 0h1m13 0h1m0 0h1m0 0h1m9 0h1m7 0h1m11 0h1m1 0h1m4 0h1m10 0h1m0 0h1m4 0h1m26 0h1m2 0h1m19 0h1m16 0h1m1 0h1m11 0h1m11 0h1m60 0h1m12 0h1m2 0h1m27 0h1m28 0h1m27 0h1m4 0h1m12 0h1m29 0h1m8 0h1m21 0h1m14 0h1m4 0h1m1 0h1m7 0h1m13 0h1m15 0h1m29 0h1m0 0h1m4 0h1m12 0h1m16 0h1m4 0h1m3 0h1m9 0h1m17 0h1m47 0h1m9 0h1m27 0h1m1 0h1m3 0h1m0 0h1m14 0h1m50 0h1m2 0h1m12 0h1m3 0h1m7 0h1m20 0h1m4 0h1m0 0h1m2 0h1m0 0h1m13 0h1m20 0h1m3 0h1m10 0h1m9 0h1m4 0h1m15 0h1m1 0h1m4 0h1m16 0h1m9 0h1m11 0h1m1 0h1m-1169 1h1m1 0h1m1 0h1m33 0h1m7 0h1m12 0h1m4 0h1m11 0h1m13 0h1m3 0h1m11 0h1m5 0h1m32 0h1m0 0h1m25 0h1m31 0h1m23 0h1m77 0h1m2 0h1m27 0h1m11 0h1m40 0h1m49 0h1m29 0h1m2 0h1m6 0h1m0 0h1m38 0h1m51 0h1m22 0h1m47 0h1m15 0h1m9 0h1m13 0h1m11 0h1m61 0h1m7 0h1m22 0h1m7 0h1m6 0h1m17 0h1m20 0h1m20 0h1m17 0h1m19 0h1m2 0h1m5 0h1m14 0h1m34 0h1m17 0h1m38 0h1m20 0h1m13 0h1m11 0h1m2 0h1m1 0h1m3 0h1m17 0h1m6 0h1m15 0h1m5 0h1m18 0h1m24 0h1m-1137 1h1m3 0h1m1 0h1m13 0h1m8 0h1m4 0h1m5 0h1m8 0h1m8 0h1m2 0h1m40 0h1m44 0h1m47 0h1m8 0h1m5 0h1m0 0h1m38 0h1m1 0h1m4 0h1m2 0h1m0 0h1m0 0h1m3 0h1m2 0h1m8 0h1m2 0h1m0 0h1m0 0h1m20 0h1m46 0h1m4 0h1m8 0h1m48 0h1m92 0h1m29 0h1m73 0h1m13 0h1m2 0h1m3 0h1m1 0h1m24 0h1m3 0h1m16 0h1m2 0h1m16 0h1m2 0h1m4 0h1m27 0h1m20 0h1m22 0h1m47 0h1m66 0h1m0 0h1m9 0h1m7 0h1m11 0h1m34 0h1m5 0h1m3 0h1m2 0h1m24 0h1m7 0h1m4 0h1m14 0h1m0 0h1m0 0h1m1 0h1m3 0h1m0 0h1m6 0h1m33 0h1m3 0h1m8 0h1m17 0h1m13 0h1m9 0h1m4 0h1m-1165 1h1m16 0h1m1 0h1m17 0h1m2 0h1m14 0h1m0 0h1m2 0h1m2 0h1m2 0h1m13 0h1m5 0h1m9 0h1m0 0h1m0 0h1m27 0h1m6 0h1m0 0h1m7 0h1m1 0h1m40 0h1m7 0h1m2 0h1m15 0h1m31 0h1m16 0h1m2 0h1m17 0h1m0 0h1m33 0h1m155 0h1m32 0h1m32 0h1m23 0h1m2 0h1m80 0h1m1 0h1m6 0h1m0 0h1m10 0h1m10 0h1m12 0h1m18 0h1m15 0h1m4 0h1m5 0h1m10 0h1m13 0h1m15 0h1m13 0h1m13 0h1m28 0h1m5 0h1m21 0h1m18 0h1m33 0h1m0 0h1m43 0h1m25 0h1m9 0h1m2 0h1m5 0h1m24 0h1m8 0h1m5 0h1m11 0h1m19 0h1m6 0h1m12 0h1m3 0h1m9 0h1m0 0h1m8 0h1m5 0h1m7 0h1m6 0h1m10 0h1m7 0h1m-1174 1h1m10 0h1m35 0h1m1 0h1m11 0h1m11 0h1m3 0h1m24 0h1m30 0h1m27 0h1m22 0h1m1 0h1m6 0h1m0 0h1m8 0h1m18 0h1m16 0h1m8 0h1m14 0h1m6 0h1m4 0h1m24 0h1m16 0h1m29 0h1m15 0h1m2 0h1m21 0h1m40 0h1m21 0h1m16 0h1m48 0h1m23 0h1m15 0h1m16 0h1m3 0h1m14 0h1m13 0h1m28 0h1m1 0h1m7 0h1m0 0h1m38 0h1m15 0h1m1 0h1m4 0h1m9 0h1m3 0h1m35 0h1m2 0h1m5 0h1m13 0h1m0 0h1m2 0h1m1 0h1m0 0h1m10 0h1m1 0h1m0 0h1m16 0h1m4 0h1m29 0h1m28 0h1m84 0h1m23 0h1m26 0h1m9 0h1m1 0h1m6 0h1m7 0h1m24 0h1m5 0h1m2 0h1m2 0h1m6 0h1m1 0h1m6 0h1m6 0h1m2 0h1m5 0h1m7 0h1m6 0h1m11 0h1m4 0h1m6 0h1m17 0h1m8 0h1m-1133 1h1m12 0h1m3 0h1m0 0h1m8 0h1m6 0h1m19 0h1m24 0h1m101 0h1m17 0h1m34 0h1m7 0h1m1 0h1m5 0h1m10 0h1m5 0h1m3 0h1m10 0h1m1 0h1m17 0h1m2 0h1m42 0h1m9 0h1m6 0h1m42 0h1m1 0h1m54 0h1m1 0h1m19 0h1m42 0h1m14 0h1m6 0h1m26 0h1m35 0h1m0 0h1m36 0h1m3 0h1m17 0h1m20 0h1m2 0h1m5 0h1m15 0h1m14 0h1m0 0h1m6 0h1m0 0h1m3 0h1m1 0h1m56 0h1m17 0h1m35 0h1m22 0h1m4 0h1m4 0h1m29 0h1m77 0h1m7 0h1m2 0h1m13 0h1m0 0h1m5 0h1m4 0h1m18 0h1m8 0h1m2 0h1m4 0h1m5 0h1m15 0h1m1 0h1m3 0h1m0 0h1m26 0h1m-1183 1h1m7 0h1m2 0h1m27 0h1m1 0h1m11 0h1m3 0h1m6 0h1m4 0h1m1 0h1m0 0h1m18 0h1m2 0h1m3 0h1m2 0h1m3 0h1m2 0h1m6 0h1m26 0h1m3 0h1m32 0h1m66 0h1m40 0h1m0 0h1m9 0h1m8 0h1m0 0h1m11 0h1m2 0h1m2 0h1m1 0h1m28 0h1m5 0h1m119 0h1m7 0h1m48 0h1m1 0h1m37 0h1m62 0h1m21 0h1m2 0h1m7 0h1m52 0h1m5 0h1m11 0h1m16 0h1m12 0h1m11 0h1m2 0h1m4 0h1m8 0h1m3 0h1m2 0h1m60 0h1m20 0h1m3 0h1m12 0h1m0 0h1m29 0h1m24 0h1m25 0h1m8 0h1m4 0h1m12 0h1m9 0h1m13 0h1m2 0h1m12 0h1m3 0h1m3 0h1m7 0h1m8 0h1m2 0h1m5 0h1m0 0h1m2 0h1m7 0h1m0 0h1m4 0h1m4 0h1m21 0h1m1 0h1m15 0h1m0 0h1m0 0h1m1 0h1m14 0h1m0 0h1m-1177 1h1m5 0h1m0 0h1m21 0h1m14 0h1m0 0h1m9 0h1m0 0h1m6 0h1m2 0h1m1 0h1m2 0h1m4 0h1m23 0h1m12 0h1m23 0h1m1 0h1m8 0h1m2 0h1m16 0h1m6 0h1m9 0h1m3 0h1m6 0h1m7 0h1m14 0h1m63 0h1m7 0h1m18 0h1m3 0h1m1 0h1m3 0h1m63 0h1m3 0h1m11 0h1m25 0h1m36 0h1m14 0h1m7 0h1m7 0h1m61 0h1m0 0h1m26 0h1m56 0h1m18 0h1m5 0h1m3 0h1m7 0h1m2 0h1m15 0h1m0 0h1m6 0h1m17 0h1m8 0h1m11 0h1m8 0h1m4 0h1m4 0h1m9 0h1m10 0h1m0 0h1m19 0h1m2 0h1m24 0h1m45 0h1m21 0h1m7 0h1m21 0h1m11 0h1m37 0h1m14 0h1m13 0h1m13 0h1m22 0h1m28 0h1m6 0h1m3 0h1m0 0h1m7 0h1m3 0h1m3 0h1m9 0h1m26 0h1m5 0h1m7 0h1m2 0h1m13 0h1m6 0h1m1 0h1m-1158 1h1m0 0h1m8 0h1m16 0h1m1 0h1m24 0h1m12 0h1m96 0h1m21 0h1m16 0h1m4 0h1m51 0h1m6 0h1m9 0h1m18 0h1m6 0h1m8 0h1m92 0h1m4 0h1m38 0h1m70 0h1m65 0h1m50 0h1m0 0h1m13 0h1m2 0h1m0 0h1m4 0h1m1 0h1m10 0h1m2 0h1m40 0h1m1 0h1m22 0h1m19 0h1m0 0h1m12 0h1m13 0h1m12 0h1m9 0h1m16 0h1m39 0h1m28 0h1m0 0h1m21 0h1m48 0h1m5 0h1m11 0h1m0 0h1m2 0h1m4 0h1m12 0h1m10 0h1m32 0h1m3 0h1m5 0h1m1 0h1m3 0h1m13 0h1m5 0h1m0 0h1m6 0h1m8 0h1m15 0h1m-1126 1h1m26 0h1m14 0h1m0 0h1m8 0h1m3 0h1m3 0h1m3 0h1m42 0h1m14 0h1m36 0h1m17 0h1m4 0h1m0 0h1m6 0h1m32 0h1m12 0h1m25 0h1m0 0h1m0 0h1m6 0h1m0 0h1m4 0h1m19 0h1m13 0h1m18 0h1m39 0h1m13 0h1m15 0h1m0 0h1m26 0h1m41 0h1m18 0h1m1 0h1m2 0h1m4 0h1m31 0h1m46 0h1m13 0h1m8 0h1m3 0h1m26 0h1m4 0h1m2 0h1m0 0h1m7 0h1m3 0h1m21 0h1m2 0h1m2 0h1m13 0h1m24 0h1m7 0h1m6 0h1m13 0h1m4 0h1m5 0h1m7 0h1m48 0h1m66 0h1m3 0h1m0 0h1m56 0h1m7 0h1m0 0h1m20 0h1m74 0h1m2 0h1m9 0h1m4 0h1m3 0h1m1 0h1m2 0h1m8 0h1m19 0h1m1 0h1m0 0h1m7 0h1m7 0h1m2 0h1m16 0h1m1 0h1m-1115 1h1m0 0h1m2 0h1m1 0h1m2 0h1m0 0h1m6 0h1m0 0h1m2 0h1m0 0h1m2 0h1m11 0h1m1 0h1m37 0h1m43 0h1m3 0h1m1 0h1m1 0h1m0 0h1m17 0h1m5 0h1m2 0h1m48 0h1m21 0h1m17 0h1m5 0h1m8 0h1m20 0h1m1 0h1m48 0h1m44 0h1m9 0h1m14 0h1m31 0h1m33 0h1m3 0h1m9 0h1m5 0h1m15 0h1m5 0h1m6 0h1m7 0h1m87 0h1m3 0h1m20 0h1m7 0h1m7 0h1m29 0h1m2 0h1m18 0h1m19 0h1m11 0h1m2 0h1m6 0h1m11 0h1m17 0h1m9 0h1m89 0h1m8 0h1m11 0h1m45 0h1m33 0h1m8 0h1m16 0h1m10 0h1m3 0h1m0 0h1m5 0h1m11 0h1m1 0h1m2 0h1m20 0h1m5 0h1m9 0h1m6 0h1m1 0h1m10 0h1m4 0h1m-1165 1h1m14 0h1m29 0h1m7 0h1m17 0h1m2 0h1m2 0h1m1 0h1m13 0h1m3 0h1m6 0h1m50 0h1m27 0h1m1 0h1m1 0h1m0 0h1m13 0h1m8 0h1m49 0h1m38 0h1m0 0h1m6 0h1m1 0h1m4 0h1m6 0h1m3 0h1m24 0h1m3 0h1m36 0h1m3 0h1m34 0h1m12 0h1m36 0h1m8 0h1m24 0h1m30 0h1m2 0h1m78 0h1m28 0h1m20 0h1m3 0h1m2 0h1m8 0h1m7 0h1m0 0h1m2 0h1m12 0h1m2 0h1m4 0h1m4 0h1m4 0h1m5 0h1m12 0h1m8 0h1m14 0h1m2 0h1m0 0h1m1 0h1m17 0h1m26 0h1m12 0h1m34 0h1m27 0h1m30 0h1m13 0h1m28 0h1m29 0h1m7 0h1m8 0h1m13 0h1m16 0h1m8 0h1m7 0h1m15 0h1m9 0h1m7 0h1m6 0h1m0 0h1m11 0h1m4 0h1m0 0h1m6 0h1m4 0h1m7 0h1m0 0h1m5 0h1m-1169 1h1m42 0h1m1 0h1m1 0h1m4 0h1m5 0h1m5 0h1m16 0h1m0 0h1m2 0h1m1 0h1m1 0h1m1 0h1m5 0h1m4 0h1m1 0h1m57 0h1m14 0h1m3 0h1m3 0h1m18 0h1m38 0h1m16 0h1m0 0h1m3 0h1m5 0h1m22 0h1m1 0h1m7 0h1m4 0h1m16 0h1m6 0h1m20 0h1m7 0h1m39 0h1m23 0h1m10 0h1m20 0h1m18 0h1m3 0h1m57 0h1m25 0h1m50 0h1m29 0h1m14 0h1m6 0h1m6 0h1m11 0h1m13 0h1m2 0h1m12 0h1m1 0h1m0 0h1m1 0h1m5 0h1m1 0h1m1 0h1m12 0h1m2 0h1m0 0h1m1 0h1m18 0h1m27 0h1m40 0h1m84 0h1m12 0h1m101 0h1m9 0h1m34 0h1m6 0h1m2 0h1m12 0h1m8 0h1m0 0h1m0 0h1m2 0h1m0 0h1m5 0h1m0 0h1m0 0h1m6 0h1m27 0h1m3 0h1m8 0h1m5 0h1m-1162 1h1m7 0h1m4 0h1m1 0h1m13 0h1m12 0h1m8 0h1m0 0h1m6 0h1m6 0h1m16 0h1m10 0h1m2 0h1m5 0h1m15 0h1m30 0h1m7 0h1m0 0h1m14 0h1m2 0h1m4 0h1m6 0h1m23 0h1m47 0h1m0 0h1m4 0h1m1 0h1m2 0h1m2 0h1m16 0h1m1 0h1m25 0h1m6 0h1m38 0h1m57 0h1m29 0h1m80 0h1m0 0h1m11 0h1m7 0h1m1 0h1m27 0h1m5 0h1m27 0h1m33 0h1m7 0h1m5 0h1m19 0h1m6 0h1m24 0h1m7 0h1m0 0h1m2 0h1m3 0h1m11 0h1m4 0h1m5 0h1m0 0h1m5 0h1m0 0h1m1 0h1m93 0h1m53 0h1m20 0h1m21 0h1m14 0h1m48 0h1m28 0h1m10 0h1m15 0h1m3 0h1m12 0h1m3 0h1m7 0h1m1 0h1m13 0h1m9 0h1m12 0h1m0 0h1m5 0h1m3 0h1m4 0h1m-1125 1h1m13 0h1m6 0h1m9 0h1m4 0h1m0 0h1m0 0h1m25 0h1m36 0h1m9 0h1m3 0h1m15 0h1m7 0h1m2 0h1m7 0h1m2 0h1m36 0h1m35 0h1m11 0h1m1 0h1m0 0h1m6 0h1m3 0h1m4 0h1m1 0h1m51 0h1m15 0h1m18 0h1m25 0h1m4 0h1m20 0h1m2 0h1m26 0h1m64 0h1m28 0h1m5 0h1m23 0h1m34 0h1m0 0h1m18 0h1m1 0h1m9 0h1m0 0h1m2 0h1m2 0h1m7 0h1m23 0h1m0 0h1m6 0h1m7 0h1m5 0h1m4 0h1m12 0h1m1 0h1m1 0h1m5 0h1m2 0h1m13 0h1m1 0h1m2 0h1m29 0h1m7 0h1m8 0h1m5 0h1m1 0h1m29 0h1m40 0h1m49 0h1m19 0h1m38 0h1m38 0h1m40 0h1m10 0h1m1 0h1m0 0h1m1 0h1m3 0h1m2 0h1m1 0h1m47 0h1m3 0h1m0 0h1m-1168 1h1m11 0h1m14 0h1m9 0h1m7 0h1m0 0h1m4 0h1m5 0h1m6 0h1m8 0h1m4 0h1m2 0h1m34 0h1m44 0h1m14 0h1m10 0h1m1 0h1m5 0h1m51 0h1m9 0h1m18 0h1m0 0h1m0 0h1m0 0h1m7 0h1m1 0h1m7 0h1m1 0h1m8 0h1m7 0h1m1 0h1m34 0h1m12 0h1m69 0h1m7 0h1m44 0h1m41 0h1m31 0h1m5 0h1m14 0h1m0 0h1m3 0h1m11 0h1m1 0h1m17 0h1m10 0h1m40 0h1m0 0h1m8 0h1m1 0h1m7 0h1m10 0h1m7 0h1m0 0h1m16 0h1m9 0h1m15 0h1m15 0h1m3 0h1m0 0h1m4 0h1m11 0h1m5 0h1m54 0h1m12 0h1m19 0h1m5 0h1m33 0h1m13 0h1m3 0h1m1 0h1m21 0h1m3 0h1m39 0h1m19 0h1m6 0h1m3 0h1m7 0h1m11 0h1m8 0h1m12 0h1m0 0h1m18 0h1m2 0h1m13 0h1m1 0h1m3 0h1m4 0h1m1 0h1m16 0h1m0 0h1m12 0h1m-1142 1h1m13 0h1m14 0h1m5 0h1m3 0h1m0 0h1m7 0h1m5 0h1m3 0h1m7 0h1m26 0h1m16 0h1m0 0h1m0 0h1m3 0h1m12 0h1m18 0h1m8 0h1m1 0h1m1 0h1m26 0h1m16 0h1m13 0h1m2 0h1m1 0h1m3 0h1m23 0h1m11 0h1m1 0h1m1 0h1m4 0h1m0 0h1m5 0h1m2 0h1m35 0h1m23 0h1m4 0h1m0 0h1m46 0h1m16 0h1m3 0h1m21 0h1m13 0h1m4 0h1m38 0h1m14 0h1m63 0h1m9 0h1m34 0h1m7 0h1m15 0h1m13 0h1m11 0h1m3 0h1m5 0h1m3 0h1m6 0h1m7 0h1m10 0h1m3 0h1m11 0h1m0 0h1m5 0h1m105 0h1m10 0h1m7 0h1m19 0h1m157 0h1m5 0h1m50 0h1m1 0h1m5 0h1m1 0h1m6 0h1m2 0h1m22 0h1m-1178 1h1m21 0h1m13 0h1m8 0h1m9 0h1m5 0h1m5 0h1m4 0h1m1 0h1m9 0h1m3 0h1m3 0h1m7 0h1m52 0h1m28 0h1m13 0h1m1 0h1m2 0h1m21 0h1m62 0h1m3 0h1m20 0h1m4 0h1m3 0h1m10 0h1m1 0h1m10 0h1m0 0h1m28 0h1m48 0h1m12 0h1m3 0h1m12 0h1m0 0h1m44 0h1m55 0h1m56 0h1m65 0h1m2 0h1m2 0h1m5 0h1m5 0h1m19 0h1m6 0h1m2 0h1m6 0h1m22 0h1m18 0h1m13 0h1m43 0h1m33 0h1m58 0h1m34 0h1m15 0h1m26 0h1m4 0h1m33 0h1m6 0h1m49 0h1m17 0h1m0 0h1m10 0h1m5 0h1m7 0h1m7 0h1m3 0h1m4 0h1m3 0h1m0 0h1m-1175 1h1m2 0h1m17 0h1m33 0h1m10 0h1m13 0h1m4 0h1m1 0h1m13 0h1m1 0h1m30 0h1m4 0h1m12 0h1m28 0h1m2 0h1m2 0h1m1 0h1m0 0h1m1 0h1m2 0h1m5 0h1m0 0h1m8 0h1m57 0h1m28 0h1m1 0h1m6 0h1m0 0h1m6 0h1m7 0h1m3 0h1m2 0h1m3 0h1m51 0h1m14 0h1m17 0h1m36 0h1m3 0h1m3 0h1m4 0h1m7 0h1m1 0h1m10 0h1m66 0h1m35 0h1m43 0h1m15 0h1m1 0h1m26 0h1m6 0h1m7 0h1m2 0h1m4 0h1m4 0h1m18 0h1m8 0h1m1 0h1m15 0h1m6 0h1m4 0h1m9 0h1m0 0h1m8 0h1m22 0h1m8 0h1m89 0h1m44 0h1m43 0h1m5 0h1m8 0h1m5 0h1m29 0h1m21 0h1m38 0h1m14 0h1m10 0h1m6 0h1m0 0h1m0 0h1m3 0h1m8 0h1m5 0h1m2 0h1m0 0h1m3 0h1m5 0h1m8 0h1m-1176 1h1m18 0h1m13 0h1m0 0h1m10 0h1m14 0h1m1 0h1m28 0h1m4 0h1m0 0h1m0 0h1m32 0h1m15 0h1m0 0h1m24 0h1m4 0h1m12 0h1m3 0h1m78 0h1m2 0h1m3 0h1m9 0h1m0 0h1m14 0h1m2 0h1m1 0h1m13 0h1m19 0h1m19 0h1m8 0h1m72 0h1m23 0h1m15 0h1m16 0h1m36 0h1m10 0h1m36 0h1m10 0h1m5 0h1m12 0h1m26 0h1m39 0h1m3 0h1m1 0h1m2 0h1m7 0h1m2 0h1m1 0h1m2 0h1m13 0h1m6 0h1m0 0h1m1 0h1m5 0h1m6 0h1m1 0h1m5 0h1m33 0h1m100 0h1m22 0h1m17 0h1m14 0h1m62 0h1m132 0h1m6 0h1m-1131 1h1m6 0h1m20 0h1m3 0h1m20 0h1m7 0h1m5 0h1m3 0h1m43 0h1m20 0h1m5 0h1m10 0h1m43 0h1m9 0h1m16 0h1m4 0h1m3 0h1m23 0h1m4 0h1m7 0h1m0 0h1m21 0h1m1 0h1m19 0h1m42 0h1m15 0h1m21 0h1m2 0h1m1 0h1m30 0h1m23 0h1m17 0h1m50 0h1m20 0h1m15 0h1m1 0h1m32 0h1m35 0h1m15 0h1m10 0h1m5 0h1m2 0h1m0 0h1m6 0h1m5 0h1m1 0h1m18 0h1m7 0h1m0 0h1m1 0h1m0 0h1m11 0h1m2 0h1m8 0h1m10 0h1m2 0h1m9 0h1m19 0h1m5 0h1m0 0h1m81 0h1m0 0h1m7 0h1m8 0h1m4 0h1m16 0h1m24 0h1m4 0h1m101 0h1m9 0h1m9 0h1m10 0h1m23 0h1m3 0h1m1 0h1m13 0h1m8 0h1m5 0h1m3 0h1m12 0h1m1 0h1m-1188 1h1m21 0h1m35 0h1m5 0h1m1 0h1m14 0h1m12 0h1m4 0h1m32 0h1m10 0h1m20 0h1m0 0h1m34 0h1m5 0h1m70 0h1m11 0h1m7 0h1m1 0h1m2 0h1m10 0h1m4 0h1m4 0h1m7 0h1m4 0h1m22 0h1m0 0h1m10 0h1m81 0h1m0 0h1m105 0h1m0 0h1m1 0h1m75 0h1m4 0h1m20 0h1m33 0h1m13 0h1m3 0h1m11 0h1m5 0h1m2 0h1m1 0h1m2 0h1m0 0h1m8 0h1m9 0h1m6 0h1m49 0h1m5 0h1m53 0h1m0 0h1m27 0h1m29 0h1m56 0h1m47 0h1m15 0h1m5 0h1m61 0h1m1 0h1m11 0h1m2 0h1m4 0h1m4 0h1m1 0h1m1 0h1m3 0h1m1 0h1m3 0h1m2 0h1m0 0h1m3 0h1m0 0h1m1 0h1m1 0h1m0 0h1m-1179 1h1m63 0h1m0 0h1m18 0h1m3 0h1m8 0h1m1 0h1m6 0h1m0 0h1m16 0h1m2 0h1m23 0h1m43 0h1m3 0h1m1 0h1m1 0h1m17 0h1m19 0h1m49 0h1m2 0h1m0 0h1m0 0h1m7 0h1m16 0h1m7 0h1m71 0h1m28 0h1m66 0h1m34 0h1m20 0h1m26 0h1m7 0h1m28 0h1m59 0h1m7 0h1m25 0h1m4 0h1m2 0h1m0 0h1m7 0h1m0 0h1m2 0h1m6 0h1m4 0h1m0 0h1m2 0h1m1 0h1m0 0h1m4 0h1m1 0h1m3 0h1m4 0h1m54 0h1m94 0h1m0 0h1m19 0h1m25 0h1m0 0h1m0 0h1m103 0h1m16 0h1m26 0h1m23 0h1m5 0h1m0 0h1m5 0h1m9 0h1m6 0h1m2 0h1m2 0h1m1 0h1m1 0h1m-1140 1h1m11 0h1m1 0h1m1 0h1m8 0h1m15 0h1m7 0h1m2 0h1m3 0h1m11 0h1m11 0h1m3 0h1m36 0h1m5 0h1m12 0h1m13 0h1m0 0h1m11 0h1m88 0h1m2 0h1m17 0h1m34 0h1m32 0h1m3 0h1m4 0h1m46 0h1m8 0h1m7 0h1m45 0h1m45 0h1m30 0h1m31 0h1m21 0h1m19 0h1m37 0h1m4 0h1m2 0h1m5 0h1m2 0h1m0 0h1m2 0h1m13 0h1m2 0h1m1 0h1m3 0h1m11 0h1m1 0h1m14 0h1m24 0h1m35 0h1m18 0h1m36 0h1m59 0h1m8 0h1m6 0h1m49 0h1m0 0h1m1 0h1m3 0h1m10 0h1m6 0h1m73 0h1m14 0h1m3 0h1m8 0h1m1 0h1m3 0h1m12 0h1m1 0h1m-1138 1h1m27 0h1m4 0h1m17 0h1m3 0h1m2 0h1m11 0h1m48 0h1m24 0h1m14 0h1m0 0h1m6 0h1m12 0h1m0 0h1m0 0h1m2 0h1m18 0h1m19 0h1m27 0h1m3 0h1m19 0h1m3 0h1m26 0h1m1 0h1m3 0h1m3 0h1m19 0h1m22 0h1m2 0h1m37 0h1m39 0h1m5 0h1m64 0h1m13 0h1m2 0h1m2 0h1m2 0h1m23 0h1m14 0h1m16 0h1m13 0h1m18 0h1m38 0h1m13 0h1m16 0h1m1 0h1m1 0h1m0 0h1m4 0h1m4 0h1m7 0h1m4 0h1m13 0h1m1 0h1m11 0h1m12 0h1m106 0h1m40 0h1m7 0h1m1 0h1m88 0h1m17 0h1m17 0h1m8 0h1m33 0h1m12 0h1m10 0h1m24 0h1m0 0h1m10 0h1m2 0h1m0 0h1m-1176 1h1m17 0h1m32 0h1m1 0h1m1 0h1m4 0h1m1 0h1m3 0h1m2 0h1m8 0h1m19 0h1m18 0h1m53 0h1m11 0h1m11 0h1m7 0h1m3 0h1m29 0h1m26 0h1m20 0h1m13 0h1m1 0h1m1 0h1m9 0h1m10 0h1m2 0h1m0 0h1m22 0h1m2 0h1m43 0h1m26 0h1m15 0h1m20 0h1m9 0h1m6 0h1m15 0h1m38 0h1m6 0h1m15 0h1m20 0h1m1 0h1m22 0h1m2 0h1m22 0h1m52 0h1m35 0h1m1 0h1m0 0h1m7 0h1m6 0h1m0 0h1m1 0h1m3 0h1m6 0h1m9 0h1m4 0h1m5 0h1m15 0h1m31 0h1m10 0h1m21 0h1m20 0h1m48 0h1m36 0h1m16 0h1m35 0h1m13 0h1m2 0h1m13 0h1m78 0h1m49 0h1m1 0h1m4 0h1m-1161 1h1m0 0h1m16 0h1m16 0h1m3 0h1m7 0h1m0 0h1m6 0h1m7 0h1m3 0h1m10 0h1m3 0h1m1 0h1m60 0h1m19 0h1m14 0h1m9 0h1m2 0h1m9 0h1m25 0h1m36 0h1m16 0h1m9 0h1m3 0h1m11 0h1m50 0h1m26 0h1m3 0h1m21 0h1m20 0h1m7 0h1m19 0h1m14 0h1m9 0h1m23 0h1m2 0h1m50 0h1m31 0h1m20 0h1m48 0h1m6 0h1m12 0h1m6 0h1m6 0h1m10 0h1m3 0h1m2 0h1m0 0h1m3 0h1m5 0h1m1 0h1m18 0h1m9 0h1m31 0h1m7 0h1m0 0h1m1 0h1m9 0h1m18 0h1m12 0h1m8 0h1m81 0h1m8 0h1m5 0h1m11 0h1m1 0h1m19 0h1m6 0h1m21 0h1m15 0h1m13 0h1m3 0h1m-1039 1h1m37 0h1m8 0h1m6 0h1m1 0h1m6 0h1m25 0h1m68 0h1m0 0h1m0 0h1m11 0h1m25 0h1m15 0h1m21 0h1m5 0h1m115 0h1m66 0h1m5 0h1m37 0h1m35 0h1m128 0h1m35 0h1m14 0h1m41 0h1m19 0h1m15 0h1m19 0h1m0 0h1m62 0h1m32 0h1m8 0h1m7 0h1m5 0h1m19 0h1m40 0h1m0 0h1m11 0h1m5 0h1m13 0h1m32 0h1m15 0h1m4 0h1m74 0h1m10 0h1m-1171 1h1m18 0h1m20 0h1m6 0h1m0 0h1m2 0h1m4 0h1m21 0h1m7 0h1m3 0h1m4 0h1m10 0h1m0 0h1m5 0h1m42 0h1m7 0h1m1 0h1m16 0h1m15 0h1m22 0h1m51 0h1m5 0h1m8 0h1m16 0h1m2 0h1m4 0h1m51 0h1m1 0h1m13 0h1m0 0h1m21 0h1m6 0h1m41 0h1m11 0h1m0 0h1m9 0h1m8 0h1m6 0h1m0 0h1m73 0h1m4 0h1m15 0h1m133 0h1m4 0h1m16 0h1m43 0h1m20 0h1m22 0h1m16 0h1m76 0h1m30 0h1m2 0h1m11 0h1m5 0h1m5 0h1m28 0h1m8 0h1m10 0h1m2 0h1m124 0h1m6 0h1m-1124 1h1m2 0h1m9 0h1m5 0h1m1 0h1m41 0h1m3 0h1m9 0h1m64 0h1m0 0h1m17 0h1m3 0h1m29 0h1m35 0h1m51 0h1m0 0h1m0 0h1m12 0h1m22 0h1m7 0h1m18 0h1m6 0h1m3 0h1m36 0h1m0 0h1m30 0h1m35 0h1m5 0h1m14 0h1m10 0h1m20 0h1m23 0h1m9 0h1m70 0h1m24 0h1m5 0h1m31 0h1m15 0h1m28 0h1m2 0h1m19 0h1m27 0h1m22 0h1m71 0h1m11 0h1m14 0h1m15 0h1m49 0h1m5 0h1m7 0h1m11 0h1m8 0h1m29 0h1m44 0h1m2 0h1m44 0h1m-1158 1h1m8 0h1m25 0h1m4 0h1m16 0h1m3 0h1m3 0h1m3 0h1m1 0h1m5 0h1m11 0h1m3 0h1m24 0h1m18 0h1m9 0h1m10 0h1m17 0h1m10 0h1m0 0h1m4 0h1m1 0h1m56 0h1m10 0h1m10 0h1m5 0h1m5 0h1m5 0h1m2 0h1m5 0h1m7 0h1m23 0h1m6 0h1m18 0h1m22 0h1m7 0h1m3 0h1m14 0h1m32 0h1m67 0h1m75 0h1m20 0h1m0 0h1m20 0h1m18 0h1m7 0h1m17 0h1m12 0h1m20 0h1m2 0h1m1 0h1m49 0h1m10 0h1m35 0h1m60 0h1m23 0h1m18 0h1m13 0h1m36 0h1m45 0h1m13 0h1m7 0h1m67 0h1m11 0h1m32 0h1m-1152 1h1m30 0h1m11 0h1m6 0h1m13 0h1m11 0h1m4 0h1m0 0h1m4 0h1m17 0h1m1 0h1m7 0h1m43 0h1m9 0h1m13 0h1m0 0h1m7 0h1m9 0h1m27 0h1m32 0h1m17 0h1m1 0h1m4 0h1m26 0h1m41 0h1m105 0h1m2 0h1m4 0h1m1 0h1m25 0h1m11 0h1m7 0h1m8 0h1m21 0h1m32 0h1m8 0h1m6 0h1m10 0h1m20 0h1m5 0h1m12 0h1m29 0h1m2 0h1m8 0h1m26 0h1m8 0h1m23 0h1m15 0h1m82 0h1m39 0h1m3 0h1m33 0h1m21 0h1m36 0h1m37 0h1m36 0h1m28 0h1m4 0h1m10 0h1m19 0h1m-1095 1h1m2 0h1m7 0h1m4 0h1m31 0h1m3 0h1m16 0h1m70 0h1m5 0h1m39 0h1m7 0h1m22 0h1m5 0h1m0 0h1m3 0h1m5 0h1m15 0h1m9 0h1m11 0h1m1 0h1m6 0h1m1 0h1m0 0h1m8 0h1m21 0h1m21 0h1m24 0h1m32 0h1m30 0h1m3 0h1m1 0h1m26 0h1m80 0h1m48 0h1m13 0h1m15 0h1m24 0h1m3 0h1m3 0h1m1 0h1m13 0h1m6 0h1m5 0h1m14 0h1m9 0h1m70 0h1m2 0h1m16 0h1m44 0h1m22 0h1m7 0h1m75 0h1m34 0h1m15 0h1m78 0h1m14 0h1m38 0h1m5 0h1m-1172 1h1m9 0h1m5 0h1m37 0h1m4 0h1m49 0h1m4 0h1m3 0h1m1 0h1m62 0h1m13 0h1m46 0h1m1 0h1m11 0h1m5 0h1m10 0h1m6 0h1m7 0h1m4 0h1m10 0h1m1 0h1m0 0h1m6 0h1m2 0h1m5 0h1m25 0h1m65 0h1m7 0h1m26 0h1m28 0h1m26 0h1m23 0h1m10 0h1m28 0h1m0 0h1m7 0h1m26 0h1m0 0h1m19 0h1m9 0h1m1 0h1m4 0h1m11 0h1m1 0h1m34 0h1m17 0h1m0 0h1m33 0h1m18 0h1m12 0h1m17 0h1m5 0h1m50 0h1m2 0h1m2 0h1m11 0h1m25 0h1m15 0h1m16 0h1m54 0h1m22 0h1m9 0h1m43 0h1m3 0h1m3 0h1m10 0h1m4 0h1m24 0h1m20 0h1m-1134 1h1m37 0h1m6 0h1m3 0h1m22 0h1m2 0h1m5 0h1m1 0h1m6 0h1m14 0h1m17 0h1m23 0h1m3 0h1m27 0h1m2 0h1m0 0h1m19 0h1m14 0h1m52 0h1m3 0h1m2 0h1m6 0h1m27 0h1m0 0h1m1 0h1m30 0h1m5 0h1m2 0h1m33 0h1m45 0h1m9 0h1m11 0h1m52 0h1m34 0h1m2 0h1m26 0h1m50 0h1m81 0h1m65 0h1m27 0h1m8 0h1m11 0h1m10 0h1m8 0h1m30 0h1m46 0h1m22 0h1m17 0h1m4 0h1m12 0h1m18 0h1m16 0h1m13 0h1m33 0h1m7 0h1m48 0h1m16 0h1m-1150 1h1m2 0h1m16 0h1m23 0h1m20 0h1m3 0h1m2 0h1m5 0h1m3 0h1m8 0h1m0 0h1m1 0h1m21 0h1m14 0h1m11 0h1m8 0h1m9 0h1m18 0h1m7 0h1m36 0h1m45 0h1m21 0h1m1 0h1m16 0h1m1 0h1m17 0h1m61 0h1m63 0h1m61 0h1m10 0h1m13 0h1m58 0h1m0 0h1m26 0h1m26 0h1m42 0h1m74 0h1m18 0h1m36 0h1m5 0h1m6 0h1m25 0h1m31 0h1m11 0h1m18 0h1m10 0h1m8 0h1m18 0h1m30 0h1m14 0h1m41 0h1m38 0h1m73 0h1m-1158 1h1m27 0h1m44 0h1m31 0h1m55 0h1m22 0h1m39 0h1m10 0h1m16 0h1m11 0h1m3 0h1m9 0h1m19 0h1m31 0h1m35 0h1m4 0h1m112 0h1m11 0h1m12 0h1m22 0h1m13 0h1m9 0h1m4 0h1m3 0h1m0 0h1m12 0h1m5 0h1m10 0h1m8 0h1m57 0h1m21 0h1m0 0h1m6 0h1m46 0h1m59 0h1m14 0h1m3 0h1m58 0h1m10 0h1m31 0h1m2 0h1m19 0h1m54 0h1m37 0h1m38 0h1m16 0h1m-1103 1h1m38 0h1m12 0h1m3 0h1m1 0h1m2 0h1m0 0h1m8 0h1m1 0h1m2 0h1m14 0h1m22 0h1m0 0h1m31 0h1m54 0h1m13 0h1m34 0h1m0 0h1m9 0h1m13 0h1m0 0h1m15 0h1m11 0h1m3 0h1m3 0h1m3 0h1m27 0h1m3 0h1m12 0h1m2 0h1m17 0h1m9 0h1m1 0h1m1 0h1m49 0h1m0 0h1m8 0h1m9 0h1m63 0h1m25 0h1m53 0h1m3 0h1m8 0h1m32 0h1m4 0h1m15 0h1m19 0h1m37 0h1m14 0h1m8 0h1m56 0h1m17 0h1m25 0h1m98 0h1m3 0h1m23 0h1m13 0h1m0 0h1m44 0h1m39 0h1m0 0h1m26 0h1m28 0h1m7 0h1m-1170 1h1m11 0h1m24 0h1m11 0h1m2 0h1m5 0h1m3 0h1m8 0h1m7 0h1m18 0h1m1 0h1m6 0h1m9 0h1m0 0h1m60 0h1m23 0h1m8 0h1m22 0h1m9 0h1m6 0h1m44 0h1m11 0h1m1 0h1m2 0h1m9 0h1m9 0h1m4 0h1m25 0h1m3 0h1m14 0h1m41 0h1m19 0h1m31 0h1m19 0h1m26 0h1m52 0h1m58 0h1m59 0h1m29 0h1m32 0h1m24 0h1m5 0h1m2 0h1m6 0h1m3 0h1m7 0h1m3 0h1m21 0h1m4 0h1m0 0h1m75 0h1m15 0h1m8 0h1m5 0h1m7 0h1m2 0h1m11 0h1m27 0h1m20 0h1m76 0h1m2 0h1m5 0h1m25 0h1m40 0h1m-1132 1h1m6 0h1m7 0h1m7 0h1m0 0h1m1 0h1m27 0h1m1 0h1m1 0h1m10 0h1m21 0h1m9 0h1m25 0h1m6 0h1m5 0h1m0 0h1m0 0h1m9 0h1m21 0h1m26 0h1m15 0h1m2 0h1m23 0h1m4 0h1m0 0h1m6 0h1m7 0h1m7 0h1m5 0h1m4 0h1m0 0h1m7 0h1m4 0h1m16 0h1m33 0h1m105 0h1m25 0h1m28 0h1m16 0h1m6 0h1m31 0h1m15 0h1m1 0h1m38 0h1m29 0h1m2 0h1m2 0h1m5 0h1m12 0h1m16 0h1m13 0h1m2 0h1m33 0h1m4 0h1m6 0h1m12 0h1m36 0h1m28 0h1m11 0h1m17 0h1m9 0h1m16 0h1m63 0h1m30 0h1m64 0h1m7 0h1m43 0h1m-1123 1h1m4 0h1m9 0h1m1 0h1m2 0h1m0 0h1m2 0h1m10 0h1m2 0h1m0 0h1m8 0h1m4 0h1m7 0h1m19 0h1m25 0h1m71 0h1m20 0h1m61 0h1m2 0h1m0 0h1m1 0h1m0 0h1m6 0h1m0 0h1m4 0h1m9 0h1m0 0h1m4 0h1m18 0h1m4 0h1m10 0h1m21 0h1m87 0h1m4 0h1m7 0h1m0 0h1m8 0h1m1 0h1m133 0h1m34 0h1m7 0h1m93 0h1m5 0h1m20 0h1m41 0h1m0 0h1m4 0h1m2 0h1m30 0h1m21 0h1m13 0h1m31 0h1m15 0h1m70 0h1m2 0h1m6 0h1m0 0h1m14 0h1m10 0h1m-1016 1h1m7 0h1m1 0h1m2 0h1m1 0h1m1 0h1m7 0h1m4 0h1m9 0h1m2 0h1m16 0h1m11 0h1m59 0h1m11 0h1m13 0h1m14 0h1m16 0h1m7 0h1m9 0h1m25 0h1m8 0h1m0 0h1m9 0h1m9 0h1m2 0h1m41 0h1m2 0h1m26 0h1m59 0h1m35 0h1m48 0h1m58 0h1m12 0h1m45 0h1m147 0h1m25 0h1m2 0h1m19 0h1m3 0h1m4 0h1m25 0h1m4 0h1m7 0h1m68 0h1m5 0h1m4 0h1m74 0h1m3 0h1m26 0h1m23 0h1m10 0h1m28 0h1m32 0h1m0 0h1m-1164 1h1m27 0h1m17 0h1m8 0h1m0 0h1m10 0h1m18 0h1m1 0h1m43 0h1m7 0h1m9 0h1m20 0h1m9 0h1m1 0h1m16 0h1m6 0h1m42 0h1m7 0h1m1 0h1m15 0h1m3 0h1m2 0h1m4 0h1m4 0h1m9 0h1m13 0h1m18 0h1m13 0h1m45 0h1m21 0h1m24 0h1m7 0h1m77 0h1m55 0h1m0 0h1m10 0h1m5 0h1m8 0h1m44 0h1m32 0h1m2 0h1m3 0h1m2 0h1m25 0h1m0 0h1m51 0h1m18 0h1m4 0h1m11 0h1m1 0h1m9 0h1m15 0h1m53 0h1m51 0h1m11 0h1m116 0h1m13 0h1m41 0h1m-1157 1h1m37 0h1m15 0h1m4 0h1m1 0h1m1 0h1m6 0h1m6 0h1m9 0h1m4 0h1m4 0h1m3 0h1m5 0h1m3 0h1m27 0h1m40 0h1m17 0h1m7 0h1m3 0h1m2 0h1m32 0h1m3 0h1m12 0h1m0 0h1m1 0h1m9 0h1m17 0h1m0 0h1m13 0h1m3 0h1m3 0h1m1 0h1m11 0h1m5 0h1m24 0h1m20 0h1m3 0h1m6 0h1m15 0h1m11 0h1m20 0h1m14 0h1m37 0h1m10 0h1m6 0h1m35 0h1m9 0h1m2 0h1m22 0h1m8 0h1m7 0h1m13 0h1m25 0h1m37 0h1m19 0h1m7 0h1m7 0h1m4 0h1m10 0h1m1 0h1m4 0h1m7 0h1m32 0h1m9 0h1m143 0h1m16 0h1m10 0h1m0 0h1m24 0h1m10 0h1m27 0h1m17 0h1m11 0h1m40 0h1m12 0h1m49 0h1m13 0h1m-1168 1h1m29 0h1m19 0h1m4 0h1m5 0h1m0 0h1m0 0h1m97 0h1m18 0h1m2 0h1m5 0h1m1 0h1m60 0h1m1 0h1m6 0h1m0 0h1m19 0h1m10 0h1m5 0h1m12 0h1m5 0h1m14 0h1m1 0h1m4 0h1m11 0h1m2 0h1m46 0h1m14 0h1m8 0h1m18 0h1m5 0h1m15 0h1m13 0h1m7 0h1m18 0h1m67 0h1m1 0h1m3 0h1m38 0h1m54 0h1m3 0h1m2 0h1m24 0h1m0 0h1m28 0h1m7 0h1m44 0h1m15 0h1m64 0h1m19 0h1m2 0h1m41 0h1m7 0h1m0 0h1m11 0h1m22 0h1m29 0h1m159 0h1m-1150 1h1m36 0h1m5 0h1m13 0h1m9 0h1m6 0h1m84 0h1m19 0h1m30 0h1m5 0h1m0 0h1m15 0h1m15 0h1m7 0h1m13 0h1m20 0h1m3 0h1m30 0h1m86 0h1m15 0h1m30 0h1m19 0h1m35 0h1m46 0h1m57 0h1m15 0h1m16 0h1m19 0h1m25 0h1m37 0h1m31 0h1m7 0h1m5 0h1m18 0h1m3 0h1m6 0h1m3 0h1m19 0h1m10 0h1m80 0h1m6 0h1m3 0h1m80 0h1m3 0h1m91 0h1m32 0h1m-1138 1h1m1 0h1m0 0h1m0 0h1m0 0h1m2 0h1m8 0h1m1 0h1m3 0h1m3 0h1m10 0h1m1 0h1m8 0h1m2 0h1m5 0h1m3 0h1m2 0h1m79 0h1m14 0h1m16 0h1m15 0h1m1 0h1m13 0h1m0 0h1m18 0h1m1 0h1m13 0h1m6 0h1m1 0h1m6 0h1m8 0h1m0 0h1m3 0h1m15 0h1m12 0h1m10 0h1m4 0h1m1 0h1m12 0h1m184 0h1m22 0h1m5 0h1m0 0h1m15 0h1m20 0h1m22 0h1m24 0h1m8 0h1m2 0h1m9 0h1m8 0h1m92 0h1m5 0h1m23 0h1m32 0h1m27 0h1m23 0h1m51 0h1m2 0h1m21 0h1m5 0h1m26 0h1m1 0h1m40 0h1m84 0h1m-1157 1h1m0 0h1m9 0h1m11 0h1m23 0h1m2 0h1m9 0h1m2 0h1m0 0h1m8 0h1m14 0h1m7 0h1m3 0h1m7 0h1m17 0h1m1 0h1m10 0h1m64 0h1m65 0h1m0 0h1m27 0h1m16 0h1m50 0h1m20 0h1m41 0h1m55 0h1m29 0h1m24 0h1m4 0h1m23 0h1m27 0h1m98 0h1m40 0h1m7 0h1m0 0h1m20 0h1m34 0h1m3 0h1m16 0h1m0 0h1m10 0h1m11 0h1m6 0h1m27 0h1m5 0h1m1 0h1m2 0h1m14 0h1m8 0h1m12 0h1m44 0h1m5 0h1m27 0h1m16 0h1m30 0h1m14 0h1m7 0h1m28 0h1m17 0h1m9 0h1m41 0h1m-1169 1h1m74 0h1m1 0h1m13 0h1m40 0h1m1 0h1m24 0h1m25 0h1m69 0h1m11 0h1m3 0h1m20 0h1m2 0h1m1 0h1m12 0h1m8 0h1m10 0h1m34 0h1m0 0h1m5 0h1m4 0h1m38 0h1m9 0h1m16 0h1m20 0h1m4 0h1m2 0h1m43 0h1m31 0h1m11 0h1m9 0h1m25 0h1m40 0h1m1 0h1m9 0h1m28 0h1m59 0h1m17 0h1m3 0h1m44 0h1m53 0h1m8 0h1m28 0h1m3 0h1m56 0h1m39 0h1m22 0h1m7 0h1m30 0h1m2 0h1m15 0h1m0 0h1m43 0h1m11 0h1m25 0h1m-1130 1h1m3 0h1m2 0h1m13 0h1m9 0h1m0 0h1m16 0h1m0 0h1m5 0h1m2 0h1m11 0h1m20 0h1m10 0h1m40 0h1m96 0h1m25 0h1m5 0h1m5 0h1m18 0h1m33 0h1m15 0h1m24 0h1m24 0h1m3 0h1m17 0h1m2 0h1m27 0h1m2 0h1m11 0h1m9 0h1m83 0h1m2 0h1m6 0h1m16 0h1m21 0h1m36 0h1m4 0h1m88 0h1m3 0h1m32 0h1m1 0h1m20 0h1m13 0h1m0 0h1m7 0h1m7 0h1m55 0h1m32 0h1m8 0h1m1 0h1m36 0h1m8 0h1m1 0h1m6 0h1m16 0h1m12 0h1m3 0h1m56 0h1m8 0h1m3 0h1m8 0h1m18 0h1m5 0h1m-1149 1h1m3 0h1m6 0h1m18 0h1m0 0h1m1 0h1m2 0h1m16 0h1m10 0h1m9 0h1m13 0h1m16 0h1m24 0h1m0 0h1m16 0h1m38 0h1m36 0h1m7 0h1m17 0h1m12 0h1m4 0h1m4 0h1m5 0h1m0 0h1m2 0h1m0 0h1m8 0h1m0 0h1m3 0h1m20 0h1m6 0h1m25 0h1m10 0h1m14 0h1m12 0h1m16 0h1m23 0h1m25 0h1m15 0h1m5 0h1m23 0h1m10 0h1m47 0h1m18 0h1m8 0h1m42 0h1m43 0h1m10 0h1m8 0h1m12 0h1m29 0h1m26 0h1m3 0h1m11 0h1m0 0h1m9 0h1m37 0h1m37 0h1m67 0h1m95 0h1m13 0h1m3 0h1m13 0h1m13 0h1m41 0h1m17 0h1m1 0h1m8 0h1m-1170 1h1m3 0h1m14 0h1m21 0h1m4 0h1m4 0h1m0 0h1m1 0h1m3 0h1m12 0h1m2 0h1m3 0h1m4 0h1m7 0h1m5 0h1m1 0h1m8 0h1m2 0h1m17 0h1m34 0h1m16 0h1m2 0h1m2 0h1m2 0h1m1 0h1m1 0h1m27 0h1m17 0h1m4 0h1m22 0h1m14 0h1m6 0h1m3 0h1m0 0h1m6 0h1m15 0h1m45 0h1m5 0h1m11 0h1m11 0h1m12 0h1m2 0h1m6 0h1m22 0h1m1 0h1m19 0h1m25 0h1m48 0h1m19 0h1m8 0h1m8 0h1m22 0h1m5 0h1m6 0h1m3 0h1m13 0h1m5 0h1m13 0h1m9 0h1m32 0h1m6 0h1m14 0h1m6 0h1m6 0h1m67 0h1m2 0h1m33 0h1m4 0h1m10 0h1m45 0h1m7 0h1m15 0h1m18 0h1m26 0h1m57 0h1m13 0h1m23 0h1m29 0h1m27 0h1m34 0h1m11 0h1m-1138 1h1m17 0h1m0 0h1m12 0h1m1 0h1m14 0h1m23 0h1m6 0h1m22 0h1m23 0h1m1 0h1m37 0h1m2 0h1m81 0h1m3 0h1m0 0h1m4 0h1m14 0h1m20 0h1m1 0h1m27 0h1m26 0h1m27 0h1m25 0h1m16 0h1m15 0h1m48 0h1m28 0h1m32 0h1m4 0h1m2 0h1m2 0h1m7 0h1m26 0h1m4 0h1m24 0h1m45 0h1m16 0h1m43 0h1m21 0h1m17 0h1m1 0h1m41 0h1m23 0h1m25 0h1m56 0h1m45 0h1m2 0h1m20 0h1m76 0h1m6 0h1m49 0h1m1 0h1m-1157 1h1m9 0h1m1 0h1m9 0h1m31 0h1m7 0h1m16 0h1m1 0h1m28 0h1m28 0h1m52 0h1m2 0h1m6 0h1m28 0h1m0 0h1m22 0h1m0 0h1m6 0h1m13 0h1m7 0h1m7 0h1m11 0h1m0 0h1m4 0h1m34 0h1m8 0h1m83 0h1m21 0h1m22 0h1m70 0h1m3 0h1m9 0h1m126 0h1m13 0h1m5 0h1m13 0h1m1 0h1m25 0h1m0 0h1m105 0h1m44 0h1m34 0h1m1 0h1m0 0h1m15 0h1m24 0h1m9 0h1m45 0h1m10 0h1m80 0h1m-1117 1h1m5 0h1m6 0h1m2 0h1m16 0h1m0 0h1m12 0h1m1 0h1m26 0h1m4 0h1m65 0h1m28 0h1m6 0h1m34 0h1m0 0h1m27 0h1m20 0h1m5 0h1m0 0h1m5 0h1m2 0h1m2 0h1m38 0h1m89 0h1m5 0h1m19 0h1m3 0h1m33 0h1m13 0h1m5 0h1m11 0h1m50 0h1m0 0h1m58 0h1m16 0h1m89 0h1m56 0h1m14 0h1m10 0h1m44 0h1m22 0h1m1 0h1m27 0h1m15 0h1m73 0h1m10 0h1m12 0h1m14 0h1m29 0h1m3 0h1m14 0h1m32 0h1m4 0h1m15 0h1m-1164 1h1m9 0h1m26 0h1m7 0h1m10 0h1m12 0h1m19 0h1m0 0h1m0 0h1m28 0h1m61 0h1m4 0h1m0 0h1m12 0h1m9 0h1m14 0h1m19 0h1m33 0h1m5 0h1m4 0h1m0 0h1m6 0h1m2 0h1m27 0h1m29 0h1m3 0h1m17 0h1m10 0h1m54 0h1m59 0h1m24 0h1m6 0h1m9 0h1m39 0h1m41 0h1m104 0h1m8 0h1m6 0h1m4 0h1m3 0h1m10 0h1m9 0h1m62 0h1m59 0h1m14 0h1m3 0h1m36 0h1m5 0h1m5 0h1m108 0h1m-1089 1h1m13 0h1m23 0h1m4 0h1m5 0h1m5 0h1m4 0h1m8 0h1m2 0h1m17 0h1m8 0h1m65 0h1m14 0h1m64 0h1m10 0h1m23 0h1m3 0h1m7 0h1m5 0h1m7 0h1m4 0h1m2 0h1m2 0h1m58 0h1m20 0h1m19 0h1m15 0h1m28 0h1m4 0h1m19 0h1m16 0h1m4 0h1m22 0h1m1 0h1m40 0h1m19 0h1m1 0h1m0 0h1m35 0h1m14 0h1m31 0h1m9 0h1m2 0h1m5 0h1m45 0h1m22 0h1m32 0h1m7 0h1m35 0h1m6 0h1m12 0h1m35 0h1m13 0h1m51 0h1m15 0h1m1 0h1m42 0h1m4 0h1m7 0h1m8 0h1m80 0h1m8 0h1m37 0h1m-1179 1h1m8 0h1m9 0h1m12 0h1m13 0h1m0 0h1m0 0h1m16 0h1m3 0h1m9 0h1m24 0h1m8 0h1m5 0h1m23 0h1m14 0h1m20 0h1m1 0h1m1 0h1m16 0h1m4 0h1m11 0h1m3 0h1m35 0h1m10 0h1m4 0h1m10 0h1m0 0h1m2 0h1m12 0h1m9 0h1m9 0h1m23 0h1m9 0h1m11 0h1m10 0h1m44 0h1m61 0h1m51 0h1m35 0h1m15 0h1m59 0h1m42 0h1m38 0h1m0 0h1m1 0h1m7 0h1m0 0h1m64 0h1m11 0h1m5 0h1m21 0h1m13 0h1m23 0h1m3 0h1m81 0h1m2 0h1m26 0h1m2 0h1m7 0h1m10 0h1m54 0h1m38 0h1m28 0h1m19 0h1m-1159 1h1m10 0h1m16 0h1m12 0h1m7 0h1m0 0h1m51 0h1m7 0h1m24 0h1m10 0h1m8 0h1m2 0h1m22 0h1m5 0h1m0 0h1m19 0h1m27 0h1m6 0h1m35 0h1m2 0h1m1 0h1m18 0h1m8 0h1m29 0h1m75 0h1m6 0h1m9 0h1m9 0h1m27 0h1m26 0h1m60 0h1m13 0h1m5 0h1m43 0h1m22 0h1m12 0h1m66 0h1m4 0h1m53 0h1m29 0h1m59 0h1m10 0h1m22 0h1m54 0h1m27 0h1m35 0h1m4 0h1m33 0h1m-1052 1h1m19 0h1m1 0h1m1 0h1m6 0h1m11 0h1m3 0h1m5 0h1m15 0h1m2 0h1m41 0h1m10 0h1m24 0h1m9 0h1m4 0h1m2 0h1m11 0h1m7 0h1m47 0h1m17 0h1m32 0h1m7 0h1m12 0h1m11 0h1m125 0h1m6 0h1m124 0h1m30 0h1m52 0h1m3 0h1m6 0h1m34 0h1m13 0h1m27 0h1m23 0h1m3 0h1m63 0h1m1 0h1m7 0h1m0 0h1m18 0h1m49 0h1m3 0h1m7 0h1m41 0h1m23 0h1m20 0h1m14 0h1m3 0h1m11 0h1m13 0h1m-1084 1h1m18 0h1m1 0h1m4 0h1m7 0h1m1 0h1m1 0h1m9 0h1m3 0h1m7 0h1m7 0h1m0 0h1m0 0h1m5 0h1m7 0h1m0 0h1m4 0h1m1 0h1m39 0h1m9 0h1m25 0h1m6 0h1m86 0h1m16 0h1m1 0h1m1 0h1m1 0h1m15 0h1m0 0h1m8 0h1m58 0h1m5 0h1m21 0h1m31 0h1m18 0h1m64 0h1m0 0h1m18 0h1m88 0h1m3 0h1m37 0h1m0 0h1m9 0h1m21 0h1m28 0h1m65 0h1m31 0h1m27 0h1m6 0h1m31 0h1m14 0h1m22 0h1m78 0h1m0 0h1m42 0h1m19 0h1m36 0h1m12 0h1m37 0h1m-1169 1h1m50 0h1m1 0h1m4 0h1m3 0h1m4 0h1m2 0h1m6 0h1m0 0h1m8 0h1m2 0h1m2 0h1m1 0h1m6 0h1m26 0h1m54 0h1m41 0h1m6 0h1m49 0h1m9 0h1m6 0h1m22 0h1m44 0h1m30 0h1m7 0h1m3 0h1m65 0h1m60 0h1m8 0h1m59 0h1m5 0h1m29 0h1m23 0h1m2 0h1m24 0h1m0 0h1m3 0h1m5 0h1m1 0h1m0 0h1m9 0h1m30 0h1m12 0h1m12 0h1m8 0h1m19 0h1m88 0h1m16 0h1m7 0h1m2 0h1m49 0h1m18 0h1m40 0h1m10 0h1m54 0h1m0 0h1m0 0h1m31 0h1m27 0h1m-1130 1h1m17 0h1m4 0h1m2 0h1m19 0h1m0 0h1m0 0h1m0 0h1m9 0h1m41 0h1m24 0h1m21 0h1m6 0h1m1 0h1m5 0h1m14 0h1m8 0h1m10 0h1m33 0h1m17 0h1m5 0h1m6 0h1m0 0h1m11 0h1m18 0h1m8 0h1m71 0h1m2 0h1m5 0h1m37 0h1m17 0h1m4 0h1m7 0h1m33 0h1m16 0h1m21 0h1m16 0h1m9 0h1m11 0h1m2 0h1m29 0h1m5 0h1m8 0h1m39 0h1m9 0h1m117 0h1m10 0h1m2 0h1m24 0h1m1 0h1m10 0h1m15 0h1m1 0h1m115 0h1m5 0h1m37 0h1m1 0h1m43 0h1m17 0h1m3 0h1m11 0h1m23 0h1m-1156 1h1m42 0h1m7 0h1m5 0h1m9 0h1m3 0h1m7 0h1m5 0h1m10 0h1m0 0h1m2 0h1m5 0h1m1 0h1m4 0h1m27 0h1m25 0h1m134 0h1m8 0h1m4 0h1m3 0h1m6 0h1m20 0h1m37 0h1m3 0h1m21 0h1m1 0h1m9 0h1m14 0h1m21 0h1m21 0h1m37 0h1m8 0h1m18 0h1m22 0h1m4 0h1m1 0h1m0 0h1m20 0h1m4 0h1m68 0h1m18 0h1m27 0h1m23 0h1m47 0h1m35 0h1m36 0h1m41 0h1m50 0h1m34 0h1m0 0h1m15 0h1m54 0h1m4 0h1m32 0h1m-1042 1h1m10 0h1m17 0h1m14 0h1m3 0h1m6 0h1m10 0h1m57 0h1m14 0h1m2 0h1m2 0h1m34 0h1m55 0h1m26 0h1m0 0h1m33 0h1m18 0h1m12 0h1m37 0h1m3 0h1m5 0h1m11 0h1m11 0h1m19 0h1m27 0h1m19 0h1m21 0h1m18 0h1m14 0h1m36 0h1m12 0h1m10 0h1m5 0h1m4 0h1m30 0h1m1 0h1m23 0h1m45 0h1m0 0h1m5 0h1m15 0h1m3 0h1m2 0h1m49 0h1m62 0h1m3 0h1m30 0h1m5 0h1m15 0h1m19 0h1m6 0h1m1 0h1m60 0h1m33 0h1m26 0h1m16 0h1m37 0h1m-1176 1h1m11 0h1m4 0h1m37 0h1m3 0h1m6 0h1m4 0h1m6 0h1m3 0h1m4 0h1m1 0h1m6 0h1m6 0h1m8 0h1m30 0h1m30 0h1m41 0h1m0 0h1m1 0h1m2 0h1m2 0h1m64 0h1m2 0h1m0 0h1m3 0h1m32 0h1m8 0h1m42 0h1m17 0h1m60 0h1m17 0h1m13 0h1m21 0h1m12 0h1m39 0h1m38 0h1m8 0h1m22 0h1m43 0h1m66 0h1m12 0h1m39 0h1m15 0h1m33 0h1m10 0h1m3 0h1m6 0h1m26 0h1m43 0h1m54 0h1m10 0h1m22 0h1m5 0h1m3 0h1m6 0h1m0 0h1m9 0h1m13 0h1m17 0h1m25 0h1m41 0h1m15 0h1m-1170 1h1m26 0h1m15 0h1m20 0h1m4 0h1m5 0h1m7 0h1m8 0h1m36 0h1m23 0h1m10 0h1m10 0h1m17 0h1m105 0h1m3 0h1m5 0h1m7 0h1m4 0h1m8 0h1m42 0h1m3 0h1m3 0h1m27 0h1m56 0h1m64 0h1m20 0h1m9 0h1m64 0h1m92 0h1m3 0h1m70 0h1m5 0h1m57 0h1m3 0h1m33 0h1m81 0h1m11 0h1m18 0h1m35 0h1m1 0h1m40 0h1m11 0h1m40 0h1m6 0h1m2 0h1m17 0h1m-1117 1h1m2 0h1m2 0h1m0 0h1m6 0h1m3 0h1m17 0h1m25 0h1m125 0h1m26 0h1m0 0h1m10 0h1m11 0h1m0 0h1m2 0h1m5 0h1m36 0h1m23 0h1m5 0h1m30 0h1m30 0h1m35 0h1m1 0h1m28 0h1m13 0h1m12 0h1m124 0h1m35 0h1m61 0h1m6 0h1m6 0h1m11 0h1m22 0h1m56 0h1m17 0h1m63 0h1m5 0h1m9 0h1m0 0h1m26 0h1m0 0h1m0 0h1m49 0h1m1 0h1m31 0h1m39 0h1m32 0h1m23 0h1m-1166 1h1m17 0h1m22 0h1m9 0h1m3 0h1m3 0h1m4 0h1m3 0h1m3 0h1m6 0h1m8 0h1m2 0h1m10 0h1m13 0h1m24 0h1m10 0h1m1 0h1m20 0h1m7 0h1m18 0h1m4 0h1m32 0h1m7 0h1m37 0h1m6 0h1m3 0h1m1 0h1m1 0h1m7 0h1m5 0h1m7 0h1m28 0h1m73 0h1m3 0h1m33 0h1m6 0h1m0 0h1m23 0h1m21 0h1m114 0h1m8 0h1m18 0h1m0 0h1m45 0h1m3 0h1m35 0h1m34 0h1m1 0h1m61 0h1m3 0h1m43 0h1m35 0h1m19 0h1m11 0h1m26 0h1m14 0h1m11 0h1m3 0h1m39 0h1m23 0h1m44 0h1m29 0h1m-1161 1h1m2 0h1m7 0h1m25 0h1m0 0h1m0 0h1m15 0h1m3 0h1m18 0h1m4 0h1m46 0h1m43 0h1m0 0h1m13 0h1m2 0h1m86 0h1m1 0h1m10 0h1m12 0h1m5 0h1m7 0h1m2 0h1m0 0h1m20 0h1m19 0h1m5 0h1m109 0h1m14 0h1m73 0h1m31 0h1m5 0h1m14 0h1m52 0h1m3 0h1m35 0h1m14 0h1m19 0h1m80 0h1m20 0h1m59 0h1m0 0h1m22 0h1m2 0h1m4 0h1m12 0h1m7 0h1m8 0h1m17 0h1m1 0h1m10 0h1m5 0h1m16 0h1m20 0h1m38 0h1m39 0h1m-1099 1h1m19 0h1m16 0h1m2 0h1m8 0h1m9 0h1m3 0h1m3 0h1m21 0h1m2 0h1m12 0h1m17 0h1m9 0h1m6 0h1m21 0h1m3 0h1m83 0h1m55 0h1m32 0h1m14 0h1m13 0h1m31 0h1m15 0h1m9 0h1m2 0h1m3 0h1m20 0h1m55 0h1m1 0h1m96 0h1m8 0h1m24 0h1m1 0h1m51 0h1m11 0h1m28 0h1m13 0h1m129 0h1m20 0h1m15 0h1m42 0h1m16 0h1m8 0h1m37 0h1m1 0h1m49 0h1m4 0h1m22 0h1m10 0h1m22 0h1m-1143 1h1m1 0h1m1 0h1m4 0h1m5 0h1m14 0h1m1 0h1m1 0h1m7 0h1m0 0h1m5 0h1m4 0h1m6 0h1m4 0h1m2 0h1m4 0h1m6 0h1m8 0h1m52 0h1m2 0h1m3 0h1m8 0h1m5 0h1m0 0h1m10 0h1m68 0h1m4 0h1m14 0h1m2 0h1m0 0h1m2 0h1m7 0h1m4 0h1m11 0h1m50 0h1m19 0h1m67 0h1m1 0h1m19 0h1m20 0h1m8 0h1m63 0h1m22 0h1m27 0h1m14 0h1m41 0h1m19 0h1m75 0h1m16 0h1m30 0h1m23 0h1m34 0h1m5 0h1m31 0h1m22 0h1m19 0h1m21 0h1m16 0h1m12 0h1m12 0h1m70 0h1m42 0h1m-1139 1h1m1 0h1m22 0h1m5 0h1m27 0h1m2 0h1m1 0h1m4 0h1m0 0h1m11 0h1m0 0h1m1 0h1m17 0h1m18 0h1m30 0h1m20 0h1m8 0h1m2 0h1m4 0h1m3 0h1m89 0h1m0 0h1m0 0h1m7 0h1m0 0h1m29 0h1m20 0h1m4 0h1m61 0h1m1 0h1m37 0h1m68 0h1m15 0h1m4 0h1m0 0h1m24 0h1m23 0h1m2 0h1m4 0h1m24 0h1m5 0h1m1 0h1m1 0h1m19 0h1m82 0h1m2 0h1m5 0h1m5 0h1m1 0h1m83 0h1m31 0h1m2 0h1m16 0h1m15 0h1m41 0h1m20 0h1m12 0h1m6 0h1m42 0h1m22 0h1m32 0h1m24 0h1m21 0h1m9 0h1m-1136 1h1m9 0h1m28 0h1m8 0h1m12 0h1m8 0h1m6 0h1m46 0h1m12 0h1m37 0h1m24 0h1m15 0h1m3 0h1m10 0h1m5 0h1m0 0h1m12 0h1m2 0h1m4 0h1m6 0h1m4 0h1m2 0h1m2 0h1m6 0h1m10 0h1m0 0h1m32 0h1m3 0h1m6 0h1m3 0h1m53 0h1m16 0h1m11 0h1m100 0h1m13 0h1m80 0h1m62 0h1m38 0h1m1 0h1m6 0h1m23 0h1m9 0h1m39 0h1m71 0h1m5 0h1m22 0h1m5 0h1m2 0h1m48 0h1m9 0h1m14 0h1m62 0h1m28 0h1m17 0h1m9 0h1m7 0h1m10 0h1m17 0h1m-1183 1h1m21 0h1m5 0h1m2 0h1m0 0h1m4 0h1m16 0h1m3 0h1m16 0h1m10 0h1m10 0h1m35 0h1m39 0h1m0 0h1m6 0h1m6 0h1m1 0h1m15 0h1m16 0h1m11 0h1m59 0h1m0 0h1m1 0h1m0 0h1m6 0h1m17 0h1m10 0h1m23 0h1m7 0h1m16 0h1m5 0h1m0 0h1m19 0h1m8 0h1m13 0h1m88 0h1m60 0h1m2 0h1m9 0h1m56 0h1m63 0h1m18 0h1m11 0h1m27 0h1m0 0h1m19 0h1m31 0h1m69 0h1m27 0h1m45 0h1m0 0h1m9 0h1m10 0h1m23 0h1m22 0h1m16 0h1m80 0h1m5 0h1m4 0h1m-1154 1h1m21 0h1m24 0h1m3 0h1m0 0h1m0 0h1m4 0h1m1 0h1m7 0h1m8 0h1m1 0h1m14 0h1m12 0h1m67 0h1m0 0h1m11 0h1m91 0h1m11 0h1m5 0h1m19 0h1m0 0h1m12 0h1m24 0h1m2 0h1m5 0h1m17 0h1m18 0h1m19 0h1m4 0h1m28 0h1m25 0h1m8 0h1m32 0h1m28 0h1m9 0h1m37 0h1m6 0h1m38 0h1m51 0h1m14 0h1m103 0h1m12 0h1m45 0h1m12 0h1m43 0h1m8 0h1m23 0h1m19 0h1m48 0h1m4 0h1m8 0h1m4 0h1m18 0h1m6 0h1m35 0h1m30 0h1m17 0h1m10 0h1m-1174 1h1m0 0h1m17 0h1m11 0h1m9 0h1m8 0h1m7 0h1m11 0h1m2 0h1m8 0h1m9 0h1m2 0h1m2 0h1m79 0h1m3 0h1m16 0h1m14 0h1m25 0h1m63 0h1m1 0h1m8 0h1m2 0h1m0 0h1m3 0h1m30 0h1m1 0h1m43 0h1m3 0h1m51 0h1m12 0h1m108 0h1m11 0h1m102 0h1m45 0h1m25 0h1m16 0h1m53 0h1m19 0h1m80 0h1m23 0h1m8 0h1m17 0h1m21 0h1m5 0h1m4 0h1m4 0h1m16 0h1m0 0h1m31 0h1m6 0h1m44 0h1m0 0h1m0 0h1m19 0h1m22 0h1m-1129 1h1m2 0h1m5 0h1m4 0h1m5 0h1m9 0h1m22 0h1m0 0h1m11 0h1m37 0h1m16 0h1m0 0h1m42 0h1m40 0h1m13 0h1m16 0h1m20 0h1m1 0h1m3 0h1m2 0h1m4 0h1m1 0h1m9 0h1m65 0h1m12 0h1m21 0h1m1 0h1m33 0h1m0 0h1m6 0h1m18 0h1m7 0h1m37 0h1m10 0h1m1 0h1m12 0h1m17 0h1m4 0h1m14 0h1m9 0h1m2 0h1m56 0h1m6 0h1m29 0h1m10 0h1m48 0h1m7 0h1m15 0h1m51 0h1m1 0h1m5 0h1m78 0h1m3 0h1m0 0h1m7 0h1m41 0h1m20 0h1m14 0h1m13 0h1m17 0h1m7 0h1m12 0h1m38 0h1m1 0h1m26 0h1m-1143 1h1m12 0h1m26 0h1m2 0h1m0 0h1m3 0h1m0 0h1m6 0h1m2 0h1m18 0h1m8 0h1m1 0h1m0 0h1m26 0h1m15 0h1m20 0h1m6 0h1m20 0h1m4 0h1m91 0h1m0 0h1m18 0h1m0 0h1m7 0h1m24 0h1m40 0h1m44 0h1m34 0h1m92 0h1m6 0h1m47 0h1m11 0h1m1 0h1m75 0h1m7 0h1m28 0h1m3 0h1m19 0h1m74 0h1m12 0h1m37 0h1m6 0h1m4 0h1m132 0h1m10 0h1m48 0h1m2 0h1m11 0h1m20 0h1m0 0h1m13 0h1m37 0h1m1 0h1m-1185 1h1m27 0h1m1 0h1m14 0h1m9 0h1m4 0h1m10 0h1m2 0h1m10 0h1m4 0h1m1 0h1m4 0h1m9 0h1m15 0h1m63 0h1m0 0h1m3 0h1m2 0h1m42 0h1m35 0h1m41 0h1m3 0h1m24 0h1m49 0h1m12 0h1m5 0h1m16 0h1m5 0h1m65 0h1m28 0h1m57 0h1m47 0h1m30 0h1m12 0h1m2 0h1m11 0h1m29 0h1m15 0h1m26 0h1m22 0h1m13 0h1m28 0h1m41 0h1m6 0h1m15 0h1m11 0h1m29 0h1m17 0h1m3 0h1m18 0h1m5 0h1m19 0h1m28 0h1m38 0h1m31 0h1m2 0h1m67 0h1m-1173 1h1m1 0h1m35 0h1m2 0h1m1 0h1m0 0h1m31 0h1m3 0h1m16 0h1m1 0h1m0 0h1m14 0h1m12 0h1m21 0h1m31 0h1m8 0h1m36 0h1m5 0h1m46 0h1m4 0h1m3 0h1m3 0h1m0 0h1m12 0h1m9 0h1m44 0h1m38 0h1m34 0h1m7 0h1m14 0h1m78 0h1m23 0h1m71 0h1m17 0h1m10 0h1m0 0h1m50 0h1m50 0h1m5 0h1m0 0h1m56 0h1m79 0h1m63 0h1m13 0h1m25 0h1m0 0h1m28 0h1m6 0h1m0 0h1m7 0h1m0 0h1m15 0h1m11 0h1m5 0h1m14 0h1m0 0h1m25 0h1m8 0h1m-1115 1h1m10 0h1m14 0h1m8 0h1m2 0h1m0 0h1m2 0h1m0 0h1m1 0h1m10 0h1m0 0h1m21 0h1m4 0h1m7 0h1m6 0h1m29 0h1m13 0h1m14 0h1m3 0h1m8 0h1m80 0h1m1 0h1m2 0h1m24 0h1m6 0h1m14 0h1m35 0h1m14 0h1m5 0h1m14 0h1m13 0h1m7 0h1m1 0h1m1 0h1m16 0h1m36 0h1m24 0h1m14 0h1m0 0h1m72 0h1m22 0h1m37 0h1m16 0h1m20 0h1m17 0h1m16 0h1m2 0h1m3 0h1m2 0h1m24 0h1m214 0h1m81 0h1m10 0h1m28 0h1m3 0h1m18 0h1m23 0h1m18 0h1m-1149 1h1m18 0h1m4 0h1m9 0h1m2 0h1m10 0h1m2 0h1m11 0h1m4 0h1m41 0h1m35 0h1m5 0h1m25 0h1m0 0h1m17 0h1m34 0h1m12 0h1m22 0h1m13 0h1m0 0h1m6 0h1m16 0h1m12 0h1m31 0h1m6 0h1m15 0h1m6 0h1m45 0h1m2 0h1m15 0h1m3 0h1m5 0h1m36 0h1m16 0h1m12 0h1m36 0h1m43 0h1m7 0h1m23 0h1m67 0h1m8 0h1m9 0h1m17 0h1m12 0h1m11 0h1m89 0h1m35 0h1m11 0h1m109 0h1m1 0h1m12 0h1m25 0h1m16 0h1m23 0h1m8 0h1m4 0h1m9 0h1m-1162 1h1m9 0h1m16 0h1m23 0h1m1 0h1m12 0h1m0 0h1m3 0h1m3 0h1m1 0h1m8 0h1m6 0h1m4 0h1m2 0h1m6 0h1m4 0h1m20 0h1m16 0h1m6 0h1m6 0h1m0 0h1m0 0h1m5 0h1m7 0h1m9 0h1m59 0h1m15 0h1m24 0h1m12 0h1m0 0h1m5 0h1m2 0h1m3 0h1m5 0h1m33 0h1m25 0h1m146 0h1m53 0h1m41 0h1m25 0h1m11 0h1m1 0h1m23 0h1m4 0h1m5 0h1m34 0h1m8 0h1m13 0h1m5 0h1m59 0h1m5 0h1m17 0h1m20 0h1m5 0h1m7 0h1m8 0h1m83 0h1m25 0h1m11 0h1m6 0h1m39 0h1m8 0h1m1 0h1m43 0h1m10 0h1m24 0h1m6 0h1m19 0h1m-1174 1h1m38 0h1m3 0h1m7 0h1m1 0h1m0 0h1m2 0h1m1 0h1m9 0h1m12 0h1m9 0h1m2 0h1m29 0h1m1 0h1m17 0h1m16 0h1m24 0h1m2 0h1m14 0h1m2 0h1m22 0h1m16 0h1m46 0h1m0 0h1m4 0h1m1 0h1m3 0h1m7 0h1m0 0h1m3 0h1m8 0h1m64 0h1m25 0h1m14 0h1m28 0h1m65 0h1m28 0h1m33 0h1m0 0h1m14 0h1m49 0h1m17 0h1m28 0h1m1 0h1m26 0h1m25 0h1m13 0h1m17 0h1m10 0h1m31 0h1m17 0h1m0 0h1m11 0h1m0 0h1m2 0h1m2 0h1m45 0h1m5 0h1m20 0h1m23 0h1m81 0h1m3 0h1m8 0h1m3 0h1m13 0h1m8 0h1m4 0h1m16 0h1m29 0h1m1 0h1m26 0h1m-1130 1h1m10 0h1m26 0h1m8 0h1m26 0h1m17 0h1m3 0h1m29 0h1m9 0h1m3 0h1m7 0h1m9 0h1m7 0h1m12 0h1m3 0h1m31 0h1m18 0h1m2 0h1m0 0h1m14 0h1m1 0h1m11 0h1m10 0h1m1 0h1m16 0h1m32 0h1m28 0h1m45 0h1m50 0h1m10 0h1m17 0h1m2 0h1m8 0h1m41 0h1m7 0h1m17 0h1m16 0h1m47 0h1m19 0h1m51 0h1m18 0h1m1 0h1m80 0h1m57 0h1m16 0h1m49 0h1m36 0h1m17 0h1m7 0h1m0 0h1m3 0h1m20 0h1m24 0h1m19 0h1m5 0h1m-1066 1h1m2 0h1m11 0h1m2 0h1m7 0h1m15 0h1m20 0h1m32 0h1m26 0h1m22 0h1m23 0h1m77 0h1m3 0h1m2 0h1m2 0h1m1 0h1m1 0h1m74 0h1m29 0h1m11 0h1m54 0h1m22 0h1m6 0h1m4 0h1m4 0h1m30 0h1m2 0h1m56 0h1m87 0h1m70 0h1m56 0h1m37 0h1m41 0h1m34 0h1m39 0h1m62 0h1m6 0h1m32 0h1m1 0h1m41 0h1m4 0h1m-1132 1h1m38 0h1m1 0h1m16 0h1m0 0h1m3 0h1m13 0h1m28 0h1m9 0h1m61 0h1m30 0h1m4 0h1m20 0h1m22 0h1m26 0h1m4 0h1m11 0h1m15 0h1m54 0h1m31 0h1m40 0h1m2 0h1m5 0h1m0 0h1m10 0h1m14 0h1m11 0h1m37 0h1m39 0h1m12 0h1m0 0h1m12 0h1m34 0h1m63 0h1m6 0h1m59 0h1m13 0h1m11 0h1m59 0h1m0 0h1m8 0h1m16 0h1m20 0h1m25 0h1m28 0h1m1 0h1m41 0h1m29 0h1m24 0h1m32 0h1m34 0h1m28 0h1m20 0h1m-1167 1h1m26 0h1m0 0h1m1 0h1m16 0h1m11 0h1m8 0h1m22 0h1m43 0h1m24 0h1m7 0h1m16 0h1m15 0h1m30 0h1m50 0h1m5 0h1m28 0h1m70 0h1m11 0h1m22 0h1m6 0h1m17 0h1m42 0h1m0 0h1m12 0h1m40 0h1m1 0h1m12 0h1m48 0h1m29 0h1m50 0h1m16 0h1m21 0h1m3 0h1m11 0h1m46 0h1m5 0h1m2 0h1m6 0h1m5 0h1m41 0h1m13 0h1m11 0h1m50 0h1m5 0h1m8 0h1m17 0h1m15 0h1m3 0h1m42 0h1m83 0h1m5 0h1m-1081 1h1m8 0h1m4 0h1m18 0h1m2 0h1m2 0h1m7 0h1m5 0h1m27 0h1m28 0h1m14 0h1m5 0h1m6 0h1m26 0h1m2 0h1m30 0h1m2 0h1m17 0h1m14 0h1m1 0h1m14 0h1m5 0h1m5 0h1m0 0h1m1 0h1m0 0h1m8 0h1m92 0h1m73 0h1m2 0h1m6 0h1m22 0h1m0 0h1m39 0h1m48 0h1m64 0h1m5 0h1m15 0h1m7 0h1m23 0h1m64 0h1m0 0h1m22 0h1m45 0h1m37 0h1m1 0h1m15 0h1m44 0h1m1 0h1m16 0h1m40 0h1m3 0h1m8 0h1m13 0h1m8 0h1m38 0h1m14 0h1m6 0h1m15 0h1m31 0h1m-1168 1h1m23 0h1m11 0h1m23 0h1m7 0h1m9 0h1m9 0h1m1 0h1m2 0h1m29 0h1m22 0h1m38 0h1m2 0h1m19 0h1m24 0h1m48 0h1m2 0h1m2 0h1m0 0h1m16 0h1m2 0h1m3 0h1m1 0h1m6 0h1m59 0h1m22 0h1m2 0h1m7 0h1m51 0h1m9 0h1m34 0h1m4 0h1m32 0h1m25 0h1m95 0h1m20 0h1m12 0h1m17 0h1m14 0h1m73 0h1m33 0h1m13 0h1m35 0h1m10 0h1m0 0h1m39 0h1m16 0h1m54 0h1m5 0h1m77 0h1m20 0h1m-1144 1h1m45 0h1m8 0h1m1 0h1m2 0h1m9 0h1m11 0h1m12 0h1m0 0h1m10 0h1m9 0h1m5 0h1m7 0h1m91 0h1m32 0h1m8 0h1m27 0h1m1 0h1m0 0h1m28 0h1m4 0h1m17 0h1m10 0h1m120 0h1m16 0h1m5 0h1m11 0h1m29 0h1m11 0h1m18 0h1m3 0h1m1 0h1m43 0h1m5 0h1m0 0h1m44 0h1m0 0h1m2 0h1m5 0h1m11 0h1m27 0h1m35 0h1m25 0h1m30 0h1m29 0h1m1 0h1m75 0h1m4 0h1m15 0h1m21 0h1m3 0h1m18 0h1m25 0h1m16 0h1m9 0h1m19 0h1m34 0h1m23 0h1m-1129 1h1m8 0h1m32 0h1m5 0h1m7 0h1m0 0h1m8 0h1m0 0h1m12 0h1m1 0h1m2 0h1m1 0h1m7 0h1m3 0h1m8 0h1m21 0h1m33 0h1m16 0h1m31 0h1m9 0h1m8 0h1m15 0h1m5 0h1m11 0h1m5 0h1m6 0h1m9 0h1m5 0h1m0 0h1m13 0h1m10 0h1m17 0h1m0 0h1m62 0h1m4 0h1m1 0h1m25 0h1m24 0h1m7 0h1m4 0h1m11 0h1m10 0h1m6 0h1m1 0h1m36 0h1m40 0h1m4 0h1m68 0h1m2 0h1m41 0h1m1 0h1m147 0h1m7 0h1m28 0h1m25 0h1m48 0h1m13 0h1m8 0h1m4 0h1m71 0h1m13 0h1m9 0h1m22 0h1m20 0h1m8 0h1m9 0h1m15 0h1m12 0h1m-1142 1h1m2 0h1m3 0h1m11 0h1m15 0h1m30 0h1m24 0h1m40 0h1m13 0h1m2 0h1m2 0h1m8 0h1m0 0h1m4 0h1m69 0h1m22 0h1m2 0h1m3 0h1m7 0h1m15 0h1m21 0h1m78 0h1m5 0h1m4 0h1m23 0h1m0 0h1m24 0h1m20 0h1m83 0h1m11 0h1m98 0h1m5 0h1m75 0h1m2 0h1m14 0h1m16 0h1m42 0h1m17 0h1m0 0h1m0 0h1m4 0h1m6 0h1m7 0h1m40 0h1m16 0h1m41 0h1m14 0h1m6 0h1m10 0h1m1 0h1m48 0h1m24 0h1m53 0h1m12 0h1m-1156 1h1m0 0h1m2 0h1m17 0h1m5 0h1m6 0h1m17 0h1m19 0h1m5 0h1m24 0h1m60 0h1m6 0h1m2 0h1m6 0h1m50 0h1m36 0h1m3 0h1m5 0h1m6 0h1m28 0h1m102 0h1m11 0h1m10 0h1m8 0h1m75 0h1m0 0h1m51 0h1m5 0h1m17 0h1m32 0h1m26 0h1m12 0h1m57 0h1m7 0h1m7 0h1m14 0h1m3 0h1m11 0h1m25 0h1m3 0h1m44 0h1m16 0h1m19 0h1m15 0h1m5 0h1m11 0h1m19 0h1m14 0h1m37 0h1m3 0h1m0 0h1m27 0h1m0 0h1m11 0h1m15 0h1m58 0h1m25 0h1m3 0h1m-1173 1h1m31 0h1m3 0h1m6 0h1m23 0h1m12 0h1m1 0h1m4 0h1m0 0h1m7 0h1m18 0h1m1 0h1m0 0h1m8 0h1m1 0h1m39 0h1m26 0h1m2 0h1m5 0h1m12 0h1m17 0h1m18 0h1m8 0h1m7 0h1m8 0h1m8 0h1m12 0h1m5 0h1m12 0h1m67 0h1m33 0h1m35 0h1m64 0h1m5 0h1m16 0h1m6 0h1m40 0h1m11 0h1m3 0h1m7 0h1m3 0h1m2 0h1m0 0h1m26 0h1m3 0h1m60 0h1m16 0h1m15 0h1m42 0h1m0 0h1m8 0h1m11 0h1m32 0h1m8 0h1m9 0h1m12 0h1m5 0h1m23 0h1m10 0h1m2 0h1m35 0h1m1 0h1m22 0h1m20 0h1m41 0h1m9 0h1m3 0h1m46 0h1m21 0h1m-1145 1h1m10 0h1m2 0h1m25 0h1m3 0h1m0 0h1m1 0h1m8 0h1m0 0h1m5 0h1m2 0h1m8 0h1m11 0h1m2 0h1m28 0h1m48 0h1m20 0h1m9 0h1m24 0h1m1 0h1m17 0h1m17 0h1m16 0h1m4 0h1m0 0h1m5 0h1m8 0h1m20 0h1m10 0h1m6 0h1m66 0h1m20 0h1m8 0h1m8 0h1m99 0h1m82 0h1m50 0h1m12 0h1m34 0h1m16 0h1m6 0h1m42 0h1m19 0h1m51 0h1m73 0h1m6 0h1m11 0h1m17 0h1m32 0h1m6 0h1m37 0h1m2 0h1m15 0h1m12 0h1m0 0h1m69 0h1m19 0h1m-1182 1h1m6 0h1m43 0h1m13 0h1m10 0h1m31 0h1m13 0h1m26 0h1m9 0h1m14 0h1m15 0h1m4 0h1m9 0h1m52 0h1m31 0h1m6 0h1m14 0h1m7 0h1m89 0h1m4 0h1m67 0h1m19 0h1m6 0h1m76 0h1m28 0h1m0 0h1m2 0h1m28 0h1m43 0h1m3 0h1m124 0h1m62 0h1m3 0h1m32 0h1m15 0h1m13 0h1m11 0h1m6 0h1m27 0h1m22 0h1m51 0h1m9 0h1m6 0h1m27 0h1m24 0h1m13 0h1m-1136 1h1m29 0h1m25 0h1m1 0h1m5 0h1m5 0h1m5 0h1m7 0h1m1 0h1m17 0h1m70 0h1m8 0h1m41 0h1m12 0h1m27 0h1m10 0h1m5 0h1m25 0h1m82 0h1m4 0h1m3 0h1m1 0h1m2 0h1m18 0h1m0 0h1m9 0h1m16 0h1m15 0h1m21 0h1m58 0h1m46 0h1m46 0h1m33 0h1m32 0h1m42 0h1m12 0h1m24 0h1m49 0h1m24 0h1m55 0h1m2 0h1m15 0h1m19 0h1m21 0h1m14 0h1m4 0h1m19 0h1m28 0h1m12 0h1m7 0h1m11 0h1m51 0h1m9 0h1m6 0h1m-1158 1h1m1 0h1m27 0h1m4 0h1m5 0h1m3 0h1m5 0h1m2 0h1m2 0h1m3 0h1m11 0h1m0 0h1m12 0h1m0 0h1m3 0h1m19 0h1m9 0h1m7 0h1m45 0h1m39 0h1m61 0h1m1 0h1m6 0h1m5 0h1m10 0h1m2 0h1m0 0h1m2 0h1m78 0h1m2 0h1m59 0h1m53 0h1m21 0h1m2 0h1m8 0h1m42 0h1m7 0h1m69 0h1m52 0h1m15 0h1m3 0h1m22 0h1m3 0h1m14 0h1m2 0h1m9 0h1m30 0h1m14 0h1m4 0h1m24 0h1m38 0h1m16 0h1m86 0h1m4 0h1m9 0h1m9 0h1m20 0h1m17 0h1m50 0h1m13 0h1m19 0h1m-1165 1h1m1 0h1m28 0h1m16 0h1m6 0h1m1 0h1m5 0h1m7 0h1m9 0h1m31 0h1m35 0h1m24 0h1m2 0h1m11 0h1m68 0h1m20 0h1m13 0h1m1 0h1m10 0h1m3 0h1m93 0h1m12 0h1m42 0h1m10 0h1m23 0h1m0 0h1m1 0h1m21 0h1m7 0h1m9 0h1m71 0h1m14 0h1m46 0h1m11 0h1m14 0h1m48 0h1m4 0h1m9 0h1m20 0h1m20 0h1m21 0h1m29 0h1m10 0h1m19 0h1m56 0h1m76 0h1m38 0h1m37 0h1m29 0h1m16 0h1m7 0h1m-1120 1h1m14 0h1m11 0h1m0 0h1m11 0h1m13 0h1m58 0h1m26 0h1m7 0h1m16 0h1m2 0h1m15 0h1m0 0h1m11 0h1m13 0h1m27 0h1m4 0h1m7 0h1m5 0h1m1 0h1m1 0h1m20 0h1m105 0h1m11 0h1m95 0h1m3 0h1m11 0h1m7 0h1m6 0h1m52 0h1m9 0h1m7 0h1m54 0h1m1 0h1m40 0h1m30 0h1m8 0h1m14 0h1m0 0h1m24 0h1m47 0h1m80 0h1m33 0h1m10 0h1m3 0h1m4 0h1m31 0h1m30 0h1m1 0h1m10 0h1m62 0h1m25 0h1m-1166 1h1m42 0h1m32 0h1m12 0h1m42 0h1m48 0h1m4 0h1m5 0h1m0 0h1m79 0h1m7 0h1m6 0h1m1 0h1m0 0h1m1 0h1m2 0h1m3 0h1m7 0h1m8 0h1m3 0h1m99 0h1m24 0h1m32 0h1m6 0h1m20 0h1m28 0h1m20 0h1m9 0h1m29 0h1m20 0h1m5 0h1m28 0h1m33 0h1m19 0h1m22 0h1m25 0h1m17 0h1m3 0h1m18 0h1m19 0h1m31 0h1m68 0h1m70 0h1m12 0h1m5 0h1m7 0h1m0 0h1m9 0h1m23 0h1m18 0h1m11 0h1m41 0h1m8 0h1m-1126 1h1m5 0h1m13 0h1m15 0h1m2 0h1m2 0h1m0 0h1m9 0h1m12 0h1m18 0h1m3 0h1m1 0h1m1 0h1m8 0h1m31 0h1m7 0h1m0 0h1m24 0h1m1 0h1m15 0h1m5 0h1m4 0h1m34 0h1m19 0h1m27 0h1m4 0h1m7 0h1m3 0h1m2 0h1m121 0h1m4 0h1m9 0h1m5 0h1m65 0h1m0 0h1m33 0h1m7 0h1m70 0h1m12 0h1m1 0h1m52 0h1m55 0h1m3 0h1m14 0h1m12 0h1m14 0h1m9 0h1m22 0h1m3 0h1m4 0h1m10 0h1m31 0h1m38 0h1m26 0h1m22 0h1m2 0h1m12 0h1m8 0h1m16 0h1m9 0h1m15 0h1m4 0h1m5 0h1m53 0h1m15 0h1m25 0h1m-1159 1h1m11 0h1m70 0h1m9 0h1m1 0h1m13 0h1m1 0h1m42 0h1m31 0h1m0 0h1m16 0h1m58 0h1m65 0h1m139 0h1m20 0h1m3 0h1m29 0h1m0 0h1m9 0h1m30 0h1m15 0h1m6 0h1m8 0h1m10 0h1m14 0h1m15 0h1m46 0h1m26 0h1m5 0h1m9 0h1m5 0h1m1 0h1m8 0h1m11 0h1m25 0h1m31 0h1m14 0h1m8 0h1m2 0h1m11 0h1m96 0h1m0 0h1m25 0h1m7 0h1m10 0h1m47 0h1m13 0h1m22 0h1m21 0h1m1 0h1m34 0h1m-1131 1h1m7 0h1m29 0h1m15 0h1m4 0h1m6 0h1m3 0h1m3 0h1m8 0h1m10 0h1m5 0h1m24 0h1m1 0h1m40 0h1m31 0h1m2 0h1m1 0h1m50 0h1m20 0h1m5 0h1m9 0h1m6 0h1m3 0h1m0 0h1m5 0h1m0 0h1m1 0h1m106 0h1m10 0h1m4 0h1m33 0h1m31 0h1m16 0h1m38 0h1m79 0h1m55 0h1m24 0h1m68 0h1m46 0h1m12 0h1m12 0h1m25 0h1m5 0h1m57 0h1m3 0h1m0 0h1m21 0h1m34 0h1m10 0h1m4 0h1m34 0h1m0 0h1m7 0h1m17 0h1m9 0h1m0 0h1m45 0h1m-1140 1h1m27 0h1m23 0h1m17 0h1m0 0h1m1 0h1m7 0h1m2 0h1m1 0h1m99 0h1m22 0h1m0 0h1m18 0h1m14 0h1m9 0h1m24 0h1m1 0h1m5 0h1m2 0h1m6 0h1m4 0h1m0 0h1m110 0h1m8 0h1m3 0h1m6 0h1m116 0h1m31 0h1m28 0h1m23 0h1m0 0h1m61 0h1m7 0h1m5 0h1m9 0h1m44 0h1m6 0h1m34 0h1m28 0h1m53 0h1m4 0h1m15 0h1m83 0h1m26 0h1m64 0h1m7 0h1m23 0h1m5 0h1m-1154 1h1m5 0h1m7 0h1m2 0h1m41 0h1m3 0h1m14 0h1m3 0h1m1 0h1m16 0h1m24 0h1m137 0h1m19 0h1m3 0h1m0 0h1m1 0h1m16 0h1m9 0h1m2 0h1m1 0h1m0 0h1m0 0h1m137 0h1m27 0h1m15 0h1m21 0h1m40 0h1m24 0h1m19 0h1m5 0h1m64 0h1m7 0h1m21 0h1m6 0h1m58 0h1m63 0h1m64 0h1m24 0h1m27 0h1m47 0h1m0 0h1m2 0h1m39 0h1m15 0h1m5 0h1m33 0h1m2 0h1m0 0h1m62 0h1m-1148 1h1m5 0h1m7 0h1m0 0h1m6 0h1m0 0h1m16 0h1m8 0h1m7 0h1m11 0h1m32 0h1m0 0h1m150 0h1m3 0h1m8 0h1m3 0h1m2 0h1m8 0h1m5 0h1m134 0h1m24 0h1m11 0h1m77 0h1m9 0h1m32 0h1m13 0h1m50 0h1m10 0h1m59 0h1m16 0h1m16 0h1m24 0h1m36 0h1m38 0h1m22 0h1m5 0h1m8 0h1m51 0h1m13 0h1m3 0h1m69 0h1m19 0h1m29 0h1m0 0h1m63 0h1m-1154 1h1m19 0h1m10 0h1m5 0h1m0 0h1m46 0h1m29 0h1m154 0h1m5 0h1m0 0h1m8 0h1m4 0h1m7 0h1m4 0h1m115 0h1m13 0h1m17 0h1m8 0h1m10 0h1m77 0h1m55 0h1m82 0h1m54 0h1m57 0h1m17 0h1m5 0h1m85 0h1m43 0h1m16 0h1m10 0h1m8 0h1m18 0h1m3 0h1m30 0h1m52 0h1m41 0h1m-1157 1h1m3 0h1m0 0h1m22 0h1m6 0h1m1 0h1m5 0h1m11 0h1m6 0h1m19 0h1m0 0h1m6 0h1m41 0h1m121 0h1m5 0h1m7 0h1m9 0h1m19 0h1m2 0h1m5 0h1m1 0h1m6 0h1m149 0h1m76 0h1m7 0h1m41 0h1m22 0h1m40 0h1m11 0h1m15 0h1m1 0h1m41 0h1m59 0h1m7 0h1m52 0h1m32 0h1m34 0h1m27 0h1m15 0h1m128 0h1m15 0h1m4 0h1m41 0h1m7 0h1m-1127 1h1m2 0h1m23 0h1m1 0h1m23 0h1m7 0h1m182 0h1m6 0h1m1 0h1m6 0h1m15 0h1m3 0h1m2 0h1m1 0h1m110 0h1m20 0h1m8 0h1m6 0h1m68 0h1m40 0h1m53 0h1m15 0h1m20 0h1m39 0h1m8 0h1m35 0h1m34 0h1m5 0h1m17 0h1m89 0h1m99 0h1m33 0h1m6 0h1m9 0h1m14 0h1m45 0h1m1 0h1m18 0h1m17 0h1m-1159 1h1m45 0h1m21 0h1m5 0h1m10 0h1m10 0h1m4 0h1m0 0h1m12 0h1m2 0h1m18 0h1m121 0h1m12 0h1m7 0h1m10 0h1m0 0h1m3 0h1m27 0h1m123 0h1m9 0h1m0 0h1m7 0h1m35 0h1m12 0h1m0 0h1m76 0h1m15 0h1m18 0h1m68 0h1m35 0h1m21 0h1m14 0h1m20 0h1m26 0h1m6 0h1m99 0h1m59 0h1m41 0h1m49 0h1m17 0h1m9 0h1m27 0h1m6 0h1m24 0h1m-1124 1h1m3 0h1m21 0h1m0 0h1m20 0h1m0 0h1m1 0h1m5 0h1m184 0h1m4 0h1m10 0h1m7 0h1m4 0h1m0 0h1m120 0h1m98 0h1m0 0h1m21 0h1m21 0h1m59 0h1m0 0h1m68 0h1m3 0h1m22 0h1m21 0h1m8 0h1m26 0h1m53 0h1m24 0h1m26 0h1m35 0h1m14 0h1m48 0h1m32 0h1m22 0h1m20 0h1m23 0h1m2 0h1m-1070 1h1m4 0h1m0 0h1m2 0h1m17 0h1m6 0h1m24 0h1m17 0h1m9 0h1m8 0h1m132 0h1m2 0h1m16 0h1m4 0h1m0 0h1m6 0h1m15 0h1m8 0h1m121 0h1m30 0h1m30 0h1m1 0h1m5 0h1m51 0h1m4 0h1m33 0h1m116 0h1m14 0h1m7 0h1m30 0h1m0 0h1m13 0h1m22 0h1m13 0h1m4 0h1m23 0h1m10 0h1m16 0h1m17 0h1m11 0h1m19 0h1m13 0h1m33 0h1m91 0h1m5 0h1m11 0h1m18 0h1m33 0h1m-1141 1h1m0 0h1m26 0h1m10 0h1m7 0h1m5 0h1m4 0h1m11 0h1m1 0h1m4 0h1m43 0h1m132 0h1m22 0h1m0 0h1m12 0h1m0 0h1m7 0h1m1 0h1m3 0h1m4 0h1m136 0h1m25 0h1m14 0h1m24 0h1m4 0h1m1 0h1m40 0h1m23 0h1m32 0h1m56 0h1m85 0h1m94 0h1m1 0h1m93 0h1m10 0h1m36 0h1m25 0h1m14 0h1m11 0h1m53 0h1m19 0h1m8 0h1m19 0h1m-1123 1h1m6 0h1m4 0h1m5 0h1m1 0h1m5 0h1m8 0h1m3 0h1m0 0h1m19 0h1m153 0h1m4 0h1m38 0h1m8 0h1m8 0h1m3 0h1m121 0h1m4 0h1m39 0h1m20 0h1m17 0h1m1 0h1m63 0h1m80 0h1m2 0h1m8 0h1m12 0h1m9 0h1m15 0h1m3 0h1m4 0h1m10 0h1m17 0h1m9 0h1m50 0h1m29 0h1m14 0h1m21 0h1m1 0h1m8 0h1m13 0h1m3 0h1m11 0h1m79 0h1m53 0h1m51 0h1m40 0h1m-1164 1h1m14 0h1m37 0h1m6 0h1m20 0h1m14 0h1m4 0h1m2 0h1m1 0h1m27 0h1m149 0h1m0 0h1m5 0h1m26 0h1m0 0h1m6 0h1m139 0h1m1 0h1m13 0h1m29 0h1m27 0h1m1 0h1m1 0h1m10 0h1m37 0h1m9 0h1m39 0h1m13 0h1m14 0h1m1 0h1m36 0h1m47 0h1m14 0h1m33 0h1m41 0h1m41 0h1m7 0h1m6 0h1m27 0h1m0 0h1m11 0h1m14 0h1m12 0h1m1 0h1m10 0h1m77 0h1m28 0h1m16 0h1m8 0h1m2 0h1m23 0h1m-1139 1h1m10 0h1m21 0h1m21 0h1m1 0h1m10 0h1m0 0h1m1 0h1m1 0h1m4 0h1m23 0h1m7 0h1m4 0h1m139 0h1m0 0h1m4 0h1m10 0h1m5 0h1m0 0h1m1 0h1m2 0h1m13 0h1m2 0h1m0 0h1m138 0h1m11 0h1m38 0h1m29 0h1m11 0h1m5 0h1m92 0h1m43 0h1m17 0h1m7 0h1m54 0h1m1 0h1m52 0h1m62 0h1m62 0h1m20 0h1m15 0h1m10 0h1m13 0h1m24 0h1m126 0h1m-1174 1h1m1 0h1m22 0h1m0 0h1m4 0h1m28 0h1m3 0h1m10 0h1m19 0h1m0 0h1m2 0h1m4 0h1m2 0h1m1 0h1m8 0h1m167 0h1m17 0h1m2 0h1m5 0h1m0 0h1m0 0h1m0 0h1m5 0h1m0 0h1m0 0h1m2 0h1m1 0h1m138 0h1m27 0h1m0 0h1m8 0h1m15 0h1m20 0h1m4 0h1m2 0h1m9 0h1m29 0h1m12 0h1m59 0h1m19 0h1m7 0h1m1 0h1m93 0h1m26 0h1m3 0h1m44 0h1m40 0h1m26 0h1m2 0h1m9 0h1m44 0h1m16 0h1m0 0h1m92 0h1m42 0h1m9 0h1m16 0h1m12 0h1m-1166 1h1m31 0h1m3 0h1m26 0h1m1 0h1m5 0h1m6 0h1m7 0h1m1 0h1m2 0h1m12 0h1m12 0h1m166 0h1m0 0h1m4 0h1m3 0h1m6 0h1m0 0h1m1 0h1m209 0h1m28 0h1m20 0h1m4 0h1m6 0h1m18 0h1m11 0h1m3 0h1m61 0h1m63 0h1m14 0h1m13 0h1m4 0h1m7 0h1m51 0h1m0 0h1m5 0h1m38 0h1m35 0h1m14 0h1m5 0h1m15 0h1m11 0h1m6 0h1m17 0h1m16 0h1m25 0h1m25 0h1m52 0h1m12 0h1m3 0h1m28 0h1m-1114 1h1m26 0h1m3 0h1m0 0h1m8 0h1m5 0h1m1 0h1m4 0h1m1 0h1m9 0h1m8 0h1m11 0h1m121 0h1m19 0h1m11 0h1m7 0h1m3 0h1m0 0h1m6 0h1m153 0h1m0 0h1m22 0h1m4 0h1m1 0h1m17 0h1m18 0h1m8 0h1m5 0h1m36 0h1m44 0h1m2 0h1m21 0h1m27 0h1m13 0h1m24 0h1m35 0h1m68 0h1m25 0h1m83 0h1m8 0h1m2 0h1m31 0h1m3 0h1m6 0h1m43 0h1m65 0h1m57 0h1m-1119 1h1m7 0h1m2 0h1m12 0h1m14 0h1m19 0h1m176 0h1m2 0h1m3 0h1m7 0h1m1 0h1m5 0h1m3 0h1m13 0h1m0 0h1m134 0h1m16 0h1m20 0h1m10 0h1m37 0h1m7 0h1m17 0h1m12 0h1m23 0h1m48 0h1m31 0h1m24 0h1m16 0h1m9 0h1m11 0h1m10 0h1m39 0h1m57 0h1m2 0h1m5 0h1m10 0h1m73 0h1m12 0h1m52 0h1m0 0h1m45 0h1m-1054 1h1m29 0h1m1 0h1m12 0h1m5 0h1m0 0h1m6 0h1m3 0h1m11 0h1m17 0h1m1 0h1m4 0h1m24 0h1m146 0h1m16 0h1m164 0h1m3 0h1m43 0h1m61 0h1m29 0h1m14 0h1m2 0h1m79 0h1m1 0h1m18 0h1m19 0h1m15 0h1m12 0h1m18 0h1m12 0h1m11 0h1m0 0h1m10 0h1m66 0h1m0 0h1m12 0h1m1 0h1m115 0h1m111 0h1m-1125 1h1m4 0h1m17 0h1m0 0h1m2 0h1m22 0h1m3 0h1m2 0h1m17 0h1m21 0h1m168 0h1m0 0h1m14 0h1m2 0h1m3 0h1m1 0h1m9 0h1m176 0h1m14 0h1m10 0h1m2 0h1m7 0h1m129 0h1m3 0h1m58 0h1m160 0h1m20 0h1m11 0h1m27 0h1m72 0h1m13 0h1m6 0h1m3 0h1m57 0h1m14 0h1m40 0h1m10 0h1m4 0h1m-1137 1h1m8 0h1m1 0h1m2 0h1m18 0h1m1 0h1m0 0h1m3 0h1m11 0h1m28 0h1m15 0h1m121 0h1m23 0h1m3 0h1m4 0h1m11 0h1m9 0h1m220 0h1m30 0h1m58 0h1m11 0h1m2 0h1m16 0h1m11 0h1m0 0h1m3 0h1m13 0h1m13 0h1m10 0h1m28 0h1m88 0h1m13 0h1m4 0h1m7 0h1m28 0h1m43 0h1m61 0h1m36 0h1m7 0h1m122 0h1m15 0h1m-1141 1h1m7 0h1m9 0h1m8 0h1m8 0h1m7 0h1m12 0h1m4 0h1m24 0h1m4 0h1m4 0h1m151 0h1m6 0h1m2 0h1m6 0h1m3 0h1m1 0h1m5 0h1m160 0h1m34 0h1m7 0h1m112 0h1m12 0h1m20 0h1m7 0h1m7 0h1m11 0h1m149 0h1m39 0h1m63 0h1m34 0h1m5 0h1m19 0h1m30 0h1m78 0h1m-1127 1h1m8 0h1m10 0h1m30 0h1m8 0h1m3 0h1m6 0h1m6 0h1m0 0h1m10 0h1m14 0h1m1 0h1m26 0h1m149 0h1m4 0h1m12 0h1m4 0h1m10 0h1m12 0h1m180 0h1m2 0h1m27 0h1m29 0h1m1 0h1m1 0h1m5 0h1m25 0h1m25 0h1m58 0h1m1 0h1m14 0h1m99 0h1m4 0h1m1 0h1m50 0h1m36 0h1m35 0h1m23 0h1m11 0h1m46 0h1m6 0h1m9 0h1m1 0h1m20 0h1m1 0h1m16 0h1m10 0h1m39 0h1m1 0h1m29 0h1m-1112 1h1m12 0h1m5 0h1m2 0h1m0 0h1m8 0h1m0 0h1m7 0h1m2 0h1m29 0h1m158 0h1m17 0h1m15 0h1m153 0h1m19 0h1m1 0h1m4 0h1m22 0h1m8 0h1m26 0h1m45 0h1m8 0h1m6 0h1m4 0h1m8 0h1m2 0h1m12 0h1m6 0h1m18 0h1m50 0h1m16 0h1m14 0h1m3 0h1m10 0h1m14 0h1m116 0h1m0 0h1m48 0h1m25 0h1m26 0h1m13 0h1m12 0h1m0 0h1m26 0h1m19 0h1m0 0h1m48 0h1m1 0h1m18 0h1m-1143 1h1m0 0h1m8 0h1m7 0h1m9 0h1m8 0h1m0 0h1m8 0h1m2 0h1m6 0h1m15 0h1m6 0h1m3 0h1m2 0h1m0 0h1m1 0h1m373 0h1m6 0h1m6 0h1m3 0h1m30 0h1m11 0h1m6 0h1m11 0h1m5 0h1m9 0h1m5 0h1m12 0h1m48 0h1m38 0h1m38 0h1m21 0h1m6 0h1m7 0h1m31 0h1m7 0h1m7 0h1m13 0h1m3 0h1m10 0h1m75 0h1m28 0h1m36 0h1m1 0h1m35 0h1m7 0h1m20 0h1m0 0h1m35 0h1m1 0h1m4 0h1m54 0h1m7 0h1m2 0h1m17 0h1m-1168 1h1m3 0h1m13 0h1m8 0h1m3 0h1m13 0h1m1 0h1m0 0h1m0 0h1m17 0h1m1 0h1m1 0h1m19 0h1m0 0h1m38 0h1m2 0h1m335 0h1m28 0h1m8 0h1m19 0h1m59 0h1m19 0h1m9 0h1m16 0h1m9 0h1m9 0h1m11 0h1m5 0h1m52 0h1m6 0h1m7 0h1m49 0h1m76 0h1m32 0h1m4 0h1m57 0h1m47 0h1m10 0h1m2 0h1m40 0h1m2 0h1m10 0h1m20 0h1m34 0h1m4 0h1m7 0h1m17 0h1m1 0h1m6 0h1m-1178 1h1m26 0h1m12 0h1m15 0h1m1 0h1m1 0h1m4 0h1m2 0h1m4 0h1m4 0h1m14 0h1m4 0h1m417 0h1m6 0h1m1 0h1m4 0h1m29 0h1m5 0h1m10 0h1m12 0h1m26 0h1m0 0h1m48 0h1m78 0h1m24 0h1m15 0h1m8 0h1m44 0h1m12 0h1m30 0h1m20 0h1m28 0h1m0 0h1m32 0h1m100 0h1m20 0h1m5 0h1m32 0h1m-1139 1h1m7 0h1m0 0h1m15 0h1m31 0h1m6 0h1m24 0h1m0 0h1m15 0h1m376 0h1m26 0h1m5 0h1m20 0h1m7 0h1m24 0h1m12 0h1m5 0h1m14 0h1m14 0h1m25 0h1m16 0h1m14 0h1m0 0h1m1 0h1m4 0h1m25 0h1m3 0h1m2 0h1m14 0h1m8 0h1m22 0h1m9 0h1m40 0h1m29 0h1m9 0h1m43 0h1m2 0h1m2 0h1m0 0h1m0 0h1m53 0h1m16 0h1m30 0h1m5 0h1m62 0h1m38 0h1m2 0h1m-1066 1h1m1 0h1m8 0h1m2 0h1m3 0h1m9 0h1m8 0h1m1 0h1m4 0h1m1 0h1m0 0h1m3 0h1m387 0h1m49 0h1m66 0h1m25 0h1m4 0h1m72 0h1m2 0h1m125 0h1m2 0h1m38 0h1m9 0h1m72 0h1m1 0h1m6 0h1m28 0h1m48 0h1m85 0h1m16 0h1m-1150 1h1m17 0h1m44 0h1m18 0h1m2 0h1m0 0h1m11 0h1m371 0h1m0 0h1m13 0h1m2 0h1m15 0h1m28 0h1m10 0h1m3 0h1m27 0h1m7 0h1m68 0h1m29 0h1m7 0h1m30 0h1m14 0h1m2 0h1m17 0h1m7 0h1m17 0h1m26 0h1m68 0h1m47 0h1m0 0h1m2 0h1m8 0h1m38 0h1m24 0h1m52 0h1m4 0h1m4 0h1m29 0h1m37 0h1m18 0h1m-1166 1h1m41 0h1m10 0h1m2 0h1m6 0h1m1 0h1m3 0h1m6 0h1m4 0h1m8 0h1m3 0h1m1 0h1m7 0h1m425 0h1m5 0h1m21 0h1m0 0h1m2 0h1m26 0h1m1 0h1m12 0h1m36 0h1m48 0h1m7 0h1m3 0h1m38 0h1m14 0h1m3 0h1m0 0h1m63 0h1m0 0h1m17 0h1m2 0h1m2 0h1m27 0h1m1 0h1m1 0h1m88 0h1m1 0h1m3 0h1m6 0h1m21 0h1m11 0h1m30 0h1m49 0h1m23 0h1m29 0h1m14 0h1m-1173 1h1m9 0h1m49 0h1m1 0h1m3 0h1m486 0h1m17 0h1m11 0h1m22 0h1m19 0h1m0 0h1m33 0h1m23 0h1m15 0h1m107 0h1m52 0h1m7 0h1m94 0h1m46 0h1m38 0h1m34 0h1m59 0h1m6 0h1m8 0h1m-1156 1h1m38 0h1m1 0h1m4 0h1m3 0h1m9 0h1m1 0h1m12 0h1m0 0h1m7 0h1m3 0h1m1 0h1m1 0h1m399 0h1m34 0h1m37 0h1m10 0h1m31 0h1m14 0h1m37 0h1m17 0h1m20 0h1m12 0h1m55 0h1m15 0h1m6 0h1m15 0h1m35 0h1m35 0h1m12 0h1m1 0h1m2 0h1m17 0h1m18 0h1m11 0h1m0 0h1m14 0h1m13 0h1m2 0h1m10 0h1m10 0h1m122 0h1m7 0h1m13 0h1m11 0h1m9 0h1m-1166 1h1m5 0h1m30 0h1m4 0h1m1 0h1m1 0h1m12 0h1m10 0h1m3 0h1m21 0h1m395 0h1m5 0h1m44 0h1m0 0h1m21 0h1m20 0h1m12 0h1m26 0h1m14 0h1m26 0h1m24 0h1m5 0h1m1 0h1m31 0h1m25 0h1m12 0h1m3 0h1m5 0h1m4 0h1m23 0h1m18 0h1m8 0h1m7 0h1m2 0h1m21 0h1m26 0h1m0 0h1m7 0h1m41 0h1m29 0h1m17 0h1m19 0h1m3 0h1m5 0h1m24 0h1m27 0h1m40 0h1m10 0h1m2 0h1m34 0h1m4 0h1m-1184 1h1m53 0h1m0 0h1m10 0h1m3 0h1m3 0h1m1 0h1m6 0h1m7 0h1m4 0h1m413 0h1m9 0h1m36 0h1m25 0h1m5 0h1m13 0h1m41 0h1m4 0h1m25 0h1m15 0h1m13 0h1m91 0h1m27 0h1m68 0h1m12 0h1m11 0h1m0 0h1m17 0h1m18 0h1m7 0h1m35 0h1m17 0h1m30 0h1m45 0h1m41 0h1m19 0h1m-1135 1h1m21 0h1m1 0h1m0 0h1m14 0h1m21 0h1m4 0h1m1 0h1m3 0h1m1 0h1m1 0h1m399 0h1m6 0h1m0 0h1m24 0h1m2 0h1m33 0h1m13 0h1m45 0h1m14 0h1m131 0h1m13 0h1m12 0h1m18 0h1m79 0h1m22 0h1m6 0h1m15 0h1m53 0h1m20 0h1m14 0h1m72 0h1m10 0h1m3 0h1m15 0h1m3 0h1m24 0h1m-1121 1h1m1 0h1m20 0h1m5 0h1m3 0h1m0 0h1m5 0h1m6 0h1m3 0h1m410 0h1m1 0h1m18 0h1m2 0h1m41 0h1m49 0h1m26 0h1m11 0h1m20 0h1m29 0h1m28 0h1m14 0h1m110 0h1m4 0h1m77 0h1m3 0h1m50 0h1m48 0h1m6 0h1m24 0h1m40 0h1m3 0h1m-1128 1h1m2 0h1m27 0h1m0 0h1m5 0h1m3 0h1m17 0h1m6 0h1m16 0h1m413 0h1m34 0h1m14 0h1m23 0h1m23 0h1m28 0h1m8 0h1m5 0h1m18 0h1m8 0h1m43 0h1m1 0h1m13 0h1m61 0h1m7 0h1m91 0h1m44 0h1m8 0h1m18 0h1m5 0h1m48 0h1m2 0h1m15 0h1m31 0h1m62 0h1m9 0h1m15 0h1m-1179 1h1m12 0h1m44 0h1m9 0h1m0 0h1m1 0h1m3 0h1m0 0h1m1 0h1m0 0h1m14 0h1m3 0h1m3 0h1m437 0h1m3 0h1m1 0h1m19 0h1m27 0h1m0 0h1m7 0h1m1 0h1m6 0h1m6 0h1m52 0h1m25 0h1m2 0h1m48 0h1m24 0h1m53 0h1m25 0h1m13 0h1m21 0h1m1 0h1m23 0h1m12 0h1m28 0h1m4 0h1m48 0h1m1 0h1m9 0h1m20 0h1m13 0h1m0 0h1m80 0h1m-1141 1h1m15 0h1m1 0h1m32 0h1m7 0h1m5 0h1m0 0h1m0 0h1m6 0h1m16 0h1m0 0h1m0 0h1m8 0h1m3 0h1m446 0h1m29 0h1m2 0h1m29 0h1m33 0h1m28 0h1m27 0h1m6 0h1m28 0h1m7 0h1m35 0h1m0 0h1m4 0h1m22 0h1m14 0h1m34 0h1m49 0h1m5 0h1m8 0h1m4 0h1m43 0h1m8 0h1m17 0h1m15 0h1m2 0h1m8 0h1m12 0h1m73 0h1m30 0h1m5 0h1m10 0h1m8 0h1m1 0h1m-1170 1h1m1 0h1m15 0h1m17 0h1m5 0h1m2 0h1m2 0h1m10 0h1m8 0h1m17 0h1m4 0h1m0 0h1m432 0h1m49 0h1m15 0h1m11 0h1m43 0h1m15 0h1m88 0h1m99 0h1m87 0h1m5 0h1m9 0h1m1 0h1m116 0h1m44 0h1m12 0h1m3 0h1m5 0h1m17 0h1m6 0h1m-1170 1h1m10 0h1m30 0h1m4 0h1m8 0h1m3 0h1m14 0h1m3 0h1m2 0h1m1 0h1m1 0h1m5 0h1m1 0h1m437 0h1m15 0h1m31 0h1m22 0h1m9 0h1m5 0h1m46 0h1m44 0h1m29 0h1m9 0h1m6 0h1m3 0h1m29 0h1m0 0h1m17 0h1m2 0h1m14 0h1m32 0h1m57 0h1m40 0h1m24 0h1m3 0h1m74 0h1m2 0h1m56 0h1m19 0h1m1 0h1m7 0h1m2 0h1m5 0h1m-1136 1h1m4 0h1m9 0h1m10 0h1m17 0h1m18 0h1m466 0h1m63 0h1m15 0h1m0 0h1m16 0h1m78 0h1m82 0h1m22 0h1m21 0h1m8 0h1m8 0h1m16 0h1m18 0h1m11 0h1m52 0h1m0 0h1m81 0h1m10 0h1m50 0h1m13 0h1m-1141 1h1m3 0h1m27 0h1m16 0h1m7 0h1m4 0h1m4 0h1m2 0h1m20 0h1m459 0h1m19 0h1m6 0h1m26 0h1m8 0h1m17 0h1m53 0h1m32 0h1m11 0h1m19 0h1m7 0h1m67 0h1m9 0h1m0 0h1m6 0h1m17 0h1m1 0h1m18 0h1m5 0h1m29 0h1m24 0h1m52 0h1m27 0h1m34 0h1m7 0h1m101 0h1m-1180 1h1m15 0h1m38 0h1m11 0h1m6 0h1m2 0h1m0 0h1m1 0h1m2 0h1m5 0h1m476 0h1m27 0h1m14 0h1m23 0h1m2 0h1m24 0h1m5 0h1m12 0h1m11 0h1m19 0h1m6 0h1m4 0h1m5 0h1m15 0h1m11 0h1m12 0h1m10 0h1m3 0h1m51 0h1m41 0h1m30 0h1m19 0h1m14 0h1m23 0h1m28 0h1m38 0h1m0 0h1m18 0h1m4 0h1m4 0h1m15 0h1m25 0h1m28 0h1m-1145 1h1m46 0h1m4 0h1m1 0h1m4 0h1m9 0h1m4 0h1m4 0h1m0 0h1m10 0h1m2 0h1m5 0h1m462 0h1m9 0h1m28 0h1m128 0h1m21 0h1m58 0h1m25 0h1m20 0h1m67 0h1m6 0h1m1 0h1m5 0h1m24 0h1m18 0h1m15 0h1m19 0h1m43 0h1m9 0h1m56 0h1m5 0h1m7 0h1m2 0h1m22 0h1m0 0h1m4 0h1m-1132 1h1m6 0h1m0 0h1m20 0h1m0 0h1m5 0h1m4 0h1m1 0h1m498 0h1m11 0h1m10 0h1m25 0h1m7 0h1m17 0h1m21 0h1m16 0h1m48 0h1m7 0h1m19 0h1m9 0h1m3 0h1m92 0h1m7 0h1m32 0h1m37 0h1m7 0h1m24 0h1m48 0h1m0 0h1m32 0h1m8 0h1m36 0h1m-1082 1h1m24 0h1m2 0h1m9 0h1m1 0h1m16 0h1m457 0h1m0 0h1m19 0h1m43 0h1m0 0h1m5 0h1m26 0h1m106 0h1m16 0h1m21 0h1m18 0h1m26 0h1m1 0h1m1 0h1m33 0h1m12 0h1m12 0h1m11 0h1m29 0h1m30 0h1m41 0h1m35 0h1m0 0h1m12 0h1m5 0h1m2 0h1m0 0h1m46 0h1m0 0h1m-1124 1h1m28 0h1m0 0h1m0 0h1m10 0h1m6 0h1m1 0h1m20 0h1m3 0h1m5 0h1m0 0h1m471 0h1m16 0h1m33 0h1m10 0h1m12 0h1m18 0h1m69 0h1m77 0h1m46 0h1m40 0h1m4 0h1m96 0h1m34 0h1m0 0h1m5 0h1m12 0h1m3 0h1m20 0h1m11 0h1m15 0h1m15 0h1m21 0h1m-1112 1h1m9 0h1m5 0h1m6 0h1m8 0h1m6 0h1m1 0h1m10 0h1m6 0h1m1 0h1m500 0h1m16 0h1m27 0h1m5 0h1m11 0h1m15 0h1m2 0h1m11 0h1m9 0h1m1 0h1m20 0h1m19 0h1m1 0h1m2 0h1m39 0h1m51 0h1m18 0h1m67 0h1m21 0h1m72 0h1m24 0h1m8 0h1m32 0h1m14 0h1m49 0h1m11 0h1m-1174 1h1m41 0h1m0 0h1m5 0h1m2 0h1m18 0h1m17 0h1m3 0h1m0 0h1m5 0h1m492 0h1m1 0h1m44 0h1m10 0h1m0 0h1m15 0h1m36 0h1m30 0h1m14 0h1m17 0h1m32 0h1m19 0h1m26 0h1m55 0h1m20 0h1m19 0h1m21 0h1m0 0h1m-919 1h1m6 0h1m0 0h1m1 0h1m0 0h1m8 0h1m3 0h1m14 0h1m6 0h1m4 0h1m0 0h1m563 0h1m63 0h1m11 0h1m28 0h1m6 0h1m45 0h1m13 0h1m11 0h1m13 0h1m25 0h1m148 0h1m8 0h1m6 0h1m0 0h1m66 0h1m12 0h1m18 0h1m15 0h1m1 0h1m-1124 1h1m7 0h1m9 0h1m13 0h1m1 0h1m6 0h1m16 0h1m514 0h1m0 0h1m13 0h1m2 0h1m52 0h1m47 0h1m14 0h1m7 0h1m2 0h1m1 0h1m10 0h1m26 0h1m22 0h1m17 0h1m7 0h1m110 0h1m11 0h1m22 0h1m23 0h1m18 0h1m0 0h1m24 0h1m24 0h1m17 0h1m28 0h1m0 0h1m31 0h1m6 0h1m-1184 1h1m10 0h1m593 0h1m33 0h1m16 0h1m39 0h1m11 0h1m42 0h1m24 0h1m42 0h1m18 0h1m60 0h1m10 0h1m0 0h1m3 0h1m8 0h1m20 0h1m1 0h1m6 0h1m39 0h1m66 0h1m31 0h1m17 0h1m40 0h1m0 0h1m15 0h1m-545 1h1m52 0h1m2 0h1m25 0h1m31 0h1m4 0h1m11 0h1m4 0h1m3 0h1m1 0h1m8 0h1m65 0h1m32 0h1m4 0h1m92 0h1m53 0h1m16 0h1m5 0h1m45 0h1m8 0h1m12 0h1m51 0h1m7 0h1m-1160 1h1m638 0h1m43 0h1m4 0h1m19 0h1m1 0h1m6 0h1m17 0h1m0 0h1m19 0h1m21 0h1m93 0h1m1 0h1m7 0h1m26 0h1m95 0h1m3 0h1m9 0h1m13 0h1m17 0h1m39 0h1m65 0h1m1 0h1m-1174 1h1m13 0h1m9 0h1m617 0h1m17 0h1m43 0h1m7 0h1m13 0h1m22 0h1m6 0h1m4 0h1m16 0h1m21 0h1m23 0h1m67 0h1m34 0h1m11 0h1m14 0h1m116 0h1m5 0h1m7 0h1m19 0h1m20 0h1m9 0h1m2 0h1m-1123 1h1m615 0h1m25 0h1m48 0h1m2 0h1m122 0h1m31 0h1m24 0h1m5 0h1m3 0h1m21 0h1m182 0h1m5 0h1m-1103 1h1m4 0h1m1 0h1m693 0h1m19 0h1m61 0h1m29 0h1m6 0h1m1 0h1m59 0h1m23 0h1m64 0h1m7 0h1m8 0h1m1 0h1m63 0h1m5 0h1m44 0h1m3 0h1m10 0h1m40 0h1m-494 1h1m12 0h1m10 0h1m12 0h1m3 0h1m15 0h1m2 0h1m3 0h1m1 0h1m21 0h1m1 0h1m2 0h1m220 0h1m1 0h1m14 0h1m2 0h1m14 0h1m23 0h1m2 0h1m12 0h1m83 0h1m0 0h1m17 0h1m-536 1h1m45 0h1m8 0h1m19 0h1m50 0h1m22 0h1m1 0h1m4 0h1m33 0h1m0 0h1m151 0h1m11 0h1m9 0h1m12 0h1m1 0h1m8 0h1m17 0h1m14 0h1m104 0h1m17 0h1m-521 1h1m3 0h1m16 0h1m43 0h1m2 0h1m36 0h1m0 0h1m35 0h1m0 0h1m11 0h1m219 0h1m6 0h1m11 0h1m29 0h1m4 0h1m14 0h1m5 0h1m13 0h1m7 0h1m9 0h1m12 0h1m-447 1h1m4 0h1m84 0h1m180 0h1m57 0h1m18 0h1m23 0h1m18 0h1m37 0h1m14 0h1m25 0h1m-514 1h1m0 0h1m7 0h1m12 0h1m14 0h1m54 0h1m2 0h1m6 0h1m5 0h1m20 0h1m19 0h1m191 0h1m0 0h1m1 0h1m40 0h1m49 0h1m20 0h1m10 0h1m9 0h1m11 0h1m-512 1h1m2 0h1m6 0h1m27 0h1m9 0h1m0 0h1m4 0h1m0 0h1m37 0h1m11 0h1m9 0h1m3 0h1m0 0h1m10 0h1m233 0h1m20 0h1m92 0h1m3 0h1m25 0h1m3 0h1m16 0h1m-531 1h1m4 0h1m1 0h1m89 0h1m37 0h1m27 0h1m185 0h1m19 0h1m6 0h1m112 0h1m23 0h1m13 0h1m-519 1h1m21 0h1m25 0h1m10 0h1m12 0h1m10 0h1m39 0h1m39 0h1m206 0h1m38 0h1m0 0h1m2 0h1m3 0h1m46 0h1m44 0h1m-472 1h1m90 0h1m23 0h1m220 0h1m2 0h1m22 0h1m46 0h1m4 0h1m5 0h1m35 0h1m15 0h1m18 0h1m-497 1h1m48 0h1m23 0h1m54 0h1m198 0h1m6 0h1m6 0h1m2 0h1m18 0h1m0 0h1m12 0h1m3 0h1m13 0h1m6 0h1m12 0h1m25 0h1m-437 1h1m16 0h1m11 0h1m10 0h1m7 0h1m32 0h1m7 0h1m9 0h1m223 0h1m28 0h1m20 0h1m8 0h1m22 0h1m12 0h1m6 0h1m1 0h1m43 0h1m-491 1h1m39 0h1m20 0h1m7 0h1m5 0h1m0 0h1m48 0h1m263 0h1m12 0h1m4 0h1m4 0h1m14 0h1m16 0h1m9 0h1m35 0h1m-434 1h1m42 0h1m259 0h1m5 0h1m5 0h1m3 0h1m92 0h1m10 0h1m16 0h1m-503 1h1m32 0h1m59 0h1m38 0h1m5 0h1m220 0h1m4 0h1m10 0h1m22 0h1m15 0h1m20 0h1m28 0h1m26 0h1m8 0h1m6 0h1m-497 1h1m70 0h1m19 0h1m14 0h1m7 0h1m231 0h1m31 0h1m56 0h1m35 0h1m-482 1h1m38 0h1m1 0h1m4 0h1m2 0h1m33 0h1m305 0h1m44 0h1m29 0h1m-438 1h1m4 0h1m2 0h1m39 0h1m17 0h1m5 0h1m321 0h1m33 0h1m-451 1h1m4 0h1m25 0h1m16 0h1m4 0h1m11 0h1m53 0h1m256 0h1m60 0h1m23 0h1m28 0h1m11 0h1m-497 1h1m6 0h1m30 0h1m8 0h1m16 0h1m301 0h1m19 0h1m1 0h1m36 0h1m44 0h1m9 0h1m4 0h1m2 0h1m3 0h1m-494 1h1m2 0h1m46 0h1m0 0h1m25 0h1m0 0h1m33 0h1m2 0h1m269 0h1m30 0h1m36 0h1m-452 1h1m0 0h1m5 0h1m24 0h1m16 0h1m21 0h1m17 0h1m2 0h1m277 0h1m24 0h1m51 0h1m20 0h1m20 0h1m-494 1h1m33 0h1m1 0h1m3 0h1m27 0h1m0 0h1m310 0h1m31 0h1m3 0h1m12 0h1m1 0h1m20 0h1m3 0h1m19 0h1m19 0h1m-483 1h1m10 0h1m4 0h1m18 0h1m3 0h1m35 0h1m360 0h1m-409 1h1m37 0h1m3 0h1m0 0h1m0 0h1m335 0h1m52 0h1m-458 1h1m16 0h1m25 0h1m4 0h1m36 0h1m3 0h1m304 0h1m6 0h1m81 0h1m-486 1h1m10 0h1m13 0h1m4 0h1m3 0h1m23 0h1m13 0h1m6 0h1m312 0h1m11 0h1m52 0h1m-461 1h1m0 0h1m19 0h1m27 0h1m3 0h1m39 0h1m332 0h1m25 0h1m12 0h1m1 0h1m-438 1h1m49 0h1m0 0h1m2 0h1m318 0h1m12 0h1m35 0h1m14 0h1m-468 1h1m2 0h1m37 0h1m387 0h1m20 0h1m8 0h1m-444 1h1m63 0h1m-48 1h1m42 0h1m0 0h1m365 0h1m-407 1h1m24 0h1m10 0h1m8 0h1m336 0h1m60 0h1m6 0h1m-472 1h1m4 0h1m53 0h1m355 0h1m1 0h1m-397 1h1m29 0h1m6 0h1m371 0h1m-418 1h1m4 0h1m12 0h1m392 0h1m6 0h1m-431 1h1m2 0h1m450 0h1m3 0h1m-20 1h1m-424 1h1m4 0h1m436 0h1m-453 1h1m8 0h1m23 0h1m419 0h1m4 0h1m8 0h1m1 0h1m-450 1h1m5 0h1m0 0h1m422 0h1m-438 1h1m11 1h1m436 1h1" stroke="#0000ff" stroke-width="1.55" stroke-opacity="0.82" stroke-linecap="round" fill="none"/>
<polyline points="60.7,1045.5 62.2,1045.1 63.7,1045.0 65.2,1044.6 66.7,1044.6 68.2,1044.7 69.7,1044.6 71.2,1044.2 72.7,1044.2 74.2,1044.1 75.7,1043.8 77.2,1044.2 78.7,1044.1 80.2,1043.8 81.7,1044.4 83.2,1044.2 84.7,1043.8 86.2,1044.0 87.7,1043.2 89.2,1042.8 90.7,1042.5 92.2,1042.4 93.7,1042.5 95.2,1042.4 96.7,1041.8 98.2,1041.4 99.7,1041.0 101.2,1040.6 102.7,1040.4 104.2,1039.7 105.7,1038.6 107.2,1038.0 108.7,1037.9 110.2,1038.0 111.7,1037.6 113.2,1036.5 114.7,1035.6 116.2,1034.9 117.7,1034.3 119.2,1033.1 120.7,1031.5 122.2,1031.2 123.7,1030.2 125.2,1028.6 126.7,1028.2 128.2,1027.6 129.7,1026.3 131.2,1025.1 132.7,1023.8 134.2,1022.3 135.7,1021.4 137.2,1020.0 138.7,1018.7 140.2,1017.6 141.7,1017.1 143.2,1016.8 144.7,1015.1 146.2,1013.3 147.7,1012.6 149.2,1013.6 150.7,1014.6 152.2,1015.7 153.7,1016.6 155.2,1017.0 156.7,1016.7 158.2,1017.2 159.7,1017.7 161.2,1018.0 162.7,1018.2 164.2,1016.8 165.7,1015.9 167.2,1015.7 168.7,1015.2 170.2,1013.9 171.7,1012.4 173.2,1010.7 174.7,1010.6 176.2,1011.7 177.7,1012.3 179.2,1012.3 180.7,1011.3 182.2,1011.3 183.7,1011.8 185.2,1011.8 186.7,1011.7 188.2,1011.2 189.7,1012.2 191.2,1013.4 192.7,1015.1 194.2,1016.7 195.7,1017.7 197.2,1018.8 198.7,1019.9 200.2,1020.9 201.7,1021.4 203.2,1022.5 204.7,1023.3 206.2,1023.4 207.7,1023.3 209.2,1024.3 210.7,1025.1 212.2,1025.4 213.7,1025.6 215.2,1026.0 216.7,1026.7 218.2,1026.9 219.7,1027.2 221.2,1027.0 222.7,1026.5 224.2,1026.4 225.7,1025.9 227.2,1025.3 228.7,1025.0 230.2,1024.3 231.7,1023.2 233.2,1021.9 234.7,1020.7 236.2,1018.7 237.7,1017.7 239.2,1016.6 240.7,1014.4 242.2,1013.7 243.7,1013.3 245.2,1011.5 246.7,1010.2 248.2,1009.4 249.7,1008.5 251.2,1007.2 252.7,1006.0 254.2,1004.6 255.7,1003.1 257.2,1003.8 258.7,1004.8 260.2,1005.8 261.7,1007.1 263.2,1008.4 264.7,1010.2 266.2,1012.1 267.7,1013.4 269.2,1014.0 270.7,1014.7 272.2,1015.7 273.7,1016.3 275.2,1016.5 276.7,1017.4 278.2,1018.8 279.7,1018.7 281.2,1017.3 282.7,1016.5 284.2,1015.3 285.7,1014.0 287.2,1012.6 288.7,1012.4 290.2,1014.5 291.7,1015.9 293.2,1017.6 294.7,1019.8 296.2,1022.3 297.7,1024.3 299.2,1025.6 300.7,1027.5 302.2,1029.4 303.7,1031.2 305.2,1032.3 306.7,1032.6 308.2,1032.9 309.7,1033.5 311.2,1033.3 312.7,1033.5 314.2,1034.3 315.7,1034.7 317.2,1034.8 318.7,1034.7 320.2,1034.8 321.7,1034.7 323.2,1033.7 324.7,1032.7 326.2,1032.0 327.7,1031.3 329.2,1031.0 330.7,1030.9 332.2,1030.3 333.7,1029.5 335.2,1028.7 336.7,1028.0 338.2,1028.5 339.7,1029.9 341.2,1030.1 342.7,1030.6 344.2,1032.8 345.7,1034.2 347.2,1035.1 348.7,1036.3 350.2,1037.0 351.7,1038.1 353.2,1038.5 354.7,1039.4 356.2,1040.1 357.7,1040.2 359.2,1041.3 360.7,1041.7 362.2,1041.4 363.7,1041.3 365.2,1042.1 366.7,1042.9 368.2,1043.2 369.7,1043.8 371.2,1043.8 372.7,1043.9 374.2,1044.2 375.7,1044.4 377.2,1044.6 378.7,1045.3 380.2,1045.7 381.7,1046.0 383.2,1046.4 384.7,1046.3 386.2,1047.4 387.7,1048.5 389.2,1049.7 390.7,1051.0 392.2,1051.6 393.7,1053.0 395.2,1054.5 396.7,1055.7 398.2,1056.6 399.7,1057.4 401.2,1058.2 402.7,1058.6 404.2,1059.1 405.7,1059.7 407.2,1060.0 408.7,1060.4 410.2,1061.0 411.7,1061.7 413.2,1062.5 414.7,1062.8 416.2,1063.2 417.7,1063.6 419.2,1064.0 420.7,1064.6 422.2,1064.6 423.7,1065.0 425.2,1064.9 426.7,1064.0 428.2,1064.5 429.7,1064.9 431.2,1064.8 432.7,1065.0 434.2,1065.0 435.7,1065.0 437.2,1064.6 438.7,1063.9 440.2,1063.7 441.7,1063.4 443.2,1063.0 444.7,1063.1 446.2,1063.1 447.7,1062.0 449.2,1061.6 450.7,1061.0 452.2,1059.9 453.7,1059.3 455.2,1058.6 456.7,1057.8 458.2,1056.8 459.7,1056.3 461.2,1056.3 462.7,1055.0 464.2,1053.5 465.7,1052.9 467.2,1051.9 468.7,1050.8 470.2,1049.6 471.7,1048.1 473.2,1046.9 474.7,1045.8 476.2,1045.3 477.7,1045.9 479.2,1046.0 480.7,1046.7 482.2,1046.4 483.7,1045.6 485.2,1045.3 486.7,1045.2 488.2,1045.1 489.7,1044.7 491.2,1043.8 492.7,1043.6 494.2,1044.1 495.7,1044.4 497.2,1044.5 498.7,1044.4 500.2,1044.7 501.7,1045.5 503.2,1045.7 504.7,1045.7 506.2,1045.5 507.7,1045.8 509.2,1046.5 510.7,1046.5 512.2,1046.5 513.7,1047.0 515.2,1046.6 516.7,1046.0 518.2,1045.6 519.7,1045.2 521.2,1045.2 522.7,1044.7 524.2,1044.1 525.7,1043.8 527.2,1043.7 528.7,1042.9 530.2,1041.4 531.7,1039.7 533.2,1038.5 534.7,1037.5 536.2,1035.9 537.7,1034.8 539.2,1034.2 540.7,1035.7 542.2,1037.1 543.7,1038.7 545.2,1040.8 546.7,1042.1 548.2,1043.6 549.7,1045.7 551.2,1045.5 552.7,1045.7 554.2,1046.5 555.7,1046.1 557.2,1046.1 558.7,1046.5 560.2,1046.3 561.7,1046.9 563.2,1047.4 564.7,1047.7 566.2,1048.1 567.7,1048.3 569.2,1048.8 570.7,1049.1 572.2,1049.0 573.7,1049.3 575.2,1049.8 576.7,1049.8 578.2,1050.3 579.7,1050.8 581.2,1050.7 582.7,1051.1 584.2,1051.5 585.7,1051.7 587.2,1051.8 588.7,1052.1 590.2,1052.1 591.7,1052.4 593.2,1053.1 594.7,1053.3 596.2,1054.1 597.7,1054.6 599.2,1055.0 600.7,1054.5 602.2,1054.5 603.7,1055.5 605.2,1055.9 606.7,1056.1 608.2,1056.1 609.7,1056.4 611.2,1056.7 612.7,1056.6 614.2,1057.0 615.7,1057.6 617.2,1057.6 618.7,1057.9 620.2,1058.0 621.7,1058.3 623.2,1059.2 624.7,1059.3 626.2,1059.0 627.7,1059.6 629.2,1060.1 630.7,1060.6 632.2,1061.0 633.7,1061.0 635.2,1061.4 636.7,1061.8 638.2,1062.3 639.7,1062.5 641.2,1062.7 642.7,1063.2 644.2,1063.3 645.7,1063.4 647.2,1064.1 648.7,1064.4 650.2,1064.9 651.7,1065.6 653.2,1065.3 654.7,1065.5 655.5,1065.8" fill="none" stroke="#0000e0" stroke-width="2.3" stroke-linejoin="round"/>
<path transform="scale(0.5)" d="M514 1999h1m-1 1h1m-5 2h1m2 0h1m-10 2h1m7 0h1m6 1h1m-6 1h1m0 0h1m0 0h1m-9 1h1m-4 1h1m0 0h1m12 0h1m-13 1h1m10 0h1m7 0h1m-11 1h1m-24 1h1m29 0h1m-23 1h1m3 0h1m16 0h1m-26 1h1m8 0h1m14 0h1m-24 1h1m24 0h1m5 0h1m-8 1h1m53 0h1m-228 1h1m0 0h1m139 0h1m4 0h1m5 0h1m23 0h1m1 0h1m-181 1h1m1 0h1m0 0h1m8 0h1m10 0h1m126 0h1m28 0h1m-178 1h1m2 0h1m9 0h1m8 0h1m1 0h1m113 0h1m4 0h1m37 0h1m0 0h1m-177 1h1m2 0h1m11 0h1m0 0h1m119 0h1m85 0h1m-232 1h1m3 0h1m0 0h1m0 0h1m17 0h1m4 0h1m113 0h1m43 0h1m39 0h1m-219 1h1m2 0h1m1 0h1m11 0h1m1 0h1m112 0h1m4 0h1m84 0h1m1 0h1m-288 1h1m52 0h1m0 0h1m2 0h1m10 0h1m6 0h1m0 0h1m1 0h1m119 0h1m41 0h1m41 0h1m-279 1h1m57 0h1m0 0h1m5 0h1m5 0h1m5 0h1m4 0h1m5 0h1m101 0h1m91 0h1m-212 1h1m0 0h1m5 0h1m103 0h1m2 0h1m15 0h1m36 0h1m4 0h1m32 0h1m0 0h1m4 0h1m-287 1h1m4 0h1m0 0h1m2 0h1m40 0h1m7 0h1m10 0h1m121 0h1m2 0h1m2 0h1m43 0h1m0 0h1m2 0h1m38 0h1m-287 1h1m51 0h1m9 0h1m3 0h1m16 0h1m2 0h1m6 0h1m154 0h1m3 0h1m6 0h1m16 0h1m13 0h1m1 0h1m-291 1h1m2 0h1m0 0h1m41 0h1m2 0h1m13 0h1m28 0h1m2 0h1m92 0h1m4 0h1m84 0h1m0 0h1m3 0h1m-286 1h1m0 0h1m0 0h1m0 0h1m1 0h1m0 0h1m1 0h1m2 0h1m0 0h1m8 0h1m1 0h1m22 0h1m1 0h1m3 0h1m137 0h1m60 0h1m2 0h1m27 0h1m2 0h1m-102 1h1m5 0h1m88 0h1m-291 1h1m6 0h1m10 0h1m8 0h1m0 0h1m3 0h1m0 0h1m2 0h1m12 0h1m151 0h1m79 0h1m3 0h1m6 0h1m1 0h1m6 0h1m0 0h1m1 0h1m3 0h1m-306 1h1m0 0h1m2 0h1m29 0h1m14 0h1m56 0h1m1 0h1m2 0h1m7 0h1m77 0h1m63 0h1m5 0h1m17 0h1m15 0h1m2 0h1m-282 1h1m5 0h1m2 0h1m23 0h1m49 0h1m158 0h1m4 0h1m5 0h1m5 0h1m19 0h1m2 0h1m-307 1h1m4 0h1m0 0h1m0 0h1m14 0h1m9 0h1m6 0h1m2 0h1m6 0h1m58 0h1m78 0h1m6 0h1m70 0h1m2 0h1m5 0h1m8 0h1m-289 1h1m30 0h1m1 0h1m7 0h1m3 0h1m1 0h1m4 0h1m61 0h1m171 0h1m22 0h1m0 0h1m-304 1h1m24 0h1m2 0h1m3 0h1m3 0h1m1 0h1m1 0h1m8 0h1m54 0h1m3 0h1m81 0h1m73 0h1m11 0h1m1 0h1m-279 1h1m32 0h1m1 0h1m2 0h1m5 0h1m71 0h1m2 0h1m69 0h1m5 0h1m70 0h1m6 0h1m-281 1h1m3 0h1m0 0h1m38 0h1m4 0h1m69 0h1m79 0h1m78 0h1m2 0h1m4 0h1m-286 1h1m3 0h1m44 0h1m3 0h1m68 0h1m73 0h1m5 0h1m79 0h1m-280 1h1m41 0h1m0 0h1m72 0h1m2 0h1m0 0h1m30 0h1m39 0h1m118 0h1m-327 1h1m130 0h1m6 0h1m67 0h1m122 0h1m-328 1h1m127 0h1m2 0h1m3 0h1m19 0h1m45 0h1m118 0h1m-315 1h1m4 0h1m121 0h1m4 0h1m1 0h1m52 0h1m7 0h1m-199 1h1m135 0h1m5 0h1m1 0h1m11 0h1m36 0h1m129 0h1m3 0h1m-328 1h1m1 0h1m1 0h1m126 0h1m9 0h1m4 0h1m40 0h1m5 0h1m0 0h1m-197 1h1m2 0h1m144 0h1m36 0h1m9 0h1m129 0h1m-327 1h1m140 0h1m12 0h1m16 0h1m159 0h1m0 0h1m-185 1h1m7 0h1m11 0h1m7 0h1m17 0h1m132 0h1m0 0h1m2 0h1m-329 1h1m141 0h1m16 0h1m2 0h1m10 0h1m8 0h1m2 0h1m2 0h1m1 0h1m138 0h1m76 0h1m-417 1h1m4 0h1m0 0h1m149 0h1m13 0h1m5 0h1m12 0h1m147 0h1m-341 1h1m3 0h1m155 0h1m3 0h1m10 0h1m2 0h1m7 0h1m12 0h1m8 0h1m-209 1h1m170 0h1m7 0h1m8 0h1m2 0h1m7 0h1m0 0h1m217 0h1m-429 1h1m13 0h1m156 0h1m8 0h1m4 0h1m2 0h1m5 0h1m7 0h1m6 0h1m0 0h1m141 0h1m77 0h1m-421 1h1m6 0h1m168 0h1m5 0h1m3 0h1m-198 1h1m199 0h1m152 0h1m65 0h1m13 0h1m-426 1h1m171 0h1m4 0h1m24 0h1m144 0h1m0 0h1m52 0h1m11 0h1m4 0h1m2 0h1m2 0h1m-440 1h1m9 0h1m1 0h1m1 0h1m181 0h1m3 0h1m0 0h1m160 0h1m-353 1h1m2 0h1m0 0h1m349 0h1m8 0h1m30 0h1m17 0h1m3 0h1m2 0h1m2 0h1m11 0h1m1 0h1m-438 1h1m357 0h1m56 0h1m3 0h1m4 0h1m6 0h1m1 0h1m0 0h1m0 0h1m4 0h1m-442 1h1m8 0h1m348 0h1m47 0h1m5 0h1m19 0h1m6 0h1m3 0h1m-450 1h1m364 0h1m41 0h1m-407 1h1m2 0h1m5 0h1m366 0h1m2 0h1m7 0h1m41 0h1m9 0h1m2 0h1m2 0h1m-450 1h1m3 0h1m10 0h1m359 0h1m9 0h1m22 0h1m2 0h1m-420 1h1m12 0h1m366 0h1m11 0h1m7 0h1m13 0h1m12 0h1m3 0h1m0 0h1m8 0h1m408 0h1m-840 1h1m374 0h1m10 0h1m5 0h1m20 0h1m4 0h1m22 0h1m-64 1h1m8 0h1m24 0h1m34 0h1m1 0h1m1 0h1m1 0h1m-460 1h1m377 0h1m11 0h1m6 0h1m0 0h1m2 0h1m14 0h1m4 0h1m3 0h1m35 0h1m375 0h1m-842 1h1m4 0h1m387 0h1m4 0h1m7 0h1m17 0h1m3 0h1m35 0h1m1 0h1m0 0h1m-476 1h1m409 0h1m3 0h1m0 0h1m1 0h1m2 0h1m1 0h1m1 0h1m0 0h1m51 0h1m370 0h1m-847 1h1m12 0h1m392 0h1m3 0h1m6 0h1m3 0h1m4 0h1m41 0h1m390 0h1m-869 1h1m3 0h1m6 0h1m405 0h1m0 0h1m0 0h1m58 0h1m0 0h1m2 0h1m4 0h1m360 0h1m17 0h1m-896 1h1m447 0h1m0 0h1m0 0h1m59 0h1m1 0h1m3 0h1m2 0h1m-503 1h1m7 0h1m8 0h1m4 0h1m4 0h1m468 0h1m376 0h1m-863 1h1m13 0h1m477 0h1m361 0h1m0 0h1m0 0h1m2 0h1m9 0h1m1 0h1m-878 1h1m13 0h1m0 0h1m1 0h1m476 0h1m12 0h1m359 0h1m4 0h1m1 0h1m-878 1h1m9 0h1m1 0h1m0 0h1m0 0h1m5 0h1m479 0h1m1 0h1m7 0h1m6 0h1m342 0h1m-861 1h1m0 0h1m3 0h1m10 0h1m842 0h1m20 0h1m-882 1h1m2 0h1m1 0h1m3 0h1m483 0h1m21 0h1m5 0h1m368 0h1m-923 1h1m31 0h1m4 0h1m0 0h1m4 0h1m492 0h1m4 0h1m0 0h1m11 0h1m2 0h1m326 0h1m32 0h1m0 0h1m-913 1h1m9 0h1m1 0h1m0 0h1m10 0h1m1 0h1m0 0h1m3 0h1m500 0h1m1 0h1m0 0h1m6 0h1m10 0h1m4 0h1m253 0h1m66 0h1m1 0h1m31 0h1m-930 1h1m0 0h1m1 0h1m5 0h1m10 0h1m4 0h1m12 0h1m2 0h1m11 0h1m1 0h1m492 0h1m4 0h1m5 0h1m-566 1h1m11 0h1m7 0h1m9 0h1m4 0h1m2 0h1m512 0h1m7 0h1m3 0h1m0 0h1m2 0h1m11 0h1m233 0h1m4 0h1m20 0h1m50 0h1m-913 1h1m15 0h1m23 0h1m14 0h1m2 0h1m1 0h1m9 0h1m4 0h1m508 0h1m2 0h1m16 0h1m7 0h1m230 0h1m11 0h1m5 0h1m60 0h1m40 0h1m-967 1h1m6 0h1m12 0h1m4 0h1m0 0h1m3 0h1m25 0h1m9 0h1m5 0h1m514 0h1m0 0h1m9 0h1m11 0h1m240 0h1m0 0h1m8 0h1m102 0h1m-973 1h1m14 0h1m2 0h1m24 0h1m19 0h1m14 0h1m513 0h1m0 0h1m28 0h1m8 0h1m224 0h1m56 0h1m1 0h1m4 0h1m7 0h1m0 0h1m39 0h1m3 0h1m-973 1h1m5 0h1m12 0h1m6 0h1m14 0h1m12 0h1m1 0h1m9 0h1m525 0h1m14 0h1m7 0h1m0 0h1m13 0h1m11 0h1m205 0h1m1 0h1m0 0h1m7 0h1m8 0h1m4 0h1m60 0h1m-936 1h1m14 0h1m9 0h1m4 0h1m9 0h1m1 0h1m3 0h1m16 0h1m3 0h1m539 0h1m2 0h1m6 0h1m2 0h1m6 0h1m3 0h1m2 0h1m193 0h1m2 0h1m2 0h1m21 0h1m16 0h1m20 0h1m0 0h1m24 0h1m5 0h1m1 0h1m45 0h1m9 0h1m-972 1h1m3 0h1m0 0h1m19 0h1m1 0h1m3 0h1m2 0h1m2 0h1m5 0h1m2 0h1m554 0h1m1 0h1m8 0h1m2 0h1m3 0h1m6 0h1m197 0h1m6 0h1m6 0h1m6 0h1m15 0h1m22 0h1m29 0h1m43 0h1m7 0h1m-973 1h1m13 0h1m12 0h1m15 0h1m3 0h1m19 0h1m545 0h1m3 0h1m0 0h1m5 0h1m3 0h1m0 0h1m1 0h1m0 0h1m3 0h1m179 0h1m0 0h1m0 0h1m14 0h1m6 0h1m0 0h1m6 0h1m4 0h1m1 0h1m0 0h1m0 0h1m1 0h1m4 0h1m11 0h1m3 0h1m5 0h1m2 0h1m25 0h1m1 0h1m7 0h1m2 0h1m36 0h1m7 0h1m0 0h1m-982 1h1m2 0h1m0 0h1m10 0h1m8 0h1m0 0h1m31 0h1m565 0h1m13 0h1m3 0h1m0 0h1m2 0h1m0 0h1m4 0h1m173 0h1m6 0h1m8 0h1m2 0h1m22 0h1m2 0h1m2 0h1m6 0h1m11 0h1m9 0h1m8 0h1m1 0h1m14 0h1m42 0h1m5 0h1m3 0h1m3 0h1m4 0h1m6 0h1m5 0h1m-1002 1h1m4 0h1m4 0h1m610 0h1m0 0h1m2 0h1m3 0h1m2 0h1m8 0h1m4 0h1m167 0h1m7 0h1m4 0h1m5 0h1m0 0h1m3 0h1m1 0h1m0 0h1m19 0h1m9 0h1m12 0h1m0 0h1m4 0h1m26 0h1m1 0h1m62 0h1m2 0h1m2 0h1m3 0h1m7 0h1m8 0h1m1 0h1m-1007 1h1m1 0h1m17 0h1m6 0h1m0 0h1m16 0h1m567 0h1m8 0h1m3 0h1m15 0h1m1 0h1m174 0h1m2 0h1m4 0h1m13 0h1m2 0h1m34 0h1m2 0h1m23 0h1m12 0h1m55 0h1m10 0h1m4 0h1m6 0h1m-1003 1h1m0 0h1m613 0h1m14 0h1m11 0h1m0 0h1m182 0h1m46 0h1m4 0h1m3 0h1m8 0h1m2 0h1m4 0h1m11 0h1m7 0h1m66 0h1m1 0h1m13 0h1m17 0h1m5 0h1m-1023 1h1m634 0h1m2 0h1m1 0h1m6 0h1m166 0h1m22 0h1m61 0h1m3 0h1m2 0h1m73 0h1m7 0h1m22 0h1m1 0h1m2 0h1m5 0h1m0 0h1m5 0h1m-407 1h1m28 0h1m158 0h1m6 0h1m7 0h1m9 0h1m26 0h1m30 0h1m2 0h1m5 0h1m66 0h1m13 0h1m4 0h1m2 0h1m14 0h1m1 0h1m2 0h1m1 0h1m6 0h1m17 0h1m-1045 1h1m648 0h1m3 0h1m8 0h1m154 0h1m0 0h1m12 0h1m3 0h1m3 0h1m147 0h1m0 0h1m10 0h1m21 0h1m16 0h1m-392 1h1m169 0h1m182 0h1m11 0h1m3 0h1m10 0h1m7 0h1m-228 1h1m5 0h1m9 0h1m186 0h1m16 0h1m13 0h1m1 0h1m2 0h1m7 0h1m-406 1h1m163 0h1m191 0h1m14 0h1m3 0h1m1 0h1m2 0h1m12 0h1m1 0h1m5 0h1m1 0h1m6 0h1m13 0h1m-271 1h1m9 0h1m196 0h1m2 0h1m5 0h1m6 0h1m5 0h1m5 0h1m12 0h1m4 0h1m-405 1h1m0 0h1m6 0h1m146 0h1m0 0h1m8 0h1m202 0h1m0 0h1m3 0h1m2 0h1m9 0h1m2 0h1m0 0h1m5 0h1m-396 1h1m158 0h1m0 0h1m221 0h1m6 0h1m3 0h1m6 0h1m2 0h1m1 0h1m33 0h1m-440 1h1m3 0h1m4 0h1m133 0h1m1 0h1m7 0h1m220 0h1m0 0h1m6 0h1m7 0h1m1 0h1m6 0h1m0 0h1m8 0h1m-409 1h1m151 0h1m0 0h1m0 0h1m214 0h1m15 0h1m8 0h1m1 0h1m1 0h1m2 0h1m12 0h1m-272 1h1m7 0h1m3 0h1m227 0h1m1 0h1m0 0h1m2 0h1m4 0h1m3 0h1m1 0h1m14 0h1m-405 1h1m143 0h1m227 0h1m7 0h1m2 0h1m15 0h1m0 0h1m2 0h1m12 0h1m-418 1h1m139 0h1m240 0h1m5 0h1m0 0h1m3 0h1m0 0h1m1 0h1m6 0h1m3 0h1m0 0h1m3 0h1m0 0h1m6 0h1m12 0h1m-434 1h1m130 0h1m2 0h1m262 0h1m9 0h1m0 0h1m0 0h1m3 0h1m0 0h1m5 0h1m1 0h1m0 0h1m-421 1h1m1 0h1m123 0h1m7 0h1m259 0h1m9 0h1m2 0h1m12 0h1m-415 1h1m384 0h1m8 0h1m12 0h1m7 0h1m1 0h1m12 0h1m12 0h1m-448 1h1m1 0h1m122 0h1m293 0h1m0 0h1m2 0h1m6 0h1m10 0h1m-443 1h1m1 0h1m2 0h1m7 0h1m113 0h1m2 0h1m3 0h1m274 0h1m3 0h1m5 0h1m7 0h1m7 0h1m30 0h1m-454 1h1m106 0h1m8 0h1m287 0h1m0 0h1m5 0h1m-422 1h1m0 0h1m111 0h1m8 0h1m0 0h1m272 0h1m26 0h1m1 0h1m0 0h1m3 0h1m30 0h1m-461 1h1m2 0h1m99 0h1m9 0h1m299 0h1m35 0h1m14 0h1m-465 1h1m1 0h1m0 0h1m4 0h1m13 0h1m93 0h1m309 0h1m7 0h1m0 0h1m4 0h1m3 0h1m8 0h1m5 0h1m-460 1h1m4 0h1m0 0h1m12 0h1m94 0h1m3 0h1m307 0h1m16 0h1m0 0h1m5 0h1m2 0h1m9 0h1m2 0h1m8 0h1m1 0h1m-462 1h1m80 0h1m14 0h1m0 0h1m316 0h1m9 0h1m9 0h1m3 0h1m-444 1h1m88 0h1m0 0h1m1 0h1m4 0h1m1 0h1m343 0h1m2 0h1m0 0h1m-449 1h1m2 0h1m0 0h1m1 0h1m2 0h1m2 0h1m1 0h1m40 0h1m26 0h1m359 0h1m1 0h1m6 0h1m4 0h1m8 0h1m18 0h1m-482 1h1m76 0h1m13 0h1m2 0h1m6 0h1m346 0h1m1 0h1m5 0h1m0 0h1m3 0h1m4 0h1m5 0h1m8 0h1m-482 1h1m0 0h1m5 0h1m15 0h1m54 0h1m5 0h1m2 0h1m3 0h1m0 0h1m357 0h1m9 0h1m8 0h1m3 0h1m10 0h1m-473 1h1m12 0h1m3 0h1m18 0h1m37 0h1m0 0h1m2 0h1m366 0h1m12 0h1m12 0h1m-482 1h1m20 0h1m0 0h1m4 0h1m13 0h1m40 0h1m0 0h1m5 0h1m1 0h1m360 0h1m0 0h1m6 0h1m3 0h1m0 0h1m0 0h1m7 0h1m20 0h1m-493 1h1m1 0h1m3 0h1m10 0h1m0 0h1m11 0h1m9 0h1m5 0h1m14 0h1m20 0h1m1 0h1m365 0h1m3 0h1m6 0h1m8 0h1m5 0h1m1 0h1m-465 1h1m1 0h1m1 0h1m1 0h1m3 0h1m14 0h1m26 0h1m1 0h1m0 0h1m3 0h1m6 0h1m372 0h1m2 0h1m15 0h1m4 0h1m1 0h1m4 0h1m2 0h1m-481 1h1m3 0h1m27 0h1m9 0h1m12 0h1m2 0h1m7 0h1m1 0h1m7 0h1m373 0h1m2 0h1m24 0h1m-469 1h1m2 0h1m0 0h1m14 0h1m0 0h1m10 0h1m5 0h1m13 0h1m1 0h1m8 0h1m413 0h1m1 0h1m-475 1h1m5 0h1m9 0h1m8 0h1m12 0h1m0 0h1m1 0h1m411 0h1m7 0h1m3 0h1m1 0h1m-469 1h1m5 0h1m4 0h1m1 0h1m2 0h1m6 0h1m2 0h1m9 0h1m2 0h1m12 0h1m5 0h1m391 0h1m11 0h1m6 0h1m0 0h1m4 0h1m-452 1h1m1 0h1m0 0h1m0 0h1m0 0h1m15 0h1m412 0h1m12 0h1m-453 1h1m10 0h1m9 0h1m0 0h1m419 0h1m1 0h1m0 0h1m-440 1h1m13 0h1m-20 1h1m3 0h1m7 0h1m-21 1h1m11 0h1" stroke="#0000ff" stroke-width="2.4" stroke-opacity="0.7" stroke-linecap="round" fill="none"/>
<path d="M128.33 1196.40v-6.2M128.33 881.50v6.2M195.97 1196.40v-6.2M195.97 881.50v6.2M263.60 1196.40v-6.2M263.60 881.50v6.2M331.23 1196.40v-6.2M331.23 881.50v6.2M398.87 1196.40v-6.2M398.87 881.50v6.2M466.50 1196.40v-6.2M466.50 881.50v6.2M534.13 1196.40v-6.2M534.13 881.50v6.2M601.77 1196.40v-6.2M601.77 881.50v6.2M60.70 1151.41h6.2M669.40 1151.41h-6.2M60.70 1106.43h6.2M669.40 1106.43h-6.2M60.70 1061.44h6.2M669.40 1061.44h-6.2M60.70 1016.46h6.2M669.40 1016.46h-6.2M60.70 971.47h6.2M669.40 971.47h-6.2M60.70 926.49h6.2M669.40 926.49h-6.2" stroke="#575757" stroke-width="1.25" fill="none"/>
<rect x="60.70" y="881.50" width="608.70" height="314.90" stroke="#575757" stroke-width="1.4" fill="none"/>
<text transform="translate(60.70 1215.10) scale(1 1.08)" class="tk" text-anchor="middle">0</text>
<text transform="translate(128.33 1215.10) scale(1 1.08)" class="tk" text-anchor="middle">500</text>
<text transform="translate(195.97 1215.10) scale(1 1.08)" class="tk" text-anchor="middle">1000</text>
<text transform="translate(263.60 1215.10) scale(1 1.08)" class="tk" text-anchor="middle">1500</text>
<text transform="translate(331.23 1215.10) scale(1 1.08)" class="tk" text-anchor="middle">2000</text>
<text transform="translate(398.87 1215.10) scale(1 1.08)" class="tk" text-anchor="middle">2500</text>
<text transform="translate(466.50 1215.10) scale(1 1.08)" class="tk" text-anchor="middle">3000</text>
<text transform="translate(534.13 1215.10) scale(1 1.08)" class="tk" text-anchor="middle">3500</text>
<text transform="translate(601.77 1215.10) scale(1 1.08)" class="tk" text-anchor="middle">4000</text>
<text transform="translate(669.40 1215.10) scale(1 1.08)" class="tk" text-anchor="middle">4500</text>
<text transform="translate(56.40 1200.90) scale(1 1.08)" class="tk" text-anchor="end">300</text>
<text transform="translate(56.40 1155.91) scale(1 1.08)" class="tk" text-anchor="end">400</text>
<text transform="translate(56.40 1110.93) scale(1 1.08)" class="tk" text-anchor="end">500</text>
<text transform="translate(56.40 1065.94) scale(1 1.08)" class="tk" text-anchor="end">600</text>
<text transform="translate(56.40 1020.96) scale(1 1.08)" class="tk" text-anchor="end">700</text>
<text transform="translate(56.40 975.97) scale(1 1.08)" class="tk" text-anchor="end">800</text>
<text transform="translate(56.40 930.99) scale(1 1.08)" class="tk" text-anchor="end">900</text>
<text transform="translate(56.40 886.00) scale(1 1.08)" class="tk" text-anchor="end">1000</text>
<text x="365.20" y="874.00" class="tt" style="font-size:14.55px" text-anchor="middle">The original data of Changbaishan Area</text>
<text x="365.40" y="1234.00" class="al" style="font-size:14.65px" text-anchor="middle">Distance Along Track (m)</text>
<text transform="translate(20.90 1039.50) rotate(-90)" class="al" style="font-size:14.35px" text-anchor="middle">Height (m)</text>
<rect x="517.9" y="886.7" width="145.9" height="19.3" fill="#fff" stroke="#575757" stroke-width="1.1"/>
<circle cx="529.8" cy="896.8" r="4" fill="#0000ff"/>
<text x="542.7" y="899.5" class="lg" textLength="119.1" lengthAdjust="spacingAndGlyphs">Original Point Cloud</text>
<text x="343.6" y="1259.8" class="cap" style="font-size:21.3px" text-anchor="middle"><tspan class="par">(</tspan>c<tspan class="par">)</tspan></text>
</svg>
</body></html>
